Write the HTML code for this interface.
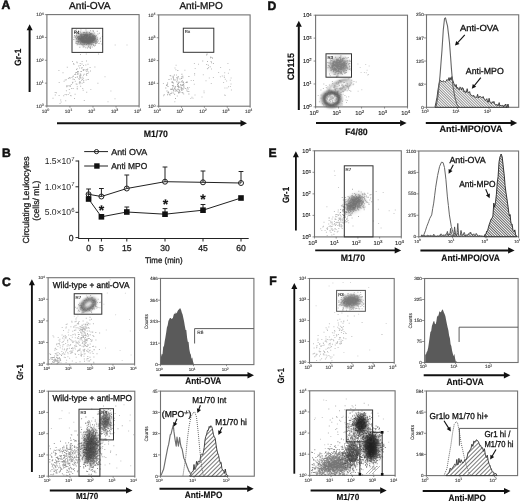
<!DOCTYPE html>
<html><head><meta charset="utf-8"><style>
html,body{margin:0;padding:0;background:#fff;}
svg{display:block;font-family:"Liberation Sans", sans-serif;filter:grayscale(1);text-rendering:geometricPrecision;}
</style></head><body>
<svg width="520" height="502" viewBox="0 0 520 502">
<defs><filter id="b5" x="-50%" y="-50%" width="200%" height="200%"><feGaussianBlur stdDeviation="0.5"/></filter><filter id="b8" x="-50%" y="-50%" width="200%" height="200%"><feGaussianBlur stdDeviation="0.8"/></filter><filter id="b10" x="-50%" y="-50%" width="200%" height="200%"><feGaussianBlur stdDeviation="1.0"/></filter><filter id="b15" x="-50%" y="-50%" width="200%" height="200%"><feGaussianBlur stdDeviation="1.5"/></filter><filter id="b18" x="-50%" y="-50%" width="200%" height="200%"><feGaussianBlur stdDeviation="1.8"/></filter><filter id="b20" x="-50%" y="-50%" width="200%" height="200%"><feGaussianBlur stdDeviation="2.0"/></filter><filter id="b25" x="-50%" y="-50%" width="200%" height="200%"><feGaussianBlur stdDeviation="2.5"/></filter><filter id="b30" x="-50%" y="-50%" width="200%" height="200%"><feGaussianBlur stdDeviation="3.0"/></filter><filter id="b40" x="-50%" y="-50%" width="200%" height="200%"><feGaussianBlur stdDeviation="4.0"/></filter><pattern id="hA" width="3" height="3" patternUnits="userSpaceOnUse" patternTransform="rotate(45)"><rect width="3" height="3" fill="#fff"/><line x1="0.5" y1="0" x2="0.5" y2="3" stroke="#555" stroke-width="0.8"/></pattern><pattern id="hB" width="1.9" height="1.9" patternUnits="userSpaceOnUse" patternTransform="rotate(-45)"><rect width="1.9" height="1.9" fill="#fff"/><line x1="0.5" y1="0" x2="0.5" y2="1.9" stroke="#666" stroke-width="0.7"/></pattern><pattern id="hC" width="1.9" height="1.9" patternUnits="userSpaceOnUse" patternTransform="rotate(-45)"><rect width="1.9" height="1.9" fill="#fff"/><line x1="0.5" y1="0" x2="0.5" y2="1.9" stroke="#444" stroke-width="0.8"/></pattern></defs>
<rect width="520" height="502" fill="#fff"/>
<text x="1.4" y="9.4" font-size="12.2" font-weight="bold" text-anchor="start" fill="#111" stroke="#111" stroke-width="0.5">A</text>
<text x="2" y="157" font-size="12.2" font-weight="bold" text-anchor="start" fill="#111" stroke="#111" stroke-width="0.5">B</text>
<text x="2" y="286.2" font-size="12.2" font-weight="bold" text-anchor="start" fill="#111" stroke="#111" stroke-width="0.5">C</text>
<text x="267.6" y="10" font-size="12.2" font-weight="bold" text-anchor="start" fill="#111" stroke="#111" stroke-width="0.5">D</text>
<text x="268.5" y="156.8" font-size="12.2" font-weight="bold" text-anchor="start" fill="#111" stroke="#111" stroke-width="0.5">E</text>
<text x="269.3" y="284.8" font-size="12.2" font-weight="bold" text-anchor="start" fill="#111" stroke="#111" stroke-width="0.5">F</text>
<text x="69" y="8.6" font-size="10" text-anchor="start" fill="#111" textLength="41.5" lengthAdjust="spacingAndGlyphs" stroke="#111" stroke-width="0.3">Anti-OVA</text>
<text x="179.4" y="8.6" font-size="10" text-anchor="start" fill="#111" textLength="43.3" lengthAdjust="spacingAndGlyphs" stroke="#111" stroke-width="0.3">Anti-MPO</text>
<rect x="46.9" y="14.6" width="92.2" height="91.4" fill="none" stroke="#727272" stroke-width="1.1"/>
<rect x="158.7" y="14.9" width="91.4" height="91.3" fill="none" stroke="#727272" stroke-width="1.1"/>
<text x="43.699999999999996" y="16.376" font-size="4.8" fill="#3a3a3a" stroke="#3a3a3a" stroke-width="0.12" text-anchor="end">10<tspan font-size="3.6" dy="-1.44">4</tspan></text>
<line x1="44.9" y1="14.6" x2="46.9" y2="14.6" stroke="#666" stroke-width="0.7"/>
<text x="43.699999999999996" y="39.226000000000006" font-size="4.8" fill="#3a3a3a" stroke="#3a3a3a" stroke-width="0.12" text-anchor="end">10<tspan font-size="3.6" dy="-1.44">3</tspan></text>
<line x1="44.9" y1="37.45" x2="46.9" y2="37.45" stroke="#666" stroke-width="0.7"/>
<text x="43.699999999999996" y="62.07600000000001" font-size="4.8" fill="#3a3a3a" stroke="#3a3a3a" stroke-width="0.12" text-anchor="end">10<tspan font-size="3.6" dy="-1.44">2</tspan></text>
<line x1="44.9" y1="60.300000000000004" x2="46.9" y2="60.300000000000004" stroke="#666" stroke-width="0.7"/>
<text x="43.699999999999996" y="84.926" font-size="4.8" fill="#3a3a3a" stroke="#3a3a3a" stroke-width="0.12" text-anchor="end">10<tspan font-size="3.6" dy="-1.44">1</tspan></text>
<line x1="44.9" y1="83.15" x2="46.9" y2="83.15" stroke="#666" stroke-width="0.7"/>
<text x="43.699999999999996" y="107.776" font-size="4.8" fill="#3a3a3a" stroke="#3a3a3a" stroke-width="0.12" text-anchor="end">10<tspan font-size="3.6" dy="-1.44">0</tspan></text>
<line x1="44.9" y1="106.0" x2="46.9" y2="106.0" stroke="#666" stroke-width="0.7"/>
<text x="155.5" y="16.676000000000002" font-size="4.8" fill="#3a3a3a" stroke="#3a3a3a" stroke-width="0.12" text-anchor="end">10<tspan font-size="3.6" dy="-1.44">4</tspan></text>
<line x1="156.7" y1="14.9" x2="158.7" y2="14.9" stroke="#666" stroke-width="0.7"/>
<text x="155.5" y="39.501000000000005" font-size="4.8" fill="#3a3a3a" stroke="#3a3a3a" stroke-width="0.12" text-anchor="end">10<tspan font-size="3.6" dy="-1.44">3</tspan></text>
<line x1="156.7" y1="37.725" x2="158.7" y2="37.725" stroke="#666" stroke-width="0.7"/>
<text x="155.5" y="62.326" font-size="4.8" fill="#3a3a3a" stroke="#3a3a3a" stroke-width="0.12" text-anchor="end">10<tspan font-size="3.6" dy="-1.44">2</tspan></text>
<line x1="156.7" y1="60.55" x2="158.7" y2="60.55" stroke="#666" stroke-width="0.7"/>
<text x="155.5" y="85.151" font-size="4.8" fill="#3a3a3a" stroke="#3a3a3a" stroke-width="0.12" text-anchor="end">10<tspan font-size="3.6" dy="-1.44">1</tspan></text>
<line x1="156.7" y1="83.375" x2="158.7" y2="83.375" stroke="#666" stroke-width="0.7"/>
<text x="155.5" y="107.976" font-size="4.8" fill="#3a3a3a" stroke="#3a3a3a" stroke-width="0.12" text-anchor="end">10<tspan font-size="3.6" dy="-1.44">0</tspan></text>
<line x1="156.7" y1="106.2" x2="158.7" y2="106.2" stroke="#666" stroke-width="0.7"/>
<text x="45.46" y="112.576" font-size="4.8" fill="#3a3a3a" stroke="#3a3a3a" stroke-width="0.12" text-anchor="middle">10<tspan font-size="3.6" dy="-1.44">0</tspan></text>
<line x1="46.9" y1="106" x2="46.9" y2="107.6" stroke="#666" stroke-width="0.7"/>
<text x="68.50999999999999" y="112.576" font-size="4.8" fill="#3a3a3a" stroke="#3a3a3a" stroke-width="0.12" text-anchor="middle">10<tspan font-size="3.6" dy="-1.44">1</tspan></text>
<line x1="69.94999999999999" y1="106" x2="69.94999999999999" y2="107.6" stroke="#666" stroke-width="0.7"/>
<text x="91.56" y="112.576" font-size="4.8" fill="#3a3a3a" stroke="#3a3a3a" stroke-width="0.12" text-anchor="middle">10<tspan font-size="3.6" dy="-1.44">2</tspan></text>
<line x1="93.0" y1="106" x2="93.0" y2="107.6" stroke="#666" stroke-width="0.7"/>
<text x="114.60999999999999" y="112.576" font-size="4.8" fill="#3a3a3a" stroke="#3a3a3a" stroke-width="0.12" text-anchor="middle">10<tspan font-size="3.6" dy="-1.44">3</tspan></text>
<line x1="116.04999999999998" y1="106" x2="116.04999999999998" y2="107.6" stroke="#666" stroke-width="0.7"/>
<text x="137.66" y="112.576" font-size="4.8" fill="#3a3a3a" stroke="#3a3a3a" stroke-width="0.12" text-anchor="middle">10<tspan font-size="3.6" dy="-1.44">4</tspan></text>
<line x1="139.1" y1="106" x2="139.1" y2="107.6" stroke="#666" stroke-width="0.7"/>
<text x="157.26" y="112.576" font-size="4.8" fill="#3a3a3a" stroke="#3a3a3a" stroke-width="0.12" text-anchor="middle">10<tspan font-size="3.6" dy="-1.44">0</tspan></text>
<line x1="158.7" y1="106.2" x2="158.7" y2="107.8" stroke="#666" stroke-width="0.7"/>
<text x="180.10999999999999" y="112.576" font-size="4.8" fill="#3a3a3a" stroke="#3a3a3a" stroke-width="0.12" text-anchor="middle">10<tspan font-size="3.6" dy="-1.44">1</tspan></text>
<line x1="181.54999999999998" y1="106.2" x2="181.54999999999998" y2="107.8" stroke="#666" stroke-width="0.7"/>
<text x="202.95999999999998" y="112.576" font-size="4.8" fill="#3a3a3a" stroke="#3a3a3a" stroke-width="0.12" text-anchor="middle">10<tspan font-size="3.6" dy="-1.44">2</tspan></text>
<line x1="204.39999999999998" y1="106.2" x2="204.39999999999998" y2="107.8" stroke="#666" stroke-width="0.7"/>
<text x="225.81" y="112.576" font-size="4.8" fill="#3a3a3a" stroke="#3a3a3a" stroke-width="0.12" text-anchor="middle">10<tspan font-size="3.6" dy="-1.44">3</tspan></text>
<line x1="227.25" y1="106.2" x2="227.25" y2="107.8" stroke="#666" stroke-width="0.7"/>
<text x="248.66" y="112.576" font-size="4.8" fill="#3a3a3a" stroke="#3a3a3a" stroke-width="0.12" text-anchor="middle">10<tspan font-size="3.6" dy="-1.44">4</tspan></text>
<line x1="250.1" y1="106.2" x2="250.1" y2="107.8" stroke="#666" stroke-width="0.7"/>
<line x1="29.6" y1="29.8" x2="29.6" y2="92" stroke="#111" stroke-width="2"/>
<path d="M26.6,30.3 L29.6,24.3 L32.6,30.3 Z" fill="#111"/>
<text x="21.3" y="57.2" font-size="9.2" font-weight="bold" text-anchor="middle" fill="#111" textLength="17" lengthAdjust="spacingAndGlyphs" transform="rotate(-90 21.3 57.2)" stroke="#111" stroke-width="0.15">Gr-1</text>
<line x1="57" y1="123.3" x2="241.0" y2="123.3" stroke="#111" stroke-width="2"/>
<path d="M240.5,120.1 L247,123.3 L240.5,126.5 Z" fill="#111"/>
<text x="143.7" y="136.7" font-size="9.4" font-weight="bold" text-anchor="start" fill="#111" textLength="24.3" lengthAdjust="spacingAndGlyphs" stroke="#111" stroke-width="0.15">M1/70</text>
<ellipse cx="86.5" cy="38.8" rx="10.5" ry="6.3" fill="#6e6e6e" fill-opacity="0.9" transform="rotate(0 86.5 38.8)" filter="url(#b18)"/>
<path d="M85.1 40.4h1.0v1.0h-1.0zM85.2 37.7h1.0v1.0h-1.0zM81.3 37.8h1.0v1.0h-1.0zM92.7 40.6h1.0v1.0h-1.0zM92.3 40.0h1.0v1.0h-1.0zM88.7 39.6h1.0v1.0h-1.0zM77.2 41.1h1.0v1.0h-1.0zM89.3 40.7h1.0v1.0h-1.0zM77.0 32.3h1.0v1.0h-1.0zM81.5 36.9h1.0v1.0h-1.0zM88.2 38.7h1.0v1.0h-1.0zM89.4 36.8h1.0v1.0h-1.0zM88.2 40.2h1.0v1.0h-1.0zM82.8 44.4h1.0v1.0h-1.0zM89.6 43.0h1.0v1.0h-1.0zM83.0 36.1h1.0v1.0h-1.0zM84.6 38.3h1.0v1.0h-1.0zM90.0 39.9h1.0v1.0h-1.0zM84.0 35.4h1.0v1.0h-1.0zM83.6 42.8h1.0v1.0h-1.0zM82.0 39.4h1.0v1.0h-1.0zM88.9 33.9h1.0v1.0h-1.0zM86.8 43.2h1.0v1.0h-1.0zM75.2 37.0h1.0v1.0h-1.0zM85.9 36.0h1.0v1.0h-1.0zM89.3 38.8h1.0v1.0h-1.0zM78.3 41.1h1.0v1.0h-1.0zM90.2 42.2h1.0v1.0h-1.0zM94.6 40.5h1.0v1.0h-1.0zM87.2 34.4h1.0v1.0h-1.0zM89.9 36.9h1.0v1.0h-1.0zM84.0 34.4h1.0v1.0h-1.0zM81.1 36.7h1.0v1.0h-1.0zM93.7 32.4h1.0v1.0h-1.0zM78.3 39.1h1.0v1.0h-1.0zM94.6 41.2h1.0v1.0h-1.0zM75.9 29.6h1.0v1.0h-1.0zM88.5 36.4h1.0v1.0h-1.0zM80.2 41.7h1.0v1.0h-1.0zM92.7 39.7h1.0v1.0h-1.0zM87.9 40.4h1.0v1.0h-1.0zM95.4 41.4h1.0v1.0h-1.0zM89.4 40.8h1.0v1.0h-1.0zM77.7 42.6h1.0v1.0h-1.0zM91.8 40.9h1.0v1.0h-1.0zM75.4 36.0h1.0v1.0h-1.0zM91.2 33.0h1.0v1.0h-1.0zM85.5 42.2h1.0v1.0h-1.0zM79.2 43.8h1.0v1.0h-1.0zM89.6 38.5h1.0v1.0h-1.0zM88.3 41.1h1.0v1.0h-1.0zM87.2 42.7h1.0v1.0h-1.0zM82.8 37.2h1.0v1.0h-1.0zM92.3 39.2h1.0v1.0h-1.0zM81.6 41.7h1.0v1.0h-1.0zM94.7 37.8h1.0v1.0h-1.0zM78.8 37.9h1.0v1.0h-1.0zM85.7 37.7h1.0v1.0h-1.0zM94.4 35.8h1.0v1.0h-1.0zM93.6 34.9h1.0v1.0h-1.0zM82.1 40.7h1.0v1.0h-1.0zM92.8 42.1h1.0v1.0h-1.0zM88.4 39.4h1.0v1.0h-1.0zM87.4 40.8h1.0v1.0h-1.0zM85.5 39.7h1.0v1.0h-1.0zM89.7 39.0h1.0v1.0h-1.0zM90.8 41.0h1.0v1.0h-1.0zM97.8 40.6h1.0v1.0h-1.0zM84.1 37.4h1.0v1.0h-1.0zM86.4 41.9h1.0v1.0h-1.0zM84.6 40.0h1.0v1.0h-1.0zM96.8 30.7h1.0v1.0h-1.0zM80.2 39.2h1.0v1.0h-1.0zM88.7 39.7h1.0v1.0h-1.0zM84.1 40.9h1.0v1.0h-1.0zM88.1 37.1h1.0v1.0h-1.0zM100.1 40.8h1.0v1.0h-1.0zM83.4 38.3h1.0v1.0h-1.0zM85.2 38.5h1.0v1.0h-1.0zM92.1 35.2h1.0v1.0h-1.0zM86.1 42.0h1.0v1.0h-1.0zM91.3 44.1h1.0v1.0h-1.0zM77.0 37.0h1.0v1.0h-1.0zM84.6 40.8h1.0v1.0h-1.0zM92.6 30.1h1.0v1.0h-1.0zM92.6 34.3h1.0v1.0h-1.0zM90.3 34.0h1.0v1.0h-1.0zM87.5 42.9h1.0v1.0h-1.0zM85.7 39.4h1.0v1.0h-1.0zM91.0 39.5h1.0v1.0h-1.0zM86.0 44.0h1.0v1.0h-1.0zM92.4 38.2h1.0v1.0h-1.0zM101.9 35.9h1.0v1.0h-1.0zM91.6 38.2h1.0v1.0h-1.0zM87.2 41.2h1.0v1.0h-1.0zM87.7 41.0h1.0v1.0h-1.0zM77.9 33.2h1.0v1.0h-1.0zM89.9 35.8h1.0v1.0h-1.0zM80.8 33.5h1.0v1.0h-1.0zM93.6 41.8h1.0v1.0h-1.0zM94.7 36.1h1.0v1.0h-1.0zM86.5 34.9h1.0v1.0h-1.0zM90.8 44.4h1.0v1.0h-1.0zM81.5 43.8h1.0v1.0h-1.0zM92.0 38.5h1.0v1.0h-1.0zM75.5 42.9h1.0v1.0h-1.0zM86.0 36.7h1.0v1.0h-1.0zM88.7 40.3h1.0v1.0h-1.0zM94.9 35.9h1.0v1.0h-1.0zM92.9 44.2h1.0v1.0h-1.0zM94.6 38.7h1.0v1.0h-1.0zM82.3 42.0h1.0v1.0h-1.0zM87.1 39.3h1.0v1.0h-1.0zM94.5 38.4h1.0v1.0h-1.0zM73.6 36.7h1.0v1.0h-1.0zM76.1 40.9h1.0v1.0h-1.0zM88.3 36.8h1.0v1.0h-1.0zM86.4 41.6h1.0v1.0h-1.0zM86.9 43.3h1.0v1.0h-1.0zM86.2 42.3h1.0v1.0h-1.0zM94.9 44.8h1.0v1.0h-1.0zM82.7 41.5h1.0v1.0h-1.0zM76.0 34.5h1.0v1.0h-1.0zM75.5 41.7h1.0v1.0h-1.0zM79.6 38.3h1.0v1.0h-1.0zM85.4 38.6h1.0v1.0h-1.0zM83.2 39.4h1.0v1.0h-1.0zM96.5 39.6h1.0v1.0h-1.0zM89.5 42.4h1.0v1.0h-1.0zM85.4 34.5h1.0v1.0h-1.0zM83.4 42.2h1.0v1.0h-1.0zM77.3 36.2h1.0v1.0h-1.0zM92.1 41.8h1.0v1.0h-1.0zM86.5 41.5h1.0v1.0h-1.0zM87.4 34.9h1.0v1.0h-1.0zM77.7 36.1h1.0v1.0h-1.0zM91.7 37.2h1.0v1.0h-1.0zM81.4 35.9h1.0v1.0h-1.0zM77.9 37.9h1.0v1.0h-1.0zM79.9 39.6h1.0v1.0h-1.0zM73.3 39.1h1.0v1.0h-1.0zM82.9 32.0h1.0v1.0h-1.0zM90.6 38.1h1.0v1.0h-1.0zM74.0 35.1h1.0v1.0h-1.0zM88.1 37.3h1.0v1.0h-1.0zM90.9 41.6h1.0v1.0h-1.0zM90.2 40.1h1.0v1.0h-1.0zM94.0 41.5h1.0v1.0h-1.0zM89.0 31.9h1.0v1.0h-1.0zM91.5 43.5h1.0v1.0h-1.0zM84.8 37.1h1.0v1.0h-1.0zM97.4 33.5h1.0v1.0h-1.0zM89.1 47.2h1.0v1.0h-1.0zM81.3 40.8h1.0v1.0h-1.0zM97.1 39.0h1.0v1.0h-1.0zM89.6 42.0h1.0v1.0h-1.0zM81.4 38.2h1.0v1.0h-1.0zM88.1 41.7h1.0v1.0h-1.0zM86.3 38.1h1.0v1.0h-1.0zM80.8 37.2h1.0v1.0h-1.0zM91.5 39.4h1.0v1.0h-1.0zM81.7 35.7h1.0v1.0h-1.0zM101.4 43.6h1.0v1.0h-1.0zM90.1 30.2h1.0v1.0h-1.0zM90.0 40.6h1.0v1.0h-1.0zM95.9 40.8h1.0v1.0h-1.0zM86.1 40.5h1.0v1.0h-1.0zM75.6 41.6h1.0v1.0h-1.0zM88.3 36.5h1.0v1.0h-1.0zM93.9 45.4h1.0v1.0h-1.0zM78.6 36.1h1.0v1.0h-1.0zM88.1 39.5h1.0v1.0h-1.0zM84.3 35.4h1.0v1.0h-1.0zM98.4 43.0h1.0v1.0h-1.0zM79.8 33.8h1.0v1.0h-1.0zM96.0 42.7h1.0v1.0h-1.0zM96.7 42.2h1.0v1.0h-1.0zM81.6 39.4h1.0v1.0h-1.0zM74.4 35.5h1.0v1.0h-1.0zM86.2 40.5h1.0v1.0h-1.0zM82.4 38.1h1.0v1.0h-1.0zM89.1 40.2h1.0v1.0h-1.0zM90.1 39.7h1.0v1.0h-1.0zM84.7 41.4h1.0v1.0h-1.0zM86.8 36.0h1.0v1.0h-1.0zM83.0 38.6h1.0v1.0h-1.0zM85.9 39.3h1.0v1.0h-1.0zM86.5 39.4h1.0v1.0h-1.0zM85.7 34.5h1.0v1.0h-1.0zM88.9 42.5h1.0v1.0h-1.0zM88.9 38.3h1.0v1.0h-1.0zM89.0 35.7h1.0v1.0h-1.0zM75.9 38.4h1.0v1.0h-1.0zM81.3 41.0h1.0v1.0h-1.0zM80.4 29.5h1.0v1.0h-1.0zM80.7 43.8h1.0v1.0h-1.0zM84.4 34.0h1.0v1.0h-1.0zM82.2 40.3h1.0v1.0h-1.0zM89.3 39.6h1.0v1.0h-1.0zM94.8 41.7h1.0v1.0h-1.0zM86.4 40.8h1.0v1.0h-1.0zM95.8 42.6h1.0v1.0h-1.0zM92.2 35.5h1.0v1.0h-1.0zM85.7 41.2h1.0v1.0h-1.0zM84.8 42.3h1.0v1.0h-1.0zM89.8 42.1h1.0v1.0h-1.0zM85.3 47.3h1.0v1.0h-1.0zM93.4 38.5h1.0v1.0h-1.0zM87.0 47.6h1.0v1.0h-1.0zM84.6 41.6h1.0v1.0h-1.0zM92.0 39.2h1.0v1.0h-1.0zM80.0 39.0h1.0v1.0h-1.0zM88.5 42.7h1.0v1.0h-1.0zM90.9 39.1h1.0v1.0h-1.0zM91.3 40.9h1.0v1.0h-1.0zM87.7 39.1h1.0v1.0h-1.0zM85.1 41.0h1.0v1.0h-1.0zM80.6 36.3h1.0v1.0h-1.0zM86.5 33.8h1.0v1.0h-1.0zM84.1 31.9h1.0v1.0h-1.0zM82.7 40.5h1.0v1.0h-1.0zM89.7 38.8h1.0v1.0h-1.0zM85.2 33.9h1.0v1.0h-1.0zM96.7 41.2h1.0v1.0h-1.0zM92.6 36.2h1.0v1.0h-1.0zM85.5 32.6h1.0v1.0h-1.0zM90.9 42.2h1.0v1.0h-1.0zM75.9 38.0h1.0v1.0h-1.0zM90.0 33.1h1.0v1.0h-1.0zM76.3 34.6h1.0v1.0h-1.0zM83.0 33.8h1.0v1.0h-1.0zM86.7 39.7h1.0v1.0h-1.0zM90.1 41.4h1.0v1.0h-1.0zM94.9 43.2h1.0v1.0h-1.0zM79.2 36.6h1.0v1.0h-1.0zM80.6 34.8h1.0v1.0h-1.0zM86.0 38.8h1.0v1.0h-1.0zM89.2 33.6h1.0v1.0h-1.0zM79.6 38.3h1.0v1.0h-1.0zM85.4 37.7h1.0v1.0h-1.0zM86.1 36.2h1.0v1.0h-1.0zM90.4 40.2h1.0v1.0h-1.0zM86.0 36.5h1.0v1.0h-1.0zM85.5 29.5h1.0v1.0h-1.0zM81.0 38.6h1.0v1.0h-1.0zM78.1 39.0h1.0v1.0h-1.0zM87.3 34.2h1.0v1.0h-1.0zM85.1 37.7h1.0v1.0h-1.0zM89.1 41.0h1.0v1.0h-1.0zM86.3 35.9h1.0v1.0h-1.0zM85.7 38.5h1.0v1.0h-1.0zM90.6 40.0h1.0v1.0h-1.0zM82.5 34.0h1.0v1.0h-1.0zM84.4 36.2h1.0v1.0h-1.0zM80.3 38.0h1.0v1.0h-1.0zM83.8 39.0h1.0v1.0h-1.0zM89.4 37.6h1.0v1.0h-1.0zM99.5 38.5h1.0v1.0h-1.0zM92.7 39.6h1.0v1.0h-1.0zM92.8 31.1h1.0v1.0h-1.0zM82.3 39.4h1.0v1.0h-1.0zM89.9 46.9h1.0v1.0h-1.0zM88.3 43.2h1.0v1.0h-1.0zM90.8 42.3h1.0v1.0h-1.0zM89.4 38.4h1.0v1.0h-1.0zM89.4 35.3h1.0v1.0h-1.0zM93.1 35.8h1.0v1.0h-1.0zM87.9 46.1h1.0v1.0h-1.0zM85.2 38.8h1.0v1.0h-1.0zM93.0 39.3h1.0v1.0h-1.0zM82.0 39.4h1.0v1.0h-1.0zM89.8 41.4h1.0v1.0h-1.0zM82.2 44.5h1.0v1.0h-1.0zM95.8 39.4h1.0v1.0h-1.0zM88.0 37.4h1.0v1.0h-1.0zM94.4 36.9h1.0v1.0h-1.0zM90.3 37.4h1.0v1.0h-1.0zM82.6 41.0h1.0v1.0h-1.0zM94.0 39.2h1.0v1.0h-1.0zM82.7 41.3h1.0v1.0h-1.0zM86.2 39.8h1.0v1.0h-1.0zM95.0 43.1h1.0v1.0h-1.0zM83.6 46.3h1.0v1.0h-1.0zM86.5 41.5h1.0v1.0h-1.0zM82.9 38.4h1.0v1.0h-1.0zM76.7 44.2h1.0v1.0h-1.0zM94.1 35.2h1.0v1.0h-1.0zM78.1 32.8h1.0v1.0h-1.0zM93.1 37.6h1.0v1.0h-1.0zM86.2 37.7h1.0v1.0h-1.0zM85.8 35.1h1.0v1.0h-1.0zM86.6 33.9h1.0v1.0h-1.0zM86.1 39.8h1.0v1.0h-1.0zM89.1 38.2h1.0v1.0h-1.0zM81.4 39.0h1.0v1.0h-1.0zM83.8 43.9h1.0v1.0h-1.0zM90.8 38.7h1.0v1.0h-1.0zM83.9 36.3h1.0v1.0h-1.0zM81.3 37.3h1.0v1.0h-1.0zM88.2 40.6h1.0v1.0h-1.0zM89.7 46.1h1.0v1.0h-1.0zM82.6 38.6h1.0v1.0h-1.0zM83.6 39.2h1.0v1.0h-1.0zM87.4 40.2h1.0v1.0h-1.0zM85.2 40.0h1.0v1.0h-1.0zM86.8 41.4h1.0v1.0h-1.0zM75.9 35.2h1.0v1.0h-1.0zM86.5 35.3h1.0v1.0h-1.0zM80.6 40.6h1.0v1.0h-1.0zM82.9 40.7h1.0v1.0h-1.0zM90.7 40.1h1.0v1.0h-1.0zM89.3 38.6h1.0v1.0h-1.0zM78.6 38.2h1.0v1.0h-1.0zM89.0 37.2h1.0v1.0h-1.0zM85.9 41.3h1.0v1.0h-1.0zM81.6 40.7h1.0v1.0h-1.0zM96.9 37.6h1.0v1.0h-1.0zM87.3 38.3h1.0v1.0h-1.0zM95.1 40.4h1.0v1.0h-1.0zM91.5 36.8h1.0v1.0h-1.0zM86.4 38.8h1.0v1.0h-1.0zM76.6 43.1h1.0v1.0h-1.0zM91.5 33.2h1.0v1.0h-1.0zM90.7 38.6h1.0v1.0h-1.0zM89.0 40.2h1.0v1.0h-1.0zM78.1 37.6h1.0v1.0h-1.0zM94.9 37.4h1.0v1.0h-1.0zM80.8 33.9h1.0v1.0h-1.0zM79.7 39.5h1.0v1.0h-1.0zM96.0 40.8h1.0v1.0h-1.0zM87.9 46.4h1.0v1.0h-1.0zM83.6 36.3h1.0v1.0h-1.0zM89.5 40.8h1.0v1.0h-1.0zM80.8 34.5h1.0v1.0h-1.0zM88.1 39.7h1.0v1.0h-1.0zM79.2 37.7h1.0v1.0h-1.0zM83.5 40.2h1.0v1.0h-1.0zM85.8 38.5h1.0v1.0h-1.0zM84.5 42.2h1.0v1.0h-1.0zM94.3 38.0h1.0v1.0h-1.0zM91.2 36.5h1.0v1.0h-1.0zM86.9 41.4h1.0v1.0h-1.0zM95.0 38.0h1.0v1.0h-1.0zM86.1 39.4h1.0v1.0h-1.0zM78.1 38.3h1.0v1.0h-1.0zM82.7 39.8h1.0v1.0h-1.0zM80.2 31.7h1.0v1.0h-1.0zM86.7 39.7h1.0v1.0h-1.0zM83.4 41.6h1.0v1.0h-1.0zM85.0 36.7h1.0v1.0h-1.0zM89.2 33.7h1.0v1.0h-1.0zM82.7 38.5h1.0v1.0h-1.0zM91.3 38.5h1.0v1.0h-1.0zM88.2 36.7h1.0v1.0h-1.0zM88.2 44.5h1.0v1.0h-1.0zM82.7 46.6h1.0v1.0h-1.0zM82.9 38.6h1.0v1.0h-1.0zM87.5 42.3h1.0v1.0h-1.0zM79.6 31.3h1.0v1.0h-1.0zM89.9 41.7h1.0v1.0h-1.0zM90.0 47.9h1.0v1.0h-1.0zM87.6 39.7h1.0v1.0h-1.0zM91.7 40.4h1.0v1.0h-1.0zM95.8 35.2h1.0v1.0h-1.0zM91.0 37.8h1.0v1.0h-1.0zM91.7 46.4h1.0v1.0h-1.0zM86.5 37.9h1.0v1.0h-1.0zM83.7 35.8h1.0v1.0h-1.0zM83.0 40.7h1.0v1.0h-1.0zM86.7 39.0h1.0v1.0h-1.0zM85.5 41.8h1.0v1.0h-1.0zM89.3 38.5h1.0v1.0h-1.0zM90.2 38.5h1.0v1.0h-1.0zM80.0 43.3h1.0v1.0h-1.0zM89.1 35.7h1.0v1.0h-1.0zM92.5 40.3h1.0v1.0h-1.0zM77.7 43.7h1.0v1.0h-1.0zM88.4 41.9h1.0v1.0h-1.0zM87.6 38.4h1.0v1.0h-1.0zM77.8 41.6h1.0v1.0h-1.0zM86.7 37.8h1.0v1.0h-1.0zM88.5 39.2h1.0v1.0h-1.0zM90.3 37.8h1.0v1.0h-1.0zM86.3 31.6h1.0v1.0h-1.0zM84.1 40.9h1.0v1.0h-1.0zM94.0 38.0h1.0v1.0h-1.0zM85.8 44.1h1.0v1.0h-1.0zM84.7 41.2h1.0v1.0h-1.0zM95.9 39.5h1.0v1.0h-1.0zM93.4 36.8h1.0v1.0h-1.0zM87.7 38.6h1.0v1.0h-1.0zM87.1 42.7h1.0v1.0h-1.0zM99.9 37.4h1.0v1.0h-1.0zM83.3 40.3h1.0v1.0h-1.0zM80.6 40.1h1.0v1.0h-1.0zM89.7 38.1h1.0v1.0h-1.0zM89.5 33.7h1.0v1.0h-1.0zM90.8 33.8h1.0v1.0h-1.0zM82.6 36.7h1.0v1.0h-1.0zM84.3 41.6h1.0v1.0h-1.0zM87.0 37.5h1.0v1.0h-1.0zM89.5 44.3h1.0v1.0h-1.0zM86.5 40.0h1.0v1.0h-1.0zM93.4 40.1h1.0v1.0h-1.0zM79.3 46.8h1.0v1.0h-1.0zM98.9 32.8h1.0v1.0h-1.0zM86.3 40.2h1.0v1.0h-1.0zM91.9 41.4h1.0v1.0h-1.0zM85.0 35.1h1.0v1.0h-1.0zM87.1 42.3h1.0v1.0h-1.0zM80.4 35.0h1.0v1.0h-1.0zM86.4 32.2h1.0v1.0h-1.0zM85.0 37.2h1.0v1.0h-1.0zM89.0 36.6h1.0v1.0h-1.0zM81.6 37.2h1.0v1.0h-1.0zM86.2 36.5h1.0v1.0h-1.0zM86.6 41.3h1.0v1.0h-1.0zM93.1 45.0h1.0v1.0h-1.0zM82.1 37.1h1.0v1.0h-1.0zM82.4 38.4h1.0v1.0h-1.0z" fill="#555" fill-opacity="0.5"/>
<path d="M79.7 62.9h1.0v1.0h-1.0zM79.2 76.7h1.0v1.0h-1.0zM58.6 95.0h1.0v1.0h-1.0zM85.8 53.4h1.0v1.0h-1.0zM82.3 76.8h1.0v1.0h-1.0zM79.3 81.3h1.0v1.0h-1.0zM86.7 69.2h1.0v1.0h-1.0zM82.9 70.1h1.0v1.0h-1.0zM81.6 67.0h1.0v1.0h-1.0zM74.0 98.1h1.0v1.0h-1.0zM79.0 75.5h1.0v1.0h-1.0zM64.7 79.6h1.0v1.0h-1.0zM76.7 88.1h1.0v1.0h-1.0zM78.8 82.4h1.0v1.0h-1.0zM74.6 93.8h1.0v1.0h-1.0zM71.5 77.1h1.0v1.0h-1.0zM83.0 74.8h1.0v1.0h-1.0zM72.5 76.1h1.0v1.0h-1.0zM72.7 87.9h1.0v1.0h-1.0zM78.2 65.5h1.0v1.0h-1.0zM78.8 79.0h1.0v1.0h-1.0zM66.0 94.3h1.0v1.0h-1.0zM72.5 78.5h1.0v1.0h-1.0zM82.2 88.0h1.0v1.0h-1.0zM68.8 88.9h1.0v1.0h-1.0zM70.6 95.2h1.0v1.0h-1.0zM69.2 92.4h1.0v1.0h-1.0zM71.1 87.9h1.0v1.0h-1.0zM74.2 73.9h1.0v1.0h-1.0zM94.4 66.6h1.0v1.0h-1.0zM60.2 99.4h1.0v1.0h-1.0zM59.5 102.9h1.0v1.0h-1.0zM69.8 85.3h1.0v1.0h-1.0zM86.3 72.9h1.0v1.0h-1.0zM62.5 72.2h1.0v1.0h-1.0zM85.6 79.6h1.0v1.0h-1.0zM67.7 94.0h1.0v1.0h-1.0zM79.5 83.2h1.0v1.0h-1.0zM54.7 91.9h1.0v1.0h-1.0zM83.1 81.4h1.0v1.0h-1.0zM76.5 83.8h1.0v1.0h-1.0zM98.0 53.6h1.0v1.0h-1.0zM72.0 82.5h1.0v1.0h-1.0zM83.0 69.7h1.0v1.0h-1.0zM85.3 64.5h1.0v1.0h-1.0zM77.4 73.0h1.0v1.0h-1.0zM76.4 72.0h1.0v1.0h-1.0zM60.6 101.5h1.0v1.0h-1.0zM77.7 72.4h1.0v1.0h-1.0zM76.8 88.6h1.0v1.0h-1.0zM66.2 85.3h1.0v1.0h-1.0zM79.9 81.7h1.0v1.0h-1.0zM72.0 61.1h1.0v1.0h-1.0zM86.2 75.1h1.0v1.0h-1.0zM75.1 77.1h1.0v1.0h-1.0zM77.4 74.0h1.0v1.0h-1.0zM65.8 79.3h1.0v1.0h-1.0zM69.6 77.8h1.0v1.0h-1.0zM64.6 94.0h1.0v1.0h-1.0zM63.2 95.3h1.0v1.0h-1.0zM65.9 90.2h1.0v1.0h-1.0zM87.4 73.0h1.0v1.0h-1.0zM68.4 85.3h1.0v1.0h-1.0zM76.3 61.6h1.0v1.0h-1.0zM69.5 85.6h1.0v1.0h-1.0zM70.8 83.9h1.0v1.0h-1.0zM81.6 82.8h1.0v1.0h-1.0zM83.2 79.9h1.0v1.0h-1.0zM72.4 81.7h1.0v1.0h-1.0zM72.6 78.7h1.0v1.0h-1.0zM73.4 63.9h1.0v1.0h-1.0zM72.0 82.0h1.0v1.0h-1.0zM66.2 86.2h1.0v1.0h-1.0zM79.6 74.9h1.0v1.0h-1.0zM73.1 63.1h1.0v1.0h-1.0zM83.8 100.1h1.0v1.0h-1.0zM52.5 97.8h1.0v1.0h-1.0zM79.7 73.5h1.0v1.0h-1.0zM80.0 53.9h1.0v1.0h-1.0zM82.7 78.1h1.0v1.0h-1.0zM75.2 74.0h1.0v1.0h-1.0zM80.7 70.9h1.0v1.0h-1.0zM77.0 73.4h1.0v1.0h-1.0zM54.8 94.5h1.0v1.0h-1.0zM76.8 86.2h1.0v1.0h-1.0zM67.1 85.5h1.0v1.0h-1.0zM80.6 77.4h1.0v1.0h-1.0zM86.2 91.8h1.0v1.0h-1.0zM66.8 66.7h1.0v1.0h-1.0zM82.7 89.7h1.0v1.0h-1.0zM83.3 82.1h1.0v1.0h-1.0zM69.4 76.9h1.0v1.0h-1.0zM83.0 65.0h1.0v1.0h-1.0zM58.7 82.0h1.0v1.0h-1.0zM97.4 82.8h1.0v1.0h-1.0zM68.8 77.2h1.0v1.0h-1.0zM77.1 71.0h1.0v1.0h-1.0zM86.8 70.6h1.0v1.0h-1.0zM65.2 100.3h1.0v1.0h-1.0zM69.8 86.1h1.0v1.0h-1.0zM74.9 76.9h1.0v1.0h-1.0zM77.9 70.9h1.0v1.0h-1.0zM58.4 70.0h1.0v1.0h-1.0zM63.6 80.8h1.0v1.0h-1.0zM74.8 80.7h1.0v1.0h-1.0zM80.0 77.5h1.0v1.0h-1.0zM67.9 78.1h1.0v1.0h-1.0zM55.9 92.3h1.0v1.0h-1.0zM79.4 82.1h1.0v1.0h-1.0zM73.9 79.1h1.0v1.0h-1.0z" fill="#aaa" fill-opacity="0.8"/>
<path d="M84.7 69.5h1.0v1.0h-1.0zM83.7 73.7h1.0v1.0h-1.0zM81.1 79.8h1.0v1.0h-1.0zM77.1 71.3h1.0v1.0h-1.0zM76.0 69.1h1.0v1.0h-1.0zM87.8 78.9h1.0v1.0h-1.0zM80.1 75.6h1.0v1.0h-1.0zM85.9 73.9h1.0v1.0h-1.0zM86.0 60.5h1.0v1.0h-1.0zM76.8 76.7h1.0v1.0h-1.0zM87.2 68.6h1.0v1.0h-1.0zM75.7 72.1h1.0v1.0h-1.0zM76.7 68.3h1.0v1.0h-1.0zM87.5 63.8h1.0v1.0h-1.0zM80.1 85.8h1.0v1.0h-1.0zM85.9 70.8h1.0v1.0h-1.0zM76.9 76.3h1.0v1.0h-1.0zM88.1 71.5h1.0v1.0h-1.0zM86.3 69.1h1.0v1.0h-1.0zM82.6 69.3h1.0v1.0h-1.0zM82.1 79.1h1.0v1.0h-1.0zM72.8 75.6h1.0v1.0h-1.0zM81.2 67.7h1.0v1.0h-1.0zM78.5 77.9h1.0v1.0h-1.0zM90.0 70.4h1.0v1.0h-1.0zM81.6 61.1h1.0v1.0h-1.0zM89.6 67.1h1.0v1.0h-1.0zM79.8 64.9h1.0v1.0h-1.0zM79.7 65.1h1.0v1.0h-1.0zM80.4 74.8h1.0v1.0h-1.0zM80.2 73.7h1.0v1.0h-1.0zM75.7 83.6h1.0v1.0h-1.0zM76.7 62.2h1.0v1.0h-1.0zM79.1 67.6h1.0v1.0h-1.0zM75.0 72.6h1.0v1.0h-1.0zM81.5 63.6h1.0v1.0h-1.0zM79.3 81.5h1.0v1.0h-1.0zM83.4 69.1h1.0v1.0h-1.0zM80.6 70.9h1.0v1.0h-1.0zM79.8 76.8h1.0v1.0h-1.0z" fill="#999" fill-opacity="0.7"/>
<path d="M114.5 98.2h1.0v1.0h-1.0zM114.7 44.4h1.0v1.0h-1.0zM126.5 44.6h1.0v1.0h-1.0zM70.0 95.0h1.0v1.0h-1.0zM104.5 76.3h1.0v1.0h-1.0zM107.5 101.2h1.0v1.0h-1.0zM90.3 89.1h1.0v1.0h-1.0zM110.4 90.6h1.0v1.0h-1.0zM87.5 79.0h1.0v1.0h-1.0zM99.2 42.8h1.0v1.0h-1.0z" fill="#bbb" fill-opacity="0.8"/>
<rect x="72" y="28.3" width="30.7" height="24.1" fill="none" stroke="#333" stroke-width="1"/>
<text x="73.8" y="33.6" font-size="4.6" text-anchor="start" fill="#222" stroke="#222" stroke-width="0.12">R4</text>
<path d="M178.0 91.9h1.0v1.0h-1.0zM187.6 88.4h1.0v1.0h-1.0zM176.9 85.8h1.0v1.0h-1.0zM186.8 90.7h1.0v1.0h-1.0zM174.1 87.8h1.0v1.0h-1.0zM177.7 85.0h1.0v1.0h-1.0zM173.0 78.4h1.0v1.0h-1.0zM172.8 77.3h1.0v1.0h-1.0zM183.3 86.5h1.0v1.0h-1.0zM168.8 93.8h1.0v1.0h-1.0zM181.4 73.7h1.0v1.0h-1.0zM187.0 87.3h1.0v1.0h-1.0zM188.4 76.1h1.0v1.0h-1.0zM179.2 86.7h1.0v1.0h-1.0zM177.2 85.7h1.0v1.0h-1.0zM182.3 75.8h1.0v1.0h-1.0zM168.5 78.9h1.0v1.0h-1.0zM172.7 82.4h1.0v1.0h-1.0zM178.2 86.0h1.0v1.0h-1.0zM176.2 81.3h1.0v1.0h-1.0zM173.3 90.6h1.0v1.0h-1.0zM180.6 84.7h1.0v1.0h-1.0zM174.1 93.7h1.0v1.0h-1.0zM172.4 89.1h1.0v1.0h-1.0zM182.9 82.3h1.0v1.0h-1.0zM181.0 78.1h1.0v1.0h-1.0zM182.1 85.0h1.0v1.0h-1.0zM166.5 90.4h1.0v1.0h-1.0zM170.6 92.9h1.0v1.0h-1.0zM171.9 84.9h1.0v1.0h-1.0zM177.7 82.9h1.0v1.0h-1.0zM177.6 81.7h1.0v1.0h-1.0zM180.0 84.3h1.0v1.0h-1.0zM177.3 69.9h1.0v1.0h-1.0zM183.0 83.9h1.0v1.0h-1.0zM165.3 87.5h1.0v1.0h-1.0zM178.8 90.3h1.0v1.0h-1.0zM169.5 94.5h1.0v1.0h-1.0zM175.0 98.1h1.0v1.0h-1.0zM175.1 88.8h1.0v1.0h-1.0zM173.8 79.4h1.0v1.0h-1.0zM182.6 88.7h1.0v1.0h-1.0zM185.2 87.9h1.0v1.0h-1.0zM172.6 76.7h1.0v1.0h-1.0zM172.1 82.1h1.0v1.0h-1.0zM171.1 89.0h1.0v1.0h-1.0zM178.0 83.2h1.0v1.0h-1.0zM177.0 84.0h1.0v1.0h-1.0zM177.3 88.8h1.0v1.0h-1.0zM181.8 80.2h1.0v1.0h-1.0zM167.0 94.3h1.0v1.0h-1.0zM176.7 90.8h1.0v1.0h-1.0zM166.1 85.0h1.0v1.0h-1.0zM176.2 77.2h1.0v1.0h-1.0zM172.9 89.5h1.0v1.0h-1.0zM182.5 92.4h1.0v1.0h-1.0zM170.8 78.4h1.0v1.0h-1.0zM179.1 89.5h1.0v1.0h-1.0zM177.2 77.8h1.0v1.0h-1.0zM180.7 88.4h1.0v1.0h-1.0zM179.3 81.8h1.0v1.0h-1.0zM177.8 88.9h1.0v1.0h-1.0zM172.6 75.7h1.0v1.0h-1.0zM178.0 87.2h1.0v1.0h-1.0zM176.1 89.8h1.0v1.0h-1.0zM172.5 85.2h1.0v1.0h-1.0zM174.2 88.4h1.0v1.0h-1.0zM185.6 81.9h1.0v1.0h-1.0zM188.3 91.0h1.0v1.0h-1.0zM180.7 87.3h1.0v1.0h-1.0zM186.6 82.1h1.0v1.0h-1.0zM175.3 79.4h1.0v1.0h-1.0zM178.8 91.7h1.0v1.0h-1.0zM179.2 86.7h1.0v1.0h-1.0zM174.8 86.1h1.0v1.0h-1.0zM167.4 92.2h1.0v1.0h-1.0zM173.5 79.5h1.0v1.0h-1.0zM171.5 81.4h1.0v1.0h-1.0zM181.1 89.8h1.0v1.0h-1.0zM167.9 91.5h1.0v1.0h-1.0zM181.3 80.9h1.0v1.0h-1.0zM167.1 82.6h1.0v1.0h-1.0zM172.2 87.5h1.0v1.0h-1.0zM173.9 74.5h1.0v1.0h-1.0zM177.4 76.5h1.0v1.0h-1.0zM181.4 77.5h1.0v1.0h-1.0zM171.8 81.2h1.0v1.0h-1.0zM172.7 92.6h1.0v1.0h-1.0zM181.1 87.3h1.0v1.0h-1.0zM177.9 76.3h1.0v1.0h-1.0zM172.9 82.6h1.0v1.0h-1.0zM170.1 88.8h1.0v1.0h-1.0zM171.6 82.0h1.0v1.0h-1.0zM169.7 75.1h1.0v1.0h-1.0zM179.6 91.5h1.0v1.0h-1.0zM177.0 79.5h1.0v1.0h-1.0zM183.3 85.3h1.0v1.0h-1.0zM181.6 91.9h1.0v1.0h-1.0zM182.8 81.4h1.0v1.0h-1.0zM182.3 88.0h1.0v1.0h-1.0zM166.8 84.5h1.0v1.0h-1.0zM167.5 86.0h1.0v1.0h-1.0zM179.5 78.6h1.0v1.0h-1.0zM163.7 94.3h1.0v1.0h-1.0zM178.3 92.5h1.0v1.0h-1.0zM168.1 92.2h1.0v1.0h-1.0zM188.4 93.5h1.0v1.0h-1.0zM174.7 86.7h1.0v1.0h-1.0zM175.1 90.5h1.0v1.0h-1.0zM182.2 84.3h1.0v1.0h-1.0z" fill="#888" fill-opacity="0.75"/>
<path d="M170.3 93.1h1.0v1.0h-1.0zM181.9 89.4h1.0v1.0h-1.0zM191.4 96.7h1.0v1.0h-1.0zM202.8 74.3h1.0v1.0h-1.0zM192.5 97.8h1.0v1.0h-1.0zM181.0 87.7h1.0v1.0h-1.0zM203.5 90.4h1.0v1.0h-1.0zM194.7 67.9h1.0v1.0h-1.0zM171.6 88.1h1.0v1.0h-1.0zM176.8 95.4h1.0v1.0h-1.0zM198.0 63.7h1.0v1.0h-1.0zM177.4 86.0h1.0v1.0h-1.0zM181.6 82.0h1.0v1.0h-1.0zM194.1 72.9h1.0v1.0h-1.0zM194.1 74.5h1.0v1.0h-1.0zM180.9 88.8h1.0v1.0h-1.0zM180.5 86.5h1.0v1.0h-1.0zM208.8 77.5h1.0v1.0h-1.0zM186.1 89.5h1.0v1.0h-1.0zM183.2 93.4h1.0v1.0h-1.0zM171.3 91.7h1.0v1.0h-1.0zM181.3 75.9h1.0v1.0h-1.0zM211.0 68.6h1.0v1.0h-1.0zM210.8 83.0h1.0v1.0h-1.0zM206.9 68.3h1.0v1.0h-1.0zM203.6 92.3h1.0v1.0h-1.0zM186.5 81.1h1.0v1.0h-1.0zM219.9 76.3h1.0v1.0h-1.0zM182.5 77.3h1.0v1.0h-1.0zM193.8 83.8h1.0v1.0h-1.0zM190.3 97.9h1.0v1.0h-1.0zM183.7 87.5h1.0v1.0h-1.0zM207.0 68.0h1.0v1.0h-1.0zM201.5 96.4h1.0v1.0h-1.0zM170.4 75.6h1.0v1.0h-1.0zM174.5 67.5h1.0v1.0h-1.0zM193.9 62.9h1.0v1.0h-1.0zM194.5 94.4h1.0v1.0h-1.0zM167.0 83.8h1.0v1.0h-1.0zM163.1 95.2h1.0v1.0h-1.0zM178.4 81.7h1.0v1.0h-1.0zM188.7 87.0h1.0v1.0h-1.0zM183.5 83.2h1.0v1.0h-1.0zM180.9 84.7h1.0v1.0h-1.0zM172.8 86.1h1.0v1.0h-1.0zM162.9 83.1h1.0v1.0h-1.0zM212.9 77.0h1.0v1.0h-1.0zM171.6 88.2h1.0v1.0h-1.0zM175.4 69.2h1.0v1.0h-1.0zM178.4 91.2h1.0v1.0h-1.0zM193.0 79.9h1.0v1.0h-1.0zM176.0 74.5h1.0v1.0h-1.0zM205.5 80.3h1.0v1.0h-1.0zM175.6 64.7h1.0v1.0h-1.0zM173.1 84.7h1.0v1.0h-1.0zM190.7 79.9h1.0v1.0h-1.0zM184.4 69.7h1.0v1.0h-1.0zM174.3 101.3h1.0v1.0h-1.0zM178.2 92.3h1.0v1.0h-1.0zM166.0 84.5h1.0v1.0h-1.0z" fill="#aaa" fill-opacity="0.7"/>
<path d="M209.7 66.2h1.0v1.0h-1.0zM206.2 64.0h1.0v1.0h-1.0zM210.0 57.3h1.0v1.0h-1.0zM210.2 56.5h1.0v1.0h-1.0zM207.0 60.9h1.0v1.0h-1.0zM202.2 60.5h1.0v1.0h-1.0zM206.5 53.7h1.0v1.0h-1.0zM207.9 64.8h1.0v1.0h-1.0zM208.0 67.3h1.0v1.0h-1.0zM206.1 54.4h1.0v1.0h-1.0zM212.9 63.0h1.0v1.0h-1.0zM211.4 56.9h1.0v1.0h-1.0zM211.0 62.3h1.0v1.0h-1.0zM210.6 61.1h1.0v1.0h-1.0zM212.0 57.8h1.0v1.0h-1.0zM206.6 53.6h1.0v1.0h-1.0z" fill="#999" fill-opacity="0.75"/>
<path d="M230.6 77.6h1.0v1.0h-1.0zM221.8 75.6h1.0v1.0h-1.0zM224.2 72.3h1.0v1.0h-1.0zM224.8 78.7h1.0v1.0h-1.0zM223.8 75.4h1.0v1.0h-1.0zM226.1 80.4h1.0v1.0h-1.0zM226.5 87.5h1.0v1.0h-1.0zM227.4 63.1h1.0v1.0h-1.0zM223.9 77.0h1.0v1.0h-1.0zM229.1 69.2h1.0v1.0h-1.0zM223.1 82.1h1.0v1.0h-1.0zM224.7 94.9h1.0v1.0h-1.0zM224.2 94.6h1.0v1.0h-1.0zM220.1 66.9h1.0v1.0h-1.0zM230.9 89.4h1.0v1.0h-1.0zM228.0 86.2h1.0v1.0h-1.0zM227.9 72.8h1.0v1.0h-1.0zM229.8 79.7h1.0v1.0h-1.0zM229.9 85.9h1.0v1.0h-1.0zM218.1 72.1h1.0v1.0h-1.0zM230.5 83.6h1.0v1.0h-1.0zM224.4 87.4h1.0v1.0h-1.0z" fill="#aaa" fill-opacity="0.7"/>
<rect x="183.3" y="28.2" width="30.5" height="24.1" fill="none" stroke="#333" stroke-width="1"/>
<text x="184.8" y="33.4" font-size="4.3" text-anchor="start" fill="#222" stroke="#222" stroke-width="0.12">Rx</text>
<line x1="78.7" y1="160.5" x2="78.7" y2="238.5" stroke="#222" stroke-width="1"/>
<line x1="78.2" y1="238.5" x2="248.7" y2="238.5" stroke="#222" stroke-width="1"/>
<line x1="75.5" y1="161" x2="78.7" y2="161" stroke="#222" stroke-width="1"/>
<line x1="75.5" y1="186.8" x2="78.7" y2="186.8" stroke="#222" stroke-width="1"/>
<line x1="75.5" y1="212.3" x2="78.7" y2="212.3" stroke="#222" stroke-width="1"/>
<line x1="75.5" y1="237.6" x2="78.7" y2="237.6" stroke="#222" stroke-width="1"/>
<text x="74.5" y="164" font-size="8.6" fill="#222" text-anchor="end">1.5×10<tspan font-size="6" dy="-3.5">7</tspan></text>
<text x="74.5" y="189.8" font-size="8.6" fill="#222" text-anchor="end">1.0×10<tspan font-size="6" dy="-3.5">7</tspan></text>
<text x="74.5" y="215.3" font-size="8.6" fill="#222" text-anchor="end">5.0×10<tspan font-size="6" dy="-3.5">6</tspan></text>
<text x="73.5" y="240.6" font-size="8.6" text-anchor="end" fill="#222" stroke="#222" stroke-width="0.3">0</text>
<line x1="88.6" y1="238.5" x2="88.6" y2="241.5" stroke="#222" stroke-width="1"/>
<text x="88.6" y="250.6" font-size="8.6" text-anchor="middle" fill="#222" stroke="#222" stroke-width="0.3">0</text>
<line x1="101.4" y1="238.5" x2="101.4" y2="241.5" stroke="#222" stroke-width="1"/>
<text x="101.4" y="250.6" font-size="8.6" text-anchor="middle" fill="#222" stroke="#222" stroke-width="0.3">5</text>
<line x1="126.8" y1="238.5" x2="126.8" y2="241.5" stroke="#222" stroke-width="1"/>
<text x="126.8" y="250.6" font-size="8.6" text-anchor="middle" fill="#222" stroke="#222" stroke-width="0.3">15</text>
<line x1="165" y1="238.5" x2="165" y2="241.5" stroke="#222" stroke-width="1"/>
<text x="165" y="250.6" font-size="8.6" text-anchor="middle" fill="#222" stroke="#222" stroke-width="0.3">30</text>
<line x1="203" y1="238.5" x2="203" y2="241.5" stroke="#222" stroke-width="1"/>
<text x="203" y="250.6" font-size="8.6" text-anchor="middle" fill="#222" stroke="#222" stroke-width="0.3">45</text>
<line x1="241" y1="238.5" x2="241" y2="241.5" stroke="#222" stroke-width="1"/>
<text x="241" y="250.6" font-size="8.6" text-anchor="middle" fill="#222" stroke="#222" stroke-width="0.3">60</text>
<text x="163.8" y="263.3" font-size="8.2" text-anchor="middle" fill="#222" textLength="37.5" lengthAdjust="spacingAndGlyphs" stroke="#222" stroke-width="0.3">Time (min)</text>
<text x="28.8" y="200" font-size="8.8" text-anchor="middle" fill="#222" textLength="87" lengthAdjust="spacingAndGlyphs" transform="rotate(-90 28.8 200)" stroke="#222" stroke-width="0.3">Circulating Leukocytes</text>
<text x="38.9" y="200.7" font-size="8.8" text-anchor="middle" fill="#222" textLength="40" lengthAdjust="spacingAndGlyphs" transform="rotate(-90 38.9 200.7)" stroke="#222" stroke-width="0.3">(cells/ mL)</text>
<line x1="88.6" y1="189" x2="88.6" y2="194.3" stroke="#222" stroke-width="1"/>
<line x1="86.19999999999999" y1="189" x2="91.0" y2="189" stroke="#222" stroke-width="1"/>
<line x1="101.4" y1="188.5" x2="101.4" y2="196.5" stroke="#222" stroke-width="1"/>
<line x1="99.0" y1="188.5" x2="103.80000000000001" y2="188.5" stroke="#222" stroke-width="1"/>
<line x1="126.8" y1="175" x2="126.8" y2="188.5" stroke="#222" stroke-width="1"/>
<line x1="124.39999999999999" y1="175" x2="129.2" y2="175" stroke="#222" stroke-width="1"/>
<line x1="165" y1="167" x2="165" y2="181.7" stroke="#222" stroke-width="1"/>
<line x1="162.6" y1="167" x2="167.4" y2="167" stroke="#222" stroke-width="1"/>
<line x1="203" y1="171" x2="203" y2="182.3" stroke="#222" stroke-width="1"/>
<line x1="200.6" y1="171" x2="205.4" y2="171" stroke="#222" stroke-width="1"/>
<line x1="241" y1="171.5" x2="241" y2="183" stroke="#222" stroke-width="1"/>
<line x1="238.6" y1="171.5" x2="243.4" y2="171.5" stroke="#222" stroke-width="1"/>
<line x1="88.6" y1="194" x2="88.6" y2="199" stroke="#222" stroke-width="1"/>
<line x1="86.19999999999999" y1="194" x2="91.0" y2="194" stroke="#222" stroke-width="1"/>
<line x1="126.8" y1="207" x2="126.8" y2="212" stroke="#222" stroke-width="1"/>
<line x1="124.39999999999999" y1="207" x2="129.2" y2="207" stroke="#222" stroke-width="1"/>
<line x1="165" y1="208.6" x2="165" y2="214.2" stroke="#222" stroke-width="1"/>
<line x1="162.6" y1="208.6" x2="167.4" y2="208.6" stroke="#222" stroke-width="1"/>
<line x1="203" y1="204.5" x2="203" y2="210.2" stroke="#222" stroke-width="1"/>
<line x1="200.6" y1="204.5" x2="205.4" y2="204.5" stroke="#222" stroke-width="1"/>
<polyline points="88.6,194.3 101.4,196.5 126.8,188.5 165,181.7 203,182.3 241,183" fill="none" stroke="#222" stroke-width="1"/>
<polyline points="88.6,199 101.4,216.8 126.8,212 165,214.2 203,210.2 241,198" fill="none" stroke="#222" stroke-width="1"/>
<circle cx="88.6" cy="194.3" r="2.5" fill="none" stroke="#222" stroke-width="1"/>
<circle cx="101.4" cy="196.5" r="2.5" fill="none" stroke="#222" stroke-width="1"/>
<circle cx="126.8" cy="188.5" r="2.5" fill="none" stroke="#222" stroke-width="1"/>
<circle cx="165" cy="181.7" r="2.5" fill="none" stroke="#222" stroke-width="1"/>
<circle cx="203" cy="182.3" r="2.5" fill="none" stroke="#222" stroke-width="1"/>
<circle cx="241" cy="183" r="2.5" fill="none" stroke="#222" stroke-width="1"/>
<rect x="85.8" y="196.2" width="5.6" height="5.6" fill="#111"/>
<rect x="98.60000000000001" y="214.0" width="5.6" height="5.6" fill="#111"/>
<rect x="124.0" y="209.2" width="5.6" height="5.6" fill="#111"/>
<rect x="162.2" y="211.39999999999998" width="5.6" height="5.6" fill="#111"/>
<rect x="200.2" y="207.39999999999998" width="5.6" height="5.6" fill="#111"/>
<rect x="238.2" y="195.2" width="5.6" height="5.6" fill="#111"/>
<text x="101.4" y="214.8" font-size="14" font-weight="bold" text-anchor="middle" fill="#111" stroke="#111" stroke-width="0.15">*</text>
<text x="165.4" y="209.0" font-size="14" font-weight="bold" text-anchor="middle" fill="#111" stroke="#111" stroke-width="0.15">*</text>
<text x="202.9" y="204.2" font-size="14" font-weight="bold" text-anchor="middle" fill="#111" stroke="#111" stroke-width="0.15">*</text>
<line x1="84.2" y1="151.6" x2="108" y2="151.6" stroke="#222" stroke-width="1"/>
<circle cx="96.5" cy="151.6" r="2.1" fill="none" stroke="#222" stroke-width="1"/>
<text x="111.2" y="155.3" font-size="8.6" text-anchor="start" fill="#222" textLength="36" lengthAdjust="spacingAndGlyphs" stroke="#222" stroke-width="0.3">Anti OVA</text>
<line x1="84.2" y1="166" x2="108" y2="166" stroke="#222" stroke-width="1"/>
<rect x="94.2" y="163.3" width="5.4" height="5.4" fill="#111"/>
<text x="111.2" y="169.1" font-size="8.6" text-anchor="start" fill="#222" textLength="36" lengthAdjust="spacingAndGlyphs" stroke="#222" stroke-width="0.3">Anti MPO</text>
<line x1="31.9" y1="284.8" x2="31.9" y2="472" stroke="#111" stroke-width="1.9"/>
<path d="M28.9,285.3 L31.9,279.3 L34.9,285.3 Z" fill="#111"/>
<text x="22.8" y="372.1" font-size="9.2" font-weight="bold" text-anchor="middle" fill="#111" textLength="16" lengthAdjust="spacingAndGlyphs" transform="rotate(-90 22.8 372.1)" stroke="#111" stroke-width="0.15">Gr-1</text>
<rect x="48.1" y="277.7" width="86.5" height="86.4" fill="none" stroke="#727272" stroke-width="1.1"/>
<text x="44.9" y="279.328" font-size="4.4" fill="#3a3a3a" stroke="#3a3a3a" stroke-width="0.12" text-anchor="end">10<tspan font-size="3.3" dy="-1.32">4</tspan></text>
<line x1="46.1" y1="277.7" x2="48.1" y2="277.7" stroke="#666" stroke-width="0.7"/>
<text x="44.9" y="300.928" font-size="4.4" fill="#3a3a3a" stroke="#3a3a3a" stroke-width="0.12" text-anchor="end">10<tspan font-size="3.3" dy="-1.32">3</tspan></text>
<line x1="46.1" y1="299.3" x2="48.1" y2="299.3" stroke="#666" stroke-width="0.7"/>
<text x="44.9" y="322.52799999999996" font-size="4.4" fill="#3a3a3a" stroke="#3a3a3a" stroke-width="0.12" text-anchor="end">10<tspan font-size="3.3" dy="-1.32">2</tspan></text>
<line x1="46.1" y1="320.9" x2="48.1" y2="320.9" stroke="#666" stroke-width="0.7"/>
<text x="44.9" y="344.128" font-size="4.4" fill="#3a3a3a" stroke="#3a3a3a" stroke-width="0.12" text-anchor="end">10<tspan font-size="3.3" dy="-1.32">1</tspan></text>
<line x1="46.1" y1="342.5" x2="48.1" y2="342.5" stroke="#666" stroke-width="0.7"/>
<text x="44.9" y="365.728" font-size="4.4" fill="#3a3a3a" stroke="#3a3a3a" stroke-width="0.12" text-anchor="end">10<tspan font-size="3.3" dy="-1.32">0</tspan></text>
<line x1="46.1" y1="364.1" x2="48.1" y2="364.1" stroke="#666" stroke-width="0.7"/>
<text x="46.78" y="370.228" font-size="4.4" fill="#3a3a3a" stroke="#3a3a3a" stroke-width="0.12" text-anchor="middle">10<tspan font-size="3.3" dy="-1.32">0</tspan></text>
<line x1="48.1" y1="364.1" x2="48.1" y2="365.70000000000005" stroke="#666" stroke-width="0.7"/>
<text x="68.405" y="370.228" font-size="4.4" fill="#3a3a3a" stroke="#3a3a3a" stroke-width="0.12" text-anchor="middle">10<tspan font-size="3.3" dy="-1.32">1</tspan></text>
<line x1="69.725" y1="364.1" x2="69.725" y2="365.70000000000005" stroke="#666" stroke-width="0.7"/>
<text x="90.03" y="370.228" font-size="4.4" fill="#3a3a3a" stroke="#3a3a3a" stroke-width="0.12" text-anchor="middle">10<tspan font-size="3.3" dy="-1.32">2</tspan></text>
<line x1="91.35" y1="364.1" x2="91.35" y2="365.70000000000005" stroke="#666" stroke-width="0.7"/>
<text x="111.655" y="370.228" font-size="4.4" fill="#3a3a3a" stroke="#3a3a3a" stroke-width="0.12" text-anchor="middle">10<tspan font-size="3.3" dy="-1.32">3</tspan></text>
<line x1="112.975" y1="364.1" x2="112.975" y2="365.70000000000005" stroke="#666" stroke-width="0.7"/>
<text x="133.28" y="370.228" font-size="4.4" fill="#3a3a3a" stroke="#3a3a3a" stroke-width="0.12" text-anchor="middle">10<tspan font-size="3.3" dy="-1.32">4</tspan></text>
<line x1="134.6" y1="364.1" x2="134.6" y2="365.70000000000005" stroke="#666" stroke-width="0.7"/>
<path d="M81.9 329.4h1.0v1.0h-1.0zM84.5 339.0h1.0v1.0h-1.0zM91.6 339.6h1.0v1.0h-1.0zM93.4 362.8h1.0v1.0h-1.0zM92.6 353.0h1.0v1.0h-1.0zM84.7 338.9h1.0v1.0h-1.0zM83.3 327.4h1.0v1.0h-1.0zM83.7 328.6h1.0v1.0h-1.0zM92.2 346.0h1.0v1.0h-1.0zM83.7 331.5h1.0v1.0h-1.0zM78.6 320.9h1.0v1.0h-1.0zM72.7 341.4h1.0v1.0h-1.0zM83.8 335.0h1.0v1.0h-1.0zM91.2 340.6h1.0v1.0h-1.0zM84.8 332.4h1.0v1.0h-1.0zM81.0 355.6h1.0v1.0h-1.0zM89.0 360.5h1.0v1.0h-1.0zM82.3 336.9h1.0v1.0h-1.0zM79.6 348.4h1.0v1.0h-1.0zM77.0 342.5h1.0v1.0h-1.0zM89.5 356.7h1.0v1.0h-1.0zM79.3 349.9h1.0v1.0h-1.0zM80.4 326.3h1.0v1.0h-1.0zM77.4 350.2h1.0v1.0h-1.0zM92.2 331.5h1.0v1.0h-1.0zM80.2 331.6h1.0v1.0h-1.0zM96.5 353.3h1.0v1.0h-1.0zM80.6 351.5h1.0v1.0h-1.0zM93.3 336.0h1.0v1.0h-1.0zM80.5 329.5h1.0v1.0h-1.0zM74.6 346.3h1.0v1.0h-1.0zM78.6 349.3h1.0v1.0h-1.0zM75.5 318.4h1.0v1.0h-1.0zM85.4 327.5h1.0v1.0h-1.0zM87.9 338.1h1.0v1.0h-1.0zM78.1 343.5h1.0v1.0h-1.0zM93.1 345.8h1.0v1.0h-1.0zM80.4 331.5h1.0v1.0h-1.0zM89.4 319.5h1.0v1.0h-1.0zM82.8 341.2h1.0v1.0h-1.0zM75.6 327.2h1.0v1.0h-1.0zM86.6 358.2h1.0v1.0h-1.0zM87.3 333.9h1.0v1.0h-1.0zM78.1 323.4h1.0v1.0h-1.0zM80.7 338.0h1.0v1.0h-1.0zM83.8 358.5h1.0v1.0h-1.0zM85.4 323.5h1.0v1.0h-1.0zM91.7 351.3h1.0v1.0h-1.0zM84.5 327.8h1.0v1.0h-1.0zM74.6 321.3h1.0v1.0h-1.0zM88.6 327.8h1.0v1.0h-1.0zM77.4 337.8h1.0v1.0h-1.0zM85.2 345.2h1.0v1.0h-1.0zM87.3 356.1h1.0v1.0h-1.0zM79.8 348.6h1.0v1.0h-1.0zM79.1 344.7h1.0v1.0h-1.0zM84.9 340.4h1.0v1.0h-1.0zM88.8 338.0h1.0v1.0h-1.0zM89.6 349.8h1.0v1.0h-1.0zM84.7 329.8h1.0v1.0h-1.0zM80.2 329.2h1.0v1.0h-1.0zM83.0 336.4h1.0v1.0h-1.0zM98.9 349.1h1.0v1.0h-1.0zM87.8 326.9h1.0v1.0h-1.0zM80.4 331.9h1.0v1.0h-1.0zM85.0 323.9h1.0v1.0h-1.0zM92.1 331.8h1.0v1.0h-1.0zM84.0 340.6h1.0v1.0h-1.0zM85.0 345.0h1.0v1.0h-1.0zM85.4 339.5h1.0v1.0h-1.0zM74.5 325.3h1.0v1.0h-1.0zM72.3 342.1h1.0v1.0h-1.0zM85.5 334.9h1.0v1.0h-1.0zM79.9 328.4h1.0v1.0h-1.0zM93.2 361.8h1.0v1.0h-1.0zM83.7 353.6h1.0v1.0h-1.0zM81.6 325.1h1.0v1.0h-1.0zM81.2 338.7h1.0v1.0h-1.0zM99.1 332.4h1.0v1.0h-1.0zM84.2 340.6h1.0v1.0h-1.0zM83.8 349.0h1.0v1.0h-1.0zM92.9 323.2h1.0v1.0h-1.0zM84.8 333.8h1.0v1.0h-1.0zM85.8 317.7h1.0v1.0h-1.0zM86.6 340.2h1.0v1.0h-1.0zM82.1 326.7h1.0v1.0h-1.0zM76.9 323.3h1.0v1.0h-1.0zM87.5 344.9h1.0v1.0h-1.0zM83.9 343.6h1.0v1.0h-1.0zM81.0 337.1h1.0v1.0h-1.0zM84.2 344.2h1.0v1.0h-1.0zM83.7 335.1h1.0v1.0h-1.0zM83.3 328.5h1.0v1.0h-1.0zM95.2 346.6h1.0v1.0h-1.0zM91.0 318.7h1.0v1.0h-1.0zM87.5 348.7h1.0v1.0h-1.0zM93.4 356.5h1.0v1.0h-1.0zM87.9 322.8h1.0v1.0h-1.0zM79.6 339.3h1.0v1.0h-1.0zM86.5 324.4h1.0v1.0h-1.0zM82.1 331.3h1.0v1.0h-1.0zM84.3 341.4h1.0v1.0h-1.0zM82.6 320.6h1.0v1.0h-1.0zM90.2 359.3h1.0v1.0h-1.0zM83.5 350.1h1.0v1.0h-1.0zM86.2 346.1h1.0v1.0h-1.0zM86.4 327.8h1.0v1.0h-1.0zM86.9 350.8h1.0v1.0h-1.0zM79.5 361.3h1.0v1.0h-1.0zM93.9 349.2h1.0v1.0h-1.0zM82.3 328.8h1.0v1.0h-1.0zM79.9 337.4h1.0v1.0h-1.0zM83.8 345.6h1.0v1.0h-1.0zM95.4 339.6h1.0v1.0h-1.0zM87.4 344.0h1.0v1.0h-1.0zM85.4 334.7h1.0v1.0h-1.0zM83.4 326.2h1.0v1.0h-1.0zM84.9 336.9h1.0v1.0h-1.0zM85.6 326.4h1.0v1.0h-1.0zM84.2 337.7h1.0v1.0h-1.0zM87.0 324.0h1.0v1.0h-1.0zM86.1 350.3h1.0v1.0h-1.0zM87.0 333.0h1.0v1.0h-1.0zM81.5 333.3h1.0v1.0h-1.0zM87.6 358.0h1.0v1.0h-1.0zM83.2 328.5h1.0v1.0h-1.0zM85.9 340.1h1.0v1.0h-1.0zM79.5 326.3h1.0v1.0h-1.0zM83.5 345.6h1.0v1.0h-1.0zM78.0 322.3h1.0v1.0h-1.0zM86.5 321.8h1.0v1.0h-1.0zM84.5 341.7h1.0v1.0h-1.0zM83.4 323.7h1.0v1.0h-1.0zM83.7 332.6h1.0v1.0h-1.0zM85.7 326.6h1.0v1.0h-1.0zM89.5 316.8h1.0v1.0h-1.0zM83.1 336.9h1.0v1.0h-1.0zM88.8 330.4h1.0v1.0h-1.0zM86.7 330.4h1.0v1.0h-1.0zM87.7 360.4h1.0v1.0h-1.0zM82.0 342.2h1.0v1.0h-1.0zM79.4 348.4h1.0v1.0h-1.0zM90.1 339.0h1.0v1.0h-1.0zM78.3 340.7h1.0v1.0h-1.0zM89.7 352.6h1.0v1.0h-1.0zM80.6 354.5h1.0v1.0h-1.0zM77.9 350.0h1.0v1.0h-1.0zM93.4 349.3h1.0v1.0h-1.0zM89.6 334.2h1.0v1.0h-1.0zM77.9 334.1h1.0v1.0h-1.0zM83.0 336.1h1.0v1.0h-1.0zM87.5 336.0h1.0v1.0h-1.0zM85.0 342.7h1.0v1.0h-1.0zM84.0 360.8h1.0v1.0h-1.0zM86.2 338.7h1.0v1.0h-1.0zM83.0 328.6h1.0v1.0h-1.0zM90.7 340.7h1.0v1.0h-1.0zM78.6 328.3h1.0v1.0h-1.0zM83.3 331.1h1.0v1.0h-1.0zM89.4 323.4h1.0v1.0h-1.0zM86.5 339.5h1.0v1.0h-1.0zM78.1 336.1h1.0v1.0h-1.0zM83.5 343.4h1.0v1.0h-1.0zM81.7 340.3h1.0v1.0h-1.0zM75.7 320.8h1.0v1.0h-1.0zM87.9 351.5h1.0v1.0h-1.0zM83.9 329.2h1.0v1.0h-1.0zM80.0 344.7h1.0v1.0h-1.0zM87.3 324.5h1.0v1.0h-1.0zM74.6 353.3h1.0v1.0h-1.0zM84.8 325.6h1.0v1.0h-1.0zM84.3 348.7h1.0v1.0h-1.0zM71.0 348.0h1.0v1.0h-1.0zM89.7 343.6h1.0v1.0h-1.0zM95.3 332.0h1.0v1.0h-1.0zM84.0 350.6h1.0v1.0h-1.0zM80.8 327.0h1.0v1.0h-1.0zM82.1 335.6h1.0v1.0h-1.0zM78.6 341.9h1.0v1.0h-1.0zM86.7 338.6h1.0v1.0h-1.0zM92.5 335.0h1.0v1.0h-1.0zM90.5 331.6h1.0v1.0h-1.0zM85.0 335.0h1.0v1.0h-1.0zM81.5 328.5h1.0v1.0h-1.0zM82.3 327.2h1.0v1.0h-1.0zM73.0 326.4h1.0v1.0h-1.0zM81.3 329.5h1.0v1.0h-1.0zM78.7 333.9h1.0v1.0h-1.0zM87.9 334.8h1.0v1.0h-1.0zM81.5 353.9h1.0v1.0h-1.0zM88.9 350.2h1.0v1.0h-1.0zM89.8 334.3h1.0v1.0h-1.0zM83.4 351.2h1.0v1.0h-1.0zM81.2 334.7h1.0v1.0h-1.0zM85.9 342.3h1.0v1.0h-1.0zM82.6 349.4h1.0v1.0h-1.0zM83.1 346.2h1.0v1.0h-1.0zM89.4 346.9h1.0v1.0h-1.0zM87.7 323.0h1.0v1.0h-1.0zM77.4 327.3h1.0v1.0h-1.0z" fill="#999" fill-opacity="0.7"/>
<path d="M71.8 360.5h1.0v1.0h-1.0zM54.8 352.9h1.0v1.0h-1.0zM58.5 339.7h1.0v1.0h-1.0zM64.2 353.9h1.0v1.0h-1.0zM69.1 357.7h1.0v1.0h-1.0zM57.1 358.7h1.0v1.0h-1.0zM76.3 342.4h1.0v1.0h-1.0zM71.8 336.8h1.0v1.0h-1.0zM56.1 344.3h1.0v1.0h-1.0zM69.0 347.8h1.0v1.0h-1.0zM74.4 333.4h1.0v1.0h-1.0zM76.2 346.0h1.0v1.0h-1.0zM51.8 357.3h1.0v1.0h-1.0zM72.5 348.2h1.0v1.0h-1.0zM82.8 334.6h1.0v1.0h-1.0zM72.1 351.7h1.0v1.0h-1.0zM58.0 362.0h1.0v1.0h-1.0zM52.5 335.3h1.0v1.0h-1.0zM72.2 330.7h1.0v1.0h-1.0zM65.8 326.6h1.0v1.0h-1.0zM67.7 331.8h1.0v1.0h-1.0zM70.4 326.2h1.0v1.0h-1.0zM71.5 340.3h1.0v1.0h-1.0zM67.6 344.0h1.0v1.0h-1.0zM68.3 329.4h1.0v1.0h-1.0zM57.6 343.2h1.0v1.0h-1.0zM71.3 320.7h1.0v1.0h-1.0zM59.4 340.8h1.0v1.0h-1.0zM56.4 352.5h1.0v1.0h-1.0zM65.6 336.1h1.0v1.0h-1.0zM57.2 357.8h1.0v1.0h-1.0zM60.4 354.1h1.0v1.0h-1.0zM71.5 321.7h1.0v1.0h-1.0zM56.2 348.9h1.0v1.0h-1.0zM70.4 352.7h1.0v1.0h-1.0zM75.0 354.0h1.0v1.0h-1.0zM63.3 343.9h1.0v1.0h-1.0zM74.8 337.3h1.0v1.0h-1.0zM77.6 323.0h1.0v1.0h-1.0zM73.5 340.7h1.0v1.0h-1.0zM70.1 344.1h1.0v1.0h-1.0zM56.2 343.5h1.0v1.0h-1.0zM82.1 330.1h1.0v1.0h-1.0zM55.0 347.8h1.0v1.0h-1.0zM63.1 336.0h1.0v1.0h-1.0zM58.6 360.0h1.0v1.0h-1.0zM61.6 334.5h1.0v1.0h-1.0zM74.9 348.6h1.0v1.0h-1.0zM56.6 357.3h1.0v1.0h-1.0zM78.3 338.0h1.0v1.0h-1.0zM54.0 355.6h1.0v1.0h-1.0zM76.2 341.4h1.0v1.0h-1.0zM71.2 352.3h1.0v1.0h-1.0zM85.5 335.4h1.0v1.0h-1.0zM62.2 346.3h1.0v1.0h-1.0zM79.1 329.9h1.0v1.0h-1.0zM80.1 308.8h1.0v1.0h-1.0zM75.0 334.4h1.0v1.0h-1.0zM71.6 351.2h1.0v1.0h-1.0zM55.2 348.3h1.0v1.0h-1.0zM69.4 350.9h1.0v1.0h-1.0zM57.7 337.0h1.0v1.0h-1.0zM65.1 343.1h1.0v1.0h-1.0zM52.1 361.0h1.0v1.0h-1.0zM75.5 342.2h1.0v1.0h-1.0zM74.3 329.7h1.0v1.0h-1.0zM63.7 339.6h1.0v1.0h-1.0zM54.3 349.8h1.0v1.0h-1.0zM65.6 362.0h1.0v1.0h-1.0zM57.8 343.0h1.0v1.0h-1.0zM71.2 348.1h1.0v1.0h-1.0zM67.3 339.5h1.0v1.0h-1.0zM71.9 347.3h1.0v1.0h-1.0zM53.3 336.4h1.0v1.0h-1.0zM68.5 345.2h1.0v1.0h-1.0zM68.1 334.6h1.0v1.0h-1.0zM65.0 335.3h1.0v1.0h-1.0zM70.8 351.5h1.0v1.0h-1.0zM84.6 353.2h1.0v1.0h-1.0zM58.9 342.7h1.0v1.0h-1.0zM57.6 351.9h1.0v1.0h-1.0zM86.8 346.0h1.0v1.0h-1.0zM54.1 355.6h1.0v1.0h-1.0zM67.0 348.4h1.0v1.0h-1.0zM84.8 329.1h1.0v1.0h-1.0zM70.4 334.9h1.0v1.0h-1.0zM67.4 356.2h1.0v1.0h-1.0zM65.6 337.6h1.0v1.0h-1.0zM49.3 353.3h1.0v1.0h-1.0zM67.3 352.0h1.0v1.0h-1.0zM63.0 352.2h1.0v1.0h-1.0zM75.2 340.4h1.0v1.0h-1.0zM62.4 344.5h1.0v1.0h-1.0zM57.4 346.1h1.0v1.0h-1.0zM64.0 348.5h1.0v1.0h-1.0zM80.4 355.2h1.0v1.0h-1.0zM62.5 353.5h1.0v1.0h-1.0zM69.9 352.7h1.0v1.0h-1.0zM67.2 348.0h1.0v1.0h-1.0zM62.3 337.7h1.0v1.0h-1.0zM75.7 356.7h1.0v1.0h-1.0zM73.6 347.6h1.0v1.0h-1.0zM69.7 338.9h1.0v1.0h-1.0zM49.2 359.0h1.0v1.0h-1.0zM69.0 337.9h1.0v1.0h-1.0zM59.8 347.3h1.0v1.0h-1.0zM61.9 348.6h1.0v1.0h-1.0zM64.9 337.2h1.0v1.0h-1.0zM77.7 332.1h1.0v1.0h-1.0zM61.9 353.2h1.0v1.0h-1.0zM61.6 342.0h1.0v1.0h-1.0zM70.6 339.5h1.0v1.0h-1.0zM54.5 348.3h1.0v1.0h-1.0zM56.0 360.0h1.0v1.0h-1.0zM59.1 343.8h1.0v1.0h-1.0zM63.7 349.3h1.0v1.0h-1.0zM75.6 361.9h1.0v1.0h-1.0zM60.6 362.5h1.0v1.0h-1.0zM77.0 350.7h1.0v1.0h-1.0zM59.4 358.0h1.0v1.0h-1.0zM65.9 349.4h1.0v1.0h-1.0zM64.3 353.6h1.0v1.0h-1.0zM78.2 353.9h1.0v1.0h-1.0zM64.9 357.1h1.0v1.0h-1.0zM81.5 329.1h1.0v1.0h-1.0zM81.7 324.4h1.0v1.0h-1.0zM72.4 349.8h1.0v1.0h-1.0zM81.8 342.9h1.0v1.0h-1.0zM62.2 337.6h1.0v1.0h-1.0zM54.5 358.3h1.0v1.0h-1.0zM64.6 337.6h1.0v1.0h-1.0zM72.3 334.3h1.0v1.0h-1.0zM62.6 341.3h1.0v1.0h-1.0zM83.5 355.8h1.0v1.0h-1.0zM65.4 327.6h1.0v1.0h-1.0zM69.8 344.8h1.0v1.0h-1.0zM70.5 350.2h1.0v1.0h-1.0zM63.8 356.7h1.0v1.0h-1.0zM75.4 344.4h1.0v1.0h-1.0zM62.9 341.0h1.0v1.0h-1.0zM73.9 329.9h1.0v1.0h-1.0zM65.4 337.0h1.0v1.0h-1.0zM53.1 356.9h1.0v1.0h-1.0zM66.7 345.5h1.0v1.0h-1.0zM75.7 324.8h1.0v1.0h-1.0zM66.3 348.5h1.0v1.0h-1.0zM75.3 329.6h1.0v1.0h-1.0zM74.2 344.9h1.0v1.0h-1.0zM80.6 353.2h1.0v1.0h-1.0zM67.0 340.1h1.0v1.0h-1.0zM63.6 335.5h1.0v1.0h-1.0zM66.7 323.6h1.0v1.0h-1.0zM66.2 350.2h1.0v1.0h-1.0zM76.9 337.5h1.0v1.0h-1.0zM80.9 332.5h1.0v1.0h-1.0zM65.7 324.0h1.0v1.0h-1.0zM59.4 338.7h1.0v1.0h-1.0zM81.6 345.7h1.0v1.0h-1.0zM56.2 354.8h1.0v1.0h-1.0zM71.7 340.7h1.0v1.0h-1.0zM67.2 341.5h1.0v1.0h-1.0zM61.7 327.1h1.0v1.0h-1.0zM66.1 359.7h1.0v1.0h-1.0zM81.0 336.9h1.0v1.0h-1.0zM59.7 345.3h1.0v1.0h-1.0zM75.8 345.8h1.0v1.0h-1.0zM61.3 351.1h1.0v1.0h-1.0zM65.0 351.5h1.0v1.0h-1.0zM63.0 330.0h1.0v1.0h-1.0zM67.6 353.3h1.0v1.0h-1.0z" fill="#aaa" fill-opacity="0.7"/>
<path d="M51.8 358.7h1.0v1.0h-1.0zM57.6 357.9h1.0v1.0h-1.0zM57.4 362.0h1.0v1.0h-1.0zM50.2 357.5h1.0v1.0h-1.0zM57.2 362.9h1.0v1.0h-1.0zM52.3 357.1h1.0v1.0h-1.0zM55.6 353.4h1.0v1.0h-1.0zM56.9 360.6h1.0v1.0h-1.0zM53.7 360.6h1.0v1.0h-1.0zM57.3 359.9h1.0v1.0h-1.0zM56.5 363.4h1.0v1.0h-1.0zM53.6 359.5h1.0v1.0h-1.0zM53.5 362.0h1.0v1.0h-1.0zM53.8 360.4h1.0v1.0h-1.0zM55.4 359.2h1.0v1.0h-1.0zM60.0 358.8h1.0v1.0h-1.0zM59.1 361.4h1.0v1.0h-1.0zM58.8 358.5h1.0v1.0h-1.0zM57.7 361.2h1.0v1.0h-1.0zM53.2 359.8h1.0v1.0h-1.0zM54.6 358.9h1.0v1.0h-1.0zM58.8 356.9h1.0v1.0h-1.0zM50.1 354.0h1.0v1.0h-1.0zM53.7 357.1h1.0v1.0h-1.0zM55.0 360.6h1.0v1.0h-1.0zM60.1 359.9h1.0v1.0h-1.0zM56.3 356.9h1.0v1.0h-1.0zM56.7 362.9h1.0v1.0h-1.0zM58.9 353.3h1.0v1.0h-1.0zM57.4 354.7h1.0v1.0h-1.0zM54.1 360.7h1.0v1.0h-1.0zM56.2 356.7h1.0v1.0h-1.0zM52.4 361.8h1.0v1.0h-1.0zM51.1 363.1h1.0v1.0h-1.0zM55.1 359.9h1.0v1.0h-1.0zM51.1 357.3h1.0v1.0h-1.0zM57.0 354.8h1.0v1.0h-1.0zM61.0 354.9h1.0v1.0h-1.0zM51.5 359.1h1.0v1.0h-1.0zM56.4 361.1h1.0v1.0h-1.0z" fill="#888" fill-opacity="0.7"/>
<path d="M97.8 285.7h1.0v1.0h-1.0zM106.8 292.6h1.0v1.0h-1.0zM86.2 359.5h1.0v1.0h-1.0zM56.5 282.3h1.0v1.0h-1.0zM85.9 294.8h1.0v1.0h-1.0zM109.7 279.2h1.0v1.0h-1.0zM119.6 350.0h1.0v1.0h-1.0zM115.1 314.3h1.0v1.0h-1.0zM72.8 333.9h1.0v1.0h-1.0zM92.2 314.0h1.0v1.0h-1.0zM77.4 315.4h1.0v1.0h-1.0zM105.0 347.6h1.0v1.0h-1.0zM124.9 292.7h1.0v1.0h-1.0zM73.8 315.8h1.0v1.0h-1.0zM96.3 307.9h1.0v1.0h-1.0zM65.4 286.1h1.0v1.0h-1.0zM76.2 317.2h1.0v1.0h-1.0zM130.6 354.4h1.0v1.0h-1.0zM121.7 359.9h1.0v1.0h-1.0zM129.8 330.4h1.0v1.0h-1.0zM117.1 284.0h1.0v1.0h-1.0zM105.8 329.6h1.0v1.0h-1.0zM74.0 326.4h1.0v1.0h-1.0zM129.0 318.9h1.0v1.0h-1.0zM103.4 303.8h1.0v1.0h-1.0z" fill="#ccc" fill-opacity="0.8"/>
<ellipse cx="88" cy="304.5" rx="10" ry="6.5" fill="#8a8a8a" fill-opacity="0.55" transform="rotate(-35 88 304.5)" filter="url(#b15)"/>
<ellipse cx="88" cy="304.5" rx="7" ry="4.4" fill="none" stroke="#5e5e5e" stroke-width="2.8" stroke-opacity="0.8" transform="rotate(-35 88 304.5)" filter="url(#b8)"/>
<path d="M81.7 311.9h1.0v1.0h-1.0zM91.5 304.0h1.0v1.0h-1.0zM85.4 301.9h1.0v1.0h-1.0zM95.0 305.2h1.0v1.0h-1.0zM83.0 309.0h1.0v1.0h-1.0zM82.2 308.1h1.0v1.0h-1.0zM82.9 304.5h1.0v1.0h-1.0zM90.6 305.2h1.0v1.0h-1.0zM93.3 300.5h1.0v1.0h-1.0zM96.3 306.6h1.0v1.0h-1.0zM87.9 306.0h1.0v1.0h-1.0zM83.9 305.1h1.0v1.0h-1.0zM81.0 306.6h1.0v1.0h-1.0zM89.1 308.5h1.0v1.0h-1.0zM93.0 305.8h1.0v1.0h-1.0zM86.1 304.3h1.0v1.0h-1.0zM86.2 305.7h1.0v1.0h-1.0zM77.8 309.6h1.0v1.0h-1.0zM79.7 305.0h1.0v1.0h-1.0zM88.1 302.8h1.0v1.0h-1.0zM96.8 301.9h1.0v1.0h-1.0zM96.3 306.0h1.0v1.0h-1.0zM85.4 306.5h1.0v1.0h-1.0zM94.9 301.7h1.0v1.0h-1.0zM88.5 302.6h1.0v1.0h-1.0zM88.3 303.3h1.0v1.0h-1.0zM88.4 307.6h1.0v1.0h-1.0zM95.4 303.0h1.0v1.0h-1.0zM89.1 306.9h1.0v1.0h-1.0zM86.5 301.5h1.0v1.0h-1.0zM93.9 300.0h1.0v1.0h-1.0zM92.9 300.2h1.0v1.0h-1.0zM97.7 298.7h1.0v1.0h-1.0zM92.5 308.1h1.0v1.0h-1.0zM82.9 310.5h1.0v1.0h-1.0zM83.7 300.0h1.0v1.0h-1.0zM91.8 305.7h1.0v1.0h-1.0zM86.9 296.8h1.0v1.0h-1.0zM87.7 303.6h1.0v1.0h-1.0zM86.0 304.1h1.0v1.0h-1.0zM78.5 305.2h1.0v1.0h-1.0zM97.5 306.9h1.0v1.0h-1.0zM86.1 302.7h1.0v1.0h-1.0zM90.1 307.3h1.0v1.0h-1.0zM91.8 299.8h1.0v1.0h-1.0zM88.9 304.7h1.0v1.0h-1.0zM95.6 306.3h1.0v1.0h-1.0zM90.8 307.6h1.0v1.0h-1.0zM85.9 309.9h1.0v1.0h-1.0zM85.8 306.3h1.0v1.0h-1.0zM92.8 300.3h1.0v1.0h-1.0zM84.3 299.9h1.0v1.0h-1.0zM88.9 304.1h1.0v1.0h-1.0zM86.3 306.5h1.0v1.0h-1.0zM76.8 307.4h1.0v1.0h-1.0zM88.5 303.5h1.0v1.0h-1.0zM92.2 309.0h1.0v1.0h-1.0zM85.6 302.1h1.0v1.0h-1.0zM84.8 305.6h1.0v1.0h-1.0zM91.1 301.0h1.0v1.0h-1.0zM93.3 299.9h1.0v1.0h-1.0zM92.4 304.7h1.0v1.0h-1.0zM90.4 310.7h1.0v1.0h-1.0zM86.6 304.3h1.0v1.0h-1.0zM90.5 306.6h1.0v1.0h-1.0zM80.9 307.2h1.0v1.0h-1.0zM84.1 307.5h1.0v1.0h-1.0zM95.2 302.8h1.0v1.0h-1.0zM87.4 305.2h1.0v1.0h-1.0zM91.0 304.2h1.0v1.0h-1.0zM85.9 302.7h1.0v1.0h-1.0zM87.1 308.6h1.0v1.0h-1.0zM87.5 308.9h1.0v1.0h-1.0zM89.4 304.1h1.0v1.0h-1.0zM79.2 304.7h1.0v1.0h-1.0zM94.6 298.7h1.0v1.0h-1.0zM82.8 302.4h1.0v1.0h-1.0zM85.1 307.3h1.0v1.0h-1.0zM91.1 297.2h1.0v1.0h-1.0zM95.7 300.6h1.0v1.0h-1.0zM84.9 310.6h1.0v1.0h-1.0zM87.6 300.7h1.0v1.0h-1.0zM84.6 303.1h1.0v1.0h-1.0zM82.7 304.8h1.0v1.0h-1.0zM92.6 304.4h1.0v1.0h-1.0zM82.8 306.2h1.0v1.0h-1.0zM88.2 306.9h1.0v1.0h-1.0zM86.3 306.4h1.0v1.0h-1.0zM99.1 301.9h1.0v1.0h-1.0zM82.3 307.0h1.0v1.0h-1.0zM83.8 304.4h1.0v1.0h-1.0zM89.0 305.3h1.0v1.0h-1.0zM86.5 307.6h1.0v1.0h-1.0zM87.0 300.6h1.0v1.0h-1.0zM92.6 302.1h1.0v1.0h-1.0zM94.4 300.7h1.0v1.0h-1.0zM91.0 304.7h1.0v1.0h-1.0zM82.1 310.5h1.0v1.0h-1.0zM78.0 310.0h1.0v1.0h-1.0zM93.8 304.6h1.0v1.0h-1.0zM91.6 302.0h1.0v1.0h-1.0zM87.9 305.2h1.0v1.0h-1.0zM90.2 306.2h1.0v1.0h-1.0zM86.9 302.6h1.0v1.0h-1.0zM85.0 306.6h1.0v1.0h-1.0zM79.2 302.8h1.0v1.0h-1.0zM85.8 303.3h1.0v1.0h-1.0zM86.6 296.4h1.0v1.0h-1.0zM86.2 304.2h1.0v1.0h-1.0zM92.1 297.2h1.0v1.0h-1.0zM86.4 306.4h1.0v1.0h-1.0zM90.6 307.6h1.0v1.0h-1.0zM93.6 299.7h1.0v1.0h-1.0zM91.4 302.6h1.0v1.0h-1.0zM83.8 310.5h1.0v1.0h-1.0zM84.7 302.7h1.0v1.0h-1.0zM85.8 302.4h1.0v1.0h-1.0zM93.3 304.3h1.0v1.0h-1.0zM95.4 303.9h1.0v1.0h-1.0zM84.7 308.7h1.0v1.0h-1.0zM84.5 303.9h1.0v1.0h-1.0zM87.1 304.9h1.0v1.0h-1.0zM94.3 300.9h1.0v1.0h-1.0zM89.9 303.9h1.0v1.0h-1.0zM81.3 302.8h1.0v1.0h-1.0zM86.8 306.1h1.0v1.0h-1.0zM89.7 305.6h1.0v1.0h-1.0zM88.3 303.0h1.0v1.0h-1.0zM90.3 300.7h1.0v1.0h-1.0zM80.9 305.3h1.0v1.0h-1.0zM80.4 304.8h1.0v1.0h-1.0zM84.0 303.8h1.0v1.0h-1.0zM87.8 302.0h1.0v1.0h-1.0zM85.8 299.6h1.0v1.0h-1.0zM88.8 301.5h1.0v1.0h-1.0zM90.1 294.9h1.0v1.0h-1.0zM83.7 306.4h1.0v1.0h-1.0zM75.1 306.7h1.0v1.0h-1.0zM88.5 304.7h1.0v1.0h-1.0zM80.1 307.3h1.0v1.0h-1.0zM88.8 301.2h1.0v1.0h-1.0zM91.9 303.3h1.0v1.0h-1.0zM88.1 303.0h1.0v1.0h-1.0zM90.9 304.0h1.0v1.0h-1.0zM94.0 304.4h1.0v1.0h-1.0zM84.7 304.6h1.0v1.0h-1.0zM92.9 302.1h1.0v1.0h-1.0zM90.0 305.6h1.0v1.0h-1.0zM87.0 297.3h1.0v1.0h-1.0zM88.7 305.0h1.0v1.0h-1.0zM88.7 301.9h1.0v1.0h-1.0zM94.4 302.4h1.0v1.0h-1.0zM84.7 303.1h1.0v1.0h-1.0zM89.9 300.5h1.0v1.0h-1.0zM82.7 312.3h1.0v1.0h-1.0zM95.0 306.0h1.0v1.0h-1.0zM95.3 304.5h1.0v1.0h-1.0zM79.0 310.7h1.0v1.0h-1.0zM94.6 304.3h1.0v1.0h-1.0zM77.6 311.2h1.0v1.0h-1.0zM95.3 301.0h1.0v1.0h-1.0zM88.7 306.8h1.0v1.0h-1.0zM87.5 308.1h1.0v1.0h-1.0zM88.4 306.6h1.0v1.0h-1.0zM88.5 299.7h1.0v1.0h-1.0zM89.5 308.3h1.0v1.0h-1.0zM94.1 308.4h1.0v1.0h-1.0zM91.0 301.8h1.0v1.0h-1.0zM88.1 298.3h1.0v1.0h-1.0zM87.0 307.7h1.0v1.0h-1.0zM76.5 308.1h1.0v1.0h-1.0zM92.4 307.6h1.0v1.0h-1.0zM83.1 303.7h1.0v1.0h-1.0zM78.0 303.9h1.0v1.0h-1.0zM90.8 310.4h1.0v1.0h-1.0zM81.9 310.5h1.0v1.0h-1.0zM90.3 302.3h1.0v1.0h-1.0zM87.6 305.3h1.0v1.0h-1.0zM99.4 307.3h1.0v1.0h-1.0zM100.1 301.8h1.0v1.0h-1.0zM93.2 307.5h1.0v1.0h-1.0zM90.7 304.9h1.0v1.0h-1.0zM87.0 303.4h1.0v1.0h-1.0zM81.4 312.5h1.0v1.0h-1.0zM85.6 298.5h1.0v1.0h-1.0zM89.4 304.0h1.0v1.0h-1.0zM88.9 310.1h1.0v1.0h-1.0zM87.4 303.8h1.0v1.0h-1.0zM84.0 305.5h1.0v1.0h-1.0zM85.7 305.8h1.0v1.0h-1.0zM83.4 311.9h1.0v1.0h-1.0zM92.6 305.9h1.0v1.0h-1.0zM91.8 306.1h1.0v1.0h-1.0zM91.6 308.1h1.0v1.0h-1.0zM93.4 307.4h1.0v1.0h-1.0zM85.3 305.2h1.0v1.0h-1.0zM84.1 308.6h1.0v1.0h-1.0zM92.4 301.8h1.0v1.0h-1.0zM91.1 312.1h1.0v1.0h-1.0zM94.6 299.2h1.0v1.0h-1.0z" fill="#555" fill-opacity="0.4"/>
<ellipse cx="88.3" cy="304.3" rx="3.4" ry="2.0" fill="#e8e8e8" transform="rotate(-35 88.3 304.3)" filter="url(#b8)"/>
<rect x="74.2" y="293.7" width="27.6" height="20.5" fill="none" stroke="#333" stroke-width="1"/>
<text x="75.6" y="299" font-size="4.4" text-anchor="start" fill="#222" stroke="#222" stroke-width="0.12">R7</text>
<text x="52.8" y="287.6" font-size="8.6" text-anchor="start" fill="#111" textLength="76.6" lengthAdjust="spacingAndGlyphs" stroke="#111" stroke-width="0.3">Wild-type + anti-OVA</text>
<rect x="160.5" y="278.4" width="93.4" height="86.2" fill="none" stroke="#727272" stroke-width="1.1"/>
<text x="157.7" y="280.0" font-size="4.6" text-anchor="end" fill="#333" stroke="#333" stroke-width="0.12">486</text>
<line x1="158.0" y1="278.4" x2="160.5" y2="278.4" stroke="#666" stroke-width="0.7"/>
<text x="157.7" y="301.8" font-size="4.6" text-anchor="end" fill="#333" stroke="#333" stroke-width="0.12">364</text>
<line x1="158.0" y1="300.2" x2="160.5" y2="300.2" stroke="#666" stroke-width="0.7"/>
<text x="157.7" y="323.20000000000005" font-size="4.6" text-anchor="end" fill="#333" stroke="#333" stroke-width="0.12">243</text>
<line x1="158.0" y1="321.6" x2="160.5" y2="321.6" stroke="#666" stroke-width="0.7"/>
<text x="157.7" y="344.8" font-size="4.6" text-anchor="end" fill="#333" stroke="#333" stroke-width="0.12">121</text>
<line x1="158.0" y1="343.2" x2="160.5" y2="343.2" stroke="#666" stroke-width="0.7"/>
<text x="157.7" y="366.20000000000005" font-size="4.6" text-anchor="end" fill="#333" stroke="#333" stroke-width="0.12">0</text>
<line x1="158.0" y1="364.6" x2="160.5" y2="364.6" stroke="#666" stroke-width="0.7"/>
<text x="147.8" y="321.7" font-size="4.8" text-anchor="middle" fill="#333" transform="rotate(-90 147.8 321.7)" stroke="#333" stroke-width="0.12">Counts</text>
<text x="159.18" y="371.028" font-size="4.4" fill="#3a3a3a" stroke="#3a3a3a" stroke-width="0.12" text-anchor="middle">10<tspan font-size="3.3" dy="-1.32">0</tspan></text>
<line x1="160.5" y1="364.6" x2="160.5" y2="366.20000000000005" stroke="#666" stroke-width="0.7"/>
<text x="192.18" y="371.028" font-size="4.4" fill="#3a3a3a" stroke="#3a3a3a" stroke-width="0.12" text-anchor="middle">10<tspan font-size="3.3" dy="-1.32">1</tspan></text>
<line x1="193.5" y1="364.6" x2="193.5" y2="366.20000000000005" stroke="#666" stroke-width="0.7"/>
<text x="225.18" y="371.028" font-size="4.4" fill="#3a3a3a" stroke="#3a3a3a" stroke-width="0.12" text-anchor="middle">10<tspan font-size="3.3" dy="-1.32">2</tspan></text>
<line x1="226.5" y1="364.6" x2="226.5" y2="366.20000000000005" stroke="#666" stroke-width="0.7"/>
<path d="M160.5,365.0 L161.0,356.8 L161.8,353.7 L162.5,354.6 L163.2,347.1 L164.0,345.9 L164.7,341.3 L165.4,337.6 L166.2,332.6 L166.9,327.5 L167.7,325.2 L168.4,320.9 L169.2,319.4 L169.9,318.1 L170.7,317.9 L171.4,318.9 L172.2,318.6 L172.9,317.9 L173.7,314.8 L174.4,313.4 L175.2,314.1 L175.9,312.2 L176.7,313.5 L177.4,311.5 L178.2,309.9 L178.9,309.6 L180.1,308.0 L181.1,310.0 L181.8,312.5 L182.6,314.6 L183.3,317.7 L184.1,321.5 L184.8,325.8 L185.6,329.9 L186.3,330.0 L187.1,337.8 L187.8,341.8 L188.6,342.1 L189.3,349.1 L190.1,353.2 L190.8,354.5 L191.5,358.7 L192.3,357.6 L193.0,361.6 L193.8,363.9 L194.6,364.6 L194.6,364.6 L160.5,364.6 Z" fill="#5a5a5a" stroke="none" stroke-width="1" stroke-linejoin="round"/>
<line x1="194.6" y1="328.6" x2="194.6" y2="343.5" stroke="#555" stroke-width="0.95"/>
<line x1="194.6" y1="328.6" x2="253.9" y2="328.6" stroke="#555" stroke-width="0.95"/>
<text x="197.2" y="334.4" font-size="4.8" text-anchor="start" fill="#333" stroke="#333" stroke-width="0.12">R6</text>
<line x1="159.8" y1="375.3" x2="248.0" y2="375.3" stroke="#111" stroke-width="2"/>
<path d="M247.5,372.1 L254,375.3 L247.5,378.5 Z" fill="#111"/>
<text x="203.3" y="384.2" font-size="9.3" font-weight="bold" text-anchor="middle" fill="#111" textLength="36" lengthAdjust="spacingAndGlyphs" stroke="#111" stroke-width="0.15">Anti-OVA</text>
<rect x="48.4" y="391.2" width="86.4" height="85.0" fill="none" stroke="#727272" stroke-width="1.1"/>
<text x="45.199999999999996" y="392.828" font-size="4.4" fill="#3a3a3a" stroke="#3a3a3a" stroke-width="0.12" text-anchor="end">10<tspan font-size="3.3" dy="-1.32">4</tspan></text>
<line x1="46.4" y1="391.2" x2="48.4" y2="391.2" stroke="#666" stroke-width="0.7"/>
<text x="45.199999999999996" y="414.078" font-size="4.4" fill="#3a3a3a" stroke="#3a3a3a" stroke-width="0.12" text-anchor="end">10<tspan font-size="3.3" dy="-1.32">3</tspan></text>
<line x1="46.4" y1="412.45" x2="48.4" y2="412.45" stroke="#666" stroke-width="0.7"/>
<text x="45.199999999999996" y="435.328" font-size="4.4" fill="#3a3a3a" stroke="#3a3a3a" stroke-width="0.12" text-anchor="end">10<tspan font-size="3.3" dy="-1.32">2</tspan></text>
<line x1="46.4" y1="433.7" x2="48.4" y2="433.7" stroke="#666" stroke-width="0.7"/>
<text x="45.199999999999996" y="456.578" font-size="4.4" fill="#3a3a3a" stroke="#3a3a3a" stroke-width="0.12" text-anchor="end">10<tspan font-size="3.3" dy="-1.32">1</tspan></text>
<line x1="46.4" y1="454.95" x2="48.4" y2="454.95" stroke="#666" stroke-width="0.7"/>
<text x="45.199999999999996" y="477.828" font-size="4.4" fill="#3a3a3a" stroke="#3a3a3a" stroke-width="0.12" text-anchor="end">10<tspan font-size="3.3" dy="-1.32">0</tspan></text>
<line x1="46.4" y1="476.2" x2="48.4" y2="476.2" stroke="#666" stroke-width="0.7"/>
<text x="47.08" y="482.428" font-size="4.4" fill="#3a3a3a" stroke="#3a3a3a" stroke-width="0.12" text-anchor="middle">10<tspan font-size="3.3" dy="-1.32">0</tspan></text>
<line x1="48.4" y1="476.2" x2="48.4" y2="477.8" stroke="#666" stroke-width="0.7"/>
<text x="68.68" y="482.428" font-size="4.4" fill="#3a3a3a" stroke="#3a3a3a" stroke-width="0.12" text-anchor="middle">10<tspan font-size="3.3" dy="-1.32">1</tspan></text>
<line x1="70.0" y1="476.2" x2="70.0" y2="477.8" stroke="#666" stroke-width="0.7"/>
<text x="90.28" y="482.428" font-size="4.4" fill="#3a3a3a" stroke="#3a3a3a" stroke-width="0.12" text-anchor="middle">10<tspan font-size="3.3" dy="-1.32">2</tspan></text>
<line x1="91.6" y1="476.2" x2="91.6" y2="477.8" stroke="#666" stroke-width="0.7"/>
<text x="111.88000000000002" y="482.428" font-size="4.4" fill="#3a3a3a" stroke="#3a3a3a" stroke-width="0.12" text-anchor="middle">10<tspan font-size="3.3" dy="-1.32">3</tspan></text>
<line x1="113.20000000000002" y1="476.2" x2="113.20000000000002" y2="477.8" stroke="#666" stroke-width="0.7"/>
<text x="133.48000000000002" y="482.428" font-size="4.4" fill="#3a3a3a" stroke="#3a3a3a" stroke-width="0.12" text-anchor="middle">10<tspan font-size="3.3" dy="-1.32">4</tspan></text>
<line x1="134.8" y1="476.2" x2="134.8" y2="477.8" stroke="#666" stroke-width="0.7"/>
<path d="M61.9 461.1h1.0v1.0h-1.0zM62.3 450.9h1.0v1.0h-1.0zM66.3 452.9h1.0v1.0h-1.0zM61.9 452.5h1.0v1.0h-1.0zM58.7 460.8h1.0v1.0h-1.0zM59.7 466.9h1.0v1.0h-1.0zM64.6 459.8h1.0v1.0h-1.0zM70.0 466.8h1.0v1.0h-1.0zM71.9 457.0h1.0v1.0h-1.0zM64.4 452.0h1.0v1.0h-1.0zM62.7 465.4h1.0v1.0h-1.0zM68.2 453.6h1.0v1.0h-1.0zM53.0 451.6h1.0v1.0h-1.0zM69.1 465.1h1.0v1.0h-1.0zM69.6 444.6h1.0v1.0h-1.0zM63.9 460.9h1.0v1.0h-1.0zM57.1 465.4h1.0v1.0h-1.0zM64.0 451.9h1.0v1.0h-1.0zM53.9 470.9h1.0v1.0h-1.0zM69.5 448.8h1.0v1.0h-1.0zM56.1 470.5h1.0v1.0h-1.0zM71.8 452.5h1.0v1.0h-1.0zM81.5 447.8h1.0v1.0h-1.0zM55.7 472.4h1.0v1.0h-1.0zM64.2 461.8h1.0v1.0h-1.0zM66.4 449.4h1.0v1.0h-1.0zM54.4 462.1h1.0v1.0h-1.0zM79.7 442.7h1.0v1.0h-1.0zM79.2 453.2h1.0v1.0h-1.0zM55.2 465.7h1.0v1.0h-1.0zM71.5 447.7h1.0v1.0h-1.0zM55.2 467.1h1.0v1.0h-1.0zM58.1 449.5h1.0v1.0h-1.0zM63.7 460.6h1.0v1.0h-1.0zM60.6 450.8h1.0v1.0h-1.0zM68.1 442.2h1.0v1.0h-1.0zM71.2 459.5h1.0v1.0h-1.0zM82.3 457.3h1.0v1.0h-1.0zM69.5 458.5h1.0v1.0h-1.0zM66.3 446.7h1.0v1.0h-1.0zM80.2 455.3h1.0v1.0h-1.0zM63.2 449.7h1.0v1.0h-1.0zM80.4 455.3h1.0v1.0h-1.0zM54.5 469.4h1.0v1.0h-1.0zM84.4 448.6h1.0v1.0h-1.0zM69.9 452.6h1.0v1.0h-1.0zM59.9 470.1h1.0v1.0h-1.0zM95.9 444.0h1.0v1.0h-1.0zM64.8 465.3h1.0v1.0h-1.0zM63.0 465.6h1.0v1.0h-1.0zM74.0 445.4h1.0v1.0h-1.0zM55.6 462.6h1.0v1.0h-1.0zM74.1 456.3h1.0v1.0h-1.0zM78.1 440.4h1.0v1.0h-1.0zM70.8 450.4h1.0v1.0h-1.0zM67.0 460.2h1.0v1.0h-1.0zM56.6 460.8h1.0v1.0h-1.0zM54.7 465.9h1.0v1.0h-1.0zM57.7 458.0h1.0v1.0h-1.0zM68.1 451.4h1.0v1.0h-1.0zM77.1 447.1h1.0v1.0h-1.0zM74.2 456.3h1.0v1.0h-1.0zM56.0 461.2h1.0v1.0h-1.0zM57.9 459.0h1.0v1.0h-1.0zM63.4 474.6h1.0v1.0h-1.0zM61.9 473.2h1.0v1.0h-1.0zM70.3 444.9h1.0v1.0h-1.0zM76.0 456.3h1.0v1.0h-1.0zM64.0 456.9h1.0v1.0h-1.0zM68.5 454.2h1.0v1.0h-1.0zM60.8 457.5h1.0v1.0h-1.0zM77.3 447.1h1.0v1.0h-1.0zM69.7 446.5h1.0v1.0h-1.0zM59.1 449.9h1.0v1.0h-1.0zM64.1 464.7h1.0v1.0h-1.0zM69.0 452.4h1.0v1.0h-1.0zM71.9 452.1h1.0v1.0h-1.0zM69.6 458.5h1.0v1.0h-1.0zM71.2 434.6h1.0v1.0h-1.0zM53.4 470.8h1.0v1.0h-1.0zM63.7 454.5h1.0v1.0h-1.0zM80.5 455.4h1.0v1.0h-1.0zM84.4 453.1h1.0v1.0h-1.0zM64.0 465.1h1.0v1.0h-1.0zM58.4 458.1h1.0v1.0h-1.0zM60.6 458.8h1.0v1.0h-1.0zM73.5 450.2h1.0v1.0h-1.0zM69.1 452.3h1.0v1.0h-1.0zM74.5 430.6h1.0v1.0h-1.0zM64.0 460.4h1.0v1.0h-1.0zM55.6 471.7h1.0v1.0h-1.0zM68.1 467.7h1.0v1.0h-1.0zM75.3 458.7h1.0v1.0h-1.0zM64.6 449.6h1.0v1.0h-1.0zM63.9 455.2h1.0v1.0h-1.0zM68.4 452.9h1.0v1.0h-1.0zM95.5 429.9h1.0v1.0h-1.0zM77.4 448.4h1.0v1.0h-1.0zM63.7 466.9h1.0v1.0h-1.0zM66.0 447.8h1.0v1.0h-1.0zM70.0 454.4h1.0v1.0h-1.0zM55.8 456.9h1.0v1.0h-1.0zM70.7 458.2h1.0v1.0h-1.0zM70.1 450.8h1.0v1.0h-1.0zM68.3 455.8h1.0v1.0h-1.0zM64.2 456.6h1.0v1.0h-1.0zM60.5 468.9h1.0v1.0h-1.0zM66.3 472.1h1.0v1.0h-1.0zM73.6 467.9h1.0v1.0h-1.0zM64.9 461.7h1.0v1.0h-1.0zM61.8 458.7h1.0v1.0h-1.0zM49.3 461.5h1.0v1.0h-1.0zM56.8 457.1h1.0v1.0h-1.0zM77.7 454.3h1.0v1.0h-1.0zM77.8 459.3h1.0v1.0h-1.0zM74.9 462.0h1.0v1.0h-1.0zM60.2 467.6h1.0v1.0h-1.0zM62.9 455.1h1.0v1.0h-1.0zM77.5 470.3h1.0v1.0h-1.0zM74.0 446.9h1.0v1.0h-1.0zM68.6 459.8h1.0v1.0h-1.0zM69.6 453.2h1.0v1.0h-1.0zM53.6 464.5h1.0v1.0h-1.0zM74.3 460.4h1.0v1.0h-1.0zM72.4 464.0h1.0v1.0h-1.0zM56.4 462.4h1.0v1.0h-1.0zM69.3 464.7h1.0v1.0h-1.0zM67.5 461.6h1.0v1.0h-1.0zM67.3 474.9h1.0v1.0h-1.0zM89.9 448.0h1.0v1.0h-1.0zM52.2 459.2h1.0v1.0h-1.0zM68.2 471.2h1.0v1.0h-1.0zM70.5 461.3h1.0v1.0h-1.0zM75.8 454.8h1.0v1.0h-1.0zM57.7 461.3h1.0v1.0h-1.0zM69.2 454.1h1.0v1.0h-1.0zM59.6 458.2h1.0v1.0h-1.0zM51.5 456.7h1.0v1.0h-1.0zM65.1 455.4h1.0v1.0h-1.0zM66.4 469.5h1.0v1.0h-1.0zM68.9 456.3h1.0v1.0h-1.0zM54.7 454.7h1.0v1.0h-1.0zM69.6 448.9h1.0v1.0h-1.0zM70.1 447.0h1.0v1.0h-1.0zM67.3 456.7h1.0v1.0h-1.0zM75.6 449.9h1.0v1.0h-1.0zM62.4 461.8h1.0v1.0h-1.0zM66.5 471.8h1.0v1.0h-1.0zM63.5 454.8h1.0v1.0h-1.0zM62.9 463.5h1.0v1.0h-1.0zM68.3 462.7h1.0v1.0h-1.0zM83.7 448.9h1.0v1.0h-1.0zM54.4 465.1h1.0v1.0h-1.0zM70.0 437.4h1.0v1.0h-1.0zM66.1 445.6h1.0v1.0h-1.0zM70.4 467.3h1.0v1.0h-1.0zM75.9 440.5h1.0v1.0h-1.0zM79.3 458.9h1.0v1.0h-1.0zM62.5 463.9h1.0v1.0h-1.0zM80.6 447.9h1.0v1.0h-1.0zM65.8 453.4h1.0v1.0h-1.0zM77.1 434.5h1.0v1.0h-1.0zM79.7 443.1h1.0v1.0h-1.0zM74.9 440.0h1.0v1.0h-1.0zM57.0 457.5h1.0v1.0h-1.0zM74.0 440.5h1.0v1.0h-1.0zM71.8 449.8h1.0v1.0h-1.0zM77.9 449.4h1.0v1.0h-1.0zM70.7 454.2h1.0v1.0h-1.0zM83.3 446.4h1.0v1.0h-1.0zM65.8 474.7h1.0v1.0h-1.0zM66.7 463.3h1.0v1.0h-1.0zM58.9 463.2h1.0v1.0h-1.0zM59.8 448.6h1.0v1.0h-1.0zM52.4 474.3h1.0v1.0h-1.0zM70.1 443.3h1.0v1.0h-1.0zM83.5 443.5h1.0v1.0h-1.0zM62.5 461.8h1.0v1.0h-1.0zM55.1 450.0h1.0v1.0h-1.0zM58.8 471.4h1.0v1.0h-1.0zM75.2 440.3h1.0v1.0h-1.0zM77.6 452.5h1.0v1.0h-1.0zM70.8 456.0h1.0v1.0h-1.0zM70.0 447.7h1.0v1.0h-1.0zM57.3 456.5h1.0v1.0h-1.0zM62.5 464.9h1.0v1.0h-1.0zM59.9 456.1h1.0v1.0h-1.0zM72.8 458.2h1.0v1.0h-1.0zM62.7 450.7h1.0v1.0h-1.0zM56.4 449.5h1.0v1.0h-1.0zM77.0 461.5h1.0v1.0h-1.0zM84.0 453.2h1.0v1.0h-1.0zM69.2 462.7h1.0v1.0h-1.0zM75.2 451.3h1.0v1.0h-1.0zM69.4 474.3h1.0v1.0h-1.0zM49.7 454.4h1.0v1.0h-1.0zM56.7 468.9h1.0v1.0h-1.0zM77.4 449.5h1.0v1.0h-1.0zM72.5 454.4h1.0v1.0h-1.0zM68.9 452.1h1.0v1.0h-1.0zM65.7 458.1h1.0v1.0h-1.0zM76.9 471.2h1.0v1.0h-1.0zM66.0 466.1h1.0v1.0h-1.0zM76.2 459.4h1.0v1.0h-1.0zM73.8 446.2h1.0v1.0h-1.0zM77.6 444.2h1.0v1.0h-1.0zM78.4 457.3h1.0v1.0h-1.0zM56.5 472.5h1.0v1.0h-1.0zM59.4 455.1h1.0v1.0h-1.0zM51.1 463.6h1.0v1.0h-1.0zM75.8 447.5h1.0v1.0h-1.0zM83.8 454.9h1.0v1.0h-1.0zM60.8 450.5h1.0v1.0h-1.0zM50.2 470.6h1.0v1.0h-1.0zM78.5 442.9h1.0v1.0h-1.0zM66.0 455.7h1.0v1.0h-1.0zM63.5 463.4h1.0v1.0h-1.0zM86.2 442.6h1.0v1.0h-1.0zM74.2 463.0h1.0v1.0h-1.0zM63.3 458.1h1.0v1.0h-1.0zM53.1 473.5h1.0v1.0h-1.0zM60.9 455.1h1.0v1.0h-1.0zM66.6 450.5h1.0v1.0h-1.0zM56.0 460.5h1.0v1.0h-1.0zM80.3 449.1h1.0v1.0h-1.0zM71.1 443.2h1.0v1.0h-1.0zM62.2 447.1h1.0v1.0h-1.0zM65.0 463.6h1.0v1.0h-1.0zM49.3 459.0h1.0v1.0h-1.0zM68.5 449.0h1.0v1.0h-1.0zM73.7 462.2h1.0v1.0h-1.0zM70.3 452.3h1.0v1.0h-1.0zM65.6 452.9h1.0v1.0h-1.0zM64.7 461.3h1.0v1.0h-1.0zM63.1 467.6h1.0v1.0h-1.0zM91.0 440.9h1.0v1.0h-1.0zM69.3 463.2h1.0v1.0h-1.0zM72.2 452.9h1.0v1.0h-1.0zM61.4 468.7h1.0v1.0h-1.0zM72.0 459.2h1.0v1.0h-1.0zM58.2 467.2h1.0v1.0h-1.0zM73.7 452.6h1.0v1.0h-1.0zM72.2 473.0h1.0v1.0h-1.0zM54.7 452.2h1.0v1.0h-1.0zM63.7 463.7h1.0v1.0h-1.0zM66.5 448.0h1.0v1.0h-1.0zM52.1 460.3h1.0v1.0h-1.0zM66.1 451.0h1.0v1.0h-1.0zM57.9 460.7h1.0v1.0h-1.0zM60.7 455.7h1.0v1.0h-1.0zM66.4 455.3h1.0v1.0h-1.0zM72.0 445.1h1.0v1.0h-1.0zM65.3 464.8h1.0v1.0h-1.0zM77.4 456.9h1.0v1.0h-1.0zM66.4 444.8h1.0v1.0h-1.0zM50.5 473.9h1.0v1.0h-1.0zM72.6 459.5h1.0v1.0h-1.0zM49.9 448.2h1.0v1.0h-1.0zM55.8 453.2h1.0v1.0h-1.0zM67.5 448.7h1.0v1.0h-1.0zM81.3 445.1h1.0v1.0h-1.0zM60.6 468.0h1.0v1.0h-1.0zM69.2 448.9h1.0v1.0h-1.0zM74.0 470.2h1.0v1.0h-1.0zM54.1 461.9h1.0v1.0h-1.0zM55.6 446.9h1.0v1.0h-1.0zM72.1 460.8h1.0v1.0h-1.0zM75.5 456.9h1.0v1.0h-1.0zM59.5 451.4h1.0v1.0h-1.0zM55.3 469.8h1.0v1.0h-1.0zM70.6 439.7h1.0v1.0h-1.0zM74.7 464.2h1.0v1.0h-1.0zM66.3 447.6h1.0v1.0h-1.0zM83.2 438.4h1.0v1.0h-1.0zM65.2 442.4h1.0v1.0h-1.0zM53.8 449.8h1.0v1.0h-1.0zM76.6 462.6h1.0v1.0h-1.0zM62.1 448.5h1.0v1.0h-1.0zM65.4 461.5h1.0v1.0h-1.0zM51.1 455.7h1.0v1.0h-1.0zM65.0 464.4h1.0v1.0h-1.0zM66.7 461.4h1.0v1.0h-1.0zM53.8 443.1h1.0v1.0h-1.0zM69.0 448.7h1.0v1.0h-1.0zM64.8 455.4h1.0v1.0h-1.0zM70.7 449.1h1.0v1.0h-1.0zM80.1 451.2h1.0v1.0h-1.0zM71.2 460.7h1.0v1.0h-1.0zM76.1 456.4h1.0v1.0h-1.0zM84.2 452.9h1.0v1.0h-1.0zM71.5 459.2h1.0v1.0h-1.0zM59.7 455.4h1.0v1.0h-1.0zM59.7 471.0h1.0v1.0h-1.0zM69.6 471.3h1.0v1.0h-1.0zM70.9 471.6h1.0v1.0h-1.0zM70.5 445.7h1.0v1.0h-1.0zM83.0 452.3h1.0v1.0h-1.0zM77.7 454.0h1.0v1.0h-1.0zM62.8 461.0h1.0v1.0h-1.0zM55.0 453.4h1.0v1.0h-1.0zM57.3 457.9h1.0v1.0h-1.0zM52.7 463.8h1.0v1.0h-1.0zM69.0 473.7h1.0v1.0h-1.0zM84.1 448.6h1.0v1.0h-1.0zM74.7 451.8h1.0v1.0h-1.0zM69.8 455.8h1.0v1.0h-1.0zM60.7 461.3h1.0v1.0h-1.0zM51.5 469.0h1.0v1.0h-1.0zM63.2 450.2h1.0v1.0h-1.0zM62.5 464.5h1.0v1.0h-1.0zM59.3 465.4h1.0v1.0h-1.0zM71.6 468.5h1.0v1.0h-1.0zM55.3 462.4h1.0v1.0h-1.0zM71.0 468.3h1.0v1.0h-1.0zM68.6 463.1h1.0v1.0h-1.0zM51.6 460.2h1.0v1.0h-1.0zM82.4 447.4h1.0v1.0h-1.0zM87.3 441.1h1.0v1.0h-1.0zM63.3 445.8h1.0v1.0h-1.0zM72.3 457.1h1.0v1.0h-1.0zM85.9 449.5h1.0v1.0h-1.0zM63.5 447.2h1.0v1.0h-1.0zM65.2 466.5h1.0v1.0h-1.0zM73.3 464.8h1.0v1.0h-1.0zM74.5 453.3h1.0v1.0h-1.0zM72.0 456.5h1.0v1.0h-1.0zM69.7 447.2h1.0v1.0h-1.0zM69.8 458.6h1.0v1.0h-1.0zM75.8 465.4h1.0v1.0h-1.0zM81.1 442.3h1.0v1.0h-1.0zM69.3 459.3h1.0v1.0h-1.0zM55.0 459.5h1.0v1.0h-1.0zM67.9 463.4h1.0v1.0h-1.0zM87.7 449.7h1.0v1.0h-1.0zM60.0 440.8h1.0v1.0h-1.0zM76.6 451.6h1.0v1.0h-1.0zM64.9 450.1h1.0v1.0h-1.0zM73.3 439.0h1.0v1.0h-1.0zM67.1 458.5h1.0v1.0h-1.0zM69.0 467.7h1.0v1.0h-1.0zM65.0 459.3h1.0v1.0h-1.0zM74.5 440.4h1.0v1.0h-1.0zM63.1 460.0h1.0v1.0h-1.0zM75.5 446.4h1.0v1.0h-1.0zM74.0 457.3h1.0v1.0h-1.0zM51.2 452.7h1.0v1.0h-1.0zM51.8 466.3h1.0v1.0h-1.0zM68.1 463.2h1.0v1.0h-1.0zM74.2 449.2h1.0v1.0h-1.0zM76.6 459.7h1.0v1.0h-1.0zM70.7 459.8h1.0v1.0h-1.0zM53.2 467.5h1.0v1.0h-1.0zM55.7 452.9h1.0v1.0h-1.0zM62.5 460.9h1.0v1.0h-1.0zM65.5 455.4h1.0v1.0h-1.0zM56.1 464.6h1.0v1.0h-1.0zM58.6 449.6h1.0v1.0h-1.0zM66.9 470.1h1.0v1.0h-1.0zM62.0 450.9h1.0v1.0h-1.0zM79.8 465.9h1.0v1.0h-1.0zM63.1 457.6h1.0v1.0h-1.0zM67.3 465.9h1.0v1.0h-1.0zM70.4 440.1h1.0v1.0h-1.0zM55.0 452.9h1.0v1.0h-1.0zM70.3 456.8h1.0v1.0h-1.0zM83.8 446.8h1.0v1.0h-1.0zM69.1 457.1h1.0v1.0h-1.0zM68.8 469.3h1.0v1.0h-1.0zM78.9 446.3h1.0v1.0h-1.0zM72.8 451.3h1.0v1.0h-1.0zM67.1 458.8h1.0v1.0h-1.0zM66.2 453.8h1.0v1.0h-1.0zM81.5 448.0h1.0v1.0h-1.0zM73.0 469.0h1.0v1.0h-1.0zM72.2 463.7h1.0v1.0h-1.0zM79.8 460.5h1.0v1.0h-1.0zM83.1 437.1h1.0v1.0h-1.0zM85.5 448.5h1.0v1.0h-1.0zM52.1 464.8h1.0v1.0h-1.0zM51.1 456.7h1.0v1.0h-1.0z" fill="#555" fill-opacity="0.6"/>
<path d="M102.7 438.4h1.0v1.0h-1.0zM92.8 439.7h1.0v1.0h-1.0zM99.1 439.7h1.0v1.0h-1.0zM99.9 434.8h1.0v1.0h-1.0zM107.9 408.9h1.0v1.0h-1.0zM95.6 443.1h1.0v1.0h-1.0zM96.4 432.5h1.0v1.0h-1.0zM96.1 443.9h1.0v1.0h-1.0zM111.2 427.3h1.0v1.0h-1.0zM97.6 444.9h1.0v1.0h-1.0zM97.8 411.2h1.0v1.0h-1.0zM102.4 430.8h1.0v1.0h-1.0zM94.9 450.9h1.0v1.0h-1.0zM100.4 429.4h1.0v1.0h-1.0zM80.4 426.7h1.0v1.0h-1.0zM100.1 436.2h1.0v1.0h-1.0zM103.9 438.5h1.0v1.0h-1.0zM95.7 422.5h1.0v1.0h-1.0zM90.2 443.0h1.0v1.0h-1.0zM89.7 456.4h1.0v1.0h-1.0zM88.1 420.2h1.0v1.0h-1.0zM98.3 413.2h1.0v1.0h-1.0zM114.6 413.0h1.0v1.0h-1.0zM99.5 434.8h1.0v1.0h-1.0zM92.6 417.3h1.0v1.0h-1.0zM83.3 462.6h1.0v1.0h-1.0zM109.2 463.2h1.0v1.0h-1.0zM86.8 455.6h1.0v1.0h-1.0zM99.9 450.5h1.0v1.0h-1.0zM95.4 451.9h1.0v1.0h-1.0zM108.1 441.2h1.0v1.0h-1.0zM113.0 426.2h1.0v1.0h-1.0zM113.9 417.8h1.0v1.0h-1.0zM100.1 426.2h1.0v1.0h-1.0zM100.0 453.1h1.0v1.0h-1.0zM106.5 434.8h1.0v1.0h-1.0zM115.3 405.5h1.0v1.0h-1.0zM92.7 465.4h1.0v1.0h-1.0zM103.0 405.5h1.0v1.0h-1.0zM103.1 418.5h1.0v1.0h-1.0zM113.3 445.3h1.0v1.0h-1.0zM95.1 460.5h1.0v1.0h-1.0zM92.5 456.8h1.0v1.0h-1.0zM105.2 432.4h1.0v1.0h-1.0zM87.2 443.0h1.0v1.0h-1.0zM79.4 444.4h1.0v1.0h-1.0zM83.3 467.7h1.0v1.0h-1.0zM91.3 408.5h1.0v1.0h-1.0zM105.3 439.7h1.0v1.0h-1.0zM95.4 472.3h1.0v1.0h-1.0zM107.0 434.0h1.0v1.0h-1.0zM94.2 398.8h1.0v1.0h-1.0zM104.3 449.0h1.0v1.0h-1.0zM94.7 421.1h1.0v1.0h-1.0zM99.6 413.7h1.0v1.0h-1.0zM100.1 449.3h1.0v1.0h-1.0zM113.6 432.2h1.0v1.0h-1.0zM101.8 447.7h1.0v1.0h-1.0zM112.6 424.4h1.0v1.0h-1.0zM88.9 434.3h1.0v1.0h-1.0zM88.7 433.0h1.0v1.0h-1.0zM98.9 443.8h1.0v1.0h-1.0zM101.4 438.0h1.0v1.0h-1.0zM96.8 446.5h1.0v1.0h-1.0zM108.0 443.5h1.0v1.0h-1.0zM113.5 424.2h1.0v1.0h-1.0zM97.7 464.5h1.0v1.0h-1.0zM101.8 442.8h1.0v1.0h-1.0zM97.0 454.4h1.0v1.0h-1.0zM96.4 425.8h1.0v1.0h-1.0zM99.5 431.9h1.0v1.0h-1.0zM107.5 427.1h1.0v1.0h-1.0zM101.1 434.0h1.0v1.0h-1.0zM103.1 426.6h1.0v1.0h-1.0zM109.9 410.0h1.0v1.0h-1.0zM96.5 430.1h1.0v1.0h-1.0zM105.8 434.4h1.0v1.0h-1.0zM104.4 430.1h1.0v1.0h-1.0zM93.5 426.2h1.0v1.0h-1.0zM97.0 432.3h1.0v1.0h-1.0zM102.5 441.4h1.0v1.0h-1.0zM108.8 430.2h1.0v1.0h-1.0zM93.3 427.2h1.0v1.0h-1.0zM100.6 442.9h1.0v1.0h-1.0zM117.5 428.2h1.0v1.0h-1.0zM115.8 454.2h1.0v1.0h-1.0zM90.6 462.5h1.0v1.0h-1.0zM110.2 450.5h1.0v1.0h-1.0zM99.9 452.1h1.0v1.0h-1.0zM95.7 440.1h1.0v1.0h-1.0zM100.2 464.0h1.0v1.0h-1.0zM98.1 453.4h1.0v1.0h-1.0zM100.6 427.2h1.0v1.0h-1.0zM102.2 446.1h1.0v1.0h-1.0zM93.6 451.9h1.0v1.0h-1.0zM93.6 429.7h1.0v1.0h-1.0zM102.0 433.1h1.0v1.0h-1.0zM91.2 420.4h1.0v1.0h-1.0zM100.2 441.4h1.0v1.0h-1.0zM95.9 443.7h1.0v1.0h-1.0zM86.3 453.5h1.0v1.0h-1.0zM103.7 439.4h1.0v1.0h-1.0zM94.5 443.1h1.0v1.0h-1.0zM101.2 452.9h1.0v1.0h-1.0zM102.5 440.0h1.0v1.0h-1.0zM93.5 455.3h1.0v1.0h-1.0zM110.6 423.3h1.0v1.0h-1.0zM105.7 438.4h1.0v1.0h-1.0zM99.6 419.4h1.0v1.0h-1.0zM115.8 399.4h1.0v1.0h-1.0zM102.7 430.5h1.0v1.0h-1.0zM110.3 424.5h1.0v1.0h-1.0zM100.4 446.7h1.0v1.0h-1.0zM104.1 427.5h1.0v1.0h-1.0zM106.1 439.4h1.0v1.0h-1.0zM108.9 424.2h1.0v1.0h-1.0zM99.6 432.6h1.0v1.0h-1.0zM92.5 447.1h1.0v1.0h-1.0zM103.7 456.2h1.0v1.0h-1.0zM97.1 445.7h1.0v1.0h-1.0zM110.3 429.0h1.0v1.0h-1.0zM100.6 439.6h1.0v1.0h-1.0zM93.8 428.0h1.0v1.0h-1.0zM110.0 433.4h1.0v1.0h-1.0zM99.3 420.3h1.0v1.0h-1.0zM101.1 454.4h1.0v1.0h-1.0zM89.7 432.3h1.0v1.0h-1.0zM110.0 451.8h1.0v1.0h-1.0zM113.9 420.0h1.0v1.0h-1.0zM105.4 423.2h1.0v1.0h-1.0zM104.7 429.4h1.0v1.0h-1.0zM101.8 456.3h1.0v1.0h-1.0zM103.0 432.3h1.0v1.0h-1.0zM100.5 441.5h1.0v1.0h-1.0zM95.4 444.3h1.0v1.0h-1.0zM105.4 456.9h1.0v1.0h-1.0zM81.5 433.8h1.0v1.0h-1.0zM88.9 458.6h1.0v1.0h-1.0zM121.8 425.3h1.0v1.0h-1.0zM101.1 453.8h1.0v1.0h-1.0z" fill="#888" fill-opacity="0.65"/>
<path d="M92.0 471.1h1.0v1.0h-1.0zM90.3 474.4h1.0v1.0h-1.0zM101.2 416.2h1.0v1.0h-1.0zM119.0 415.1h1.0v1.0h-1.0zM133.0 434.2h1.0v1.0h-1.0zM68.0 472.1h1.0v1.0h-1.0zM76.0 430.5h1.0v1.0h-1.0zM77.8 450.2h1.0v1.0h-1.0zM50.9 428.0h1.0v1.0h-1.0zM62.6 462.1h1.0v1.0h-1.0zM49.0 445.6h1.0v1.0h-1.0zM70.7 434.1h1.0v1.0h-1.0zM96.2 453.4h1.0v1.0h-1.0zM60.6 418.0h1.0v1.0h-1.0zM59.1 472.0h1.0v1.0h-1.0zM61.5 410.3h1.0v1.0h-1.0zM92.9 443.6h1.0v1.0h-1.0zM123.5 404.3h1.0v1.0h-1.0zM68.7 412.6h1.0v1.0h-1.0zM98.2 433.9h1.0v1.0h-1.0zM83.4 466.6h1.0v1.0h-1.0zM104.6 464.5h1.0v1.0h-1.0zM129.4 420.2h1.0v1.0h-1.0zM128.1 430.6h1.0v1.0h-1.0zM53.3 468.6h1.0v1.0h-1.0zM57.7 401.3h1.0v1.0h-1.0zM73.3 421.7h1.0v1.0h-1.0zM130.2 465.3h1.0v1.0h-1.0zM84.3 439.7h1.0v1.0h-1.0zM120.3 460.5h1.0v1.0h-1.0zM103.9 438.5h1.0v1.0h-1.0zM58.8 418.3h1.0v1.0h-1.0zM104.3 444.0h1.0v1.0h-1.0zM116.3 467.4h1.0v1.0h-1.0zM129.8 414.5h1.0v1.0h-1.0zM55.4 467.3h1.0v1.0h-1.0zM96.9 413.6h1.0v1.0h-1.0zM107.1 419.2h1.0v1.0h-1.0zM68.9 427.5h1.0v1.0h-1.0zM93.0 450.8h1.0v1.0h-1.0z" fill="#bbb" fill-opacity="0.8"/>
<ellipse cx="90.5" cy="447" rx="6.8" ry="16" fill="#444" fill-opacity="0.72" transform="rotate(6 90.5 447)" filter="url(#b25)"/>
<path d="M96.7 455.8h1.0v1.0h-1.0zM87.1 438.3h1.0v1.0h-1.0zM87.0 430.4h1.0v1.0h-1.0zM95.3 448.8h1.0v1.0h-1.0zM87.6 432.3h1.0v1.0h-1.0zM88.9 441.6h1.0v1.0h-1.0zM97.6 444.2h1.0v1.0h-1.0zM91.0 457.6h1.0v1.0h-1.0zM93.3 445.9h1.0v1.0h-1.0zM81.5 458.6h1.0v1.0h-1.0zM93.0 443.3h1.0v1.0h-1.0zM90.1 437.6h1.0v1.0h-1.0zM86.8 431.6h1.0v1.0h-1.0zM92.6 452.6h1.0v1.0h-1.0zM91.2 454.8h1.0v1.0h-1.0zM92.7 448.7h1.0v1.0h-1.0zM86.9 451.9h1.0v1.0h-1.0zM95.4 454.3h1.0v1.0h-1.0zM95.7 443.6h1.0v1.0h-1.0zM86.5 458.3h1.0v1.0h-1.0zM88.1 448.8h1.0v1.0h-1.0zM89.7 447.0h1.0v1.0h-1.0zM89.4 441.5h1.0v1.0h-1.0zM83.1 463.9h1.0v1.0h-1.0zM91.3 428.4h1.0v1.0h-1.0zM86.8 435.1h1.0v1.0h-1.0zM87.4 421.4h1.0v1.0h-1.0zM92.9 463.6h1.0v1.0h-1.0zM89.5 454.0h1.0v1.0h-1.0zM93.0 435.4h1.0v1.0h-1.0zM95.5 431.7h1.0v1.0h-1.0zM88.1 442.9h1.0v1.0h-1.0zM95.7 449.4h1.0v1.0h-1.0zM90.0 439.0h1.0v1.0h-1.0zM90.9 447.5h1.0v1.0h-1.0zM93.5 461.3h1.0v1.0h-1.0zM93.5 447.9h1.0v1.0h-1.0zM89.9 462.5h1.0v1.0h-1.0zM91.3 447.0h1.0v1.0h-1.0zM97.9 464.0h1.0v1.0h-1.0zM92.8 446.5h1.0v1.0h-1.0zM87.9 456.8h1.0v1.0h-1.0zM88.6 455.9h1.0v1.0h-1.0zM87.3 447.3h1.0v1.0h-1.0zM92.2 448.8h1.0v1.0h-1.0zM91.5 450.9h1.0v1.0h-1.0zM85.9 435.1h1.0v1.0h-1.0zM89.9 464.4h1.0v1.0h-1.0zM90.0 437.9h1.0v1.0h-1.0zM87.8 446.7h1.0v1.0h-1.0zM95.4 442.7h1.0v1.0h-1.0zM92.8 449.4h1.0v1.0h-1.0zM89.0 437.5h1.0v1.0h-1.0zM89.9 439.8h1.0v1.0h-1.0zM92.7 430.4h1.0v1.0h-1.0zM95.1 455.5h1.0v1.0h-1.0zM92.9 462.1h1.0v1.0h-1.0zM93.0 431.0h1.0v1.0h-1.0zM90.7 451.4h1.0v1.0h-1.0zM87.7 435.3h1.0v1.0h-1.0zM92.3 452.4h1.0v1.0h-1.0zM88.8 444.2h1.0v1.0h-1.0zM88.4 441.0h1.0v1.0h-1.0zM90.3 457.4h1.0v1.0h-1.0zM83.9 442.1h1.0v1.0h-1.0zM97.1 451.7h1.0v1.0h-1.0zM91.1 455.3h1.0v1.0h-1.0zM86.4 434.3h1.0v1.0h-1.0zM83.7 431.2h1.0v1.0h-1.0zM91.5 455.5h1.0v1.0h-1.0zM88.8 440.0h1.0v1.0h-1.0zM92.2 453.3h1.0v1.0h-1.0zM91.6 428.8h1.0v1.0h-1.0zM88.3 421.9h1.0v1.0h-1.0zM91.5 439.0h1.0v1.0h-1.0zM87.8 460.9h1.0v1.0h-1.0zM95.9 453.0h1.0v1.0h-1.0zM91.6 448.9h1.0v1.0h-1.0zM88.1 445.9h1.0v1.0h-1.0zM98.3 440.4h1.0v1.0h-1.0zM87.8 447.9h1.0v1.0h-1.0zM94.1 455.9h1.0v1.0h-1.0zM86.5 444.8h1.0v1.0h-1.0zM89.4 434.8h1.0v1.0h-1.0zM90.8 442.4h1.0v1.0h-1.0zM94.3 452.1h1.0v1.0h-1.0zM87.3 447.0h1.0v1.0h-1.0zM89.0 440.5h1.0v1.0h-1.0zM88.5 456.8h1.0v1.0h-1.0zM88.8 430.0h1.0v1.0h-1.0zM87.3 454.1h1.0v1.0h-1.0zM99.3 438.9h1.0v1.0h-1.0zM89.0 443.5h1.0v1.0h-1.0zM84.8 449.5h1.0v1.0h-1.0zM90.3 449.7h1.0v1.0h-1.0zM99.6 446.6h1.0v1.0h-1.0zM93.7 455.8h1.0v1.0h-1.0zM87.9 440.7h1.0v1.0h-1.0zM96.9 455.4h1.0v1.0h-1.0zM91.1 436.6h1.0v1.0h-1.0zM94.1 453.0h1.0v1.0h-1.0zM99.5 463.4h1.0v1.0h-1.0zM93.8 450.4h1.0v1.0h-1.0zM90.8 441.7h1.0v1.0h-1.0zM91.8 449.7h1.0v1.0h-1.0zM93.2 458.1h1.0v1.0h-1.0zM91.8 442.1h1.0v1.0h-1.0zM93.8 462.8h1.0v1.0h-1.0zM87.1 450.3h1.0v1.0h-1.0zM92.7 452.7h1.0v1.0h-1.0zM92.6 446.6h1.0v1.0h-1.0zM90.1 463.2h1.0v1.0h-1.0zM97.6 435.1h1.0v1.0h-1.0zM80.1 448.8h1.0v1.0h-1.0zM87.7 441.3h1.0v1.0h-1.0zM84.0 448.9h1.0v1.0h-1.0zM90.3 441.7h1.0v1.0h-1.0zM94.2 471.4h1.0v1.0h-1.0zM96.5 459.8h1.0v1.0h-1.0zM88.8 453.0h1.0v1.0h-1.0zM90.3 458.2h1.0v1.0h-1.0zM92.9 447.2h1.0v1.0h-1.0zM92.8 440.6h1.0v1.0h-1.0zM93.7 462.3h1.0v1.0h-1.0zM89.0 452.0h1.0v1.0h-1.0zM83.7 454.4h1.0v1.0h-1.0zM94.1 438.0h1.0v1.0h-1.0zM97.6 449.8h1.0v1.0h-1.0zM83.4 432.1h1.0v1.0h-1.0zM94.1 445.2h1.0v1.0h-1.0zM95.0 433.1h1.0v1.0h-1.0zM90.1 456.4h1.0v1.0h-1.0zM87.7 452.9h1.0v1.0h-1.0zM89.0 450.0h1.0v1.0h-1.0zM91.8 468.9h1.0v1.0h-1.0zM85.4 453.3h1.0v1.0h-1.0zM95.9 437.4h1.0v1.0h-1.0zM90.8 469.4h1.0v1.0h-1.0zM94.8 419.4h1.0v1.0h-1.0zM89.5 430.2h1.0v1.0h-1.0zM91.7 440.3h1.0v1.0h-1.0zM88.2 438.4h1.0v1.0h-1.0zM91.7 442.8h1.0v1.0h-1.0zM86.8 443.9h1.0v1.0h-1.0zM92.2 439.1h1.0v1.0h-1.0zM95.0 432.0h1.0v1.0h-1.0zM92.2 443.6h1.0v1.0h-1.0zM96.9 442.3h1.0v1.0h-1.0zM87.8 433.4h1.0v1.0h-1.0zM98.6 454.9h1.0v1.0h-1.0zM86.1 442.7h1.0v1.0h-1.0zM86.6 460.8h1.0v1.0h-1.0zM92.2 427.7h1.0v1.0h-1.0zM91.4 456.1h1.0v1.0h-1.0zM90.5 451.6h1.0v1.0h-1.0zM90.1 448.9h1.0v1.0h-1.0zM91.4 440.4h1.0v1.0h-1.0zM91.9 448.9h1.0v1.0h-1.0zM90.3 440.4h1.0v1.0h-1.0zM86.4 448.4h1.0v1.0h-1.0zM93.9 424.4h1.0v1.0h-1.0zM88.3 459.6h1.0v1.0h-1.0zM94.2 441.0h1.0v1.0h-1.0zM96.0 438.8h1.0v1.0h-1.0zM87.3 465.0h1.0v1.0h-1.0zM88.7 444.5h1.0v1.0h-1.0zM83.8 435.6h1.0v1.0h-1.0zM85.7 444.5h1.0v1.0h-1.0zM83.0 455.5h1.0v1.0h-1.0zM89.0 440.8h1.0v1.0h-1.0zM87.9 453.6h1.0v1.0h-1.0zM96.8 444.5h1.0v1.0h-1.0zM97.1 464.2h1.0v1.0h-1.0zM96.0 451.2h1.0v1.0h-1.0zM84.4 452.1h1.0v1.0h-1.0zM88.8 448.5h1.0v1.0h-1.0zM82.8 442.4h1.0v1.0h-1.0zM91.5 438.2h1.0v1.0h-1.0zM91.7 463.5h1.0v1.0h-1.0zM91.4 440.6h1.0v1.0h-1.0zM86.7 450.1h1.0v1.0h-1.0zM88.1 424.2h1.0v1.0h-1.0zM91.6 455.3h1.0v1.0h-1.0zM87.3 460.4h1.0v1.0h-1.0zM92.5 459.0h1.0v1.0h-1.0zM84.3 445.5h1.0v1.0h-1.0zM97.0 468.1h1.0v1.0h-1.0zM95.9 448.3h1.0v1.0h-1.0zM91.2 441.1h1.0v1.0h-1.0zM95.0 441.3h1.0v1.0h-1.0zM91.0 427.1h1.0v1.0h-1.0zM84.3 462.8h1.0v1.0h-1.0zM90.7 449.1h1.0v1.0h-1.0zM81.5 444.5h1.0v1.0h-1.0zM99.0 434.5h1.0v1.0h-1.0zM80.8 443.1h1.0v1.0h-1.0zM88.3 444.4h1.0v1.0h-1.0zM85.4 432.6h1.0v1.0h-1.0zM85.4 452.0h1.0v1.0h-1.0zM90.3 454.9h1.0v1.0h-1.0zM86.1 451.7h1.0v1.0h-1.0zM88.7 447.4h1.0v1.0h-1.0zM94.3 448.2h1.0v1.0h-1.0zM89.1 430.5h1.0v1.0h-1.0zM90.8 454.7h1.0v1.0h-1.0zM87.9 445.7h1.0v1.0h-1.0zM83.2 432.3h1.0v1.0h-1.0zM92.2 460.0h1.0v1.0h-1.0zM89.2 430.4h1.0v1.0h-1.0zM88.9 431.4h1.0v1.0h-1.0zM89.4 465.5h1.0v1.0h-1.0zM91.7 445.8h1.0v1.0h-1.0zM94.8 444.3h1.0v1.0h-1.0zM91.9 449.3h1.0v1.0h-1.0zM92.3 433.1h1.0v1.0h-1.0zM93.4 456.3h1.0v1.0h-1.0zM81.1 418.3h1.0v1.0h-1.0zM86.8 460.7h1.0v1.0h-1.0zM90.6 453.6h1.0v1.0h-1.0zM92.8 456.2h1.0v1.0h-1.0zM87.9 440.7h1.0v1.0h-1.0zM92.1 453.3h1.0v1.0h-1.0zM92.9 450.9h1.0v1.0h-1.0zM88.5 457.3h1.0v1.0h-1.0zM92.4 457.9h1.0v1.0h-1.0zM80.0 454.4h1.0v1.0h-1.0zM80.4 446.7h1.0v1.0h-1.0zM87.8 447.5h1.0v1.0h-1.0zM88.5 443.5h1.0v1.0h-1.0zM91.3 450.6h1.0v1.0h-1.0zM87.2 421.4h1.0v1.0h-1.0zM87.3 451.5h1.0v1.0h-1.0zM87.0 450.4h1.0v1.0h-1.0zM89.0 437.4h1.0v1.0h-1.0zM95.3 464.4h1.0v1.0h-1.0zM90.1 446.4h1.0v1.0h-1.0zM94.5 434.9h1.0v1.0h-1.0zM86.9 457.3h1.0v1.0h-1.0zM94.2 443.0h1.0v1.0h-1.0zM87.3 449.7h1.0v1.0h-1.0zM84.7 440.7h1.0v1.0h-1.0zM89.5 422.6h1.0v1.0h-1.0zM93.0 455.1h1.0v1.0h-1.0zM94.9 433.9h1.0v1.0h-1.0zM85.2 437.7h1.0v1.0h-1.0zM85.1 465.9h1.0v1.0h-1.0zM86.4 442.9h1.0v1.0h-1.0zM91.4 451.7h1.0v1.0h-1.0zM96.5 437.7h1.0v1.0h-1.0zM94.2 449.3h1.0v1.0h-1.0zM85.6 447.3h1.0v1.0h-1.0zM84.7 461.6h1.0v1.0h-1.0zM87.5 456.2h1.0v1.0h-1.0zM95.9 442.2h1.0v1.0h-1.0zM86.8 447.4h1.0v1.0h-1.0zM86.1 454.8h1.0v1.0h-1.0zM91.2 439.6h1.0v1.0h-1.0zM87.6 453.5h1.0v1.0h-1.0zM84.5 462.2h1.0v1.0h-1.0zM87.2 444.3h1.0v1.0h-1.0zM86.6 462.1h1.0v1.0h-1.0zM93.9 460.7h1.0v1.0h-1.0zM93.2 448.5h1.0v1.0h-1.0zM97.6 455.3h1.0v1.0h-1.0zM92.3 453.1h1.0v1.0h-1.0zM93.6 450.5h1.0v1.0h-1.0zM89.8 431.0h1.0v1.0h-1.0zM99.1 436.2h1.0v1.0h-1.0zM81.5 437.8h1.0v1.0h-1.0zM98.6 461.0h1.0v1.0h-1.0zM88.0 449.0h1.0v1.0h-1.0zM90.4 427.3h1.0v1.0h-1.0zM89.1 449.6h1.0v1.0h-1.0zM95.4 436.2h1.0v1.0h-1.0zM81.1 429.1h1.0v1.0h-1.0zM91.9 448.1h1.0v1.0h-1.0zM91.1 448.6h1.0v1.0h-1.0zM89.0 433.1h1.0v1.0h-1.0zM92.4 451.3h1.0v1.0h-1.0zM92.9 460.0h1.0v1.0h-1.0zM85.3 422.5h1.0v1.0h-1.0zM83.0 466.5h1.0v1.0h-1.0zM86.7 450.1h1.0v1.0h-1.0zM90.4 454.2h1.0v1.0h-1.0zM89.8 440.9h1.0v1.0h-1.0zM91.5 452.4h1.0v1.0h-1.0zM86.4 459.1h1.0v1.0h-1.0zM95.3 452.6h1.0v1.0h-1.0zM90.0 444.5h1.0v1.0h-1.0zM83.6 451.9h1.0v1.0h-1.0zM86.4 441.0h1.0v1.0h-1.0zM94.7 438.8h1.0v1.0h-1.0zM88.3 455.0h1.0v1.0h-1.0zM98.3 442.0h1.0v1.0h-1.0zM95.1 441.6h1.0v1.0h-1.0zM92.1 452.2h1.0v1.0h-1.0zM85.7 456.1h1.0v1.0h-1.0zM98.1 449.3h1.0v1.0h-1.0zM91.6 435.6h1.0v1.0h-1.0zM98.0 449.4h1.0v1.0h-1.0zM85.1 453.3h1.0v1.0h-1.0zM84.4 438.7h1.0v1.0h-1.0zM81.5 458.6h1.0v1.0h-1.0zM99.8 442.9h1.0v1.0h-1.0zM87.8 440.6h1.0v1.0h-1.0zM88.1 451.9h1.0v1.0h-1.0zM96.6 438.4h1.0v1.0h-1.0zM92.3 429.5h1.0v1.0h-1.0zM96.9 447.6h1.0v1.0h-1.0zM87.6 461.5h1.0v1.0h-1.0zM90.1 460.5h1.0v1.0h-1.0zM95.0 464.6h1.0v1.0h-1.0zM87.1 446.8h1.0v1.0h-1.0zM92.0 445.4h1.0v1.0h-1.0zM96.9 441.4h1.0v1.0h-1.0zM94.7 461.6h1.0v1.0h-1.0zM82.3 435.4h1.0v1.0h-1.0zM86.7 440.7h1.0v1.0h-1.0zM92.1 445.7h1.0v1.0h-1.0zM90.8 442.5h1.0v1.0h-1.0zM90.2 451.7h1.0v1.0h-1.0zM93.6 440.0h1.0v1.0h-1.0zM90.0 439.3h1.0v1.0h-1.0zM89.8 432.5h1.0v1.0h-1.0zM94.5 454.6h1.0v1.0h-1.0zM90.0 440.1h1.0v1.0h-1.0zM88.6 439.9h1.0v1.0h-1.0zM84.0 461.7h1.0v1.0h-1.0zM85.6 451.6h1.0v1.0h-1.0zM93.0 432.0h1.0v1.0h-1.0zM82.4 450.5h1.0v1.0h-1.0zM82.1 459.2h1.0v1.0h-1.0zM88.4 447.4h1.0v1.0h-1.0zM90.5 441.4h1.0v1.0h-1.0zM89.9 443.9h1.0v1.0h-1.0zM95.7 447.3h1.0v1.0h-1.0zM90.4 441.7h1.0v1.0h-1.0zM87.8 439.0h1.0v1.0h-1.0zM90.5 465.3h1.0v1.0h-1.0zM95.2 450.5h1.0v1.0h-1.0zM97.5 458.8h1.0v1.0h-1.0zM91.4 445.6h1.0v1.0h-1.0zM85.9 448.4h1.0v1.0h-1.0zM89.2 430.9h1.0v1.0h-1.0zM85.1 465.0h1.0v1.0h-1.0zM91.4 452.2h1.0v1.0h-1.0zM91.3 442.6h1.0v1.0h-1.0zM92.4 458.2h1.0v1.0h-1.0zM89.2 451.8h1.0v1.0h-1.0zM94.8 443.2h1.0v1.0h-1.0zM91.2 439.8h1.0v1.0h-1.0zM93.0 443.9h1.0v1.0h-1.0zM95.3 440.5h1.0v1.0h-1.0zM97.6 445.6h1.0v1.0h-1.0zM87.0 437.2h1.0v1.0h-1.0zM93.3 439.1h1.0v1.0h-1.0zM98.1 461.6h1.0v1.0h-1.0zM92.7 433.4h1.0v1.0h-1.0zM90.4 439.7h1.0v1.0h-1.0zM82.9 449.4h1.0v1.0h-1.0zM99.7 443.9h1.0v1.0h-1.0zM93.9 460.6h1.0v1.0h-1.0zM86.5 442.7h1.0v1.0h-1.0zM91.6 452.0h1.0v1.0h-1.0zM85.7 448.0h1.0v1.0h-1.0zM90.1 456.4h1.0v1.0h-1.0zM83.8 439.8h1.0v1.0h-1.0zM88.4 443.3h1.0v1.0h-1.0zM93.5 441.5h1.0v1.0h-1.0zM94.0 458.0h1.0v1.0h-1.0zM94.6 445.9h1.0v1.0h-1.0zM87.0 443.6h1.0v1.0h-1.0zM93.3 448.9h1.0v1.0h-1.0zM92.9 453.3h1.0v1.0h-1.0zM86.8 436.8h1.0v1.0h-1.0zM96.6 443.6h1.0v1.0h-1.0zM83.8 463.9h1.0v1.0h-1.0zM87.0 436.9h1.0v1.0h-1.0zM94.6 436.7h1.0v1.0h-1.0zM86.8 456.6h1.0v1.0h-1.0zM87.1 471.1h1.0v1.0h-1.0zM90.9 473.8h1.0v1.0h-1.0zM91.0 447.7h1.0v1.0h-1.0zM87.8 444.1h1.0v1.0h-1.0zM88.4 446.3h1.0v1.0h-1.0zM93.7 435.1h1.0v1.0h-1.0zM86.6 425.3h1.0v1.0h-1.0zM96.8 447.8h1.0v1.0h-1.0zM90.4 446.4h1.0v1.0h-1.0zM94.7 451.2h1.0v1.0h-1.0zM94.1 446.2h1.0v1.0h-1.0zM90.0 446.3h1.0v1.0h-1.0zM82.7 456.0h1.0v1.0h-1.0zM83.9 435.5h1.0v1.0h-1.0zM93.3 448.2h1.0v1.0h-1.0zM93.9 464.8h1.0v1.0h-1.0zM98.3 462.6h1.0v1.0h-1.0zM89.6 467.2h1.0v1.0h-1.0zM86.8 445.3h1.0v1.0h-1.0zM94.7 445.9h1.0v1.0h-1.0zM90.0 443.4h1.0v1.0h-1.0zM96.2 423.8h1.0v1.0h-1.0zM95.8 458.8h1.0v1.0h-1.0zM90.2 452.5h1.0v1.0h-1.0zM86.4 457.1h1.0v1.0h-1.0zM96.4 447.8h1.0v1.0h-1.0zM89.1 441.8h1.0v1.0h-1.0zM89.7 434.4h1.0v1.0h-1.0zM84.8 462.2h1.0v1.0h-1.0zM90.4 452.5h1.0v1.0h-1.0zM91.8 452.1h1.0v1.0h-1.0zM84.1 436.0h1.0v1.0h-1.0zM93.2 457.6h1.0v1.0h-1.0zM85.7 440.1h1.0v1.0h-1.0zM86.0 452.4h1.0v1.0h-1.0zM91.9 447.7h1.0v1.0h-1.0zM87.8 449.8h1.0v1.0h-1.0zM90.6 439.6h1.0v1.0h-1.0zM91.9 440.7h1.0v1.0h-1.0zM94.5 454.2h1.0v1.0h-1.0zM87.6 452.2h1.0v1.0h-1.0zM90.8 440.0h1.0v1.0h-1.0zM86.7 429.5h1.0v1.0h-1.0zM85.8 449.3h1.0v1.0h-1.0zM95.6 442.0h1.0v1.0h-1.0zM91.2 450.6h1.0v1.0h-1.0zM93.8 452.2h1.0v1.0h-1.0zM95.7 455.9h1.0v1.0h-1.0zM87.3 450.2h1.0v1.0h-1.0zM80.7 442.9h1.0v1.0h-1.0zM90.6 452.8h1.0v1.0h-1.0zM89.2 455.0h1.0v1.0h-1.0zM96.0 440.0h1.0v1.0h-1.0zM88.2 449.0h1.0v1.0h-1.0zM92.6 448.9h1.0v1.0h-1.0zM94.0 436.1h1.0v1.0h-1.0zM93.8 459.4h1.0v1.0h-1.0zM95.2 452.4h1.0v1.0h-1.0zM89.5 450.7h1.0v1.0h-1.0zM90.2 431.1h1.0v1.0h-1.0zM88.0 446.0h1.0v1.0h-1.0zM88.3 437.2h1.0v1.0h-1.0zM89.5 443.1h1.0v1.0h-1.0zM90.8 446.6h1.0v1.0h-1.0zM91.2 457.1h1.0v1.0h-1.0zM91.1 451.2h1.0v1.0h-1.0zM85.4 416.4h1.0v1.0h-1.0zM88.8 453.3h1.0v1.0h-1.0zM89.1 440.5h1.0v1.0h-1.0zM85.3 454.6h1.0v1.0h-1.0zM88.3 448.9h1.0v1.0h-1.0zM95.2 453.5h1.0v1.0h-1.0zM99.9 447.9h1.0v1.0h-1.0zM94.5 454.9h1.0v1.0h-1.0zM87.7 446.8h1.0v1.0h-1.0zM88.1 436.2h1.0v1.0h-1.0zM91.8 439.6h1.0v1.0h-1.0zM97.6 441.3h1.0v1.0h-1.0zM88.2 447.4h1.0v1.0h-1.0zM88.3 447.0h1.0v1.0h-1.0zM87.9 432.2h1.0v1.0h-1.0zM80.4 431.8h1.0v1.0h-1.0zM96.9 452.9h1.0v1.0h-1.0zM91.1 442.5h1.0v1.0h-1.0zM89.9 449.8h1.0v1.0h-1.0zM84.7 437.7h1.0v1.0h-1.0zM86.8 458.6h1.0v1.0h-1.0zM86.1 457.6h1.0v1.0h-1.0zM88.5 473.7h1.0v1.0h-1.0zM90.2 447.2h1.0v1.0h-1.0zM96.2 457.1h1.0v1.0h-1.0zM94.4 437.3h1.0v1.0h-1.0zM95.3 464.9h1.0v1.0h-1.0zM90.1 442.1h1.0v1.0h-1.0zM85.9 456.0h1.0v1.0h-1.0zM91.7 447.4h1.0v1.0h-1.0zM85.3 461.9h1.0v1.0h-1.0zM94.2 447.7h1.0v1.0h-1.0zM96.7 439.0h1.0v1.0h-1.0zM94.2 437.9h1.0v1.0h-1.0zM96.4 445.7h1.0v1.0h-1.0zM95.6 444.1h1.0v1.0h-1.0zM92.2 458.8h1.0v1.0h-1.0zM86.7 447.1h1.0v1.0h-1.0zM87.0 454.6h1.0v1.0h-1.0zM88.0 442.7h1.0v1.0h-1.0zM89.6 458.4h1.0v1.0h-1.0zM86.1 445.7h1.0v1.0h-1.0zM89.1 441.2h1.0v1.0h-1.0zM87.2 444.6h1.0v1.0h-1.0zM91.3 431.8h1.0v1.0h-1.0zM91.5 435.5h1.0v1.0h-1.0zM90.6 469.7h1.0v1.0h-1.0zM86.4 445.4h1.0v1.0h-1.0zM89.4 456.5h1.0v1.0h-1.0zM88.5 428.8h1.0v1.0h-1.0zM83.7 447.2h1.0v1.0h-1.0zM91.6 457.9h1.0v1.0h-1.0zM88.2 453.1h1.0v1.0h-1.0zM86.0 458.8h1.0v1.0h-1.0zM90.2 440.2h1.0v1.0h-1.0zM91.2 464.5h1.0v1.0h-1.0zM86.9 433.8h1.0v1.0h-1.0zM86.2 434.5h1.0v1.0h-1.0zM90.3 450.4h1.0v1.0h-1.0zM89.8 448.8h1.0v1.0h-1.0zM95.5 445.3h1.0v1.0h-1.0zM85.2 423.0h1.0v1.0h-1.0zM91.5 440.5h1.0v1.0h-1.0zM89.5 450.8h1.0v1.0h-1.0zM92.4 431.9h1.0v1.0h-1.0zM86.5 446.8h1.0v1.0h-1.0zM89.9 458.3h1.0v1.0h-1.0zM88.4 426.0h1.0v1.0h-1.0zM95.4 431.9h1.0v1.0h-1.0zM86.4 449.9h1.0v1.0h-1.0zM86.1 470.7h1.0v1.0h-1.0zM91.5 452.6h1.0v1.0h-1.0zM88.7 468.6h1.0v1.0h-1.0zM92.8 440.4h1.0v1.0h-1.0zM95.8 431.4h1.0v1.0h-1.0zM88.0 449.3h1.0v1.0h-1.0zM91.1 437.6h1.0v1.0h-1.0zM97.1 463.2h1.0v1.0h-1.0zM86.6 449.8h1.0v1.0h-1.0zM87.8 442.1h1.0v1.0h-1.0zM94.6 449.2h1.0v1.0h-1.0zM90.0 447.9h1.0v1.0h-1.0zM85.6 458.0h1.0v1.0h-1.0zM87.3 459.3h1.0v1.0h-1.0zM88.6 442.0h1.0v1.0h-1.0zM96.7 450.4h1.0v1.0h-1.0zM87.8 441.0h1.0v1.0h-1.0zM93.0 466.2h1.0v1.0h-1.0zM93.1 443.7h1.0v1.0h-1.0zM85.8 439.2h1.0v1.0h-1.0zM90.0 449.3h1.0v1.0h-1.0zM87.7 459.1h1.0v1.0h-1.0zM86.5 438.9h1.0v1.0h-1.0zM92.6 452.3h1.0v1.0h-1.0zM88.9 456.2h1.0v1.0h-1.0zM84.6 461.8h1.0v1.0h-1.0zM99.7 468.6h1.0v1.0h-1.0zM91.0 466.7h1.0v1.0h-1.0zM90.7 460.3h1.0v1.0h-1.0zM89.7 448.7h1.0v1.0h-1.0zM92.7 430.1h1.0v1.0h-1.0zM89.6 463.9h1.0v1.0h-1.0zM94.4 451.2h1.0v1.0h-1.0zM91.3 461.0h1.0v1.0h-1.0zM91.9 428.5h1.0v1.0h-1.0zM86.5 443.1h1.0v1.0h-1.0zM91.1 442.7h1.0v1.0h-1.0zM90.1 463.5h1.0v1.0h-1.0zM94.4 453.9h1.0v1.0h-1.0zM90.6 447.6h1.0v1.0h-1.0zM92.0 449.8h1.0v1.0h-1.0zM87.5 454.0h1.0v1.0h-1.0zM87.0 445.8h1.0v1.0h-1.0zM89.0 435.2h1.0v1.0h-1.0zM93.0 446.9h1.0v1.0h-1.0zM85.6 445.1h1.0v1.0h-1.0zM84.7 459.9h1.0v1.0h-1.0zM92.7 467.3h1.0v1.0h-1.0zM88.1 453.4h1.0v1.0h-1.0zM86.4 437.6h1.0v1.0h-1.0zM90.1 451.0h1.0v1.0h-1.0zM94.4 445.3h1.0v1.0h-1.0zM95.1 457.7h1.0v1.0h-1.0zM86.8 444.4h1.0v1.0h-1.0zM86.7 463.0h1.0v1.0h-1.0zM88.2 455.2h1.0v1.0h-1.0zM94.3 445.4h1.0v1.0h-1.0zM88.5 449.9h1.0v1.0h-1.0zM87.3 433.7h1.0v1.0h-1.0zM86.5 449.4h1.0v1.0h-1.0zM91.3 464.7h1.0v1.0h-1.0zM82.9 450.2h1.0v1.0h-1.0zM85.7 457.3h1.0v1.0h-1.0zM93.4 449.0h1.0v1.0h-1.0zM96.7 444.8h1.0v1.0h-1.0zM88.3 436.1h1.0v1.0h-1.0zM87.8 447.5h1.0v1.0h-1.0zM93.3 460.3h1.0v1.0h-1.0zM89.4 439.5h1.0v1.0h-1.0zM89.1 442.4h1.0v1.0h-1.0zM88.5 442.6h1.0v1.0h-1.0zM86.9 445.6h1.0v1.0h-1.0zM88.4 444.8h1.0v1.0h-1.0zM84.7 447.1h1.0v1.0h-1.0zM92.9 454.0h1.0v1.0h-1.0zM88.2 435.2h1.0v1.0h-1.0zM85.1 434.1h1.0v1.0h-1.0zM87.8 443.3h1.0v1.0h-1.0zM83.1 451.9h1.0v1.0h-1.0zM84.1 438.7h1.0v1.0h-1.0zM87.5 454.5h1.0v1.0h-1.0zM98.2 445.3h1.0v1.0h-1.0zM89.4 442.9h1.0v1.0h-1.0zM89.7 445.1h1.0v1.0h-1.0zM90.0 439.1h1.0v1.0h-1.0zM92.0 442.2h1.0v1.0h-1.0zM92.9 436.9h1.0v1.0h-1.0zM99.3 451.2h1.0v1.0h-1.0zM83.1 452.1h1.0v1.0h-1.0zM88.5 435.2h1.0v1.0h-1.0zM92.3 442.3h1.0v1.0h-1.0zM93.6 442.3h1.0v1.0h-1.0zM94.3 449.4h1.0v1.0h-1.0zM92.0 448.9h1.0v1.0h-1.0zM89.0 443.1h1.0v1.0h-1.0zM92.4 454.4h1.0v1.0h-1.0zM88.8 468.6h1.0v1.0h-1.0zM97.5 437.4h1.0v1.0h-1.0zM95.0 447.4h1.0v1.0h-1.0zM91.5 439.5h1.0v1.0h-1.0zM97.4 440.5h1.0v1.0h-1.0zM90.2 439.8h1.0v1.0h-1.0zM98.5 461.2h1.0v1.0h-1.0zM85.0 441.3h1.0v1.0h-1.0zM92.0 443.1h1.0v1.0h-1.0zM89.0 436.1h1.0v1.0h-1.0zM91.5 436.6h1.0v1.0h-1.0zM94.0 471.3h1.0v1.0h-1.0zM89.1 462.8h1.0v1.0h-1.0zM92.0 440.8h1.0v1.0h-1.0zM89.1 437.3h1.0v1.0h-1.0zM91.0 454.0h1.0v1.0h-1.0zM94.4 445.2h1.0v1.0h-1.0zM85.6 445.1h1.0v1.0h-1.0zM97.4 451.4h1.0v1.0h-1.0zM90.2 426.6h1.0v1.0h-1.0zM88.7 451.9h1.0v1.0h-1.0zM86.6 459.3h1.0v1.0h-1.0zM88.2 437.9h1.0v1.0h-1.0zM88.1 445.5h1.0v1.0h-1.0zM94.6 442.5h1.0v1.0h-1.0zM83.1 444.5h1.0v1.0h-1.0zM92.7 462.6h1.0v1.0h-1.0zM85.9 460.4h1.0v1.0h-1.0zM93.3 452.1h1.0v1.0h-1.0zM87.3 437.6h1.0v1.0h-1.0zM86.5 455.2h1.0v1.0h-1.0zM91.4 457.7h1.0v1.0h-1.0zM98.0 449.0h1.0v1.0h-1.0zM90.3 465.7h1.0v1.0h-1.0zM85.1 441.4h1.0v1.0h-1.0zM89.0 443.0h1.0v1.0h-1.0zM91.1 439.0h1.0v1.0h-1.0zM95.3 434.9h1.0v1.0h-1.0zM87.1 429.7h1.0v1.0h-1.0zM84.7 451.4h1.0v1.0h-1.0zM93.1 445.7h1.0v1.0h-1.0zM94.0 453.9h1.0v1.0h-1.0zM88.1 446.1h1.0v1.0h-1.0zM92.0 467.0h1.0v1.0h-1.0zM88.7 450.2h1.0v1.0h-1.0zM92.8 459.5h1.0v1.0h-1.0zM92.3 457.9h1.0v1.0h-1.0zM86.1 443.4h1.0v1.0h-1.0zM82.5 444.7h1.0v1.0h-1.0zM90.9 449.7h1.0v1.0h-1.0zM91.1 434.3h1.0v1.0h-1.0zM87.6 444.7h1.0v1.0h-1.0zM91.2 438.8h1.0v1.0h-1.0zM90.1 439.8h1.0v1.0h-1.0zM85.1 439.3h1.0v1.0h-1.0zM87.2 454.4h1.0v1.0h-1.0zM96.0 454.0h1.0v1.0h-1.0zM89.6 441.4h1.0v1.0h-1.0zM84.0 440.4h1.0v1.0h-1.0zM97.0 459.8h1.0v1.0h-1.0zM91.4 444.9h1.0v1.0h-1.0zM90.5 451.2h1.0v1.0h-1.0zM90.5 451.2h1.0v1.0h-1.0zM87.3 446.7h1.0v1.0h-1.0zM89.1 457.2h1.0v1.0h-1.0zM85.4 458.4h1.0v1.0h-1.0zM90.1 442.1h1.0v1.0h-1.0zM90.6 448.3h1.0v1.0h-1.0zM89.5 451.0h1.0v1.0h-1.0zM88.1 430.1h1.0v1.0h-1.0zM93.4 447.5h1.0v1.0h-1.0zM97.4 452.5h1.0v1.0h-1.0zM82.2 457.2h1.0v1.0h-1.0zM87.7 451.7h1.0v1.0h-1.0zM99.7 459.8h1.0v1.0h-1.0zM86.0 445.1h1.0v1.0h-1.0zM83.9 452.0h1.0v1.0h-1.0zM92.8 437.7h1.0v1.0h-1.0zM92.4 456.6h1.0v1.0h-1.0zM93.8 441.4h1.0v1.0h-1.0zM87.6 435.5h1.0v1.0h-1.0zM85.2 448.9h1.0v1.0h-1.0zM90.7 459.7h1.0v1.0h-1.0zM91.6 444.2h1.0v1.0h-1.0zM84.6 460.6h1.0v1.0h-1.0zM91.2 446.9h1.0v1.0h-1.0zM86.4 435.9h1.0v1.0h-1.0zM93.1 438.3h1.0v1.0h-1.0zM92.9 453.7h1.0v1.0h-1.0zM88.9 431.0h1.0v1.0h-1.0zM92.2 461.1h1.0v1.0h-1.0zM87.1 434.0h1.0v1.0h-1.0zM95.0 449.5h1.0v1.0h-1.0zM87.9 458.3h1.0v1.0h-1.0zM89.4 451.2h1.0v1.0h-1.0zM88.8 439.4h1.0v1.0h-1.0zM91.4 439.0h1.0v1.0h-1.0zM83.2 440.1h1.0v1.0h-1.0zM95.6 458.9h1.0v1.0h-1.0zM99.5 458.8h1.0v1.0h-1.0zM97.2 451.1h1.0v1.0h-1.0zM88.7 451.2h1.0v1.0h-1.0zM86.6 453.3h1.0v1.0h-1.0zM88.7 449.1h1.0v1.0h-1.0zM87.0 445.0h1.0v1.0h-1.0zM94.5 446.0h1.0v1.0h-1.0zM87.7 449.2h1.0v1.0h-1.0zM94.1 446.2h1.0v1.0h-1.0zM85.7 430.9h1.0v1.0h-1.0zM85.0 456.1h1.0v1.0h-1.0zM90.1 451.6h1.0v1.0h-1.0zM94.9 450.9h1.0v1.0h-1.0zM92.5 442.7h1.0v1.0h-1.0zM83.9 451.6h1.0v1.0h-1.0zM90.1 452.6h1.0v1.0h-1.0zM86.1 444.7h1.0v1.0h-1.0zM98.8 441.0h1.0v1.0h-1.0zM90.9 459.8h1.0v1.0h-1.0zM89.5 448.1h1.0v1.0h-1.0zM81.7 452.5h1.0v1.0h-1.0zM88.7 459.1h1.0v1.0h-1.0zM90.1 443.4h1.0v1.0h-1.0zM92.3 445.2h1.0v1.0h-1.0zM88.4 461.5h1.0v1.0h-1.0zM94.5 449.1h1.0v1.0h-1.0zM93.8 455.8h1.0v1.0h-1.0zM92.9 448.1h1.0v1.0h-1.0zM90.8 451.1h1.0v1.0h-1.0zM92.8 451.1h1.0v1.0h-1.0zM88.2 445.9h1.0v1.0h-1.0zM92.4 438.1h1.0v1.0h-1.0zM90.5 454.4h1.0v1.0h-1.0zM91.2 444.6h1.0v1.0h-1.0zM90.4 442.5h1.0v1.0h-1.0zM94.5 444.5h1.0v1.0h-1.0zM83.6 433.9h1.0v1.0h-1.0zM91.7 449.4h1.0v1.0h-1.0zM88.6 434.1h1.0v1.0h-1.0zM89.9 439.0h1.0v1.0h-1.0zM87.8 446.5h1.0v1.0h-1.0zM87.3 449.4h1.0v1.0h-1.0zM87.5 442.0h1.0v1.0h-1.0zM89.6 460.9h1.0v1.0h-1.0zM97.0 457.7h1.0v1.0h-1.0zM87.5 446.5h1.0v1.0h-1.0zM94.3 455.7h1.0v1.0h-1.0zM83.8 445.0h1.0v1.0h-1.0zM87.5 453.6h1.0v1.0h-1.0zM93.1 442.7h1.0v1.0h-1.0zM99.3 446.6h1.0v1.0h-1.0zM90.2 465.2h1.0v1.0h-1.0zM88.3 442.1h1.0v1.0h-1.0zM96.6 448.2h1.0v1.0h-1.0zM92.5 435.6h1.0v1.0h-1.0zM97.9 458.3h1.0v1.0h-1.0zM92.0 454.2h1.0v1.0h-1.0zM88.4 442.2h1.0v1.0h-1.0zM84.0 449.1h1.0v1.0h-1.0zM95.6 456.5h1.0v1.0h-1.0zM94.3 454.8h1.0v1.0h-1.0zM86.7 433.9h1.0v1.0h-1.0zM93.1 449.4h1.0v1.0h-1.0zM94.6 445.5h1.0v1.0h-1.0zM86.9 450.5h1.0v1.0h-1.0zM88.2 431.0h1.0v1.0h-1.0zM88.0 438.2h1.0v1.0h-1.0zM85.9 440.8h1.0v1.0h-1.0zM94.4 470.4h1.0v1.0h-1.0zM97.6 444.9h1.0v1.0h-1.0zM95.2 447.6h1.0v1.0h-1.0zM92.2 441.1h1.0v1.0h-1.0zM90.2 431.2h1.0v1.0h-1.0zM97.9 441.7h1.0v1.0h-1.0zM92.9 442.2h1.0v1.0h-1.0zM91.6 436.3h1.0v1.0h-1.0zM89.0 455.4h1.0v1.0h-1.0zM92.9 429.3h1.0v1.0h-1.0zM94.0 435.6h1.0v1.0h-1.0zM91.7 452.4h1.0v1.0h-1.0zM87.9 443.5h1.0v1.0h-1.0zM89.5 450.7h1.0v1.0h-1.0zM94.3 461.0h1.0v1.0h-1.0zM91.8 466.4h1.0v1.0h-1.0zM86.6 463.1h1.0v1.0h-1.0zM89.4 454.2h1.0v1.0h-1.0zM90.0 447.8h1.0v1.0h-1.0zM86.7 449.9h1.0v1.0h-1.0zM98.8 450.6h1.0v1.0h-1.0zM90.4 447.2h1.0v1.0h-1.0zM93.4 445.9h1.0v1.0h-1.0zM90.5 449.2h1.0v1.0h-1.0zM95.9 457.4h1.0v1.0h-1.0zM86.2 440.2h1.0v1.0h-1.0zM90.6 455.2h1.0v1.0h-1.0zM94.5 446.2h1.0v1.0h-1.0zM99.2 447.7h1.0v1.0h-1.0zM96.3 462.0h1.0v1.0h-1.0zM97.1 450.6h1.0v1.0h-1.0zM92.9 433.3h1.0v1.0h-1.0zM83.2 439.7h1.0v1.0h-1.0zM93.5 457.9h1.0v1.0h-1.0zM90.1 456.9h1.0v1.0h-1.0zM92.9 462.1h1.0v1.0h-1.0zM84.0 437.8h1.0v1.0h-1.0zM86.6 436.4h1.0v1.0h-1.0zM97.3 440.0h1.0v1.0h-1.0zM87.1 442.6h1.0v1.0h-1.0zM94.1 443.7h1.0v1.0h-1.0zM93.5 453.1h1.0v1.0h-1.0zM87.9 424.2h1.0v1.0h-1.0zM86.7 434.5h1.0v1.0h-1.0zM97.2 442.0h1.0v1.0h-1.0zM86.1 449.7h1.0v1.0h-1.0zM90.7 438.4h1.0v1.0h-1.0zM95.0 456.9h1.0v1.0h-1.0zM91.6 440.3h1.0v1.0h-1.0zM86.9 426.9h1.0v1.0h-1.0zM92.1 451.2h1.0v1.0h-1.0zM86.7 446.5h1.0v1.0h-1.0zM83.5 451.2h1.0v1.0h-1.0zM88.7 442.1h1.0v1.0h-1.0zM93.1 446.5h1.0v1.0h-1.0zM94.6 453.0h1.0v1.0h-1.0zM95.3 449.4h1.0v1.0h-1.0zM81.6 457.9h1.0v1.0h-1.0zM83.5 455.3h1.0v1.0h-1.0zM91.5 434.3h1.0v1.0h-1.0zM90.8 455.5h1.0v1.0h-1.0zM86.3 446.5h1.0v1.0h-1.0zM87.5 436.9h1.0v1.0h-1.0zM88.0 458.6h1.0v1.0h-1.0zM93.3 447.5h1.0v1.0h-1.0zM90.2 448.3h1.0v1.0h-1.0zM91.7 449.1h1.0v1.0h-1.0zM83.4 454.1h1.0v1.0h-1.0zM87.0 421.7h1.0v1.0h-1.0zM93.4 436.4h1.0v1.0h-1.0zM89.9 446.1h1.0v1.0h-1.0zM88.1 451.6h1.0v1.0h-1.0zM89.4 444.2h1.0v1.0h-1.0zM86.6 443.5h1.0v1.0h-1.0zM86.2 446.5h1.0v1.0h-1.0zM96.0 458.0h1.0v1.0h-1.0zM92.3 434.7h1.0v1.0h-1.0zM94.7 457.0h1.0v1.0h-1.0zM99.0 427.8h1.0v1.0h-1.0zM90.6 444.0h1.0v1.0h-1.0zM95.0 437.9h1.0v1.0h-1.0zM88.9 468.7h1.0v1.0h-1.0zM94.6 429.2h1.0v1.0h-1.0zM90.6 460.1h1.0v1.0h-1.0zM88.0 452.1h1.0v1.0h-1.0zM90.9 433.4h1.0v1.0h-1.0zM87.9 457.2h1.0v1.0h-1.0zM95.4 442.6h1.0v1.0h-1.0zM95.1 441.5h1.0v1.0h-1.0zM91.5 447.1h1.0v1.0h-1.0zM85.3 448.9h1.0v1.0h-1.0zM88.9 420.7h1.0v1.0h-1.0zM87.1 438.2h1.0v1.0h-1.0zM87.1 437.0h1.0v1.0h-1.0zM87.7 423.2h1.0v1.0h-1.0zM94.2 448.6h1.0v1.0h-1.0zM91.6 444.8h1.0v1.0h-1.0zM90.8 444.6h1.0v1.0h-1.0zM86.0 431.6h1.0v1.0h-1.0zM90.8 456.8h1.0v1.0h-1.0zM91.5 462.6h1.0v1.0h-1.0zM84.9 443.2h1.0v1.0h-1.0zM87.9 458.2h1.0v1.0h-1.0zM97.5 443.8h1.0v1.0h-1.0zM93.5 445.5h1.0v1.0h-1.0zM86.4 445.0h1.0v1.0h-1.0zM86.2 460.8h1.0v1.0h-1.0zM92.9 458.9h1.0v1.0h-1.0zM92.0 424.3h1.0v1.0h-1.0zM93.8 448.7h1.0v1.0h-1.0zM80.7 445.7h1.0v1.0h-1.0zM94.7 464.3h1.0v1.0h-1.0zM86.3 453.5h1.0v1.0h-1.0zM91.9 445.7h1.0v1.0h-1.0zM89.3 451.8h1.0v1.0h-1.0zM92.9 453.9h1.0v1.0h-1.0zM88.8 434.1h1.0v1.0h-1.0zM95.9 460.7h1.0v1.0h-1.0zM88.2 446.2h1.0v1.0h-1.0zM93.8 431.1h1.0v1.0h-1.0zM92.6 470.6h1.0v1.0h-1.0zM91.6 440.6h1.0v1.0h-1.0zM98.9 449.1h1.0v1.0h-1.0zM91.4 443.2h1.0v1.0h-1.0zM91.2 430.1h1.0v1.0h-1.0zM85.2 431.7h1.0v1.0h-1.0zM94.2 447.0h1.0v1.0h-1.0zM95.3 428.8h1.0v1.0h-1.0zM88.0 460.3h1.0v1.0h-1.0zM87.2 428.5h1.0v1.0h-1.0zM87.4 443.0h1.0v1.0h-1.0zM90.4 459.4h1.0v1.0h-1.0zM96.0 463.1h1.0v1.0h-1.0zM92.9 442.8h1.0v1.0h-1.0zM88.5 432.4h1.0v1.0h-1.0zM95.8 460.2h1.0v1.0h-1.0zM90.9 438.6h1.0v1.0h-1.0zM93.3 452.3h1.0v1.0h-1.0zM91.1 436.1h1.0v1.0h-1.0zM91.5 441.9h1.0v1.0h-1.0zM93.6 453.4h1.0v1.0h-1.0zM92.3 443.4h1.0v1.0h-1.0zM96.8 455.9h1.0v1.0h-1.0zM95.7 456.3h1.0v1.0h-1.0zM93.2 451.4h1.0v1.0h-1.0zM86.1 428.6h1.0v1.0h-1.0zM86.6 452.0h1.0v1.0h-1.0zM94.3 449.7h1.0v1.0h-1.0zM90.9 464.6h1.0v1.0h-1.0zM88.9 429.6h1.0v1.0h-1.0zM84.1 442.4h1.0v1.0h-1.0zM93.4 454.7h1.0v1.0h-1.0zM89.6 454.6h1.0v1.0h-1.0zM90.3 440.1h1.0v1.0h-1.0zM88.9 453.8h1.0v1.0h-1.0zM94.4 437.2h1.0v1.0h-1.0zM86.4 447.2h1.0v1.0h-1.0zM99.3 437.9h1.0v1.0h-1.0zM85.3 449.8h1.0v1.0h-1.0zM92.6 441.7h1.0v1.0h-1.0zM90.4 451.6h1.0v1.0h-1.0zM83.3 445.1h1.0v1.0h-1.0zM93.0 456.4h1.0v1.0h-1.0zM95.3 447.5h1.0v1.0h-1.0zM84.6 458.4h1.0v1.0h-1.0zM93.7 441.7h1.0v1.0h-1.0zM94.8 457.9h1.0v1.0h-1.0zM89.9 424.4h1.0v1.0h-1.0zM88.6 439.3h1.0v1.0h-1.0zM87.1 445.4h1.0v1.0h-1.0zM86.0 449.7h1.0v1.0h-1.0z" fill="#1a1a1a" fill-opacity="0.5"/>
<ellipse cx="105.5" cy="421" rx="4.5" ry="7.5" fill="#444" fill-opacity="0.65" transform="rotate(20 105.5 421)" filter="url(#b20)"/>
<path d="M111.1 416.2h1.0v1.0h-1.0zM108.4 419.1h1.0v1.0h-1.0zM106.8 420.9h1.0v1.0h-1.0zM109.2 418.3h1.0v1.0h-1.0zM107.4 417.2h1.0v1.0h-1.0zM105.7 421.2h1.0v1.0h-1.0zM108.5 412.8h1.0v1.0h-1.0zM100.6 427.8h1.0v1.0h-1.0zM106.2 431.9h1.0v1.0h-1.0zM101.7 421.0h1.0v1.0h-1.0zM107.0 432.6h1.0v1.0h-1.0zM104.8 418.2h1.0v1.0h-1.0zM107.3 421.3h1.0v1.0h-1.0zM102.6 424.7h1.0v1.0h-1.0zM98.8 412.4h1.0v1.0h-1.0zM109.4 419.7h1.0v1.0h-1.0zM104.0 422.9h1.0v1.0h-1.0zM108.6 425.7h1.0v1.0h-1.0zM101.9 416.3h1.0v1.0h-1.0zM108.4 421.6h1.0v1.0h-1.0zM103.0 425.5h1.0v1.0h-1.0zM108.7 435.7h1.0v1.0h-1.0zM101.5 415.3h1.0v1.0h-1.0zM102.8 422.3h1.0v1.0h-1.0zM103.5 427.2h1.0v1.0h-1.0zM102.9 418.5h1.0v1.0h-1.0zM106.8 423.0h1.0v1.0h-1.0zM101.7 428.9h1.0v1.0h-1.0zM106.9 418.7h1.0v1.0h-1.0zM105.7 414.5h1.0v1.0h-1.0zM101.0 417.6h1.0v1.0h-1.0zM106.2 422.1h1.0v1.0h-1.0zM102.5 411.6h1.0v1.0h-1.0zM99.6 428.6h1.0v1.0h-1.0zM106.2 416.6h1.0v1.0h-1.0zM108.8 425.8h1.0v1.0h-1.0zM103.7 416.7h1.0v1.0h-1.0zM108.7 424.4h1.0v1.0h-1.0zM110.3 425.3h1.0v1.0h-1.0zM103.1 416.6h1.0v1.0h-1.0zM102.7 421.7h1.0v1.0h-1.0zM105.8 425.0h1.0v1.0h-1.0zM106.5 415.2h1.0v1.0h-1.0zM104.3 415.0h1.0v1.0h-1.0zM106.6 413.6h1.0v1.0h-1.0zM103.1 415.0h1.0v1.0h-1.0zM103.0 418.6h1.0v1.0h-1.0zM109.9 421.4h1.0v1.0h-1.0zM100.4 417.3h1.0v1.0h-1.0zM107.4 425.3h1.0v1.0h-1.0zM105.8 433.5h1.0v1.0h-1.0zM108.6 423.0h1.0v1.0h-1.0zM108.9 414.4h1.0v1.0h-1.0zM104.5 415.5h1.0v1.0h-1.0zM105.6 431.1h1.0v1.0h-1.0zM103.4 430.1h1.0v1.0h-1.0zM101.7 428.4h1.0v1.0h-1.0zM99.6 413.7h1.0v1.0h-1.0zM108.2 421.7h1.0v1.0h-1.0zM105.5 421.1h1.0v1.0h-1.0zM105.6 420.1h1.0v1.0h-1.0zM101.9 418.0h1.0v1.0h-1.0zM105.4 415.6h1.0v1.0h-1.0zM106.5 432.4h1.0v1.0h-1.0zM99.7 415.6h1.0v1.0h-1.0zM104.1 420.8h1.0v1.0h-1.0zM105.3 416.7h1.0v1.0h-1.0zM104.9 421.0h1.0v1.0h-1.0zM104.7 430.3h1.0v1.0h-1.0zM105.4 412.1h1.0v1.0h-1.0zM100.0 422.6h1.0v1.0h-1.0zM103.9 416.8h1.0v1.0h-1.0zM100.7 417.4h1.0v1.0h-1.0zM104.7 416.7h1.0v1.0h-1.0zM103.9 426.0h1.0v1.0h-1.0zM107.5 425.3h1.0v1.0h-1.0zM104.4 412.5h1.0v1.0h-1.0zM107.5 431.1h1.0v1.0h-1.0zM109.1 429.7h1.0v1.0h-1.0zM105.9 423.6h1.0v1.0h-1.0zM105.0 428.6h1.0v1.0h-1.0zM104.1 433.8h1.0v1.0h-1.0zM107.5 420.0h1.0v1.0h-1.0zM105.0 411.2h1.0v1.0h-1.0zM102.7 418.2h1.0v1.0h-1.0zM112.9 419.1h1.0v1.0h-1.0zM107.9 422.6h1.0v1.0h-1.0zM104.1 424.4h1.0v1.0h-1.0zM98.6 424.3h1.0v1.0h-1.0zM111.2 425.3h1.0v1.0h-1.0zM104.8 421.9h1.0v1.0h-1.0zM107.1 418.8h1.0v1.0h-1.0zM105.4 424.2h1.0v1.0h-1.0zM103.9 422.9h1.0v1.0h-1.0zM106.1 425.8h1.0v1.0h-1.0zM101.8 416.5h1.0v1.0h-1.0zM103.6 427.8h1.0v1.0h-1.0zM105.8 411.2h1.0v1.0h-1.0zM100.9 431.2h1.0v1.0h-1.0zM106.1 413.5h1.0v1.0h-1.0zM102.1 420.7h1.0v1.0h-1.0zM109.6 432.7h1.0v1.0h-1.0zM103.8 418.7h1.0v1.0h-1.0zM111.2 417.4h1.0v1.0h-1.0zM110.0 425.0h1.0v1.0h-1.0zM105.3 429.0h1.0v1.0h-1.0zM106.5 416.5h1.0v1.0h-1.0zM100.1 419.2h1.0v1.0h-1.0zM106.6 430.0h1.0v1.0h-1.0zM107.0 431.1h1.0v1.0h-1.0zM107.6 423.3h1.0v1.0h-1.0zM106.4 424.0h1.0v1.0h-1.0zM103.0 419.5h1.0v1.0h-1.0zM105.4 418.4h1.0v1.0h-1.0zM100.3 410.3h1.0v1.0h-1.0zM106.6 424.8h1.0v1.0h-1.0zM105.3 414.0h1.0v1.0h-1.0zM107.7 419.7h1.0v1.0h-1.0zM98.4 428.0h1.0v1.0h-1.0zM100.2 432.9h1.0v1.0h-1.0zM106.7 419.0h1.0v1.0h-1.0zM97.5 413.7h1.0v1.0h-1.0zM109.7 431.2h1.0v1.0h-1.0zM105.8 410.9h1.0v1.0h-1.0zM103.8 418.8h1.0v1.0h-1.0zM106.5 420.8h1.0v1.0h-1.0zM106.1 411.5h1.0v1.0h-1.0zM102.9 429.0h1.0v1.0h-1.0zM100.3 424.8h1.0v1.0h-1.0zM112.4 427.9h1.0v1.0h-1.0zM100.6 426.9h1.0v1.0h-1.0zM99.1 420.7h1.0v1.0h-1.0zM103.7 428.1h1.0v1.0h-1.0zM108.8 423.7h1.0v1.0h-1.0zM110.7 429.3h1.0v1.0h-1.0zM103.5 414.4h1.0v1.0h-1.0zM112.9 421.6h1.0v1.0h-1.0zM106.3 420.8h1.0v1.0h-1.0zM103.5 410.6h1.0v1.0h-1.0zM104.5 420.1h1.0v1.0h-1.0zM108.1 419.1h1.0v1.0h-1.0zM100.0 412.5h1.0v1.0h-1.0zM104.9 422.5h1.0v1.0h-1.0zM107.3 419.6h1.0v1.0h-1.0zM106.7 422.6h1.0v1.0h-1.0zM110.4 422.8h1.0v1.0h-1.0zM105.5 424.7h1.0v1.0h-1.0zM108.9 416.9h1.0v1.0h-1.0zM103.5 418.7h1.0v1.0h-1.0zM98.2 426.3h1.0v1.0h-1.0zM108.4 422.5h1.0v1.0h-1.0zM111.5 433.2h1.0v1.0h-1.0zM107.9 413.5h1.0v1.0h-1.0zM109.9 425.5h1.0v1.0h-1.0zM101.2 419.8h1.0v1.0h-1.0zM107.4 428.0h1.0v1.0h-1.0zM105.6 418.0h1.0v1.0h-1.0zM107.5 417.3h1.0v1.0h-1.0zM104.8 425.6h1.0v1.0h-1.0zM100.4 421.5h1.0v1.0h-1.0zM98.7 412.8h1.0v1.0h-1.0zM101.1 418.9h1.0v1.0h-1.0zM107.3 421.6h1.0v1.0h-1.0zM107.9 422.7h1.0v1.0h-1.0zM104.3 423.8h1.0v1.0h-1.0zM104.2 421.5h1.0v1.0h-1.0zM108.3 418.8h1.0v1.0h-1.0zM108.7 415.7h1.0v1.0h-1.0zM104.3 410.1h1.0v1.0h-1.0zM103.3 430.1h1.0v1.0h-1.0zM106.1 429.2h1.0v1.0h-1.0zM100.3 412.9h1.0v1.0h-1.0zM106.5 426.7h1.0v1.0h-1.0zM107.7 411.8h1.0v1.0h-1.0zM106.6 421.2h1.0v1.0h-1.0zM105.4 424.1h1.0v1.0h-1.0zM104.1 410.3h1.0v1.0h-1.0zM101.6 410.8h1.0v1.0h-1.0zM100.8 418.5h1.0v1.0h-1.0zM109.2 418.3h1.0v1.0h-1.0zM102.6 413.0h1.0v1.0h-1.0zM99.5 419.2h1.0v1.0h-1.0zM103.4 418.9h1.0v1.0h-1.0zM101.9 422.8h1.0v1.0h-1.0zM101.1 422.9h1.0v1.0h-1.0zM102.9 425.0h1.0v1.0h-1.0zM102.2 422.6h1.0v1.0h-1.0zM106.4 421.1h1.0v1.0h-1.0zM110.2 424.1h1.0v1.0h-1.0zM102.2 424.1h1.0v1.0h-1.0zM102.4 416.6h1.0v1.0h-1.0zM105.0 422.1h1.0v1.0h-1.0zM110.5 412.4h1.0v1.0h-1.0zM104.2 427.6h1.0v1.0h-1.0zM104.5 422.8h1.0v1.0h-1.0zM109.9 415.4h1.0v1.0h-1.0zM105.1 425.9h1.0v1.0h-1.0zM103.1 409.5h1.0v1.0h-1.0zM101.8 420.9h1.0v1.0h-1.0zM105.6 432.6h1.0v1.0h-1.0zM109.3 413.2h1.0v1.0h-1.0zM108.3 427.9h1.0v1.0h-1.0zM110.2 422.1h1.0v1.0h-1.0zM103.2 421.2h1.0v1.0h-1.0zM110.0 426.8h1.0v1.0h-1.0zM110.5 428.0h1.0v1.0h-1.0zM103.1 414.0h1.0v1.0h-1.0zM111.0 414.0h1.0v1.0h-1.0zM103.9 418.6h1.0v1.0h-1.0zM102.1 416.3h1.0v1.0h-1.0zM105.0 435.6h1.0v1.0h-1.0zM104.8 417.7h1.0v1.0h-1.0zM105.4 426.9h1.0v1.0h-1.0zM102.4 417.5h1.0v1.0h-1.0zM99.4 423.1h1.0v1.0h-1.0zM107.2 431.1h1.0v1.0h-1.0zM101.1 432.9h1.0v1.0h-1.0zM107.8 420.4h1.0v1.0h-1.0zM103.7 418.6h1.0v1.0h-1.0zM101.1 424.2h1.0v1.0h-1.0zM103.0 415.8h1.0v1.0h-1.0zM106.7 422.3h1.0v1.0h-1.0zM103.1 418.8h1.0v1.0h-1.0zM103.4 428.7h1.0v1.0h-1.0zM108.2 417.8h1.0v1.0h-1.0zM104.9 429.4h1.0v1.0h-1.0zM104.1 431.6h1.0v1.0h-1.0zM106.4 425.7h1.0v1.0h-1.0zM98.3 423.6h1.0v1.0h-1.0zM106.1 425.0h1.0v1.0h-1.0zM106.5 424.9h1.0v1.0h-1.0zM103.4 425.9h1.0v1.0h-1.0zM105.2 414.6h1.0v1.0h-1.0zM101.7 420.7h1.0v1.0h-1.0zM98.4 424.9h1.0v1.0h-1.0zM105.0 438.6h1.0v1.0h-1.0zM100.1 417.5h1.0v1.0h-1.0zM103.1 423.7h1.0v1.0h-1.0zM109.5 432.7h1.0v1.0h-1.0zM101.8 427.3h1.0v1.0h-1.0zM101.1 421.4h1.0v1.0h-1.0zM105.6 425.0h1.0v1.0h-1.0zM102.4 428.2h1.0v1.0h-1.0zM104.8 420.8h1.0v1.0h-1.0zM104.1 414.1h1.0v1.0h-1.0zM107.3 424.0h1.0v1.0h-1.0zM106.5 433.1h1.0v1.0h-1.0zM102.2 418.1h1.0v1.0h-1.0zM105.0 426.3h1.0v1.0h-1.0zM104.4 426.5h1.0v1.0h-1.0zM106.5 410.7h1.0v1.0h-1.0zM104.1 418.1h1.0v1.0h-1.0zM106.9 422.8h1.0v1.0h-1.0zM104.8 428.7h1.0v1.0h-1.0zM106.9 414.2h1.0v1.0h-1.0zM102.8 422.2h1.0v1.0h-1.0zM110.5 421.9h1.0v1.0h-1.0zM104.5 422.4h1.0v1.0h-1.0zM107.5 421.4h1.0v1.0h-1.0zM105.9 418.8h1.0v1.0h-1.0z" fill="#222" fill-opacity="0.5"/>
<rect x="79" y="409.2" width="20.9" height="67.0" fill="none" stroke="#333" stroke-width="1"/>
<rect x="99.9" y="408.7" width="13.6" height="31.2" fill="none" stroke="#333" stroke-width="1"/>
<text x="80.5" y="414.2" font-size="4.4" text-anchor="start" fill="#222" stroke="#222" stroke-width="0.12">R3</text>
<text x="101.3" y="414.2" font-size="4.4" text-anchor="start" fill="#222" stroke="#222" stroke-width="0.12">R4</text>
<text x="52.5" y="401" font-size="8.6" text-anchor="start" fill="#111" textLength="79.5" lengthAdjust="spacingAndGlyphs" stroke="#111" stroke-width="0.3">Wild-type + anti-MPO</text>
<line x1="49.8" y1="490.4" x2="126.5" y2="490.4" stroke="#111" stroke-width="2"/>
<path d="M126.0,487.2 L132.5,490.4 L126.0,493.59999999999997 Z" fill="#111"/>
<text x="87.1" y="499.1" font-size="8.8" font-weight="bold" text-anchor="middle" fill="#111" textLength="22.4" lengthAdjust="spacingAndGlyphs" stroke="#111" stroke-width="0.15">M1/70</text>
<rect x="160.5" y="391.1" width="93.8" height="85.1" fill="none" stroke="#727272" stroke-width="1.1"/>
<text x="157.7" y="392.70000000000005" font-size="4.6" text-anchor="end" fill="#333" stroke="#333" stroke-width="0.12">45</text>
<line x1="158.0" y1="391.1" x2="160.5" y2="391.1" stroke="#666" stroke-width="0.7"/>
<text x="157.7" y="414.0" font-size="4.6" text-anchor="end" fill="#333" stroke="#333" stroke-width="0.12">33</text>
<line x1="158.0" y1="412.4" x2="160.5" y2="412.4" stroke="#666" stroke-width="0.7"/>
<text x="157.7" y="435.20000000000005" font-size="4.6" text-anchor="end" fill="#333" stroke="#333" stroke-width="0.12">22</text>
<line x1="158.0" y1="433.6" x2="160.5" y2="433.6" stroke="#666" stroke-width="0.7"/>
<text x="157.7" y="456.5" font-size="4.6" text-anchor="end" fill="#333" stroke="#333" stroke-width="0.12">11</text>
<line x1="158.0" y1="454.9" x2="160.5" y2="454.9" stroke="#666" stroke-width="0.7"/>
<text x="157.7" y="477.8" font-size="4.6" text-anchor="end" fill="#333" stroke="#333" stroke-width="0.12">0</text>
<line x1="158.0" y1="476.2" x2="160.5" y2="476.2" stroke="#666" stroke-width="0.7"/>
<text x="147.8" y="434" font-size="4.8" text-anchor="middle" fill="#333" transform="rotate(-90 147.8 434)" stroke="#333" stroke-width="0.12">Counts</text>
<text x="159.18" y="482.428" font-size="4.4" fill="#3a3a3a" stroke="#3a3a3a" stroke-width="0.12" text-anchor="middle">10<tspan font-size="3.3" dy="-1.32">0</tspan></text>
<line x1="160.5" y1="476.2" x2="160.5" y2="477.8" stroke="#666" stroke-width="0.7"/>
<text x="192.68" y="482.428" font-size="4.4" fill="#3a3a3a" stroke="#3a3a3a" stroke-width="0.12" text-anchor="middle">10<tspan font-size="3.3" dy="-1.32">1</tspan></text>
<line x1="194" y1="476.2" x2="194" y2="477.8" stroke="#666" stroke-width="0.7"/>
<text x="226.18" y="482.428" font-size="4.4" fill="#3a3a3a" stroke="#3a3a3a" stroke-width="0.12" text-anchor="middle">10<tspan font-size="3.3" dy="-1.32">2</tspan></text>
<line x1="227.5" y1="476.2" x2="227.5" y2="477.8" stroke="#666" stroke-width="0.7"/>
<path d="M189.7,476.0 L190.6,474.4 L191.4,472.9 L192.3,471.6 L193.2,471.2 L194.0,464.5 L194.8,469.7 L195.7,468.3 L196.5,461.4 L197.4,464.7 L198.2,461.2 L199.1,461.6 L199.9,461.4 L200.8,454.9 L201.6,454.0 L202.5,454.9 L203.3,452.7 L204.2,447.5 L205.0,439.9 L205.8,436.4 L206.7,434.1 L207.5,430.3 L208.3,430.5 L209.2,426.4 L210.1,427.4 L210.9,425.7 L211.6,426.5 L212.3,428.4 L213.5,434.9 L214.3,436.8 L215.2,438.3 L216.1,445.0 L216.9,450.0 L217.8,453.5 L218.6,455.5 L219.4,459.7 L220.3,463.0 L221.1,462.3 L221.9,468.5 L222.8,470.4 L223.7,470.6 L224.5,473.4 L225.3,469.0 L226.2,474.3 L227.1,474.8 L227.9,475.8 L227.9,476.2 L189.7,476.2 Z" fill="url(#hA)" stroke="#333" stroke-width="0.9" stroke-linejoin="round"/>
<path d="M160.9,475.5 L161.8,473.5 L162.6,471.6 L163.5,469.6 L164.3,465.7 L165.2,460.8 L166.0,456.6 L166.9,452.2 L167.7,447.8 L168.6,444.7 L169.4,440.1 L170.3,434.6 L171.1,434.0 L172.0,429.8 L173.3,425.2 L174.0,431.9 L175.0,439.2 L176.2,446.1 L177.0,437.1 L178.4,446.2 L179.6,437.5 L180.4,443.7 L181.2,447.3 L182.1,449.0 L182.9,453.1 L183.8,458.2 L184.7,459.7 L185.5,462.2 L186.4,464.3 L187.2,467.1 L188.1,469.1 L188.9,471.3 L189.7,471.9 L190.6,474.4 L191.4,475.5" fill="none" stroke="#6e6e6e" stroke-width="1.15" stroke-linejoin="round"/>
<path d="M183.0,475.5 L184.2,467.4 L185.5,459.4 L187.2,440.8 L188.9,427.2 L189.9,422.1 L190.9,417.0 L192.0,414.9 L193.1,412.8 L194.8,412.0 L196.5,417.0 L198.2,432.3 L199.9,450.9 L201.6,466.2 L203.3,475.5" fill="none" stroke="#666" stroke-width="1" stroke-dasharray="1,1" stroke-linejoin="round"/>
<text x="161.8" y="416.6" font-size="8.6" text-anchor="start" fill="#111" stroke="#111" stroke-width="0.3">(MPO<tspan font-size="4.5" dy="-3">-/-</tspan><tspan dy="3">)</tspan></text>
<text x="192.3" y="402.6" font-size="8.6" text-anchor="start" fill="#111" textLength="34" lengthAdjust="spacingAndGlyphs" stroke="#111" stroke-width="0.3">M1/70 Int</text>
<text x="215.3" y="424.8" font-size="8.6" text-anchor="start" fill="#111" textLength="31.5" lengthAdjust="spacingAndGlyphs" stroke="#111" stroke-width="0.3">M1/70 hi</text>
<line x1="177" y1="418.7" x2="175.03204409553757" y2="423.3883655371016" stroke="#111" stroke-width="1.1"/>
<path d="M173.6,426.8 L173.2,422.1 L177.3,423.8 Z" fill="#111"/>
<line x1="200.4" y1="405.2" x2="198.7282225934428" y2="409.5466212570487" stroke="#111" stroke-width="1.1"/>
<path d="M197.4,413.0 L196.9,408.3 L201.0,409.9 Z" fill="#111"/>
<line x1="222" y1="427.2" x2="219.95051525660847" y2="431.6405502773483" stroke="#111" stroke-width="1.1"/>
<path d="M218.4,435.0 L218.2,430.3 L222.2,432.1 Z" fill="#111"/>
<line x1="159.5" y1="488.8" x2="247.7" y2="488.8" stroke="#111" stroke-width="2"/>
<path d="M247.2,485.6 L253.7,488.8 L247.2,492.0 Z" fill="#111"/>
<text x="203.6" y="497.6" font-size="9.3" font-weight="bold" text-anchor="middle" fill="#111" textLength="37.5" lengthAdjust="spacingAndGlyphs" stroke="#111" stroke-width="0.15">Anti-MPO</text>
<line x1="298.8" y1="26.2" x2="298.8" y2="110" stroke="#111" stroke-width="2"/>
<path d="M295.8,26.7 L298.8,20.7 L301.8,26.7 Z" fill="#111"/>
<text x="294" y="66.7" font-size="9.3" font-weight="bold" text-anchor="middle" fill="#111" textLength="27.3" lengthAdjust="spacingAndGlyphs" transform="rotate(-90 294 66.7)" stroke="#111" stroke-width="0.15">CD115</text>
<rect x="315.6" y="15.2" width="91.9" height="91.7" fill="none" stroke="#727272" stroke-width="1.1"/>
<text x="311.6" y="17.272" font-size="5.6" fill="#222" stroke="#222" stroke-width="0.12" text-anchor="end">10<tspan font-size="4.2" dy="-1.68">4</tspan></text>
<line x1="313.6" y1="15.2" x2="315.6" y2="15.2" stroke="#666" stroke-width="0.7"/>
<text x="311.6" y="40.197" font-size="5.6" fill="#222" stroke="#222" stroke-width="0.12" text-anchor="end">10<tspan font-size="4.2" dy="-1.68">3</tspan></text>
<line x1="313.6" y1="38.125" x2="315.6" y2="38.125" stroke="#666" stroke-width="0.7"/>
<text x="311.6" y="63.122" font-size="5.6" fill="#222" stroke="#222" stroke-width="0.12" text-anchor="end">10<tspan font-size="4.2" dy="-1.68">2</tspan></text>
<line x1="313.6" y1="61.05" x2="315.6" y2="61.05" stroke="#666" stroke-width="0.7"/>
<text x="311.6" y="86.04700000000001" font-size="5.6" fill="#222" stroke="#222" stroke-width="0.12" text-anchor="end">10<tspan font-size="4.2" dy="-1.68">1</tspan></text>
<line x1="313.6" y1="83.97500000000001" x2="315.6" y2="83.97500000000001" stroke="#666" stroke-width="0.7"/>
<text x="311.6" y="108.97200000000001" font-size="5.6" fill="#222" stroke="#222" stroke-width="0.12" text-anchor="end">10<tspan font-size="4.2" dy="-1.68">0</tspan></text>
<line x1="313.6" y1="106.9" x2="315.6" y2="106.9" stroke="#666" stroke-width="0.7"/>
<text x="313.86" y="115.146" font-size="5.8" fill="#222" stroke="#222" stroke-width="0.12" text-anchor="middle">10<tspan font-size="4.35" dy="-1.74">0</tspan></text>
<line x1="315.6" y1="106.9" x2="315.6" y2="108.5" stroke="#666" stroke-width="0.7"/>
<text x="336.83500000000004" y="115.146" font-size="5.8" fill="#222" stroke="#222" stroke-width="0.12" text-anchor="middle">10<tspan font-size="4.35" dy="-1.74">1</tspan></text>
<line x1="338.57500000000005" y1="106.9" x2="338.57500000000005" y2="108.5" stroke="#666" stroke-width="0.7"/>
<text x="359.81" y="115.146" font-size="5.8" fill="#222" stroke="#222" stroke-width="0.12" text-anchor="middle">10<tspan font-size="4.35" dy="-1.74">2</tspan></text>
<line x1="361.55" y1="106.9" x2="361.55" y2="108.5" stroke="#666" stroke-width="0.7"/>
<text x="382.78499999999997" y="115.146" font-size="5.8" fill="#222" stroke="#222" stroke-width="0.12" text-anchor="middle">10<tspan font-size="4.35" dy="-1.74">3</tspan></text>
<line x1="384.525" y1="106.9" x2="384.525" y2="108.5" stroke="#666" stroke-width="0.7"/>
<text x="405.76" y="115.146" font-size="5.8" fill="#222" stroke="#222" stroke-width="0.12" text-anchor="middle">10<tspan font-size="4.35" dy="-1.74">4</tspan></text>
<line x1="407.5" y1="106.9" x2="407.5" y2="108.5" stroke="#666" stroke-width="0.7"/>
<path d="M342.3 84.3h1.0v1.0h-1.0zM334.2 94.7h1.0v1.0h-1.0zM343.0 82.2h1.0v1.0h-1.0zM350.1 84.6h1.0v1.0h-1.0zM343.4 86.9h1.0v1.0h-1.0zM348.1 88.1h1.0v1.0h-1.0zM337.6 90.8h1.0v1.0h-1.0zM337.3 88.2h1.0v1.0h-1.0zM351.2 79.7h1.0v1.0h-1.0zM332.9 86.7h1.0v1.0h-1.0zM336.6 93.8h1.0v1.0h-1.0zM329.1 100.0h1.0v1.0h-1.0zM350.8 82.6h1.0v1.0h-1.0zM341.3 85.1h1.0v1.0h-1.0zM344.6 89.1h1.0v1.0h-1.0zM345.1 89.5h1.0v1.0h-1.0zM353.2 83.4h1.0v1.0h-1.0zM344.8 85.1h1.0v1.0h-1.0zM340.3 88.0h1.0v1.0h-1.0zM339.6 88.7h1.0v1.0h-1.0zM334.2 87.5h1.0v1.0h-1.0zM335.9 82.5h1.0v1.0h-1.0zM335.2 85.7h1.0v1.0h-1.0zM339.0 80.0h1.0v1.0h-1.0zM338.2 82.1h1.0v1.0h-1.0zM334.4 89.1h1.0v1.0h-1.0zM347.6 86.7h1.0v1.0h-1.0zM336.7 85.7h1.0v1.0h-1.0zM349.2 77.5h1.0v1.0h-1.0zM347.8 78.3h1.0v1.0h-1.0zM335.7 88.1h1.0v1.0h-1.0zM338.5 95.1h1.0v1.0h-1.0zM343.4 86.1h1.0v1.0h-1.0zM346.5 85.8h1.0v1.0h-1.0zM334.5 93.4h1.0v1.0h-1.0zM350.3 90.8h1.0v1.0h-1.0zM332.0 97.6h1.0v1.0h-1.0zM337.1 91.2h1.0v1.0h-1.0zM348.2 96.3h1.0v1.0h-1.0zM328.9 84.6h1.0v1.0h-1.0zM348.1 87.6h1.0v1.0h-1.0zM343.0 85.5h1.0v1.0h-1.0zM322.1 103.3h1.0v1.0h-1.0zM322.9 88.1h1.0v1.0h-1.0zM340.0 88.1h1.0v1.0h-1.0zM345.2 84.7h1.0v1.0h-1.0zM333.9 86.6h1.0v1.0h-1.0zM325.6 84.9h1.0v1.0h-1.0zM353.5 80.9h1.0v1.0h-1.0zM339.5 96.0h1.0v1.0h-1.0zM347.2 86.0h1.0v1.0h-1.0zM345.0 84.7h1.0v1.0h-1.0zM333.8 93.0h1.0v1.0h-1.0zM340.9 94.3h1.0v1.0h-1.0zM338.2 85.6h1.0v1.0h-1.0zM342.4 85.6h1.0v1.0h-1.0zM337.9 83.3h1.0v1.0h-1.0zM341.7 88.1h1.0v1.0h-1.0zM352.6 84.2h1.0v1.0h-1.0zM328.0 91.8h1.0v1.0h-1.0zM355.7 81.6h1.0v1.0h-1.0zM334.5 87.4h1.0v1.0h-1.0zM320.4 89.6h1.0v1.0h-1.0zM338.7 80.2h1.0v1.0h-1.0zM344.0 82.1h1.0v1.0h-1.0zM327.3 86.4h1.0v1.0h-1.0zM344.4 95.0h1.0v1.0h-1.0zM348.6 86.1h1.0v1.0h-1.0zM336.5 86.5h1.0v1.0h-1.0zM346.6 83.2h1.0v1.0h-1.0zM342.9 90.9h1.0v1.0h-1.0zM333.8 85.6h1.0v1.0h-1.0zM343.1 86.4h1.0v1.0h-1.0zM339.1 84.7h1.0v1.0h-1.0zM339.6 95.7h1.0v1.0h-1.0zM349.3 77.5h1.0v1.0h-1.0zM340.3 87.4h1.0v1.0h-1.0zM340.3 80.5h1.0v1.0h-1.0zM339.1 87.9h1.0v1.0h-1.0zM335.3 89.5h1.0v1.0h-1.0zM323.3 83.6h1.0v1.0h-1.0zM340.7 88.7h1.0v1.0h-1.0zM338.9 85.1h1.0v1.0h-1.0zM341.3 91.8h1.0v1.0h-1.0zM346.2 85.3h1.0v1.0h-1.0zM336.8 92.6h1.0v1.0h-1.0zM343.7 90.3h1.0v1.0h-1.0zM338.1 83.4h1.0v1.0h-1.0zM341.3 83.8h1.0v1.0h-1.0zM347.9 89.3h1.0v1.0h-1.0zM325.0 93.3h1.0v1.0h-1.0zM349.2 89.9h1.0v1.0h-1.0zM336.7 83.7h1.0v1.0h-1.0zM346.7 90.3h1.0v1.0h-1.0zM340.4 81.5h1.0v1.0h-1.0zM329.5 90.5h1.0v1.0h-1.0zM334.3 85.0h1.0v1.0h-1.0zM343.1 91.2h1.0v1.0h-1.0zM325.8 86.9h1.0v1.0h-1.0zM348.9 84.9h1.0v1.0h-1.0zM337.6 90.5h1.0v1.0h-1.0zM332.2 83.0h1.0v1.0h-1.0zM340.1 94.3h1.0v1.0h-1.0zM347.0 85.5h1.0v1.0h-1.0zM347.0 83.6h1.0v1.0h-1.0zM331.9 80.9h1.0v1.0h-1.0zM341.9 90.8h1.0v1.0h-1.0zM342.6 86.3h1.0v1.0h-1.0zM337.2 92.7h1.0v1.0h-1.0zM339.7 80.3h1.0v1.0h-1.0z" fill="#999" fill-opacity="0.65"/>
<path d="M368.7 65.6h1.0v1.0h-1.0zM363.9 72.0h1.0v1.0h-1.0zM367.2 74.4h1.0v1.0h-1.0zM368.0 74.1h1.0v1.0h-1.0zM359.7 67.0h1.0v1.0h-1.0zM365.2 63.9h1.0v1.0h-1.0zM366.6 69.7h1.0v1.0h-1.0zM357.4 63.4h1.0v1.0h-1.0zM361.3 89.3h1.0v1.0h-1.0zM365.8 72.2h1.0v1.0h-1.0zM357.6 90.7h1.0v1.0h-1.0zM360.6 72.0h1.0v1.0h-1.0z" fill="#bbb" fill-opacity="0.7"/>
<g filter="url(#b8)" fill="none" stroke="#777" stroke-width="0.9"><ellipse cx="340" cy="86" rx="12" ry="5" transform="rotate(-25 340 86)"/><ellipse cx="341" cy="85" rx="7" ry="3" transform="rotate(-25 341 85)"/></g>
<ellipse cx="338.5" cy="65.5" rx="10" ry="8" fill="#7a7a7a" fill-opacity="0.7" transform="rotate(-10 338.5 65.5)" filter="url(#b20)"/>
<path d="M336.2 71.5h1.0v1.0h-1.0zM339.5 63.4h1.0v1.0h-1.0zM339.5 61.0h1.0v1.0h-1.0zM332.8 65.3h1.0v1.0h-1.0zM349.2 59.7h1.0v1.0h-1.0zM337.7 58.6h1.0v1.0h-1.0zM339.4 66.4h1.0v1.0h-1.0zM342.5 59.3h1.0v1.0h-1.0zM335.3 62.9h1.0v1.0h-1.0zM337.2 75.6h1.0v1.0h-1.0zM337.4 65.4h1.0v1.0h-1.0zM335.8 69.2h1.0v1.0h-1.0zM346.8 60.1h1.0v1.0h-1.0zM344.2 65.2h1.0v1.0h-1.0zM345.3 69.6h1.0v1.0h-1.0zM342.0 57.9h1.0v1.0h-1.0zM339.2 63.2h1.0v1.0h-1.0zM340.9 65.5h1.0v1.0h-1.0zM344.2 58.0h1.0v1.0h-1.0zM334.5 65.5h1.0v1.0h-1.0zM340.2 63.6h1.0v1.0h-1.0zM338.3 65.8h1.0v1.0h-1.0zM344.2 64.5h1.0v1.0h-1.0zM339.8 57.4h1.0v1.0h-1.0zM340.4 55.2h1.0v1.0h-1.0zM340.7 64.9h1.0v1.0h-1.0zM338.5 62.3h1.0v1.0h-1.0zM336.2 69.3h1.0v1.0h-1.0zM340.4 65.2h1.0v1.0h-1.0zM335.9 66.6h1.0v1.0h-1.0zM344.9 64.9h1.0v1.0h-1.0zM336.5 60.5h1.0v1.0h-1.0zM339.0 61.4h1.0v1.0h-1.0zM330.7 70.0h1.0v1.0h-1.0zM335.1 56.8h1.0v1.0h-1.0zM334.6 73.9h1.0v1.0h-1.0zM337.9 59.7h1.0v1.0h-1.0zM332.5 69.1h1.0v1.0h-1.0zM340.7 66.3h1.0v1.0h-1.0zM337.4 67.7h1.0v1.0h-1.0zM346.8 67.0h1.0v1.0h-1.0zM337.6 59.4h1.0v1.0h-1.0zM340.9 72.2h1.0v1.0h-1.0zM342.0 59.7h1.0v1.0h-1.0zM339.5 71.1h1.0v1.0h-1.0zM335.1 68.0h1.0v1.0h-1.0zM345.0 72.2h1.0v1.0h-1.0zM329.9 58.5h1.0v1.0h-1.0zM340.5 68.4h1.0v1.0h-1.0zM336.6 65.6h1.0v1.0h-1.0zM336.3 71.0h1.0v1.0h-1.0zM331.6 63.1h1.0v1.0h-1.0zM330.2 62.2h1.0v1.0h-1.0zM338.4 65.6h1.0v1.0h-1.0zM348.2 63.7h1.0v1.0h-1.0zM340.4 66.9h1.0v1.0h-1.0zM339.9 71.8h1.0v1.0h-1.0zM339.3 66.1h1.0v1.0h-1.0zM337.9 65.6h1.0v1.0h-1.0zM338.2 69.9h1.0v1.0h-1.0zM338.6 65.8h1.0v1.0h-1.0zM338.2 68.9h1.0v1.0h-1.0zM335.9 69.8h1.0v1.0h-1.0zM335.4 68.8h1.0v1.0h-1.0zM348.9 65.7h1.0v1.0h-1.0zM338.0 60.3h1.0v1.0h-1.0zM342.5 65.2h1.0v1.0h-1.0zM343.4 62.2h1.0v1.0h-1.0zM341.3 73.2h1.0v1.0h-1.0zM340.7 63.9h1.0v1.0h-1.0zM331.4 66.0h1.0v1.0h-1.0zM342.1 67.8h1.0v1.0h-1.0zM332.4 61.5h1.0v1.0h-1.0zM333.2 61.4h1.0v1.0h-1.0zM337.0 66.8h1.0v1.0h-1.0zM348.9 65.5h1.0v1.0h-1.0zM346.4 57.6h1.0v1.0h-1.0zM346.9 68.3h1.0v1.0h-1.0zM340.9 68.9h1.0v1.0h-1.0zM341.9 73.7h1.0v1.0h-1.0zM342.9 57.5h1.0v1.0h-1.0zM329.0 73.4h1.0v1.0h-1.0zM338.0 71.4h1.0v1.0h-1.0zM336.6 62.8h1.0v1.0h-1.0zM336.6 67.0h1.0v1.0h-1.0zM339.5 62.7h1.0v1.0h-1.0zM341.4 68.0h1.0v1.0h-1.0zM333.5 61.0h1.0v1.0h-1.0zM327.8 65.0h1.0v1.0h-1.0zM338.6 62.4h1.0v1.0h-1.0zM335.2 65.2h1.0v1.0h-1.0zM338.7 68.0h1.0v1.0h-1.0zM343.0 67.1h1.0v1.0h-1.0zM344.6 60.7h1.0v1.0h-1.0zM341.8 66.9h1.0v1.0h-1.0zM332.8 63.0h1.0v1.0h-1.0zM340.9 65.6h1.0v1.0h-1.0zM331.7 63.6h1.0v1.0h-1.0zM346.8 68.6h1.0v1.0h-1.0zM338.9 71.4h1.0v1.0h-1.0zM333.6 65.1h1.0v1.0h-1.0zM343.7 63.6h1.0v1.0h-1.0zM332.4 68.6h1.0v1.0h-1.0zM339.3 59.9h1.0v1.0h-1.0zM336.9 59.4h1.0v1.0h-1.0zM338.7 62.4h1.0v1.0h-1.0zM333.1 63.9h1.0v1.0h-1.0zM339.6 73.2h1.0v1.0h-1.0zM340.1 72.3h1.0v1.0h-1.0zM332.7 66.3h1.0v1.0h-1.0zM336.1 58.8h1.0v1.0h-1.0zM339.8 62.1h1.0v1.0h-1.0zM335.4 61.2h1.0v1.0h-1.0zM344.1 63.3h1.0v1.0h-1.0zM337.7 66.4h1.0v1.0h-1.0zM331.8 67.1h1.0v1.0h-1.0zM337.6 67.5h1.0v1.0h-1.0zM336.4 65.8h1.0v1.0h-1.0zM341.3 69.5h1.0v1.0h-1.0zM334.8 70.1h1.0v1.0h-1.0zM333.1 65.1h1.0v1.0h-1.0zM339.2 66.1h1.0v1.0h-1.0zM337.5 69.7h1.0v1.0h-1.0zM334.7 72.5h1.0v1.0h-1.0zM328.7 66.6h1.0v1.0h-1.0zM341.4 65.3h1.0v1.0h-1.0zM339.9 69.5h1.0v1.0h-1.0zM334.1 68.5h1.0v1.0h-1.0zM344.3 64.0h1.0v1.0h-1.0zM333.9 61.2h1.0v1.0h-1.0zM340.8 61.7h1.0v1.0h-1.0zM331.4 64.8h1.0v1.0h-1.0zM346.8 67.8h1.0v1.0h-1.0zM333.0 70.5h1.0v1.0h-1.0zM335.9 75.5h1.0v1.0h-1.0zM335.5 68.4h1.0v1.0h-1.0zM341.6 63.3h1.0v1.0h-1.0zM337.7 70.7h1.0v1.0h-1.0zM341.2 65.0h1.0v1.0h-1.0zM340.9 73.0h1.0v1.0h-1.0zM343.6 67.2h1.0v1.0h-1.0zM340.3 58.4h1.0v1.0h-1.0zM339.2 63.3h1.0v1.0h-1.0zM342.5 62.5h1.0v1.0h-1.0zM340.9 60.6h1.0v1.0h-1.0zM343.4 61.9h1.0v1.0h-1.0zM338.3 68.1h1.0v1.0h-1.0zM336.7 65.7h1.0v1.0h-1.0zM344.3 72.9h1.0v1.0h-1.0zM328.7 62.3h1.0v1.0h-1.0zM342.2 69.4h1.0v1.0h-1.0zM335.9 66.1h1.0v1.0h-1.0zM337.5 75.7h1.0v1.0h-1.0zM337.4 60.3h1.0v1.0h-1.0zM330.1 60.5h1.0v1.0h-1.0zM345.6 63.2h1.0v1.0h-1.0zM349.1 67.5h1.0v1.0h-1.0zM340.6 68.2h1.0v1.0h-1.0zM342.8 69.2h1.0v1.0h-1.0zM333.2 63.5h1.0v1.0h-1.0zM335.5 66.2h1.0v1.0h-1.0zM337.1 60.2h1.0v1.0h-1.0zM334.7 73.7h1.0v1.0h-1.0zM350.0 60.8h1.0v1.0h-1.0zM340.6 65.2h1.0v1.0h-1.0zM333.9 69.0h1.0v1.0h-1.0zM338.1 72.9h1.0v1.0h-1.0zM341.0 63.9h1.0v1.0h-1.0zM343.1 62.0h1.0v1.0h-1.0zM343.3 68.1h1.0v1.0h-1.0zM328.9 65.4h1.0v1.0h-1.0zM340.2 68.7h1.0v1.0h-1.0zM339.3 65.4h1.0v1.0h-1.0zM336.6 64.4h1.0v1.0h-1.0zM338.5 60.8h1.0v1.0h-1.0zM342.0 63.8h1.0v1.0h-1.0zM341.3 63.0h1.0v1.0h-1.0zM340.7 65.9h1.0v1.0h-1.0zM343.3 67.1h1.0v1.0h-1.0zM343.6 64.4h1.0v1.0h-1.0zM338.2 64.4h1.0v1.0h-1.0zM331.7 65.5h1.0v1.0h-1.0zM344.4 68.4h1.0v1.0h-1.0zM333.9 67.2h1.0v1.0h-1.0zM342.6 59.2h1.0v1.0h-1.0zM340.4 66.8h1.0v1.0h-1.0zM342.6 66.3h1.0v1.0h-1.0zM329.0 57.4h1.0v1.0h-1.0zM349.3 62.9h1.0v1.0h-1.0zM345.4 70.5h1.0v1.0h-1.0zM339.0 60.4h1.0v1.0h-1.0zM345.9 64.7h1.0v1.0h-1.0zM341.3 67.4h1.0v1.0h-1.0zM343.7 69.5h1.0v1.0h-1.0zM330.8 59.9h1.0v1.0h-1.0zM339.3 65.5h1.0v1.0h-1.0zM342.7 64.6h1.0v1.0h-1.0zM337.5 74.5h1.0v1.0h-1.0zM346.0 70.0h1.0v1.0h-1.0zM344.1 61.6h1.0v1.0h-1.0zM338.0 65.2h1.0v1.0h-1.0zM332.6 62.2h1.0v1.0h-1.0zM339.4 60.1h1.0v1.0h-1.0zM341.4 67.3h1.0v1.0h-1.0zM337.2 64.1h1.0v1.0h-1.0zM341.8 67.3h1.0v1.0h-1.0zM340.5 59.9h1.0v1.0h-1.0zM329.7 75.3h1.0v1.0h-1.0zM335.0 64.2h1.0v1.0h-1.0zM328.6 62.8h1.0v1.0h-1.0zM334.5 69.3h1.0v1.0h-1.0zM336.3 63.5h1.0v1.0h-1.0zM334.3 63.9h1.0v1.0h-1.0zM329.9 67.4h1.0v1.0h-1.0zM345.0 65.6h1.0v1.0h-1.0zM335.6 71.3h1.0v1.0h-1.0zM341.2 60.7h1.0v1.0h-1.0zM335.4 63.1h1.0v1.0h-1.0zM338.3 70.9h1.0v1.0h-1.0zM334.7 65.2h1.0v1.0h-1.0zM339.1 60.2h1.0v1.0h-1.0zM335.9 68.4h1.0v1.0h-1.0zM344.7 56.7h1.0v1.0h-1.0zM342.3 63.9h1.0v1.0h-1.0zM345.5 67.7h1.0v1.0h-1.0zM349.2 66.0h1.0v1.0h-1.0zM336.4 62.0h1.0v1.0h-1.0zM330.7 68.6h1.0v1.0h-1.0zM341.3 68.9h1.0v1.0h-1.0zM340.4 58.8h1.0v1.0h-1.0zM336.3 64.6h1.0v1.0h-1.0zM339.4 68.8h1.0v1.0h-1.0zM346.2 66.1h1.0v1.0h-1.0zM327.3 61.9h1.0v1.0h-1.0zM332.0 67.1h1.0v1.0h-1.0zM337.3 70.5h1.0v1.0h-1.0zM344.4 63.0h1.0v1.0h-1.0zM343.6 65.1h1.0v1.0h-1.0zM341.0 71.2h1.0v1.0h-1.0zM332.3 65.7h1.0v1.0h-1.0zM346.9 61.5h1.0v1.0h-1.0zM339.7 66.0h1.0v1.0h-1.0zM336.2 59.9h1.0v1.0h-1.0zM334.8 61.5h1.0v1.0h-1.0zM344.4 66.1h1.0v1.0h-1.0zM342.3 60.0h1.0v1.0h-1.0zM341.2 65.9h1.0v1.0h-1.0zM344.2 61.9h1.0v1.0h-1.0zM342.9 71.2h1.0v1.0h-1.0zM348.3 60.6h1.0v1.0h-1.0zM332.4 59.6h1.0v1.0h-1.0zM343.7 67.7h1.0v1.0h-1.0zM340.4 61.5h1.0v1.0h-1.0zM345.3 72.0h1.0v1.0h-1.0zM338.3 65.0h1.0v1.0h-1.0zM345.0 67.2h1.0v1.0h-1.0zM345.8 63.1h1.0v1.0h-1.0zM340.3 63.9h1.0v1.0h-1.0zM335.4 64.5h1.0v1.0h-1.0zM337.0 67.8h1.0v1.0h-1.0zM336.9 65.9h1.0v1.0h-1.0zM334.1 60.5h1.0v1.0h-1.0zM346.3 60.6h1.0v1.0h-1.0zM348.4 68.8h1.0v1.0h-1.0zM336.2 65.8h1.0v1.0h-1.0zM337.5 62.9h1.0v1.0h-1.0zM345.3 64.4h1.0v1.0h-1.0zM343.7 62.1h1.0v1.0h-1.0zM334.8 71.7h1.0v1.0h-1.0zM337.0 60.8h1.0v1.0h-1.0zM337.6 70.2h1.0v1.0h-1.0zM337.6 62.4h1.0v1.0h-1.0zM342.0 69.5h1.0v1.0h-1.0zM337.4 64.2h1.0v1.0h-1.0zM337.5 73.2h1.0v1.0h-1.0zM337.7 67.3h1.0v1.0h-1.0zM327.4 67.2h1.0v1.0h-1.0zM338.8 64.1h1.0v1.0h-1.0zM336.3 59.7h1.0v1.0h-1.0zM330.4 66.9h1.0v1.0h-1.0zM335.0 65.4h1.0v1.0h-1.0zM337.5 63.4h1.0v1.0h-1.0zM334.6 74.0h1.0v1.0h-1.0zM332.5 63.8h1.0v1.0h-1.0zM336.9 60.6h1.0v1.0h-1.0zM333.3 69.7h1.0v1.0h-1.0zM343.6 65.7h1.0v1.0h-1.0zM345.2 61.4h1.0v1.0h-1.0zM344.4 72.4h1.0v1.0h-1.0zM336.5 73.6h1.0v1.0h-1.0zM334.1 60.9h1.0v1.0h-1.0zM338.3 62.0h1.0v1.0h-1.0zM342.0 60.4h1.0v1.0h-1.0zM339.0 56.9h1.0v1.0h-1.0zM338.3 70.1h1.0v1.0h-1.0zM337.1 67.0h1.0v1.0h-1.0zM344.4 60.2h1.0v1.0h-1.0zM331.6 66.4h1.0v1.0h-1.0zM340.0 64.2h1.0v1.0h-1.0zM333.2 71.2h1.0v1.0h-1.0zM332.2 64.9h1.0v1.0h-1.0zM338.3 68.7h1.0v1.0h-1.0zM336.1 62.1h1.0v1.0h-1.0zM349.4 60.9h1.0v1.0h-1.0zM342.8 64.5h1.0v1.0h-1.0zM335.9 65.5h1.0v1.0h-1.0zM337.1 67.0h1.0v1.0h-1.0zM338.9 61.2h1.0v1.0h-1.0zM336.4 75.9h1.0v1.0h-1.0zM348.5 67.5h1.0v1.0h-1.0zM339.8 64.1h1.0v1.0h-1.0zM346.1 62.9h1.0v1.0h-1.0zM334.1 68.9h1.0v1.0h-1.0zM333.3 62.5h1.0v1.0h-1.0zM346.4 57.8h1.0v1.0h-1.0zM338.2 66.1h1.0v1.0h-1.0zM339.9 59.0h1.0v1.0h-1.0zM337.3 64.1h1.0v1.0h-1.0zM349.0 69.0h1.0v1.0h-1.0zM334.4 69.7h1.0v1.0h-1.0zM342.1 64.7h1.0v1.0h-1.0zM337.2 64.4h1.0v1.0h-1.0zM330.1 63.4h1.0v1.0h-1.0zM343.6 71.4h1.0v1.0h-1.0zM348.6 63.0h1.0v1.0h-1.0zM337.1 60.1h1.0v1.0h-1.0zM343.0 57.9h1.0v1.0h-1.0zM332.9 61.1h1.0v1.0h-1.0zM340.7 69.0h1.0v1.0h-1.0zM333.5 73.8h1.0v1.0h-1.0zM339.4 61.8h1.0v1.0h-1.0zM340.4 65.3h1.0v1.0h-1.0zM343.0 66.6h1.0v1.0h-1.0zM350.4 69.6h1.0v1.0h-1.0zM335.1 69.2h1.0v1.0h-1.0zM342.7 60.8h1.0v1.0h-1.0zM334.5 62.3h1.0v1.0h-1.0zM337.4 71.0h1.0v1.0h-1.0zM335.5 66.1h1.0v1.0h-1.0zM342.5 69.4h1.0v1.0h-1.0zM340.3 60.8h1.0v1.0h-1.0zM350.5 68.3h1.0v1.0h-1.0zM345.9 72.0h1.0v1.0h-1.0zM346.1 66.7h1.0v1.0h-1.0zM341.1 68.0h1.0v1.0h-1.0zM330.4 69.7h1.0v1.0h-1.0zM333.2 67.8h1.0v1.0h-1.0zM333.0 69.1h1.0v1.0h-1.0zM335.9 76.6h1.0v1.0h-1.0zM339.6 67.6h1.0v1.0h-1.0zM333.6 64.6h1.0v1.0h-1.0zM338.2 64.3h1.0v1.0h-1.0zM336.2 61.9h1.0v1.0h-1.0zM342.7 63.5h1.0v1.0h-1.0zM334.1 67.5h1.0v1.0h-1.0zM334.1 65.1h1.0v1.0h-1.0zM335.8 61.7h1.0v1.0h-1.0zM337.3 62.0h1.0v1.0h-1.0zM331.7 67.6h1.0v1.0h-1.0zM336.9 59.2h1.0v1.0h-1.0zM336.4 66.5h1.0v1.0h-1.0zM340.9 66.9h1.0v1.0h-1.0zM339.9 68.0h1.0v1.0h-1.0zM335.9 62.2h1.0v1.0h-1.0zM341.9 63.4h1.0v1.0h-1.0zM338.6 68.3h1.0v1.0h-1.0zM343.6 70.4h1.0v1.0h-1.0zM334.8 64.2h1.0v1.0h-1.0zM341.6 59.0h1.0v1.0h-1.0zM331.7 68.7h1.0v1.0h-1.0zM335.2 61.7h1.0v1.0h-1.0zM342.9 67.5h1.0v1.0h-1.0zM343.5 63.7h1.0v1.0h-1.0zM337.0 64.1h1.0v1.0h-1.0zM340.2 56.5h1.0v1.0h-1.0zM334.8 68.9h1.0v1.0h-1.0zM334.3 65.6h1.0v1.0h-1.0zM339.2 67.7h1.0v1.0h-1.0zM336.0 60.8h1.0v1.0h-1.0zM347.8 57.1h1.0v1.0h-1.0z" fill="#555" fill-opacity="0.45"/>
<ellipse cx="331.5" cy="99" rx="7.5" ry="6.5" fill="none" stroke="#555" stroke-width="4.2" stroke-opacity="0.9" transform="rotate(0 331.5 99)" filter="url(#b10)"/>
<ellipse cx="331.5" cy="99" rx="10.5" ry="8.5" fill="none" stroke="#777" stroke-width="1.2" stroke-opacity="0.6" transform="rotate(0 331.5 99)" filter="url(#b8)"/>
<ellipse cx="331.8" cy="99.2" rx="3" ry="2.6" fill="#e4e4e4" filter="url(#b10)"/>
<path d="M332.2 98.1h1.0v1.0h-1.0zM337.3 94.1h1.0v1.0h-1.0zM326.8 95.3h1.0v1.0h-1.0zM328.5 100.3h1.0v1.0h-1.0zM326.9 97.8h1.0v1.0h-1.0zM320.6 94.4h1.0v1.0h-1.0zM329.4 105.3h1.0v1.0h-1.0zM333.7 106.0h1.0v1.0h-1.0zM326.5 97.5h1.0v1.0h-1.0zM337.6 101.8h1.0v1.0h-1.0zM320.5 97.7h1.0v1.0h-1.0zM332.6 102.1h1.0v1.0h-1.0zM333.9 99.4h1.0v1.0h-1.0zM329.7 93.3h1.0v1.0h-1.0zM336.7 102.7h1.0v1.0h-1.0zM337.1 97.2h1.0v1.0h-1.0zM325.6 97.2h1.0v1.0h-1.0zM329.7 98.9h1.0v1.0h-1.0zM337.4 94.6h1.0v1.0h-1.0zM328.7 102.4h1.0v1.0h-1.0zM334.7 94.9h1.0v1.0h-1.0zM325.4 95.2h1.0v1.0h-1.0zM332.0 100.2h1.0v1.0h-1.0zM331.2 96.0h1.0v1.0h-1.0zM330.5 98.6h1.0v1.0h-1.0zM335.1 99.4h1.0v1.0h-1.0zM326.8 93.3h1.0v1.0h-1.0zM340.3 98.6h1.0v1.0h-1.0zM330.5 98.9h1.0v1.0h-1.0zM338.2 97.5h1.0v1.0h-1.0zM332.6 97.9h1.0v1.0h-1.0zM335.0 94.1h1.0v1.0h-1.0zM332.8 104.0h1.0v1.0h-1.0zM338.5 102.0h1.0v1.0h-1.0zM335.7 105.8h1.0v1.0h-1.0zM324.5 93.7h1.0v1.0h-1.0zM336.3 97.7h1.0v1.0h-1.0zM329.0 94.4h1.0v1.0h-1.0zM340.3 93.2h1.0v1.0h-1.0zM332.2 92.3h1.0v1.0h-1.0zM345.9 96.6h1.0v1.0h-1.0zM326.5 90.4h1.0v1.0h-1.0zM333.6 93.8h1.0v1.0h-1.0zM323.0 104.5h1.0v1.0h-1.0zM327.3 93.9h1.0v1.0h-1.0zM332.6 98.1h1.0v1.0h-1.0zM338.2 99.5h1.0v1.0h-1.0zM340.9 104.5h1.0v1.0h-1.0zM342.1 104.4h1.0v1.0h-1.0zM332.0 101.6h1.0v1.0h-1.0zM331.7 91.5h1.0v1.0h-1.0zM324.7 102.6h1.0v1.0h-1.0zM317.7 95.0h1.0v1.0h-1.0zM324.0 98.7h1.0v1.0h-1.0zM325.5 100.2h1.0v1.0h-1.0zM330.4 96.7h1.0v1.0h-1.0zM326.6 88.3h1.0v1.0h-1.0zM332.0 92.8h1.0v1.0h-1.0zM329.9 100.8h1.0v1.0h-1.0zM337.7 102.4h1.0v1.0h-1.0zM340.3 92.1h1.0v1.0h-1.0zM333.9 93.6h1.0v1.0h-1.0zM333.9 96.5h1.0v1.0h-1.0zM327.8 104.2h1.0v1.0h-1.0zM330.5 93.6h1.0v1.0h-1.0zM326.6 102.3h1.0v1.0h-1.0zM332.6 104.7h1.0v1.0h-1.0zM330.0 94.4h1.0v1.0h-1.0zM327.8 94.0h1.0v1.0h-1.0zM346.8 100.0h1.0v1.0h-1.0zM329.7 105.1h1.0v1.0h-1.0zM335.4 98.1h1.0v1.0h-1.0zM335.2 100.3h1.0v1.0h-1.0zM329.8 98.8h1.0v1.0h-1.0zM330.5 104.9h1.0v1.0h-1.0zM333.8 102.8h1.0v1.0h-1.0zM336.9 95.9h1.0v1.0h-1.0zM332.4 105.7h1.0v1.0h-1.0zM337.0 102.9h1.0v1.0h-1.0zM330.0 97.3h1.0v1.0h-1.0zM326.6 97.7h1.0v1.0h-1.0zM331.2 92.1h1.0v1.0h-1.0zM338.4 95.3h1.0v1.0h-1.0zM333.1 101.9h1.0v1.0h-1.0zM328.4 90.3h1.0v1.0h-1.0zM337.3 101.0h1.0v1.0h-1.0zM330.1 104.5h1.0v1.0h-1.0zM336.8 94.4h1.0v1.0h-1.0zM331.1 90.5h1.0v1.0h-1.0zM330.1 105.8h1.0v1.0h-1.0zM326.7 103.0h1.0v1.0h-1.0zM322.8 97.6h1.0v1.0h-1.0zM334.3 102.7h1.0v1.0h-1.0zM341.7 87.2h1.0v1.0h-1.0zM346.0 101.9h1.0v1.0h-1.0zM332.0 100.3h1.0v1.0h-1.0zM331.8 96.0h1.0v1.0h-1.0zM331.5 98.4h1.0v1.0h-1.0zM335.5 102.3h1.0v1.0h-1.0zM337.3 101.9h1.0v1.0h-1.0zM325.9 105.7h1.0v1.0h-1.0zM333.5 96.5h1.0v1.0h-1.0zM342.6 93.7h1.0v1.0h-1.0zM324.8 96.6h1.0v1.0h-1.0zM334.0 102.9h1.0v1.0h-1.0zM332.2 102.2h1.0v1.0h-1.0zM327.5 96.1h1.0v1.0h-1.0zM332.4 92.5h1.0v1.0h-1.0zM332.7 97.1h1.0v1.0h-1.0zM335.6 94.1h1.0v1.0h-1.0zM328.5 96.3h1.0v1.0h-1.0zM329.5 94.2h1.0v1.0h-1.0zM330.1 92.5h1.0v1.0h-1.0zM334.7 102.3h1.0v1.0h-1.0zM331.5 98.1h1.0v1.0h-1.0zM326.4 94.4h1.0v1.0h-1.0zM330.3 94.6h1.0v1.0h-1.0zM324.7 99.8h1.0v1.0h-1.0zM331.5 97.1h1.0v1.0h-1.0zM326.9 98.8h1.0v1.0h-1.0zM327.6 96.9h1.0v1.0h-1.0zM332.7 102.5h1.0v1.0h-1.0zM336.0 96.1h1.0v1.0h-1.0zM338.6 93.4h1.0v1.0h-1.0zM330.6 105.3h1.0v1.0h-1.0zM345.4 99.6h1.0v1.0h-1.0zM329.5 97.2h1.0v1.0h-1.0zM324.5 98.3h1.0v1.0h-1.0zM329.1 95.4h1.0v1.0h-1.0zM338.6 95.3h1.0v1.0h-1.0zM341.5 103.1h1.0v1.0h-1.0zM335.3 96.2h1.0v1.0h-1.0zM328.6 89.4h1.0v1.0h-1.0zM333.2 97.7h1.0v1.0h-1.0zM333.9 95.8h1.0v1.0h-1.0zM334.4 91.8h1.0v1.0h-1.0zM318.9 101.3h1.0v1.0h-1.0zM339.1 97.3h1.0v1.0h-1.0zM330.7 91.6h1.0v1.0h-1.0zM325.8 102.4h1.0v1.0h-1.0zM327.3 98.8h1.0v1.0h-1.0zM336.8 92.6h1.0v1.0h-1.0zM328.8 93.5h1.0v1.0h-1.0zM323.5 95.7h1.0v1.0h-1.0zM338.0 99.2h1.0v1.0h-1.0zM335.5 98.4h1.0v1.0h-1.0zM329.1 99.4h1.0v1.0h-1.0zM342.0 100.8h1.0v1.0h-1.0zM335.1 89.4h1.0v1.0h-1.0zM327.0 102.9h1.0v1.0h-1.0zM338.7 97.1h1.0v1.0h-1.0zM330.3 96.8h1.0v1.0h-1.0zM336.2 99.1h1.0v1.0h-1.0zM340.3 104.7h1.0v1.0h-1.0zM329.8 96.1h1.0v1.0h-1.0zM330.2 94.8h1.0v1.0h-1.0zM329.1 98.7h1.0v1.0h-1.0zM336.7 91.4h1.0v1.0h-1.0zM323.5 95.3h1.0v1.0h-1.0zM329.8 101.2h1.0v1.0h-1.0z" fill="#555" fill-opacity="0.35"/>
<rect x="326" y="53.8" width="25.5" height="23.4" fill="none" stroke="#333" stroke-width="1"/>
<text x="327.6" y="59" font-size="4.4" text-anchor="start" fill="#222" stroke="#222" stroke-width="0.12">R3</text>
<line x1="316" y1="123.1" x2="400.6" y2="123.1" stroke="#111" stroke-width="2"/>
<path d="M400.1,119.89999999999999 L406.6,123.1 L400.1,126.3 Z" fill="#111"/>
<text x="356.5" y="135.3" font-size="9.4" font-weight="bold" text-anchor="middle" fill="#111" textLength="22.5" lengthAdjust="spacingAndGlyphs" stroke="#111" stroke-width="0.15">F4/80</text>
<rect x="426.5" y="14.8" width="92.2" height="92.5" fill="none" stroke="#727272" stroke-width="1.1"/>
<text x="423.7" y="16.400000000000002" font-size="4.6" text-anchor="end" fill="#333" stroke="#333" stroke-width="0.12">250</text>
<line x1="424.0" y1="14.8" x2="426.5" y2="14.8" stroke="#666" stroke-width="0.7"/>
<text x="423.7" y="39.525" font-size="4.6" text-anchor="end" fill="#333" stroke="#333" stroke-width="0.12">187</text>
<line x1="424.0" y1="37.925" x2="426.5" y2="37.925" stroke="#666" stroke-width="0.7"/>
<text x="423.7" y="62.65" font-size="4.6" text-anchor="end" fill="#333" stroke="#333" stroke-width="0.12">125</text>
<line x1="424.0" y1="61.05" x2="426.5" y2="61.05" stroke="#666" stroke-width="0.7"/>
<text x="423.7" y="85.77499999999999" font-size="4.6" text-anchor="end" fill="#333" stroke="#333" stroke-width="0.12">62</text>
<line x1="424.0" y1="84.175" x2="426.5" y2="84.175" stroke="#666" stroke-width="0.7"/>
<text x="423.7" y="108.89999999999999" font-size="4.6" text-anchor="end" fill="#333" stroke="#333" stroke-width="0.12">0</text>
<line x1="424.0" y1="107.3" x2="426.5" y2="107.3" stroke="#666" stroke-width="0.7"/>
<text x="425.12" y="113.202" font-size="4.6" fill="#3a3a3a" stroke="#3a3a3a" stroke-width="0.12" text-anchor="middle">10<tspan font-size="3.45" dy="-1.38">0</tspan></text>
<line x1="426.5" y1="107.3" x2="426.5" y2="108.89999999999999" stroke="#666" stroke-width="0.7"/>
<text x="456.12" y="113.202" font-size="4.6" fill="#3a3a3a" stroke="#3a3a3a" stroke-width="0.12" text-anchor="middle">10<tspan font-size="3.45" dy="-1.38">1</tspan></text>
<line x1="457.5" y1="107.3" x2="457.5" y2="108.89999999999999" stroke="#666" stroke-width="0.7"/>
<text x="487.62" y="113.202" font-size="4.6" fill="#3a3a3a" stroke="#3a3a3a" stroke-width="0.12" text-anchor="middle">10<tspan font-size="3.45" dy="-1.38">2</tspan></text>
<line x1="489" y1="107.3" x2="489" y2="108.89999999999999" stroke="#666" stroke-width="0.7"/>
<path d="M435.0,107.0 L436.0,102.3 L437.0,97.3 L438.0,89.8 L439.0,84.1 L440.0,80.3 L441.0,81.0 L442.0,81.8 L443.0,80.8 L444.0,81.2 L445.0,82.3 L446.0,81.4 L447.0,79.5 L448.0,80.5 L449.0,77.6 L449.7,80.6 L450.4,77.7 L451.2,79.8 L451.9,76.6 L452.9,80.7 L453.9,83.5 L454.6,84.8 L455.4,86.5 L456.1,84.5 L456.9,88.4 L457.7,87.4 L458.5,89.3 L459.3,89.9 L460.1,86.9 L460.9,87.7 L461.7,90.0 L462.5,87.6 L463.2,88.4 L464.0,91.9 L464.8,90.8 L465.6,92.8 L466.4,92.1 L467.2,88.7 L468.0,92.7 L468.8,92.5 L469.6,91.6 L470.4,94.8 L471.2,94.9 L472.0,96.0 L472.8,96.1 L473.6,95.2 L474.4,97.0 L475.2,97.0 L476.0,97.7 L476.8,97.2 L477.6,94.3 L478.4,98.0 L479.2,96.5 L480.0,97.0 L480.8,96.6 L481.6,97.6 L482.3,97.7 L483.1,96.5 L483.8,98.2 L484.6,99.1 L485.3,100.6 L486.1,99.8 L486.8,98.7 L487.6,101.9 L488.4,102.2 L489.1,98.3 L489.9,102.0 L490.7,102.5 L491.5,103.8 L492.3,101.7 L493.1,102.8 L493.9,101.4 L494.7,103.9 L495.4,104.6 L496.2,105.3 L496.9,104.2 L497.7,105.8 L498.4,105.1 L499.2,102.6 L499.9,106.1 L500.7,105.1 L501.4,105.9 L502.2,105.5 L502.9,105.4 L503.6,106.9 L504.3,105.0 L505.1,105.6 L505.8,104.0 L506.5,107.6 L507.2,106.4 L508.0,104.0 L508.7,107.0 L508.7,107.3 L435.0,107.3 Z" fill="url(#hB)" stroke="#333" stroke-width="0.9" stroke-linejoin="round"/>
<path d="M436.0,107.0 L437.0,101.3 L438.0,95.9 L439.0,85.5 L440.0,75.9 L441.0,62.8 L442.0,50.0 L443.3,29.8 L444.5,18.7 L445.5,17.8 L446.5,22.1 L447.5,25.9 L448.5,34.1 L449.5,42.7 L450.5,55.7 L451.5,69.6 L452.9,85.9 L453.9,91.8 L454.9,97.4 L455.9,101.2 L456.9,104.3 L457.9,105.8 L458.9,107.0" fill="none" stroke="#666" stroke-width="1.1" stroke-linejoin="round"/>
<text x="459.9" y="31" font-size="8.8" text-anchor="start" fill="#111" textLength="38.8" lengthAdjust="spacingAndGlyphs" stroke="#111" stroke-width="0.3">Anti-OVA</text>
<text x="465.8" y="73.9" font-size="8.8" text-anchor="start" fill="#111" textLength="37.9" lengthAdjust="spacingAndGlyphs" stroke="#111" stroke-width="0.3">Anti-MPO</text>
<line x1="464.8" y1="34.9" x2="457.5117646411008" y2="42.7831933473808" stroke="#111" stroke-width="1.1"/>
<path d="M455.0,45.5 L456.2,40.9 L459.5,43.9 Z" fill="#111"/>
<line x1="480.8" y1="77.7" x2="474.1429798239519" y2="85.83635799294771" stroke="#111" stroke-width="1.1"/>
<path d="M471.8,88.7 L472.8,84.1 L476.2,86.8 Z" fill="#111"/>
<line x1="425.8" y1="123" x2="511.20000000000005" y2="123" stroke="#111" stroke-width="2"/>
<path d="M510.70000000000005,119.8 L517.2,123 L510.70000000000005,126.2 Z" fill="#111"/>
<text x="471" y="132.3" font-size="9.4" font-weight="bold" text-anchor="middle" fill="#111" textLength="63" lengthAdjust="spacingAndGlyphs" stroke="#111" stroke-width="0.15">Anti-MPO/OVA</text>
<line x1="295.9" y1="156.8" x2="295.9" y2="230.6" stroke="#111" stroke-width="1.8"/>
<path d="M292.9,157.3 L295.9,151.3 L298.9,157.3 Z" fill="#111"/>
<text x="289" y="195" font-size="9.2" font-weight="bold" text-anchor="middle" fill="#111" textLength="16.2" lengthAdjust="spacingAndGlyphs" transform="rotate(-90 289 195)" stroke="#111" stroke-width="0.15">Gr-1</text>
<rect x="314.5" y="150.8" width="86.8" height="86.1" fill="none" stroke="#727272" stroke-width="1.1"/>
<text x="310.9" y="152.872" font-size="5.6" fill="#222" stroke="#222" stroke-width="0.12" text-anchor="end">10<tspan font-size="4.2" dy="-1.68">4</tspan></text>
<line x1="312.5" y1="150.8" x2="314.5" y2="150.8" stroke="#666" stroke-width="0.7"/>
<text x="310.9" y="174.39700000000002" font-size="5.6" fill="#222" stroke="#222" stroke-width="0.12" text-anchor="end">10<tspan font-size="4.2" dy="-1.68">3</tspan></text>
<line x1="312.5" y1="172.32500000000002" x2="314.5" y2="172.32500000000002" stroke="#666" stroke-width="0.7"/>
<text x="310.9" y="195.92200000000003" font-size="5.6" fill="#222" stroke="#222" stroke-width="0.12" text-anchor="end">10<tspan font-size="4.2" dy="-1.68">2</tspan></text>
<line x1="312.5" y1="193.85000000000002" x2="314.5" y2="193.85000000000002" stroke="#666" stroke-width="0.7"/>
<text x="310.9" y="217.447" font-size="5.6" fill="#222" stroke="#222" stroke-width="0.12" text-anchor="end">10<tspan font-size="4.2" dy="-1.68">1</tspan></text>
<line x1="312.5" y1="215.375" x2="314.5" y2="215.375" stroke="#666" stroke-width="0.7"/>
<text x="310.9" y="238.972" font-size="5.6" fill="#222" stroke="#222" stroke-width="0.12" text-anchor="end">10<tspan font-size="4.2" dy="-1.68">0</tspan></text>
<line x1="312.5" y1="236.9" x2="314.5" y2="236.9" stroke="#666" stroke-width="0.7"/>
<text x="312.76" y="244.946" font-size="5.8" fill="#222" stroke="#222" stroke-width="0.12" text-anchor="middle">10<tspan font-size="4.35" dy="-1.74">0</tspan></text>
<line x1="314.5" y1="236.9" x2="314.5" y2="238.5" stroke="#666" stroke-width="0.7"/>
<text x="334.46" y="244.946" font-size="5.8" fill="#222" stroke="#222" stroke-width="0.12" text-anchor="middle">10<tspan font-size="4.35" dy="-1.74">1</tspan></text>
<line x1="336.2" y1="236.9" x2="336.2" y2="238.5" stroke="#666" stroke-width="0.7"/>
<text x="356.15999999999997" y="244.946" font-size="5.8" fill="#222" stroke="#222" stroke-width="0.12" text-anchor="middle">10<tspan font-size="4.35" dy="-1.74">2</tspan></text>
<line x1="357.9" y1="236.9" x2="357.9" y2="238.5" stroke="#666" stroke-width="0.7"/>
<text x="377.86" y="244.946" font-size="5.8" fill="#222" stroke="#222" stroke-width="0.12" text-anchor="middle">10<tspan font-size="4.35" dy="-1.74">3</tspan></text>
<line x1="379.6" y1="236.9" x2="379.6" y2="238.5" stroke="#666" stroke-width="0.7"/>
<text x="399.56" y="244.946" font-size="5.8" fill="#222" stroke="#222" stroke-width="0.12" text-anchor="middle">10<tspan font-size="4.35" dy="-1.74">4</tspan></text>
<line x1="401.3" y1="236.9" x2="401.3" y2="238.5" stroke="#666" stroke-width="0.7"/>
<path d="M337.5 230.8h1.0v1.0h-1.0zM336.1 213.9h1.0v1.0h-1.0zM338.6 222.2h1.0v1.0h-1.0zM331.6 218.5h1.0v1.0h-1.0zM350.4 213.6h1.0v1.0h-1.0zM342.9 214.6h1.0v1.0h-1.0zM328.6 226.1h1.0v1.0h-1.0zM346.4 211.9h1.0v1.0h-1.0zM326.9 227.2h1.0v1.0h-1.0zM336.3 222.2h1.0v1.0h-1.0zM331.6 223.5h1.0v1.0h-1.0zM334.7 228.0h1.0v1.0h-1.0zM339.0 225.1h1.0v1.0h-1.0zM337.8 209.5h1.0v1.0h-1.0zM325.9 231.7h1.0v1.0h-1.0zM343.5 222.2h1.0v1.0h-1.0zM337.6 211.5h1.0v1.0h-1.0zM335.0 225.1h1.0v1.0h-1.0zM346.6 213.5h1.0v1.0h-1.0zM334.6 219.0h1.0v1.0h-1.0zM344.4 221.6h1.0v1.0h-1.0zM326.7 234.9h1.0v1.0h-1.0zM332.3 216.6h1.0v1.0h-1.0zM328.2 223.4h1.0v1.0h-1.0zM352.5 225.6h1.0v1.0h-1.0zM330.3 222.3h1.0v1.0h-1.0zM339.1 222.6h1.0v1.0h-1.0zM335.1 214.2h1.0v1.0h-1.0zM335.5 218.9h1.0v1.0h-1.0zM326.9 228.9h1.0v1.0h-1.0zM329.0 217.4h1.0v1.0h-1.0zM347.5 220.0h1.0v1.0h-1.0zM347.1 215.8h1.0v1.0h-1.0zM335.5 222.1h1.0v1.0h-1.0zM329.6 230.5h1.0v1.0h-1.0zM339.8 218.2h1.0v1.0h-1.0zM326.4 227.9h1.0v1.0h-1.0zM348.2 222.3h1.0v1.0h-1.0zM343.5 215.5h1.0v1.0h-1.0zM338.9 223.4h1.0v1.0h-1.0zM339.3 225.9h1.0v1.0h-1.0zM333.9 210.9h1.0v1.0h-1.0zM323.0 225.7h1.0v1.0h-1.0zM329.5 230.1h1.0v1.0h-1.0zM344.8 216.6h1.0v1.0h-1.0zM341.4 219.2h1.0v1.0h-1.0zM339.2 217.7h1.0v1.0h-1.0zM335.6 229.1h1.0v1.0h-1.0zM336.4 221.8h1.0v1.0h-1.0zM345.5 221.5h1.0v1.0h-1.0zM335.6 223.9h1.0v1.0h-1.0zM331.8 225.7h1.0v1.0h-1.0zM340.0 219.7h1.0v1.0h-1.0zM339.1 222.3h1.0v1.0h-1.0zM322.3 226.6h1.0v1.0h-1.0zM338.5 218.0h1.0v1.0h-1.0zM332.1 223.5h1.0v1.0h-1.0zM348.1 213.2h1.0v1.0h-1.0zM334.0 220.9h1.0v1.0h-1.0zM330.7 228.4h1.0v1.0h-1.0zM331.9 229.9h1.0v1.0h-1.0zM343.7 220.4h1.0v1.0h-1.0zM344.5 216.3h1.0v1.0h-1.0zM327.1 227.7h1.0v1.0h-1.0zM342.1 209.9h1.0v1.0h-1.0zM330.5 231.9h1.0v1.0h-1.0zM340.8 226.6h1.0v1.0h-1.0zM342.2 218.6h1.0v1.0h-1.0zM340.7 223.9h1.0v1.0h-1.0zM337.9 219.9h1.0v1.0h-1.0zM340.0 218.0h1.0v1.0h-1.0zM353.1 207.1h1.0v1.0h-1.0zM328.6 220.0h1.0v1.0h-1.0zM344.6 214.5h1.0v1.0h-1.0zM339.1 219.1h1.0v1.0h-1.0zM339.8 211.9h1.0v1.0h-1.0zM338.6 217.5h1.0v1.0h-1.0zM344.9 220.0h1.0v1.0h-1.0zM330.2 220.7h1.0v1.0h-1.0zM341.6 225.2h1.0v1.0h-1.0zM342.9 217.0h1.0v1.0h-1.0zM345.0 203.6h1.0v1.0h-1.0zM334.7 217.8h1.0v1.0h-1.0zM331.6 228.2h1.0v1.0h-1.0zM339.8 221.4h1.0v1.0h-1.0zM337.3 224.9h1.0v1.0h-1.0zM343.0 214.6h1.0v1.0h-1.0zM343.9 212.1h1.0v1.0h-1.0zM349.1 206.7h1.0v1.0h-1.0zM336.3 216.2h1.0v1.0h-1.0zM338.3 228.0h1.0v1.0h-1.0zM333.4 233.7h1.0v1.0h-1.0zM346.9 217.4h1.0v1.0h-1.0zM334.4 228.3h1.0v1.0h-1.0zM320.2 228.3h1.0v1.0h-1.0zM344.1 216.8h1.0v1.0h-1.0zM353.7 207.2h1.0v1.0h-1.0zM329.7 225.2h1.0v1.0h-1.0zM341.7 227.9h1.0v1.0h-1.0zM327.0 229.0h1.0v1.0h-1.0zM346.0 212.1h1.0v1.0h-1.0zM335.2 216.1h1.0v1.0h-1.0zM342.9 222.4h1.0v1.0h-1.0zM341.8 219.9h1.0v1.0h-1.0zM344.3 216.3h1.0v1.0h-1.0zM342.6 222.5h1.0v1.0h-1.0zM346.3 218.5h1.0v1.0h-1.0zM338.6 224.5h1.0v1.0h-1.0zM328.3 217.6h1.0v1.0h-1.0zM348.3 215.1h1.0v1.0h-1.0zM331.5 222.0h1.0v1.0h-1.0zM337.1 222.0h1.0v1.0h-1.0zM333.3 229.5h1.0v1.0h-1.0zM331.3 234.5h1.0v1.0h-1.0zM342.3 209.0h1.0v1.0h-1.0zM330.4 226.3h1.0v1.0h-1.0zM339.8 217.5h1.0v1.0h-1.0zM338.2 221.8h1.0v1.0h-1.0zM330.9 225.9h1.0v1.0h-1.0zM352.4 208.1h1.0v1.0h-1.0zM331.7 228.7h1.0v1.0h-1.0zM346.6 221.2h1.0v1.0h-1.0zM334.1 223.1h1.0v1.0h-1.0zM339.4 219.0h1.0v1.0h-1.0zM340.6 225.3h1.0v1.0h-1.0zM341.6 218.6h1.0v1.0h-1.0zM336.8 231.6h1.0v1.0h-1.0zM342.8 218.4h1.0v1.0h-1.0zM333.4 234.1h1.0v1.0h-1.0zM345.8 221.0h1.0v1.0h-1.0zM351.3 202.5h1.0v1.0h-1.0zM338.7 218.8h1.0v1.0h-1.0zM333.5 224.3h1.0v1.0h-1.0zM341.5 221.6h1.0v1.0h-1.0zM337.2 214.2h1.0v1.0h-1.0zM341.6 222.0h1.0v1.0h-1.0zM351.6 217.4h1.0v1.0h-1.0zM338.2 214.5h1.0v1.0h-1.0zM355.4 206.0h1.0v1.0h-1.0zM339.3 224.3h1.0v1.0h-1.0zM341.3 226.2h1.0v1.0h-1.0zM331.5 221.4h1.0v1.0h-1.0zM339.2 213.4h1.0v1.0h-1.0zM334.2 231.1h1.0v1.0h-1.0zM340.0 219.2h1.0v1.0h-1.0zM334.4 223.6h1.0v1.0h-1.0zM337.9 215.1h1.0v1.0h-1.0zM343.1 210.6h1.0v1.0h-1.0zM346.3 213.8h1.0v1.0h-1.0zM323.5 221.8h1.0v1.0h-1.0z" fill="#aaa" fill-opacity="0.75"/>
<path d="M382.7 192.0h1.0v1.0h-1.0zM324.6 229.9h1.0v1.0h-1.0zM321.3 230.0h1.0v1.0h-1.0zM393.5 213.0h1.0v1.0h-1.0zM394.8 209.5h1.0v1.0h-1.0zM377.9 208.7h1.0v1.0h-1.0zM334.5 175.1h1.0v1.0h-1.0zM377.7 199.3h1.0v1.0h-1.0zM326.4 206.3h1.0v1.0h-1.0zM338.0 187.1h1.0v1.0h-1.0zM388.7 210.2h1.0v1.0h-1.0zM378.1 223.1h1.0v1.0h-1.0zM352.2 199.3h1.0v1.0h-1.0zM351.9 193.2h1.0v1.0h-1.0zM380.6 227.5h1.0v1.0h-1.0zM340.7 216.2h1.0v1.0h-1.0zM333.9 170.5h1.0v1.0h-1.0zM372.9 220.5h1.0v1.0h-1.0zM343.4 234.7h1.0v1.0h-1.0zM375.7 190.9h1.0v1.0h-1.0z" fill="#bbb" fill-opacity="0.8"/>
<ellipse cx="354.3" cy="203.3" rx="10.5" ry="6.5" fill="#777" fill-opacity="0.78" transform="rotate(-40 354.3 203.3)" filter="url(#b20)"/>
<path d="M355.0 194.7h1.0v1.0h-1.0zM362.7 207.2h1.0v1.0h-1.0zM349.9 206.5h1.0v1.0h-1.0zM349.0 209.2h1.0v1.0h-1.0zM349.4 204.7h1.0v1.0h-1.0zM362.2 202.3h1.0v1.0h-1.0zM352.4 197.5h1.0v1.0h-1.0zM344.9 212.4h1.0v1.0h-1.0zM357.4 202.2h1.0v1.0h-1.0zM361.9 200.8h1.0v1.0h-1.0zM350.0 204.6h1.0v1.0h-1.0zM353.8 203.5h1.0v1.0h-1.0zM369.3 199.6h1.0v1.0h-1.0zM356.0 201.5h1.0v1.0h-1.0zM350.3 200.7h1.0v1.0h-1.0zM343.1 206.0h1.0v1.0h-1.0zM345.3 199.1h1.0v1.0h-1.0zM348.8 196.9h1.0v1.0h-1.0zM362.6 205.2h1.0v1.0h-1.0zM348.6 214.5h1.0v1.0h-1.0zM358.3 190.7h1.0v1.0h-1.0zM354.5 198.9h1.0v1.0h-1.0zM343.9 206.5h1.0v1.0h-1.0zM361.3 202.3h1.0v1.0h-1.0zM345.6 204.1h1.0v1.0h-1.0zM349.8 210.1h1.0v1.0h-1.0zM353.8 199.3h1.0v1.0h-1.0zM348.9 197.0h1.0v1.0h-1.0zM349.3 209.3h1.0v1.0h-1.0zM342.9 208.9h1.0v1.0h-1.0zM353.7 207.1h1.0v1.0h-1.0zM347.5 210.1h1.0v1.0h-1.0zM363.7 209.3h1.0v1.0h-1.0zM344.6 207.2h1.0v1.0h-1.0zM353.1 204.3h1.0v1.0h-1.0zM348.4 209.5h1.0v1.0h-1.0zM368.5 203.9h1.0v1.0h-1.0zM348.6 203.2h1.0v1.0h-1.0zM358.7 202.0h1.0v1.0h-1.0zM349.8 210.5h1.0v1.0h-1.0zM357.5 206.4h1.0v1.0h-1.0zM353.3 209.3h1.0v1.0h-1.0zM351.6 199.6h1.0v1.0h-1.0zM354.3 197.3h1.0v1.0h-1.0zM361.9 203.3h1.0v1.0h-1.0zM344.2 208.2h1.0v1.0h-1.0zM359.5 199.6h1.0v1.0h-1.0zM356.9 199.7h1.0v1.0h-1.0zM353.9 203.1h1.0v1.0h-1.0zM357.3 197.9h1.0v1.0h-1.0zM347.5 207.5h1.0v1.0h-1.0zM351.3 206.8h1.0v1.0h-1.0zM351.3 198.9h1.0v1.0h-1.0zM358.8 202.6h1.0v1.0h-1.0zM358.7 200.0h1.0v1.0h-1.0zM352.2 209.7h1.0v1.0h-1.0zM344.1 215.1h1.0v1.0h-1.0zM357.4 201.7h1.0v1.0h-1.0zM354.9 205.7h1.0v1.0h-1.0zM349.7 206.4h1.0v1.0h-1.0zM348.6 197.7h1.0v1.0h-1.0zM355.5 203.2h1.0v1.0h-1.0zM358.2 204.1h1.0v1.0h-1.0zM358.6 205.0h1.0v1.0h-1.0zM348.0 211.2h1.0v1.0h-1.0zM370.5 194.1h1.0v1.0h-1.0zM346.7 209.4h1.0v1.0h-1.0zM359.9 205.4h1.0v1.0h-1.0zM363.6 193.4h1.0v1.0h-1.0zM356.6 204.4h1.0v1.0h-1.0zM361.9 196.3h1.0v1.0h-1.0zM354.5 201.6h1.0v1.0h-1.0zM353.4 203.1h1.0v1.0h-1.0zM353.4 196.0h1.0v1.0h-1.0zM354.1 203.7h1.0v1.0h-1.0zM352.0 188.8h1.0v1.0h-1.0zM350.1 202.2h1.0v1.0h-1.0zM349.1 212.4h1.0v1.0h-1.0zM359.9 200.2h1.0v1.0h-1.0zM358.0 216.1h1.0v1.0h-1.0zM348.5 207.8h1.0v1.0h-1.0zM350.7 211.3h1.0v1.0h-1.0zM361.0 200.0h1.0v1.0h-1.0zM358.0 198.3h1.0v1.0h-1.0zM344.8 210.9h1.0v1.0h-1.0zM364.2 197.9h1.0v1.0h-1.0zM351.1 196.8h1.0v1.0h-1.0zM367.3 192.7h1.0v1.0h-1.0zM348.5 204.9h1.0v1.0h-1.0zM361.6 200.5h1.0v1.0h-1.0zM354.2 203.4h1.0v1.0h-1.0zM359.4 201.0h1.0v1.0h-1.0zM355.3 202.6h1.0v1.0h-1.0zM347.6 211.9h1.0v1.0h-1.0zM350.1 199.3h1.0v1.0h-1.0zM351.7 204.5h1.0v1.0h-1.0zM359.3 194.8h1.0v1.0h-1.0zM346.7 207.3h1.0v1.0h-1.0zM356.6 197.6h1.0v1.0h-1.0zM347.5 206.9h1.0v1.0h-1.0zM353.4 196.6h1.0v1.0h-1.0zM349.0 212.0h1.0v1.0h-1.0zM347.9 210.5h1.0v1.0h-1.0zM345.1 213.6h1.0v1.0h-1.0zM364.0 196.5h1.0v1.0h-1.0zM350.2 207.7h1.0v1.0h-1.0zM346.8 208.8h1.0v1.0h-1.0zM361.7 201.4h1.0v1.0h-1.0zM356.3 201.8h1.0v1.0h-1.0zM360.4 197.2h1.0v1.0h-1.0zM363.9 199.2h1.0v1.0h-1.0zM352.3 197.0h1.0v1.0h-1.0zM351.7 205.4h1.0v1.0h-1.0zM361.8 193.2h1.0v1.0h-1.0zM353.5 200.6h1.0v1.0h-1.0zM347.1 206.3h1.0v1.0h-1.0zM349.7 209.0h1.0v1.0h-1.0zM342.8 199.6h1.0v1.0h-1.0zM357.4 200.5h1.0v1.0h-1.0zM355.1 198.8h1.0v1.0h-1.0zM348.0 202.7h1.0v1.0h-1.0zM354.0 199.8h1.0v1.0h-1.0zM351.8 200.6h1.0v1.0h-1.0zM355.7 197.8h1.0v1.0h-1.0zM341.8 197.1h1.0v1.0h-1.0zM354.2 203.8h1.0v1.0h-1.0zM360.1 197.7h1.0v1.0h-1.0zM347.4 199.7h1.0v1.0h-1.0zM358.9 198.7h1.0v1.0h-1.0zM360.3 200.5h1.0v1.0h-1.0zM352.6 195.9h1.0v1.0h-1.0zM350.2 208.4h1.0v1.0h-1.0zM350.6 207.8h1.0v1.0h-1.0zM344.4 211.8h1.0v1.0h-1.0zM371.1 201.2h1.0v1.0h-1.0zM356.2 197.1h1.0v1.0h-1.0zM351.1 201.8h1.0v1.0h-1.0zM355.4 194.1h1.0v1.0h-1.0zM349.1 208.9h1.0v1.0h-1.0zM355.2 206.2h1.0v1.0h-1.0zM359.4 196.2h1.0v1.0h-1.0zM346.2 208.7h1.0v1.0h-1.0zM354.5 203.6h1.0v1.0h-1.0zM349.4 209.8h1.0v1.0h-1.0zM357.3 207.0h1.0v1.0h-1.0zM352.2 207.2h1.0v1.0h-1.0zM353.9 199.4h1.0v1.0h-1.0zM353.8 196.3h1.0v1.0h-1.0zM353.2 204.5h1.0v1.0h-1.0zM358.5 197.0h1.0v1.0h-1.0zM346.3 203.5h1.0v1.0h-1.0zM341.8 205.7h1.0v1.0h-1.0zM370.1 197.4h1.0v1.0h-1.0zM349.7 202.2h1.0v1.0h-1.0zM364.9 193.8h1.0v1.0h-1.0zM353.6 203.2h1.0v1.0h-1.0zM349.9 202.0h1.0v1.0h-1.0zM344.2 203.9h1.0v1.0h-1.0zM362.1 206.2h1.0v1.0h-1.0zM352.6 207.1h1.0v1.0h-1.0zM357.1 202.6h1.0v1.0h-1.0zM353.5 208.9h1.0v1.0h-1.0zM357.7 200.9h1.0v1.0h-1.0zM352.9 207.9h1.0v1.0h-1.0zM350.7 201.7h1.0v1.0h-1.0zM352.6 201.8h1.0v1.0h-1.0zM361.9 201.7h1.0v1.0h-1.0zM353.8 201.2h1.0v1.0h-1.0zM362.8 201.7h1.0v1.0h-1.0zM366.8 202.0h1.0v1.0h-1.0zM353.0 201.5h1.0v1.0h-1.0zM352.6 204.8h1.0v1.0h-1.0zM359.1 203.4h1.0v1.0h-1.0zM363.8 192.8h1.0v1.0h-1.0zM354.5 197.1h1.0v1.0h-1.0zM348.1 203.3h1.0v1.0h-1.0zM350.4 200.7h1.0v1.0h-1.0zM345.2 212.1h1.0v1.0h-1.0zM352.4 208.3h1.0v1.0h-1.0zM347.6 196.0h1.0v1.0h-1.0zM350.7 208.6h1.0v1.0h-1.0zM350.9 206.4h1.0v1.0h-1.0zM347.8 212.0h1.0v1.0h-1.0zM356.9 206.8h1.0v1.0h-1.0zM352.6 209.6h1.0v1.0h-1.0zM354.7 201.0h1.0v1.0h-1.0zM350.4 205.1h1.0v1.0h-1.0zM348.8 200.4h1.0v1.0h-1.0zM355.1 206.1h1.0v1.0h-1.0zM352.5 207.7h1.0v1.0h-1.0zM363.8 193.8h1.0v1.0h-1.0zM355.8 198.5h1.0v1.0h-1.0zM350.4 205.7h1.0v1.0h-1.0zM340.0 211.9h1.0v1.0h-1.0zM359.3 203.6h1.0v1.0h-1.0zM358.2 209.5h1.0v1.0h-1.0zM352.1 209.0h1.0v1.0h-1.0zM363.0 201.8h1.0v1.0h-1.0zM343.6 207.1h1.0v1.0h-1.0zM352.5 197.0h1.0v1.0h-1.0zM353.9 206.7h1.0v1.0h-1.0zM352.7 203.2h1.0v1.0h-1.0zM363.1 196.9h1.0v1.0h-1.0zM348.6 205.8h1.0v1.0h-1.0zM361.0 203.1h1.0v1.0h-1.0zM354.7 201.0h1.0v1.0h-1.0zM361.7 204.1h1.0v1.0h-1.0zM343.9 209.1h1.0v1.0h-1.0zM358.0 199.0h1.0v1.0h-1.0zM346.5 205.2h1.0v1.0h-1.0zM343.8 210.1h1.0v1.0h-1.0zM351.2 196.9h1.0v1.0h-1.0zM354.2 208.5h1.0v1.0h-1.0zM346.7 204.9h1.0v1.0h-1.0zM365.2 199.5h1.0v1.0h-1.0zM351.0 205.5h1.0v1.0h-1.0zM359.0 197.0h1.0v1.0h-1.0zM353.7 196.5h1.0v1.0h-1.0zM344.8 200.6h1.0v1.0h-1.0zM359.4 202.5h1.0v1.0h-1.0zM358.7 206.7h1.0v1.0h-1.0zM354.6 204.2h1.0v1.0h-1.0zM356.7 204.3h1.0v1.0h-1.0zM347.9 204.8h1.0v1.0h-1.0zM353.4 203.8h1.0v1.0h-1.0zM349.8 204.6h1.0v1.0h-1.0zM356.0 203.4h1.0v1.0h-1.0zM357.8 205.4h1.0v1.0h-1.0zM357.6 206.1h1.0v1.0h-1.0zM359.4 207.2h1.0v1.0h-1.0zM358.1 199.0h1.0v1.0h-1.0zM368.3 202.4h1.0v1.0h-1.0zM361.8 203.3h1.0v1.0h-1.0zM354.6 198.2h1.0v1.0h-1.0zM356.9 200.7h1.0v1.0h-1.0zM351.9 195.0h1.0v1.0h-1.0zM363.6 194.3h1.0v1.0h-1.0zM347.7 208.1h1.0v1.0h-1.0zM357.7 198.4h1.0v1.0h-1.0zM354.3 204.4h1.0v1.0h-1.0zM355.2 205.2h1.0v1.0h-1.0zM359.0 199.8h1.0v1.0h-1.0zM344.5 216.8h1.0v1.0h-1.0zM352.0 200.0h1.0v1.0h-1.0zM358.8 204.0h1.0v1.0h-1.0zM350.6 215.0h1.0v1.0h-1.0zM340.1 214.8h1.0v1.0h-1.0zM354.1 204.7h1.0v1.0h-1.0zM356.2 201.5h1.0v1.0h-1.0zM356.2 196.8h1.0v1.0h-1.0zM351.9 212.3h1.0v1.0h-1.0zM340.9 205.2h1.0v1.0h-1.0zM359.6 199.3h1.0v1.0h-1.0zM350.8 198.2h1.0v1.0h-1.0zM353.6 202.8h1.0v1.0h-1.0zM350.4 198.1h1.0v1.0h-1.0zM355.2 204.7h1.0v1.0h-1.0zM361.2 202.7h1.0v1.0h-1.0zM363.4 204.7h1.0v1.0h-1.0zM353.7 199.0h1.0v1.0h-1.0zM356.9 206.4h1.0v1.0h-1.0zM345.0 201.8h1.0v1.0h-1.0zM358.4 199.2h1.0v1.0h-1.0zM363.1 200.6h1.0v1.0h-1.0zM351.0 198.9h1.0v1.0h-1.0zM357.9 194.3h1.0v1.0h-1.0zM346.4 200.9h1.0v1.0h-1.0zM364.5 206.4h1.0v1.0h-1.0zM353.0 202.2h1.0v1.0h-1.0zM358.5 206.9h1.0v1.0h-1.0zM349.4 214.9h1.0v1.0h-1.0zM353.0 208.7h1.0v1.0h-1.0zM340.1 209.0h1.0v1.0h-1.0zM350.1 213.7h1.0v1.0h-1.0zM353.0 198.3h1.0v1.0h-1.0zM366.0 195.4h1.0v1.0h-1.0zM354.3 197.9h1.0v1.0h-1.0zM358.4 202.4h1.0v1.0h-1.0zM352.6 202.3h1.0v1.0h-1.0zM350.9 201.6h1.0v1.0h-1.0zM345.8 212.1h1.0v1.0h-1.0zM359.7 195.0h1.0v1.0h-1.0zM347.3 208.0h1.0v1.0h-1.0zM367.9 196.7h1.0v1.0h-1.0zM352.4 203.0h1.0v1.0h-1.0zM355.8 201.9h1.0v1.0h-1.0zM360.8 204.8h1.0v1.0h-1.0zM357.6 208.8h1.0v1.0h-1.0zM352.9 201.5h1.0v1.0h-1.0zM344.9 197.0h1.0v1.0h-1.0zM356.4 197.8h1.0v1.0h-1.0zM360.7 191.5h1.0v1.0h-1.0zM353.5 201.9h1.0v1.0h-1.0zM347.8 210.9h1.0v1.0h-1.0zM351.9 206.3h1.0v1.0h-1.0zM351.1 205.3h1.0v1.0h-1.0zM351.6 204.7h1.0v1.0h-1.0zM353.7 200.6h1.0v1.0h-1.0zM356.9 201.4h1.0v1.0h-1.0zM348.5 201.2h1.0v1.0h-1.0zM357.0 208.0h1.0v1.0h-1.0zM346.4 204.8h1.0v1.0h-1.0zM357.0 206.7h1.0v1.0h-1.0zM358.6 196.4h1.0v1.0h-1.0zM354.5 207.1h1.0v1.0h-1.0zM355.7 201.7h1.0v1.0h-1.0zM347.2 207.0h1.0v1.0h-1.0zM353.9 203.6h1.0v1.0h-1.0zM363.3 204.7h1.0v1.0h-1.0zM349.5 206.3h1.0v1.0h-1.0zM352.4 204.5h1.0v1.0h-1.0zM364.1 203.2h1.0v1.0h-1.0zM354.5 200.3h1.0v1.0h-1.0zM353.3 205.3h1.0v1.0h-1.0zM351.3 209.3h1.0v1.0h-1.0zM354.4 198.1h1.0v1.0h-1.0zM352.7 203.4h1.0v1.0h-1.0zM360.3 205.7h1.0v1.0h-1.0zM363.1 206.4h1.0v1.0h-1.0zM356.2 203.0h1.0v1.0h-1.0zM360.4 200.6h1.0v1.0h-1.0zM346.7 204.5h1.0v1.0h-1.0zM358.3 204.3h1.0v1.0h-1.0zM347.6 211.3h1.0v1.0h-1.0zM356.2 196.0h1.0v1.0h-1.0zM357.1 206.5h1.0v1.0h-1.0zM357.5 200.6h1.0v1.0h-1.0zM349.5 210.2h1.0v1.0h-1.0zM355.7 202.7h1.0v1.0h-1.0zM351.9 199.8h1.0v1.0h-1.0zM343.0 206.5h1.0v1.0h-1.0zM361.0 203.8h1.0v1.0h-1.0zM350.2 211.6h1.0v1.0h-1.0zM352.9 199.5h1.0v1.0h-1.0zM360.2 206.9h1.0v1.0h-1.0zM352.0 199.0h1.0v1.0h-1.0zM353.9 192.9h1.0v1.0h-1.0zM354.6 209.8h1.0v1.0h-1.0zM355.9 199.4h1.0v1.0h-1.0zM358.6 199.4h1.0v1.0h-1.0zM361.9 198.6h1.0v1.0h-1.0zM366.6 196.7h1.0v1.0h-1.0zM355.5 198.7h1.0v1.0h-1.0zM346.6 208.0h1.0v1.0h-1.0zM356.4 198.2h1.0v1.0h-1.0zM357.7 200.1h1.0v1.0h-1.0zM351.0 204.4h1.0v1.0h-1.0zM356.7 205.5h1.0v1.0h-1.0zM361.7 201.9h1.0v1.0h-1.0zM349.9 202.1h1.0v1.0h-1.0zM356.5 197.2h1.0v1.0h-1.0zM353.3 202.1h1.0v1.0h-1.0zM353.7 204.3h1.0v1.0h-1.0zM360.6 207.8h1.0v1.0h-1.0zM359.6 205.5h1.0v1.0h-1.0zM347.9 210.5h1.0v1.0h-1.0zM362.1 194.2h1.0v1.0h-1.0zM369.5 194.5h1.0v1.0h-1.0zM354.7 199.7h1.0v1.0h-1.0zM350.8 209.4h1.0v1.0h-1.0zM355.8 201.0h1.0v1.0h-1.0zM361.2 196.3h1.0v1.0h-1.0zM349.2 203.0h1.0v1.0h-1.0zM349.8 208.2h1.0v1.0h-1.0zM352.9 199.3h1.0v1.0h-1.0zM351.5 195.8h1.0v1.0h-1.0zM355.3 203.3h1.0v1.0h-1.0zM358.0 200.7h1.0v1.0h-1.0zM356.7 198.2h1.0v1.0h-1.0zM354.4 203.9h1.0v1.0h-1.0zM347.0 208.9h1.0v1.0h-1.0zM355.2 203.2h1.0v1.0h-1.0zM351.4 213.2h1.0v1.0h-1.0zM354.3 200.0h1.0v1.0h-1.0zM349.2 208.0h1.0v1.0h-1.0zM353.0 200.4h1.0v1.0h-1.0zM349.9 209.2h1.0v1.0h-1.0zM354.8 207.7h1.0v1.0h-1.0zM354.2 198.2h1.0v1.0h-1.0zM359.5 202.5h1.0v1.0h-1.0zM350.4 203.6h1.0v1.0h-1.0zM348.5 209.3h1.0v1.0h-1.0zM351.8 206.4h1.0v1.0h-1.0zM355.9 201.5h1.0v1.0h-1.0zM356.5 201.3h1.0v1.0h-1.0zM347.2 204.5h1.0v1.0h-1.0zM347.2 209.5h1.0v1.0h-1.0zM358.2 199.1h1.0v1.0h-1.0zM358.0 202.8h1.0v1.0h-1.0zM360.2 196.8h1.0v1.0h-1.0zM354.5 198.9h1.0v1.0h-1.0zM350.2 210.9h1.0v1.0h-1.0zM342.2 204.4h1.0v1.0h-1.0zM357.2 205.4h1.0v1.0h-1.0zM349.6 196.5h1.0v1.0h-1.0zM344.0 209.2h1.0v1.0h-1.0zM360.9 204.5h1.0v1.0h-1.0zM349.9 211.0h1.0v1.0h-1.0zM353.2 206.4h1.0v1.0h-1.0zM353.1 210.7h1.0v1.0h-1.0zM351.2 195.3h1.0v1.0h-1.0zM352.4 204.9h1.0v1.0h-1.0zM356.0 199.5h1.0v1.0h-1.0zM352.9 199.0h1.0v1.0h-1.0zM352.9 204.3h1.0v1.0h-1.0zM355.7 209.8h1.0v1.0h-1.0zM342.3 210.5h1.0v1.0h-1.0zM356.9 197.2h1.0v1.0h-1.0zM354.7 203.1h1.0v1.0h-1.0zM348.3 208.9h1.0v1.0h-1.0zM365.8 201.4h1.0v1.0h-1.0zM359.0 206.0h1.0v1.0h-1.0zM353.5 207.8h1.0v1.0h-1.0zM349.5 206.1h1.0v1.0h-1.0zM358.5 207.2h1.0v1.0h-1.0zM352.6 202.8h1.0v1.0h-1.0zM357.1 201.8h1.0v1.0h-1.0zM355.1 206.4h1.0v1.0h-1.0zM349.7 209.0h1.0v1.0h-1.0zM356.6 201.2h1.0v1.0h-1.0zM346.8 203.7h1.0v1.0h-1.0zM354.0 207.5h1.0v1.0h-1.0zM342.5 211.3h1.0v1.0h-1.0zM355.5 197.9h1.0v1.0h-1.0zM359.4 202.9h1.0v1.0h-1.0zM356.9 198.0h1.0v1.0h-1.0zM347.7 210.0h1.0v1.0h-1.0zM362.7 201.4h1.0v1.0h-1.0zM353.1 201.8h1.0v1.0h-1.0zM344.1 211.8h1.0v1.0h-1.0zM353.7 208.8h1.0v1.0h-1.0zM350.0 209.6h1.0v1.0h-1.0zM350.0 207.6h1.0v1.0h-1.0zM362.5 196.8h1.0v1.0h-1.0zM359.7 201.0h1.0v1.0h-1.0zM348.7 206.5h1.0v1.0h-1.0zM358.1 198.6h1.0v1.0h-1.0zM352.7 201.5h1.0v1.0h-1.0zM349.7 204.3h1.0v1.0h-1.0zM359.2 199.1h1.0v1.0h-1.0zM361.7 198.6h1.0v1.0h-1.0zM350.2 209.6h1.0v1.0h-1.0zM362.7 197.0h1.0v1.0h-1.0zM357.8 196.8h1.0v1.0h-1.0zM351.9 202.7h1.0v1.0h-1.0zM358.5 196.2h1.0v1.0h-1.0zM351.3 201.6h1.0v1.0h-1.0zM354.9 197.8h1.0v1.0h-1.0zM346.3 218.8h1.0v1.0h-1.0zM355.6 196.3h1.0v1.0h-1.0zM359.3 195.6h1.0v1.0h-1.0zM343.1 215.1h1.0v1.0h-1.0zM361.7 196.6h1.0v1.0h-1.0zM347.8 208.0h1.0v1.0h-1.0zM366.4 200.8h1.0v1.0h-1.0zM358.2 196.6h1.0v1.0h-1.0zM343.7 209.4h1.0v1.0h-1.0zM360.3 201.4h1.0v1.0h-1.0zM354.3 209.2h1.0v1.0h-1.0zM349.3 210.1h1.0v1.0h-1.0zM359.2 198.6h1.0v1.0h-1.0zM355.0 203.5h1.0v1.0h-1.0zM357.7 197.7h1.0v1.0h-1.0zM352.9 204.3h1.0v1.0h-1.0zM354.5 203.3h1.0v1.0h-1.0zM355.8 201.9h1.0v1.0h-1.0zM351.3 208.9h1.0v1.0h-1.0zM350.5 203.5h1.0v1.0h-1.0zM349.1 200.6h1.0v1.0h-1.0zM356.9 202.0h1.0v1.0h-1.0zM353.5 205.6h1.0v1.0h-1.0zM353.3 206.6h1.0v1.0h-1.0zM365.0 200.3h1.0v1.0h-1.0zM352.7 211.0h1.0v1.0h-1.0zM358.5 194.4h1.0v1.0h-1.0zM362.2 200.9h1.0v1.0h-1.0zM359.3 196.3h1.0v1.0h-1.0zM349.3 202.6h1.0v1.0h-1.0zM357.6 197.1h1.0v1.0h-1.0zM350.1 209.1h1.0v1.0h-1.0zM350.5 205.4h1.0v1.0h-1.0zM349.0 198.3h1.0v1.0h-1.0zM353.8 203.0h1.0v1.0h-1.0zM345.8 211.0h1.0v1.0h-1.0zM359.1 205.1h1.0v1.0h-1.0zM351.3 199.7h1.0v1.0h-1.0zM353.8 204.2h1.0v1.0h-1.0zM353.3 201.2h1.0v1.0h-1.0zM348.4 202.6h1.0v1.0h-1.0zM353.8 201.4h1.0v1.0h-1.0zM364.1 198.0h1.0v1.0h-1.0zM357.0 200.2h1.0v1.0h-1.0zM353.2 199.6h1.0v1.0h-1.0zM351.4 198.1h1.0v1.0h-1.0zM342.1 214.1h1.0v1.0h-1.0zM348.1 207.7h1.0v1.0h-1.0zM353.6 201.2h1.0v1.0h-1.0zM358.6 199.1h1.0v1.0h-1.0zM356.9 200.7h1.0v1.0h-1.0zM360.0 205.0h1.0v1.0h-1.0zM354.7 207.8h1.0v1.0h-1.0zM357.3 208.7h1.0v1.0h-1.0zM353.6 197.0h1.0v1.0h-1.0zM355.5 203.8h1.0v1.0h-1.0zM352.2 203.3h1.0v1.0h-1.0zM352.7 198.6h1.0v1.0h-1.0zM364.4 195.8h1.0v1.0h-1.0zM348.0 199.2h1.0v1.0h-1.0zM349.3 205.2h1.0v1.0h-1.0zM363.0 202.2h1.0v1.0h-1.0zM350.0 199.8h1.0v1.0h-1.0zM347.7 205.7h1.0v1.0h-1.0zM359.4 199.1h1.0v1.0h-1.0zM363.7 207.6h1.0v1.0h-1.0zM355.2 193.7h1.0v1.0h-1.0zM360.7 200.2h1.0v1.0h-1.0zM358.2 205.8h1.0v1.0h-1.0zM348.4 206.0h1.0v1.0h-1.0zM355.3 199.7h1.0v1.0h-1.0zM358.4 201.0h1.0v1.0h-1.0z" fill="#444" fill-opacity="0.42"/>
<rect x="344.3" y="165.8" width="28.7" height="71.1" fill="none" stroke="#333" stroke-width="1"/>
<text x="345.6" y="171" font-size="4.4" text-anchor="start" fill="#222" stroke="#222" stroke-width="0.12">R7</text>
<line x1="315.2" y1="250.4" x2="395.2" y2="250.4" stroke="#111" stroke-width="1.8"/>
<path d="M394.7,247.20000000000002 L401.2,250.4 L394.7,253.6 Z" fill="#111"/>
<text x="352.9" y="261.2" font-size="9.4" font-weight="bold" text-anchor="middle" fill="#111" textLength="24.3" lengthAdjust="spacingAndGlyphs" stroke="#111" stroke-width="0.15">M1/70</text>
<rect x="418.8" y="151" width="99.8" height="85.7" fill="none" stroke="#727272" stroke-width="1.1"/>
<text x="416.0" y="152.6" font-size="4.6" text-anchor="end" fill="#333" stroke="#333" stroke-width="0.12">1100</text>
<line x1="416.3" y1="151.0" x2="418.8" y2="151.0" stroke="#666" stroke-width="0.7"/>
<text x="416.0" y="174.025" font-size="4.6" text-anchor="end" fill="#333" stroke="#333" stroke-width="0.12">825</text>
<line x1="416.3" y1="172.425" x2="418.8" y2="172.425" stroke="#666" stroke-width="0.7"/>
<text x="416.0" y="195.45" font-size="4.6" text-anchor="end" fill="#333" stroke="#333" stroke-width="0.12">550</text>
<line x1="416.3" y1="193.85" x2="418.8" y2="193.85" stroke="#666" stroke-width="0.7"/>
<text x="416.0" y="216.87499999999997" font-size="4.6" text-anchor="end" fill="#333" stroke="#333" stroke-width="0.12">275</text>
<line x1="416.3" y1="215.27499999999998" x2="418.8" y2="215.27499999999998" stroke="#666" stroke-width="0.7"/>
<text x="416.0" y="238.29999999999998" font-size="4.6" text-anchor="end" fill="#333" stroke="#333" stroke-width="0.12">0</text>
<line x1="416.3" y1="236.7" x2="418.8" y2="236.7" stroke="#666" stroke-width="0.7"/>
<text x="417.54" y="242.754" font-size="4.2" fill="#3a3a3a" stroke="#3a3a3a" stroke-width="0.12" text-anchor="middle">10<tspan font-size="3.15" dy="-1.26">0</tspan></text>
<line x1="418.8" y1="236.7" x2="418.8" y2="238.29999999999998" stroke="#666" stroke-width="0.7"/>
<text x="451.24" y="242.754" font-size="4.2" fill="#3a3a3a" stroke="#3a3a3a" stroke-width="0.12" text-anchor="middle">10<tspan font-size="3.15" dy="-1.26">1</tspan></text>
<line x1="452.5" y1="236.7" x2="452.5" y2="238.29999999999998" stroke="#666" stroke-width="0.7"/>
<text x="484.74" y="242.754" font-size="4.2" fill="#3a3a3a" stroke="#3a3a3a" stroke-width="0.12" text-anchor="middle">10<tspan font-size="3.15" dy="-1.26">2</tspan></text>
<line x1="486" y1="236.7" x2="486" y2="238.29999999999998" stroke="#666" stroke-width="0.7"/>
<text x="517.34" y="242.754" font-size="4.2" fill="#3a3a3a" stroke="#3a3a3a" stroke-width="0.12" text-anchor="middle">10<tspan font-size="3.15" dy="-1.26">3</tspan></text>
<line x1="518.6" y1="236.7" x2="518.6" y2="238.29999999999998" stroke="#666" stroke-width="0.7"/>
<path d="M421.0,236.1 L421.8,234.8 L422.6,235.8 L423.4,234.9 L424.2,236.0 L425.0,235.3 L425.8,236.3 L426.6,235.8 L427.4,235.3 L428.2,235.6 L429.0,235.6 L429.8,236.1 L430.6,235.3 L431.4,235.8 L432.2,235.9 L433.0,236.1 L433.8,234.2 L434.6,236.3 L435.4,236.1 L436.2,236.3 L437.0,236.1 L437.8,235.8 L438.6,236.1 L439.4,235.3 L440.2,234.9 L441.0,233.8 L441.8,235.5 L442.6,235.3 L443.4,235.0 L444.2,235.1 L445.0,235.5 L445.8,234.2 L446.6,234.1 L447.4,231.4 L448.2,235.7 L449.0,233.7 L449.8,235.0 L450.6,228.4 L451.4,233.5 L452.2,234.7 L453.0,236.4 L453.8,235.1 L454.6,226.9 L455.4,233.0 L456.2,236.0 L457.0,233.4 L457.8,223.4 L458.6,235.3 L459.4,236.4 L460.2,235.5 L461.0,230.4 L461.8,234.1 L462.6,235.4 L463.4,233.7 L464.2,232.4 L465.0,234.4 L465.8,236.1 L466.6,234.8 L467.4,234.7 L468.2,235.1 L469.0,233.1 L469.8,233.1 L470.6,232.1 L471.4,233.9 L472.2,234.8 L473.0,234.8 L473.8,233.8 L474.6,235.6 L475.4,235.4 L476.2,233.4 L477.0,234.4 L477.8,236.0 L478.6,236.2 L479.4,235.1 L480.2,235.9 L481.0,236.2 L481.8,235.9 L482.6,236.2 L483.4,236.4 L484.2,236.2 L485.0,234.3 L485.8,236.2 L485.8,236.4 L421.0,236.4 Z" fill="url(#hC)" stroke="#444" stroke-width="0.8" stroke-linejoin="round"/>
<path d="M484.5,236.5 L485.2,235.2 L485.9,234.1 L486.8,231.0 L487.6,230.5 L488.5,227.1 L489.4,223.9 L490.2,221.9 L491.1,219.1 L492.0,218.3 L492.9,216.1 L493.8,203.1 L494.6,207.3 L495.5,202.3 L496.4,194.3 L497.3,182.2 L498.1,176.6 L499.0,162.2 L499.9,157.1 L500.5,155.6 L501.1,154.0 L502.2,156.8 L503.4,168.0 L504.3,175.7 L505.1,185.8 L506.0,192.9 L506.9,198.4 L507.5,203.0 L508.1,206.9 L508.8,212.8 L509.5,216.0 L510.1,214.6 L510.7,220.9 L511.3,224.4 L512.1,224.1 L513.0,230.4 L513.9,231.6 L514.8,229.9 L515.6,234.5 L516.5,236.0 L516.5,236.7 L484.5,236.7 Z" fill="url(#hC)" stroke="#222" stroke-width="0.9" stroke-linejoin="round"/>
<path d="M422.5,236.4 L423.9,234.7 L425.4,230.8 L426.8,226.3 L427.8,223.9 L428.8,221.2 L429.8,218.4 L431.7,214.9 L432.7,208.6 L433.7,203.1 L434.7,195.2 L435.7,187.2 L437.6,175.5 L438.6,170.9 L439.6,166.4 L441.5,162.2 L443.1,162.6 L444.5,167.6 L445.9,179.3 L447.4,196.9 L448.4,205.6 L449.4,214.9 L451.3,226.5 L452.3,229.7 L453.3,233.5 L454.5,236.2" fill="none" stroke="#666" stroke-width="1.0" stroke-linejoin="round"/>
<text x="449.4" y="163" font-size="8.8" text-anchor="start" fill="#111" textLength="36.3" lengthAdjust="spacingAndGlyphs" stroke="#111" stroke-width="0.3">Anti-OVA</text>
<text x="459.2" y="187" font-size="8.8" text-anchor="start" fill="#111" textLength="36.3" lengthAdjust="spacingAndGlyphs" stroke="#111" stroke-width="0.3">Anti-MPO</text>
<line x1="453.3" y1="164.7" x2="450.3127394938716" y2="170.42028607556503" stroke="#111" stroke-width="1.1"/>
<path d="M448.6,173.7 L448.6,169.0 L452.5,171.0 Z" fill="#111"/>
<line x1="485.7" y1="189.2" x2="488.1288524807531" y2="194.80504418635329" stroke="#111" stroke-width="1.1"/>
<path d="M489.6,198.2 L485.9,195.2 L489.9,193.5 Z" fill="#111"/>
<line x1="420.4" y1="250.4" x2="508.6" y2="250.4" stroke="#111" stroke-width="2"/>
<path d="M508.1,247.20000000000002 L514.6,250.4 L508.1,253.6 Z" fill="#111"/>
<text x="470.6" y="261.2" font-size="9.4" font-weight="bold" text-anchor="middle" fill="#111" textLength="58.5" lengthAdjust="spacingAndGlyphs" stroke="#111" stroke-width="0.15">Anti-MPO/OVA</text>
<line x1="294.3" y1="288.5" x2="294.3" y2="473.7" stroke="#111" stroke-width="1.8"/>
<path d="M291.3,289 L294.3,283 L297.3,289 Z" fill="#111"/>
<text x="284.3" y="375.8" font-size="9.2" font-weight="bold" text-anchor="middle" fill="#111" textLength="15.6" lengthAdjust="spacingAndGlyphs" transform="rotate(-90 284.3 375.8)" stroke="#111" stroke-width="0.15">Gr-1</text>
<rect x="309.5" y="278.5" width="84.7" height="84.0" fill="none" stroke="#727272" stroke-width="1.1"/>
<text x="306.3" y="280.276" font-size="4.8" fill="#3a3a3a" stroke="#3a3a3a" stroke-width="0.12" text-anchor="end">10<tspan font-size="3.6" dy="-1.44">4</tspan></text>
<line x1="307.5" y1="278.5" x2="309.5" y2="278.5" stroke="#666" stroke-width="0.7"/>
<text x="306.3" y="301.276" font-size="4.8" fill="#3a3a3a" stroke="#3a3a3a" stroke-width="0.12" text-anchor="end">10<tspan font-size="3.6" dy="-1.44">3</tspan></text>
<line x1="307.5" y1="299.5" x2="309.5" y2="299.5" stroke="#666" stroke-width="0.7"/>
<text x="306.3" y="322.276" font-size="4.8" fill="#3a3a3a" stroke="#3a3a3a" stroke-width="0.12" text-anchor="end">10<tspan font-size="3.6" dy="-1.44">2</tspan></text>
<line x1="307.5" y1="320.5" x2="309.5" y2="320.5" stroke="#666" stroke-width="0.7"/>
<text x="306.3" y="343.276" font-size="4.8" fill="#3a3a3a" stroke="#3a3a3a" stroke-width="0.12" text-anchor="end">10<tspan font-size="3.6" dy="-1.44">1</tspan></text>
<line x1="307.5" y1="341.5" x2="309.5" y2="341.5" stroke="#666" stroke-width="0.7"/>
<text x="306.3" y="364.276" font-size="4.8" fill="#3a3a3a" stroke="#3a3a3a" stroke-width="0.12" text-anchor="end">10<tspan font-size="3.6" dy="-1.44">0</tspan></text>
<line x1="307.5" y1="362.5" x2="309.5" y2="362.5" stroke="#666" stroke-width="0.7"/>
<text x="308.06" y="368.676" font-size="4.8" fill="#3a3a3a" stroke="#3a3a3a" stroke-width="0.12" text-anchor="middle">10<tspan font-size="3.6" dy="-1.44">0</tspan></text>
<line x1="309.5" y1="362.5" x2="309.5" y2="364.1" stroke="#666" stroke-width="0.7"/>
<text x="329.235" y="368.676" font-size="4.8" fill="#3a3a3a" stroke="#3a3a3a" stroke-width="0.12" text-anchor="middle">10<tspan font-size="3.6" dy="-1.44">1</tspan></text>
<line x1="330.675" y1="362.5" x2="330.675" y2="364.1" stroke="#666" stroke-width="0.7"/>
<text x="350.41" y="368.676" font-size="4.8" fill="#3a3a3a" stroke="#3a3a3a" stroke-width="0.12" text-anchor="middle">10<tspan font-size="3.6" dy="-1.44">2</tspan></text>
<line x1="351.85" y1="362.5" x2="351.85" y2="364.1" stroke="#666" stroke-width="0.7"/>
<text x="371.585" y="368.676" font-size="4.8" fill="#3a3a3a" stroke="#3a3a3a" stroke-width="0.12" text-anchor="middle">10<tspan font-size="3.6" dy="-1.44">3</tspan></text>
<line x1="373.025" y1="362.5" x2="373.025" y2="364.1" stroke="#666" stroke-width="0.7"/>
<text x="392.76" y="368.676" font-size="4.8" fill="#3a3a3a" stroke="#3a3a3a" stroke-width="0.12" text-anchor="middle">10<tspan font-size="3.6" dy="-1.44">4</tspan></text>
<line x1="394.2" y1="362.5" x2="394.2" y2="364.1" stroke="#666" stroke-width="0.7"/>
<path d="M337.1 341.0h1.0v1.0h-1.0zM340.1 343.6h1.0v1.0h-1.0zM333.4 335.1h1.0v1.0h-1.0zM346.9 319.8h1.0v1.0h-1.0zM338.1 324.5h1.0v1.0h-1.0zM328.9 343.0h1.0v1.0h-1.0zM331.4 360.2h1.0v1.0h-1.0zM339.7 341.2h1.0v1.0h-1.0zM337.3 326.8h1.0v1.0h-1.0zM333.1 340.1h1.0v1.0h-1.0zM320.6 344.9h1.0v1.0h-1.0zM334.8 344.4h1.0v1.0h-1.0zM328.9 336.5h1.0v1.0h-1.0zM337.6 313.9h1.0v1.0h-1.0zM328.4 344.3h1.0v1.0h-1.0zM325.4 340.2h1.0v1.0h-1.0zM345.4 338.3h1.0v1.0h-1.0zM325.6 340.8h1.0v1.0h-1.0zM333.3 354.5h1.0v1.0h-1.0zM341.1 326.9h1.0v1.0h-1.0zM326.9 339.0h1.0v1.0h-1.0zM320.1 351.0h1.0v1.0h-1.0zM328.4 354.9h1.0v1.0h-1.0zM330.1 339.4h1.0v1.0h-1.0zM340.6 339.4h1.0v1.0h-1.0zM340.5 342.6h1.0v1.0h-1.0zM321.3 339.1h1.0v1.0h-1.0zM343.3 320.6h1.0v1.0h-1.0zM333.7 332.4h1.0v1.0h-1.0zM317.3 339.7h1.0v1.0h-1.0zM322.8 342.5h1.0v1.0h-1.0zM339.1 343.3h1.0v1.0h-1.0zM328.9 323.2h1.0v1.0h-1.0zM342.5 322.8h1.0v1.0h-1.0zM342.1 327.5h1.0v1.0h-1.0zM343.5 331.1h1.0v1.0h-1.0zM316.3 346.4h1.0v1.0h-1.0zM333.2 340.2h1.0v1.0h-1.0zM331.9 332.2h1.0v1.0h-1.0zM340.7 321.2h1.0v1.0h-1.0zM341.0 341.3h1.0v1.0h-1.0zM334.0 329.9h1.0v1.0h-1.0zM336.3 334.5h1.0v1.0h-1.0zM341.0 343.0h1.0v1.0h-1.0zM327.0 330.1h1.0v1.0h-1.0zM338.9 330.1h1.0v1.0h-1.0zM344.9 332.4h1.0v1.0h-1.0zM327.0 351.1h1.0v1.0h-1.0zM329.6 356.2h1.0v1.0h-1.0zM325.5 340.3h1.0v1.0h-1.0zM339.5 328.7h1.0v1.0h-1.0zM331.0 346.1h1.0v1.0h-1.0zM328.3 326.4h1.0v1.0h-1.0zM329.7 344.5h1.0v1.0h-1.0zM325.5 338.5h1.0v1.0h-1.0zM319.1 344.1h1.0v1.0h-1.0zM336.1 335.6h1.0v1.0h-1.0zM341.4 312.4h1.0v1.0h-1.0zM339.1 337.1h1.0v1.0h-1.0zM316.1 360.0h1.0v1.0h-1.0zM351.3 336.0h1.0v1.0h-1.0zM345.7 333.0h1.0v1.0h-1.0zM348.7 322.8h1.0v1.0h-1.0zM341.0 326.8h1.0v1.0h-1.0zM353.8 315.5h1.0v1.0h-1.0zM330.4 357.7h1.0v1.0h-1.0zM339.0 329.7h1.0v1.0h-1.0zM319.7 359.6h1.0v1.0h-1.0zM313.0 343.2h1.0v1.0h-1.0zM323.0 350.4h1.0v1.0h-1.0zM337.0 342.1h1.0v1.0h-1.0zM338.5 328.0h1.0v1.0h-1.0zM347.3 315.5h1.0v1.0h-1.0zM325.3 340.2h1.0v1.0h-1.0zM338.0 334.1h1.0v1.0h-1.0zM340.9 329.9h1.0v1.0h-1.0zM342.9 325.9h1.0v1.0h-1.0zM339.4 318.8h1.0v1.0h-1.0zM331.9 343.7h1.0v1.0h-1.0zM336.2 342.9h1.0v1.0h-1.0zM337.6 347.0h1.0v1.0h-1.0zM330.2 346.8h1.0v1.0h-1.0zM339.9 325.7h1.0v1.0h-1.0zM334.4 337.0h1.0v1.0h-1.0zM330.7 339.0h1.0v1.0h-1.0zM330.9 338.8h1.0v1.0h-1.0zM319.4 351.4h1.0v1.0h-1.0zM326.2 341.5h1.0v1.0h-1.0zM342.4 328.9h1.0v1.0h-1.0zM323.0 342.9h1.0v1.0h-1.0zM334.4 330.8h1.0v1.0h-1.0zM334.6 348.0h1.0v1.0h-1.0zM332.5 339.1h1.0v1.0h-1.0zM343.0 337.3h1.0v1.0h-1.0zM317.5 338.4h1.0v1.0h-1.0zM326.6 355.6h1.0v1.0h-1.0zM324.7 340.8h1.0v1.0h-1.0zM323.5 331.8h1.0v1.0h-1.0zM326.6 328.8h1.0v1.0h-1.0zM321.1 358.2h1.0v1.0h-1.0zM328.7 347.5h1.0v1.0h-1.0zM343.3 337.7h1.0v1.0h-1.0zM336.9 342.4h1.0v1.0h-1.0zM330.2 349.8h1.0v1.0h-1.0zM320.6 345.5h1.0v1.0h-1.0zM322.8 353.6h1.0v1.0h-1.0zM337.8 322.6h1.0v1.0h-1.0zM323.7 344.5h1.0v1.0h-1.0zM335.7 342.5h1.0v1.0h-1.0zM339.9 337.1h1.0v1.0h-1.0zM343.0 332.9h1.0v1.0h-1.0zM328.6 339.2h1.0v1.0h-1.0zM333.4 326.3h1.0v1.0h-1.0zM325.4 336.2h1.0v1.0h-1.0zM337.2 319.7h1.0v1.0h-1.0zM342.2 339.9h1.0v1.0h-1.0zM331.5 356.4h1.0v1.0h-1.0zM328.1 347.2h1.0v1.0h-1.0zM361.6 322.1h1.0v1.0h-1.0zM338.6 339.0h1.0v1.0h-1.0zM335.9 334.3h1.0v1.0h-1.0zM324.0 350.9h1.0v1.0h-1.0zM325.6 327.3h1.0v1.0h-1.0zM341.6 329.8h1.0v1.0h-1.0zM339.0 337.0h1.0v1.0h-1.0zM340.9 332.1h1.0v1.0h-1.0zM317.6 334.9h1.0v1.0h-1.0zM339.4 337.8h1.0v1.0h-1.0zM343.2 321.2h1.0v1.0h-1.0zM329.9 342.8h1.0v1.0h-1.0z" fill="#aaa" fill-opacity="0.7"/>
<path d="M323.3 353.5h1.0v1.0h-1.0zM318.7 350.6h1.0v1.0h-1.0zM324.1 352.1h1.0v1.0h-1.0zM314.1 356.3h1.0v1.0h-1.0zM319.3 343.0h1.0v1.0h-1.0zM315.8 354.2h1.0v1.0h-1.0zM316.1 347.3h1.0v1.0h-1.0zM325.5 348.8h1.0v1.0h-1.0zM313.6 347.5h1.0v1.0h-1.0zM314.2 352.8h1.0v1.0h-1.0zM316.5 345.0h1.0v1.0h-1.0zM324.3 352.0h1.0v1.0h-1.0zM322.5 345.0h1.0v1.0h-1.0zM319.0 355.5h1.0v1.0h-1.0zM315.4 355.2h1.0v1.0h-1.0zM316.5 353.9h1.0v1.0h-1.0zM313.5 353.0h1.0v1.0h-1.0zM325.9 357.3h1.0v1.0h-1.0zM319.2 348.2h1.0v1.0h-1.0zM320.0 353.7h1.0v1.0h-1.0zM312.6 353.6h1.0v1.0h-1.0zM314.3 356.2h1.0v1.0h-1.0zM318.8 350.9h1.0v1.0h-1.0zM325.6 354.4h1.0v1.0h-1.0zM327.0 347.7h1.0v1.0h-1.0zM316.3 353.6h1.0v1.0h-1.0zM324.9 358.4h1.0v1.0h-1.0zM320.5 346.0h1.0v1.0h-1.0zM323.5 354.5h1.0v1.0h-1.0zM317.7 342.1h1.0v1.0h-1.0z" fill="#aaa" fill-opacity="0.7"/>
<path d="M343.4 351.9h1.0v1.0h-1.0zM342.6 281.9h1.0v1.0h-1.0zM327.6 352.1h1.0v1.0h-1.0zM368.2 287.0h1.0v1.0h-1.0zM334.2 312.0h1.0v1.0h-1.0zM350.0 282.0h1.0v1.0h-1.0zM385.7 323.0h1.0v1.0h-1.0zM332.4 282.6h1.0v1.0h-1.0zM357.3 355.6h1.0v1.0h-1.0zM369.2 349.6h1.0v1.0h-1.0zM381.8 333.9h1.0v1.0h-1.0zM315.6 305.2h1.0v1.0h-1.0zM358.1 313.7h1.0v1.0h-1.0zM328.6 285.5h1.0v1.0h-1.0zM381.1 334.0h1.0v1.0h-1.0z" fill="#ccc" fill-opacity="0.8"/>
<ellipse cx="351" cy="301" rx="10" ry="6" fill="#7c7c7c" fill-opacity="0.85" transform="rotate(-8 351 301)" filter="url(#b18)"/>
<path d="M349.0 305.2h1.0v1.0h-1.0zM353.3 299.3h1.0v1.0h-1.0zM348.0 299.2h1.0v1.0h-1.0zM359.9 296.6h1.0v1.0h-1.0zM356.6 299.5h1.0v1.0h-1.0zM345.7 301.2h1.0v1.0h-1.0zM342.2 309.1h1.0v1.0h-1.0zM356.8 298.2h1.0v1.0h-1.0zM344.0 294.5h1.0v1.0h-1.0zM338.8 305.3h1.0v1.0h-1.0zM352.4 298.0h1.0v1.0h-1.0zM345.2 305.8h1.0v1.0h-1.0zM353.4 303.3h1.0v1.0h-1.0zM352.0 302.6h1.0v1.0h-1.0zM354.0 296.8h1.0v1.0h-1.0zM350.8 295.3h1.0v1.0h-1.0zM344.2 303.1h1.0v1.0h-1.0zM354.1 302.8h1.0v1.0h-1.0zM347.9 304.2h1.0v1.0h-1.0zM348.6 298.8h1.0v1.0h-1.0zM351.9 308.6h1.0v1.0h-1.0zM353.8 292.2h1.0v1.0h-1.0zM351.7 298.5h1.0v1.0h-1.0zM339.7 302.3h1.0v1.0h-1.0zM352.5 298.4h1.0v1.0h-1.0zM343.0 302.1h1.0v1.0h-1.0zM355.5 300.9h1.0v1.0h-1.0zM350.5 295.4h1.0v1.0h-1.0zM343.6 303.1h1.0v1.0h-1.0zM345.6 300.7h1.0v1.0h-1.0zM359.5 303.6h1.0v1.0h-1.0zM351.9 296.9h1.0v1.0h-1.0zM352.4 293.9h1.0v1.0h-1.0zM347.1 294.8h1.0v1.0h-1.0zM352.7 300.7h1.0v1.0h-1.0zM357.2 299.1h1.0v1.0h-1.0zM352.7 294.8h1.0v1.0h-1.0zM357.5 303.5h1.0v1.0h-1.0zM359.2 303.7h1.0v1.0h-1.0zM347.9 304.3h1.0v1.0h-1.0zM349.4 307.9h1.0v1.0h-1.0zM347.8 298.7h1.0v1.0h-1.0zM350.8 298.6h1.0v1.0h-1.0zM353.6 296.0h1.0v1.0h-1.0zM351.8 295.7h1.0v1.0h-1.0zM360.2 299.9h1.0v1.0h-1.0zM343.2 302.6h1.0v1.0h-1.0zM346.5 300.0h1.0v1.0h-1.0zM347.3 307.6h1.0v1.0h-1.0zM357.4 291.7h1.0v1.0h-1.0zM348.2 297.0h1.0v1.0h-1.0zM343.6 305.1h1.0v1.0h-1.0zM342.5 294.2h1.0v1.0h-1.0zM350.9 297.3h1.0v1.0h-1.0zM350.7 302.1h1.0v1.0h-1.0zM352.2 297.0h1.0v1.0h-1.0zM349.4 301.9h1.0v1.0h-1.0zM338.2 302.1h1.0v1.0h-1.0zM349.3 307.3h1.0v1.0h-1.0zM351.5 295.4h1.0v1.0h-1.0zM347.3 299.6h1.0v1.0h-1.0zM347.4 296.8h1.0v1.0h-1.0zM358.1 299.6h1.0v1.0h-1.0zM343.0 308.0h1.0v1.0h-1.0zM347.1 298.8h1.0v1.0h-1.0zM349.0 299.4h1.0v1.0h-1.0zM355.7 308.0h1.0v1.0h-1.0zM340.5 303.2h1.0v1.0h-1.0zM352.5 305.1h1.0v1.0h-1.0zM351.9 307.7h1.0v1.0h-1.0zM346.1 299.1h1.0v1.0h-1.0zM347.9 302.9h1.0v1.0h-1.0zM353.3 306.5h1.0v1.0h-1.0zM349.9 302.7h1.0v1.0h-1.0zM346.0 304.0h1.0v1.0h-1.0zM356.9 300.3h1.0v1.0h-1.0zM337.8 307.6h1.0v1.0h-1.0zM349.8 297.0h1.0v1.0h-1.0zM347.6 302.8h1.0v1.0h-1.0zM354.9 304.3h1.0v1.0h-1.0zM349.2 299.7h1.0v1.0h-1.0zM347.3 301.6h1.0v1.0h-1.0zM346.6 299.2h1.0v1.0h-1.0zM345.7 295.6h1.0v1.0h-1.0zM346.1 303.4h1.0v1.0h-1.0zM354.6 302.0h1.0v1.0h-1.0zM343.1 296.8h1.0v1.0h-1.0zM361.6 308.2h1.0v1.0h-1.0zM355.9 298.8h1.0v1.0h-1.0zM342.3 300.2h1.0v1.0h-1.0zM348.3 304.3h1.0v1.0h-1.0zM349.8 296.8h1.0v1.0h-1.0zM343.9 303.3h1.0v1.0h-1.0zM356.0 303.5h1.0v1.0h-1.0zM350.0 303.3h1.0v1.0h-1.0zM341.8 300.7h1.0v1.0h-1.0zM344.0 300.7h1.0v1.0h-1.0zM348.0 297.7h1.0v1.0h-1.0zM355.1 300.4h1.0v1.0h-1.0zM358.8 300.8h1.0v1.0h-1.0zM349.0 297.6h1.0v1.0h-1.0zM346.6 303.3h1.0v1.0h-1.0zM351.5 307.7h1.0v1.0h-1.0zM354.2 298.5h1.0v1.0h-1.0zM344.9 299.7h1.0v1.0h-1.0zM357.6 305.1h1.0v1.0h-1.0zM361.9 295.9h1.0v1.0h-1.0zM350.8 302.8h1.0v1.0h-1.0zM352.1 299.3h1.0v1.0h-1.0zM349.6 298.9h1.0v1.0h-1.0zM350.4 299.8h1.0v1.0h-1.0zM361.3 304.3h1.0v1.0h-1.0zM344.5 301.0h1.0v1.0h-1.0zM361.3 299.2h1.0v1.0h-1.0zM352.4 306.8h1.0v1.0h-1.0zM346.0 304.1h1.0v1.0h-1.0zM349.3 303.6h1.0v1.0h-1.0zM349.4 304.0h1.0v1.0h-1.0zM355.6 307.8h1.0v1.0h-1.0zM345.4 304.7h1.0v1.0h-1.0zM354.4 295.5h1.0v1.0h-1.0zM359.2 308.3h1.0v1.0h-1.0zM361.4 297.3h1.0v1.0h-1.0zM345.6 307.6h1.0v1.0h-1.0zM350.0 300.3h1.0v1.0h-1.0zM344.3 305.5h1.0v1.0h-1.0zM353.9 293.9h1.0v1.0h-1.0zM356.5 300.2h1.0v1.0h-1.0zM351.4 300.8h1.0v1.0h-1.0zM351.8 299.4h1.0v1.0h-1.0zM344.5 301.4h1.0v1.0h-1.0zM358.7 302.9h1.0v1.0h-1.0zM352.0 298.3h1.0v1.0h-1.0zM351.3 307.5h1.0v1.0h-1.0zM349.9 300.9h1.0v1.0h-1.0zM346.0 309.8h1.0v1.0h-1.0zM350.2 304.1h1.0v1.0h-1.0zM339.1 304.1h1.0v1.0h-1.0zM353.2 297.4h1.0v1.0h-1.0zM350.3 300.3h1.0v1.0h-1.0zM356.3 302.1h1.0v1.0h-1.0zM348.8 299.6h1.0v1.0h-1.0zM362.3 302.3h1.0v1.0h-1.0zM351.8 302.1h1.0v1.0h-1.0zM353.1 301.7h1.0v1.0h-1.0zM349.2 306.0h1.0v1.0h-1.0zM348.3 298.6h1.0v1.0h-1.0zM345.6 301.0h1.0v1.0h-1.0zM348.5 300.3h1.0v1.0h-1.0zM350.9 300.9h1.0v1.0h-1.0zM354.6 299.6h1.0v1.0h-1.0zM347.3 300.4h1.0v1.0h-1.0zM346.6 302.3h1.0v1.0h-1.0zM344.4 296.3h1.0v1.0h-1.0zM360.1 292.0h1.0v1.0h-1.0zM343.7 302.8h1.0v1.0h-1.0zM348.1 303.7h1.0v1.0h-1.0zM360.4 302.6h1.0v1.0h-1.0zM347.4 305.8h1.0v1.0h-1.0zM350.1 307.1h1.0v1.0h-1.0zM345.8 301.4h1.0v1.0h-1.0zM350.5 301.2h1.0v1.0h-1.0zM361.7 305.1h1.0v1.0h-1.0zM356.2 302.6h1.0v1.0h-1.0zM350.2 300.2h1.0v1.0h-1.0zM354.7 299.7h1.0v1.0h-1.0zM357.2 299.7h1.0v1.0h-1.0zM344.0 298.8h1.0v1.0h-1.0zM357.0 303.0h1.0v1.0h-1.0zM351.0 294.3h1.0v1.0h-1.0zM350.1 295.4h1.0v1.0h-1.0zM355.3 303.5h1.0v1.0h-1.0zM349.3 301.0h1.0v1.0h-1.0zM351.3 299.2h1.0v1.0h-1.0zM346.7 300.1h1.0v1.0h-1.0zM358.7 308.5h1.0v1.0h-1.0zM343.9 297.2h1.0v1.0h-1.0zM344.9 298.4h1.0v1.0h-1.0zM352.5 299.9h1.0v1.0h-1.0zM348.0 303.0h1.0v1.0h-1.0zM346.1 299.2h1.0v1.0h-1.0zM354.8 299.4h1.0v1.0h-1.0zM349.4 309.5h1.0v1.0h-1.0zM349.8 297.1h1.0v1.0h-1.0zM344.2 305.8h1.0v1.0h-1.0zM356.7 305.5h1.0v1.0h-1.0zM352.6 307.7h1.0v1.0h-1.0zM362.9 304.0h1.0v1.0h-1.0zM351.9 300.3h1.0v1.0h-1.0zM358.1 307.6h1.0v1.0h-1.0zM353.1 298.0h1.0v1.0h-1.0zM353.5 296.1h1.0v1.0h-1.0zM351.2 306.8h1.0v1.0h-1.0zM348.1 302.2h1.0v1.0h-1.0zM356.7 295.8h1.0v1.0h-1.0zM351.2 305.0h1.0v1.0h-1.0zM348.6 297.8h1.0v1.0h-1.0zM350.7 305.6h1.0v1.0h-1.0zM353.6 300.3h1.0v1.0h-1.0zM350.9 305.3h1.0v1.0h-1.0zM359.6 300.7h1.0v1.0h-1.0zM353.6 302.8h1.0v1.0h-1.0zM355.6 304.1h1.0v1.0h-1.0zM342.4 307.5h1.0v1.0h-1.0zM350.1 299.7h1.0v1.0h-1.0zM354.9 299.0h1.0v1.0h-1.0zM354.2 300.5h1.0v1.0h-1.0zM356.8 298.0h1.0v1.0h-1.0zM347.2 301.0h1.0v1.0h-1.0zM340.9 302.1h1.0v1.0h-1.0zM338.3 300.0h1.0v1.0h-1.0zM357.5 305.2h1.0v1.0h-1.0zM340.9 297.0h1.0v1.0h-1.0zM347.6 304.8h1.0v1.0h-1.0zM352.8 298.2h1.0v1.0h-1.0zM343.0 306.8h1.0v1.0h-1.0zM346.9 297.7h1.0v1.0h-1.0zM361.1 301.0h1.0v1.0h-1.0zM347.2 302.7h1.0v1.0h-1.0zM348.5 302.5h1.0v1.0h-1.0zM356.8 294.9h1.0v1.0h-1.0zM359.8 299.2h1.0v1.0h-1.0zM354.3 304.2h1.0v1.0h-1.0zM351.3 301.0h1.0v1.0h-1.0zM349.1 302.9h1.0v1.0h-1.0zM353.3 303.5h1.0v1.0h-1.0zM349.4 300.1h1.0v1.0h-1.0zM355.3 297.8h1.0v1.0h-1.0zM352.3 302.5h1.0v1.0h-1.0zM345.5 300.8h1.0v1.0h-1.0zM348.1 301.2h1.0v1.0h-1.0zM346.6 304.8h1.0v1.0h-1.0zM357.1 302.9h1.0v1.0h-1.0zM355.3 296.5h1.0v1.0h-1.0zM356.8 304.5h1.0v1.0h-1.0zM353.9 301.9h1.0v1.0h-1.0zM358.4 300.8h1.0v1.0h-1.0zM353.1 303.6h1.0v1.0h-1.0zM360.3 305.9h1.0v1.0h-1.0zM356.5 305.1h1.0v1.0h-1.0zM353.3 297.0h1.0v1.0h-1.0zM346.3 299.6h1.0v1.0h-1.0zM354.8 295.5h1.0v1.0h-1.0zM359.3 303.2h1.0v1.0h-1.0zM355.4 304.1h1.0v1.0h-1.0zM353.8 304.8h1.0v1.0h-1.0zM345.5 296.3h1.0v1.0h-1.0zM350.1 302.2h1.0v1.0h-1.0zM338.3 304.4h1.0v1.0h-1.0zM343.1 299.8h1.0v1.0h-1.0zM351.8 295.6h1.0v1.0h-1.0zM350.2 294.2h1.0v1.0h-1.0zM354.0 303.1h1.0v1.0h-1.0zM349.1 296.3h1.0v1.0h-1.0zM357.7 295.6h1.0v1.0h-1.0zM349.2 303.1h1.0v1.0h-1.0zM349.4 299.6h1.0v1.0h-1.0zM346.2 301.4h1.0v1.0h-1.0zM343.9 304.7h1.0v1.0h-1.0zM345.4 297.5h1.0v1.0h-1.0zM362.8 303.2h1.0v1.0h-1.0zM347.3 293.3h1.0v1.0h-1.0zM344.4 297.9h1.0v1.0h-1.0zM358.6 296.5h1.0v1.0h-1.0zM349.9 300.3h1.0v1.0h-1.0zM360.4 301.3h1.0v1.0h-1.0zM354.4 297.7h1.0v1.0h-1.0zM352.6 304.9h1.0v1.0h-1.0zM356.5 295.3h1.0v1.0h-1.0zM353.7 302.7h1.0v1.0h-1.0zM353.6 306.9h1.0v1.0h-1.0zM350.9 308.9h1.0v1.0h-1.0zM347.7 302.5h1.0v1.0h-1.0zM348.2 302.2h1.0v1.0h-1.0zM351.9 300.4h1.0v1.0h-1.0zM345.9 303.2h1.0v1.0h-1.0zM355.1 301.4h1.0v1.0h-1.0zM362.8 299.7h1.0v1.0h-1.0zM340.3 305.3h1.0v1.0h-1.0zM360.9 296.3h1.0v1.0h-1.0zM349.8 296.2h1.0v1.0h-1.0zM341.5 301.2h1.0v1.0h-1.0zM338.0 295.8h1.0v1.0h-1.0zM356.5 308.0h1.0v1.0h-1.0zM351.2 296.9h1.0v1.0h-1.0zM353.8 298.3h1.0v1.0h-1.0zM344.9 304.5h1.0v1.0h-1.0zM355.4 300.2h1.0v1.0h-1.0zM356.0 296.2h1.0v1.0h-1.0zM355.4 299.2h1.0v1.0h-1.0zM344.5 294.6h1.0v1.0h-1.0zM357.9 296.7h1.0v1.0h-1.0zM355.5 296.2h1.0v1.0h-1.0zM347.3 300.4h1.0v1.0h-1.0zM352.7 300.5h1.0v1.0h-1.0zM349.5 303.7h1.0v1.0h-1.0zM353.1 298.9h1.0v1.0h-1.0zM351.4 298.5h1.0v1.0h-1.0zM342.4 310.1h1.0v1.0h-1.0zM356.6 304.2h1.0v1.0h-1.0zM349.4 307.4h1.0v1.0h-1.0zM359.2 302.8h1.0v1.0h-1.0zM346.8 306.2h1.0v1.0h-1.0zM342.1 295.3h1.0v1.0h-1.0zM350.9 299.7h1.0v1.0h-1.0zM350.8 297.3h1.0v1.0h-1.0zM354.8 308.3h1.0v1.0h-1.0zM348.1 298.2h1.0v1.0h-1.0zM358.8 302.9h1.0v1.0h-1.0zM355.1 301.8h1.0v1.0h-1.0zM354.5 301.5h1.0v1.0h-1.0zM350.9 298.0h1.0v1.0h-1.0zM355.8 300.4h1.0v1.0h-1.0zM354.0 294.9h1.0v1.0h-1.0zM345.9 297.3h1.0v1.0h-1.0zM358.2 306.0h1.0v1.0h-1.0zM357.5 298.4h1.0v1.0h-1.0zM352.0 302.4h1.0v1.0h-1.0zM349.0 303.9h1.0v1.0h-1.0zM349.4 300.9h1.0v1.0h-1.0zM353.6 294.5h1.0v1.0h-1.0zM350.5 301.9h1.0v1.0h-1.0zM359.8 296.4h1.0v1.0h-1.0zM351.4 298.4h1.0v1.0h-1.0zM359.2 298.9h1.0v1.0h-1.0zM349.8 298.8h1.0v1.0h-1.0zM357.3 297.4h1.0v1.0h-1.0zM350.1 300.4h1.0v1.0h-1.0zM353.4 307.4h1.0v1.0h-1.0zM354.9 301.0h1.0v1.0h-1.0zM358.2 302.7h1.0v1.0h-1.0zM357.8 305.6h1.0v1.0h-1.0zM341.0 303.6h1.0v1.0h-1.0zM353.0 304.2h1.0v1.0h-1.0zM352.5 297.6h1.0v1.0h-1.0zM356.0 299.4h1.0v1.0h-1.0zM347.8 299.1h1.0v1.0h-1.0zM350.2 298.0h1.0v1.0h-1.0zM342.5 304.4h1.0v1.0h-1.0zM352.6 299.1h1.0v1.0h-1.0zM352.9 303.2h1.0v1.0h-1.0zM352.0 295.3h1.0v1.0h-1.0zM348.8 294.4h1.0v1.0h-1.0zM351.7 305.4h1.0v1.0h-1.0zM356.6 300.8h1.0v1.0h-1.0zM347.2 299.5h1.0v1.0h-1.0zM352.2 298.4h1.0v1.0h-1.0zM342.5 303.6h1.0v1.0h-1.0zM352.6 306.4h1.0v1.0h-1.0zM349.5 301.8h1.0v1.0h-1.0zM357.9 303.9h1.0v1.0h-1.0zM355.0 295.6h1.0v1.0h-1.0zM356.8 296.4h1.0v1.0h-1.0zM353.0 293.8h1.0v1.0h-1.0zM344.9 298.8h1.0v1.0h-1.0zM353.3 303.2h1.0v1.0h-1.0zM353.5 301.8h1.0v1.0h-1.0zM347.1 303.2h1.0v1.0h-1.0zM340.6 298.9h1.0v1.0h-1.0zM349.5 309.1h1.0v1.0h-1.0zM353.0 298.7h1.0v1.0h-1.0zM347.6 299.9h1.0v1.0h-1.0zM354.9 301.8h1.0v1.0h-1.0zM351.2 301.4h1.0v1.0h-1.0zM361.7 301.4h1.0v1.0h-1.0zM358.9 294.8h1.0v1.0h-1.0zM352.2 301.3h1.0v1.0h-1.0zM354.6 297.9h1.0v1.0h-1.0zM345.8 306.2h1.0v1.0h-1.0zM345.7 300.7h1.0v1.0h-1.0zM352.7 302.4h1.0v1.0h-1.0zM347.9 293.2h1.0v1.0h-1.0zM355.1 301.4h1.0v1.0h-1.0zM346.3 300.8h1.0v1.0h-1.0zM343.9 301.8h1.0v1.0h-1.0zM350.7 302.9h1.0v1.0h-1.0zM341.4 305.0h1.0v1.0h-1.0zM355.8 304.3h1.0v1.0h-1.0zM353.9 296.3h1.0v1.0h-1.0zM343.1 308.6h1.0v1.0h-1.0zM348.9 305.3h1.0v1.0h-1.0zM340.1 303.9h1.0v1.0h-1.0zM345.5 298.1h1.0v1.0h-1.0zM338.4 301.1h1.0v1.0h-1.0zM349.1 302.7h1.0v1.0h-1.0zM353.0 303.4h1.0v1.0h-1.0zM340.9 299.3h1.0v1.0h-1.0zM344.0 302.7h1.0v1.0h-1.0zM353.0 308.7h1.0v1.0h-1.0zM345.6 303.2h1.0v1.0h-1.0zM350.4 293.4h1.0v1.0h-1.0zM357.9 300.5h1.0v1.0h-1.0zM341.0 304.9h1.0v1.0h-1.0zM347.4 302.4h1.0v1.0h-1.0zM345.9 301.8h1.0v1.0h-1.0zM350.5 307.5h1.0v1.0h-1.0zM346.1 305.6h1.0v1.0h-1.0zM350.0 302.8h1.0v1.0h-1.0zM353.0 294.5h1.0v1.0h-1.0zM348.7 296.2h1.0v1.0h-1.0zM354.2 304.8h1.0v1.0h-1.0zM356.2 294.9h1.0v1.0h-1.0zM343.9 298.6h1.0v1.0h-1.0zM352.0 302.1h1.0v1.0h-1.0zM351.7 300.4h1.0v1.0h-1.0zM350.9 304.8h1.0v1.0h-1.0zM348.1 295.6h1.0v1.0h-1.0zM360.3 293.9h1.0v1.0h-1.0zM350.4 303.9h1.0v1.0h-1.0zM354.9 303.1h1.0v1.0h-1.0zM363.2 306.0h1.0v1.0h-1.0zM344.8 299.4h1.0v1.0h-1.0zM363.4 303.2h1.0v1.0h-1.0zM351.3 307.5h1.0v1.0h-1.0zM352.3 303.8h1.0v1.0h-1.0zM355.8 304.2h1.0v1.0h-1.0zM349.3 305.9h1.0v1.0h-1.0zM350.1 298.4h1.0v1.0h-1.0zM355.9 304.0h1.0v1.0h-1.0zM345.7 303.8h1.0v1.0h-1.0z" fill="#555" fill-opacity="0.4"/>
<rect x="336.6" y="290.4" width="28.8" height="20.9" fill="none" stroke="#555" stroke-width="1"/>
<text x="338.2" y="295.8" font-size="4.4" text-anchor="start" fill="#222" stroke="#222" stroke-width="0.12">R3</text>
<rect x="309.7" y="390.8" width="85.4" height="84.6" fill="none" stroke="#727272" stroke-width="1.1"/>
<text x="306.5" y="392.576" font-size="4.8" fill="#3a3a3a" stroke="#3a3a3a" stroke-width="0.12" text-anchor="end">10<tspan font-size="3.6" dy="-1.44">4</tspan></text>
<line x1="307.7" y1="390.8" x2="309.7" y2="390.8" stroke="#666" stroke-width="0.7"/>
<text x="306.5" y="413.726" font-size="4.8" fill="#3a3a3a" stroke="#3a3a3a" stroke-width="0.12" text-anchor="end">10<tspan font-size="3.6" dy="-1.44">3</tspan></text>
<line x1="307.7" y1="411.95" x2="309.7" y2="411.95" stroke="#666" stroke-width="0.7"/>
<text x="306.5" y="434.87600000000003" font-size="4.8" fill="#3a3a3a" stroke="#3a3a3a" stroke-width="0.12" text-anchor="end">10<tspan font-size="3.6" dy="-1.44">2</tspan></text>
<line x1="307.7" y1="433.1" x2="309.7" y2="433.1" stroke="#666" stroke-width="0.7"/>
<text x="306.5" y="456.026" font-size="4.8" fill="#3a3a3a" stroke="#3a3a3a" stroke-width="0.12" text-anchor="end">10<tspan font-size="3.6" dy="-1.44">1</tspan></text>
<line x1="307.7" y1="454.25" x2="309.7" y2="454.25" stroke="#666" stroke-width="0.7"/>
<text x="306.5" y="477.176" font-size="4.8" fill="#3a3a3a" stroke="#3a3a3a" stroke-width="0.12" text-anchor="end">10<tspan font-size="3.6" dy="-1.44">0</tspan></text>
<line x1="307.7" y1="475.4" x2="309.7" y2="475.4" stroke="#666" stroke-width="0.7"/>
<text x="308.26" y="481.976" font-size="4.8" fill="#3a3a3a" stroke="#3a3a3a" stroke-width="0.12" text-anchor="middle">10<tspan font-size="3.6" dy="-1.44">0</tspan></text>
<line x1="309.7" y1="475.4" x2="309.7" y2="477.0" stroke="#666" stroke-width="0.7"/>
<text x="329.61" y="481.976" font-size="4.8" fill="#3a3a3a" stroke="#3a3a3a" stroke-width="0.12" text-anchor="middle">10<tspan font-size="3.6" dy="-1.44">1</tspan></text>
<line x1="331.05" y1="475.4" x2="331.05" y2="477.0" stroke="#666" stroke-width="0.7"/>
<text x="350.96" y="481.976" font-size="4.8" fill="#3a3a3a" stroke="#3a3a3a" stroke-width="0.12" text-anchor="middle">10<tspan font-size="3.6" dy="-1.44">2</tspan></text>
<line x1="352.4" y1="475.4" x2="352.4" y2="477.0" stroke="#666" stroke-width="0.7"/>
<text x="372.31" y="481.976" font-size="4.8" fill="#3a3a3a" stroke="#3a3a3a" stroke-width="0.12" text-anchor="middle">10<tspan font-size="3.6" dy="-1.44">3</tspan></text>
<line x1="373.75" y1="475.4" x2="373.75" y2="477.0" stroke="#666" stroke-width="0.7"/>
<text x="393.66" y="481.976" font-size="4.8" fill="#3a3a3a" stroke="#3a3a3a" stroke-width="0.12" text-anchor="middle">10<tspan font-size="3.6" dy="-1.44">4</tspan></text>
<line x1="395.1" y1="475.4" x2="395.1" y2="477.0" stroke="#666" stroke-width="0.7"/>
<ellipse cx="336" cy="465" rx="16" ry="7" fill="#8a8a8a" fill-opacity="0.5" transform="rotate(-10 336 465)" filter="url(#b30)"/>
<path d="M331.1 466.9h1.0v1.0h-1.0zM349.9 467.5h1.0v1.0h-1.0zM323.8 458.0h1.0v1.0h-1.0zM326.7 458.9h1.0v1.0h-1.0zM323.0 464.2h1.0v1.0h-1.0zM335.2 469.5h1.0v1.0h-1.0zM348.2 459.7h1.0v1.0h-1.0zM338.1 459.4h1.0v1.0h-1.0zM328.2 461.5h1.0v1.0h-1.0zM337.0 468.3h1.0v1.0h-1.0zM322.3 471.5h1.0v1.0h-1.0zM316.1 474.2h1.0v1.0h-1.0zM349.3 471.0h1.0v1.0h-1.0zM316.4 471.5h1.0v1.0h-1.0zM328.7 467.6h1.0v1.0h-1.0zM349.5 454.5h1.0v1.0h-1.0zM333.5 455.7h1.0v1.0h-1.0zM328.6 448.6h1.0v1.0h-1.0zM334.2 446.1h1.0v1.0h-1.0zM330.1 468.7h1.0v1.0h-1.0zM352.9 451.2h1.0v1.0h-1.0zM345.8 456.5h1.0v1.0h-1.0zM338.1 466.3h1.0v1.0h-1.0zM340.8 466.9h1.0v1.0h-1.0zM325.8 468.3h1.0v1.0h-1.0zM332.9 464.1h1.0v1.0h-1.0zM328.2 471.1h1.0v1.0h-1.0zM349.0 462.9h1.0v1.0h-1.0zM350.5 454.7h1.0v1.0h-1.0zM358.4 454.1h1.0v1.0h-1.0zM333.5 463.6h1.0v1.0h-1.0zM350.6 463.2h1.0v1.0h-1.0zM341.9 456.9h1.0v1.0h-1.0zM349.7 468.3h1.0v1.0h-1.0zM322.9 463.9h1.0v1.0h-1.0zM346.6 466.8h1.0v1.0h-1.0zM319.1 461.8h1.0v1.0h-1.0zM339.9 460.7h1.0v1.0h-1.0zM341.2 456.9h1.0v1.0h-1.0zM326.5 468.0h1.0v1.0h-1.0zM340.6 455.4h1.0v1.0h-1.0zM348.3 463.7h1.0v1.0h-1.0zM337.3 463.7h1.0v1.0h-1.0zM347.2 462.7h1.0v1.0h-1.0zM335.6 463.2h1.0v1.0h-1.0zM352.9 470.3h1.0v1.0h-1.0zM331.7 457.8h1.0v1.0h-1.0zM342.5 462.8h1.0v1.0h-1.0zM340.6 452.7h1.0v1.0h-1.0zM333.9 467.2h1.0v1.0h-1.0zM318.4 455.0h1.0v1.0h-1.0zM328.0 463.7h1.0v1.0h-1.0zM343.8 470.8h1.0v1.0h-1.0zM343.3 459.6h1.0v1.0h-1.0zM336.5 466.5h1.0v1.0h-1.0zM338.2 467.1h1.0v1.0h-1.0zM328.3 467.0h1.0v1.0h-1.0zM331.4 459.8h1.0v1.0h-1.0zM334.7 470.1h1.0v1.0h-1.0zM337.9 464.5h1.0v1.0h-1.0zM337.0 463.1h1.0v1.0h-1.0zM334.2 461.5h1.0v1.0h-1.0zM311.0 469.9h1.0v1.0h-1.0zM328.3 460.9h1.0v1.0h-1.0zM325.7 469.1h1.0v1.0h-1.0zM334.3 465.3h1.0v1.0h-1.0zM339.7 465.3h1.0v1.0h-1.0zM338.8 468.1h1.0v1.0h-1.0zM349.3 465.7h1.0v1.0h-1.0zM340.5 469.5h1.0v1.0h-1.0zM331.1 456.8h1.0v1.0h-1.0zM334.8 451.8h1.0v1.0h-1.0zM328.2 466.1h1.0v1.0h-1.0zM353.8 462.0h1.0v1.0h-1.0zM329.3 468.4h1.0v1.0h-1.0zM342.5 463.7h1.0v1.0h-1.0zM346.5 456.2h1.0v1.0h-1.0zM349.3 449.9h1.0v1.0h-1.0zM336.1 467.7h1.0v1.0h-1.0zM342.7 458.5h1.0v1.0h-1.0zM313.0 458.8h1.0v1.0h-1.0zM323.7 467.0h1.0v1.0h-1.0zM359.1 454.8h1.0v1.0h-1.0zM352.9 455.0h1.0v1.0h-1.0zM336.6 464.9h1.0v1.0h-1.0zM362.9 459.5h1.0v1.0h-1.0zM312.0 464.3h1.0v1.0h-1.0zM344.5 460.0h1.0v1.0h-1.0zM345.4 460.1h1.0v1.0h-1.0zM340.1 466.9h1.0v1.0h-1.0zM364.4 456.8h1.0v1.0h-1.0zM327.7 470.7h1.0v1.0h-1.0zM345.7 450.4h1.0v1.0h-1.0zM345.1 457.4h1.0v1.0h-1.0zM337.6 470.5h1.0v1.0h-1.0zM351.1 456.3h1.0v1.0h-1.0zM341.5 458.8h1.0v1.0h-1.0zM316.7 461.9h1.0v1.0h-1.0zM340.6 455.4h1.0v1.0h-1.0zM329.2 455.1h1.0v1.0h-1.0zM322.5 468.7h1.0v1.0h-1.0zM345.1 448.5h1.0v1.0h-1.0zM347.4 460.1h1.0v1.0h-1.0zM329.2 457.0h1.0v1.0h-1.0zM341.3 458.0h1.0v1.0h-1.0zM327.0 465.9h1.0v1.0h-1.0zM342.2 452.0h1.0v1.0h-1.0zM341.7 462.0h1.0v1.0h-1.0zM346.1 467.8h1.0v1.0h-1.0zM337.7 456.7h1.0v1.0h-1.0zM350.0 464.3h1.0v1.0h-1.0zM326.4 460.4h1.0v1.0h-1.0zM334.6 469.3h1.0v1.0h-1.0zM338.4 474.4h1.0v1.0h-1.0zM322.0 472.9h1.0v1.0h-1.0zM327.7 463.2h1.0v1.0h-1.0zM332.7 473.3h1.0v1.0h-1.0zM353.5 448.3h1.0v1.0h-1.0zM341.3 466.1h1.0v1.0h-1.0zM342.3 464.2h1.0v1.0h-1.0zM321.6 472.8h1.0v1.0h-1.0zM349.9 455.8h1.0v1.0h-1.0zM343.1 466.6h1.0v1.0h-1.0zM342.0 465.9h1.0v1.0h-1.0zM323.4 462.1h1.0v1.0h-1.0zM340.5 466.7h1.0v1.0h-1.0zM349.5 454.6h1.0v1.0h-1.0zM327.5 461.3h1.0v1.0h-1.0zM353.4 460.3h1.0v1.0h-1.0zM352.4 457.1h1.0v1.0h-1.0zM339.0 462.9h1.0v1.0h-1.0zM337.7 458.6h1.0v1.0h-1.0zM320.6 470.6h1.0v1.0h-1.0zM331.5 459.1h1.0v1.0h-1.0zM325.0 452.0h1.0v1.0h-1.0zM324.2 466.7h1.0v1.0h-1.0zM326.4 452.7h1.0v1.0h-1.0zM325.4 451.3h1.0v1.0h-1.0zM341.9 445.7h1.0v1.0h-1.0zM336.0 472.8h1.0v1.0h-1.0zM337.5 465.9h1.0v1.0h-1.0zM333.2 469.0h1.0v1.0h-1.0zM366.5 448.5h1.0v1.0h-1.0zM336.5 456.8h1.0v1.0h-1.0zM338.0 460.4h1.0v1.0h-1.0zM340.3 462.3h1.0v1.0h-1.0zM331.5 468.1h1.0v1.0h-1.0zM344.3 455.8h1.0v1.0h-1.0zM344.2 455.2h1.0v1.0h-1.0zM328.4 468.8h1.0v1.0h-1.0zM348.6 462.5h1.0v1.0h-1.0zM366.5 451.5h1.0v1.0h-1.0zM341.0 460.8h1.0v1.0h-1.0zM314.7 471.8h1.0v1.0h-1.0zM338.5 464.5h1.0v1.0h-1.0zM337.4 465.4h1.0v1.0h-1.0zM334.8 452.9h1.0v1.0h-1.0zM339.9 462.1h1.0v1.0h-1.0zM329.8 453.1h1.0v1.0h-1.0zM338.1 465.0h1.0v1.0h-1.0zM357.0 457.2h1.0v1.0h-1.0zM343.0 463.3h1.0v1.0h-1.0zM332.0 460.4h1.0v1.0h-1.0zM329.7 465.7h1.0v1.0h-1.0zM347.6 464.7h1.0v1.0h-1.0zM313.6 464.2h1.0v1.0h-1.0zM347.2 460.9h1.0v1.0h-1.0zM349.7 463.8h1.0v1.0h-1.0zM341.5 467.0h1.0v1.0h-1.0zM353.1 457.7h1.0v1.0h-1.0zM328.0 456.8h1.0v1.0h-1.0zM341.5 471.4h1.0v1.0h-1.0zM341.1 461.4h1.0v1.0h-1.0zM341.8 456.7h1.0v1.0h-1.0zM341.3 471.0h1.0v1.0h-1.0zM340.3 458.9h1.0v1.0h-1.0zM340.6 469.4h1.0v1.0h-1.0zM340.0 469.7h1.0v1.0h-1.0zM338.7 462.3h1.0v1.0h-1.0zM328.8 466.4h1.0v1.0h-1.0zM344.0 468.9h1.0v1.0h-1.0zM348.8 458.0h1.0v1.0h-1.0zM318.6 462.9h1.0v1.0h-1.0zM355.8 445.7h1.0v1.0h-1.0zM332.3 467.3h1.0v1.0h-1.0zM350.2 455.6h1.0v1.0h-1.0zM341.0 459.5h1.0v1.0h-1.0zM337.5 459.5h1.0v1.0h-1.0zM340.1 464.6h1.0v1.0h-1.0zM328.0 469.8h1.0v1.0h-1.0zM320.5 453.2h1.0v1.0h-1.0zM321.7 469.6h1.0v1.0h-1.0zM326.0 468.5h1.0v1.0h-1.0zM335.9 463.7h1.0v1.0h-1.0zM335.3 473.6h1.0v1.0h-1.0zM341.5 452.4h1.0v1.0h-1.0zM324.5 467.8h1.0v1.0h-1.0zM339.3 466.9h1.0v1.0h-1.0zM352.0 459.6h1.0v1.0h-1.0zM323.8 470.1h1.0v1.0h-1.0zM326.0 465.3h1.0v1.0h-1.0zM324.9 468.7h1.0v1.0h-1.0zM356.3 450.6h1.0v1.0h-1.0zM332.9 470.7h1.0v1.0h-1.0zM345.0 466.8h1.0v1.0h-1.0zM349.3 460.8h1.0v1.0h-1.0zM334.0 463.7h1.0v1.0h-1.0zM344.2 467.6h1.0v1.0h-1.0zM325.9 466.0h1.0v1.0h-1.0zM346.0 462.9h1.0v1.0h-1.0zM332.8 466.2h1.0v1.0h-1.0zM329.1 461.7h1.0v1.0h-1.0zM317.5 464.7h1.0v1.0h-1.0zM350.0 460.8h1.0v1.0h-1.0zM319.4 455.8h1.0v1.0h-1.0zM327.6 453.1h1.0v1.0h-1.0zM331.5 459.9h1.0v1.0h-1.0zM343.8 451.3h1.0v1.0h-1.0zM361.0 462.2h1.0v1.0h-1.0zM326.6 471.3h1.0v1.0h-1.0zM338.1 458.8h1.0v1.0h-1.0zM333.9 463.5h1.0v1.0h-1.0zM365.2 460.7h1.0v1.0h-1.0zM338.4 469.3h1.0v1.0h-1.0zM356.2 469.3h1.0v1.0h-1.0zM312.4 467.3h1.0v1.0h-1.0zM334.1 470.6h1.0v1.0h-1.0zM336.3 471.7h1.0v1.0h-1.0zM331.8 455.6h1.0v1.0h-1.0zM327.1 462.0h1.0v1.0h-1.0zM338.3 462.2h1.0v1.0h-1.0zM344.9 469.6h1.0v1.0h-1.0zM358.9 456.2h1.0v1.0h-1.0zM321.0 468.4h1.0v1.0h-1.0zM326.0 457.8h1.0v1.0h-1.0zM354.7 449.6h1.0v1.0h-1.0zM328.7 473.6h1.0v1.0h-1.0zM345.3 468.9h1.0v1.0h-1.0zM330.0 458.6h1.0v1.0h-1.0zM341.8 461.1h1.0v1.0h-1.0zM335.7 453.6h1.0v1.0h-1.0zM349.2 461.1h1.0v1.0h-1.0zM373.1 473.6h1.0v1.0h-1.0zM349.8 465.6h1.0v1.0h-1.0zM330.0 463.3h1.0v1.0h-1.0zM350.4 456.6h1.0v1.0h-1.0zM329.1 460.9h1.0v1.0h-1.0zM342.1 466.6h1.0v1.0h-1.0zM343.9 462.3h1.0v1.0h-1.0zM324.1 465.6h1.0v1.0h-1.0zM336.4 459.3h1.0v1.0h-1.0zM340.0 469.9h1.0v1.0h-1.0zM332.0 458.6h1.0v1.0h-1.0zM337.7 465.9h1.0v1.0h-1.0zM328.3 469.4h1.0v1.0h-1.0zM338.6 457.8h1.0v1.0h-1.0zM325.3 474.3h1.0v1.0h-1.0zM336.9 464.6h1.0v1.0h-1.0zM362.2 455.1h1.0v1.0h-1.0zM332.1 468.7h1.0v1.0h-1.0zM328.0 465.8h1.0v1.0h-1.0zM341.7 448.6h1.0v1.0h-1.0zM333.1 457.1h1.0v1.0h-1.0zM351.1 446.9h1.0v1.0h-1.0zM343.2 470.4h1.0v1.0h-1.0zM339.5 455.8h1.0v1.0h-1.0zM335.4 457.7h1.0v1.0h-1.0zM349.3 463.4h1.0v1.0h-1.0zM347.8 463.9h1.0v1.0h-1.0zM345.5 454.2h1.0v1.0h-1.0zM335.2 467.7h1.0v1.0h-1.0zM322.6 462.9h1.0v1.0h-1.0zM342.1 459.5h1.0v1.0h-1.0zM323.2 467.1h1.0v1.0h-1.0zM330.5 467.1h1.0v1.0h-1.0zM324.8 470.8h1.0v1.0h-1.0zM339.6 467.7h1.0v1.0h-1.0zM325.0 465.9h1.0v1.0h-1.0zM350.2 461.8h1.0v1.0h-1.0zM332.7 466.4h1.0v1.0h-1.0zM319.6 467.8h1.0v1.0h-1.0zM324.4 474.0h1.0v1.0h-1.0zM333.1 461.9h1.0v1.0h-1.0zM350.0 462.6h1.0v1.0h-1.0zM323.9 460.3h1.0v1.0h-1.0zM337.4 468.7h1.0v1.0h-1.0zM333.6 457.0h1.0v1.0h-1.0zM327.5 463.9h1.0v1.0h-1.0zM326.5 459.5h1.0v1.0h-1.0zM356.1 459.1h1.0v1.0h-1.0zM347.6 442.4h1.0v1.0h-1.0zM353.5 455.8h1.0v1.0h-1.0zM326.8 466.0h1.0v1.0h-1.0zM332.4 457.2h1.0v1.0h-1.0zM333.4 466.5h1.0v1.0h-1.0zM321.1 459.7h1.0v1.0h-1.0zM336.8 459.1h1.0v1.0h-1.0zM340.8 471.0h1.0v1.0h-1.0zM353.2 469.4h1.0v1.0h-1.0zM351.2 455.8h1.0v1.0h-1.0zM334.9 471.6h1.0v1.0h-1.0zM337.1 456.8h1.0v1.0h-1.0zM326.4 457.8h1.0v1.0h-1.0zM353.4 453.3h1.0v1.0h-1.0zM328.7 457.3h1.0v1.0h-1.0zM348.6 454.8h1.0v1.0h-1.0zM332.1 458.5h1.0v1.0h-1.0zM348.0 465.8h1.0v1.0h-1.0zM332.1 467.5h1.0v1.0h-1.0zM326.6 462.2h1.0v1.0h-1.0zM352.6 459.2h1.0v1.0h-1.0zM344.3 464.6h1.0v1.0h-1.0zM346.7 465.8h1.0v1.0h-1.0zM325.7 464.1h1.0v1.0h-1.0zM329.9 457.9h1.0v1.0h-1.0zM343.7 452.5h1.0v1.0h-1.0zM344.6 462.1h1.0v1.0h-1.0zM365.1 459.9h1.0v1.0h-1.0zM313.5 464.8h1.0v1.0h-1.0zM341.2 461.7h1.0v1.0h-1.0zM338.0 461.8h1.0v1.0h-1.0zM329.5 453.2h1.0v1.0h-1.0zM337.5 455.0h1.0v1.0h-1.0zM334.6 467.1h1.0v1.0h-1.0zM349.3 464.1h1.0v1.0h-1.0zM328.4 463.9h1.0v1.0h-1.0zM331.2 463.5h1.0v1.0h-1.0zM330.3 473.4h1.0v1.0h-1.0zM344.5 467.8h1.0v1.0h-1.0zM352.6 469.7h1.0v1.0h-1.0zM363.0 449.1h1.0v1.0h-1.0zM332.3 473.5h1.0v1.0h-1.0zM365.0 464.5h1.0v1.0h-1.0zM334.8 461.6h1.0v1.0h-1.0zM339.7 464.6h1.0v1.0h-1.0zM338.6 456.8h1.0v1.0h-1.0zM336.6 462.0h1.0v1.0h-1.0zM324.6 463.5h1.0v1.0h-1.0zM360.0 464.8h1.0v1.0h-1.0zM314.3 449.3h1.0v1.0h-1.0zM325.3 458.1h1.0v1.0h-1.0zM345.5 466.4h1.0v1.0h-1.0zM348.2 455.4h1.0v1.0h-1.0zM327.4 459.2h1.0v1.0h-1.0zM334.8 464.0h1.0v1.0h-1.0zM337.5 466.8h1.0v1.0h-1.0zM339.4 463.5h1.0v1.0h-1.0zM337.4 441.2h1.0v1.0h-1.0zM328.7 452.8h1.0v1.0h-1.0zM341.9 474.2h1.0v1.0h-1.0zM336.8 468.4h1.0v1.0h-1.0zM327.6 463.9h1.0v1.0h-1.0zM335.0 473.8h1.0v1.0h-1.0zM344.4 443.1h1.0v1.0h-1.0zM329.7 459.3h1.0v1.0h-1.0zM320.4 467.9h1.0v1.0h-1.0zM313.6 459.5h1.0v1.0h-1.0zM323.1 466.6h1.0v1.0h-1.0zM346.4 461.9h1.0v1.0h-1.0zM334.2 463.5h1.0v1.0h-1.0zM330.5 465.3h1.0v1.0h-1.0zM341.1 460.3h1.0v1.0h-1.0zM324.2 461.4h1.0v1.0h-1.0zM345.5 462.9h1.0v1.0h-1.0zM323.7 464.0h1.0v1.0h-1.0zM332.0 462.8h1.0v1.0h-1.0zM323.5 459.7h1.0v1.0h-1.0zM341.7 469.7h1.0v1.0h-1.0zM359.1 452.7h1.0v1.0h-1.0zM325.2 459.9h1.0v1.0h-1.0zM336.0 455.8h1.0v1.0h-1.0zM332.9 457.5h1.0v1.0h-1.0zM317.6 463.1h1.0v1.0h-1.0zM322.0 461.3h1.0v1.0h-1.0zM327.7 468.7h1.0v1.0h-1.0zM328.7 458.6h1.0v1.0h-1.0zM325.1 467.5h1.0v1.0h-1.0zM331.7 472.8h1.0v1.0h-1.0zM341.7 458.8h1.0v1.0h-1.0zM327.3 458.3h1.0v1.0h-1.0zM324.5 458.0h1.0v1.0h-1.0zM334.6 463.8h1.0v1.0h-1.0zM326.5 471.0h1.0v1.0h-1.0zM317.2 455.9h1.0v1.0h-1.0zM326.4 457.0h1.0v1.0h-1.0zM353.1 469.4h1.0v1.0h-1.0zM322.8 466.2h1.0v1.0h-1.0zM330.7 456.4h1.0v1.0h-1.0zM342.1 461.7h1.0v1.0h-1.0zM350.9 463.4h1.0v1.0h-1.0zM337.3 467.4h1.0v1.0h-1.0zM350.7 459.9h1.0v1.0h-1.0zM332.9 469.6h1.0v1.0h-1.0zM337.4 467.7h1.0v1.0h-1.0zM357.7 472.0h1.0v1.0h-1.0zM334.9 457.1h1.0v1.0h-1.0zM361.3 469.1h1.0v1.0h-1.0zM340.1 460.3h1.0v1.0h-1.0zM346.3 454.8h1.0v1.0h-1.0zM348.9 459.7h1.0v1.0h-1.0zM334.6 463.6h1.0v1.0h-1.0zM328.1 462.4h1.0v1.0h-1.0zM342.3 458.5h1.0v1.0h-1.0zM344.0 457.4h1.0v1.0h-1.0zM342.6 451.9h1.0v1.0h-1.0zM350.3 456.6h1.0v1.0h-1.0zM330.0 468.2h1.0v1.0h-1.0zM336.5 465.9h1.0v1.0h-1.0zM332.8 469.1h1.0v1.0h-1.0zM336.6 462.2h1.0v1.0h-1.0zM321.7 465.8h1.0v1.0h-1.0zM346.1 469.4h1.0v1.0h-1.0zM341.2 472.4h1.0v1.0h-1.0zM347.9 472.3h1.0v1.0h-1.0zM334.0 466.1h1.0v1.0h-1.0zM340.8 465.6h1.0v1.0h-1.0zM343.0 465.8h1.0v1.0h-1.0zM347.4 459.5h1.0v1.0h-1.0zM320.2 473.0h1.0v1.0h-1.0zM340.6 463.3h1.0v1.0h-1.0zM343.3 457.3h1.0v1.0h-1.0zM339.5 466.0h1.0v1.0h-1.0zM334.7 445.2h1.0v1.0h-1.0zM320.8 472.3h1.0v1.0h-1.0zM328.1 465.7h1.0v1.0h-1.0zM331.7 469.4h1.0v1.0h-1.0zM346.0 464.5h1.0v1.0h-1.0zM335.7 461.4h1.0v1.0h-1.0zM352.1 457.6h1.0v1.0h-1.0zM331.5 460.4h1.0v1.0h-1.0zM342.7 473.7h1.0v1.0h-1.0zM338.1 462.4h1.0v1.0h-1.0zM339.3 458.3h1.0v1.0h-1.0zM350.3 464.2h1.0v1.0h-1.0zM355.0 466.2h1.0v1.0h-1.0zM341.5 457.4h1.0v1.0h-1.0zM344.8 467.4h1.0v1.0h-1.0zM336.0 461.2h1.0v1.0h-1.0zM334.3 460.1h1.0v1.0h-1.0zM330.8 466.8h1.0v1.0h-1.0zM349.0 464.3h1.0v1.0h-1.0zM351.9 453.8h1.0v1.0h-1.0zM318.7 465.8h1.0v1.0h-1.0zM329.3 470.8h1.0v1.0h-1.0zM324.0 463.4h1.0v1.0h-1.0zM314.0 471.9h1.0v1.0h-1.0zM355.5 458.3h1.0v1.0h-1.0zM342.5 457.3h1.0v1.0h-1.0zM343.6 463.5h1.0v1.0h-1.0zM315.6 467.2h1.0v1.0h-1.0zM333.3 449.1h1.0v1.0h-1.0zM337.8 457.2h1.0v1.0h-1.0zM348.9 462.9h1.0v1.0h-1.0zM348.4 455.9h1.0v1.0h-1.0zM338.9 452.0h1.0v1.0h-1.0zM323.1 464.7h1.0v1.0h-1.0zM356.5 455.4h1.0v1.0h-1.0zM348.2 469.5h1.0v1.0h-1.0zM326.0 463.3h1.0v1.0h-1.0zM347.1 466.9h1.0v1.0h-1.0zM341.1 459.0h1.0v1.0h-1.0zM364.4 445.7h1.0v1.0h-1.0zM341.2 469.7h1.0v1.0h-1.0zM325.2 465.8h1.0v1.0h-1.0zM342.9 465.1h1.0v1.0h-1.0zM357.4 454.1h1.0v1.0h-1.0zM349.4 457.9h1.0v1.0h-1.0zM331.7 463.9h1.0v1.0h-1.0zM321.8 469.7h1.0v1.0h-1.0zM340.4 462.0h1.0v1.0h-1.0zM333.9 461.7h1.0v1.0h-1.0zM343.9 460.6h1.0v1.0h-1.0zM330.1 455.5h1.0v1.0h-1.0zM339.7 469.3h1.0v1.0h-1.0zM329.3 466.3h1.0v1.0h-1.0zM332.5 465.1h1.0v1.0h-1.0zM327.6 447.9h1.0v1.0h-1.0zM324.3 463.7h1.0v1.0h-1.0zM329.3 464.0h1.0v1.0h-1.0zM334.7 453.2h1.0v1.0h-1.0zM345.3 465.0h1.0v1.0h-1.0zM349.4 467.4h1.0v1.0h-1.0zM360.2 459.3h1.0v1.0h-1.0zM356.9 463.7h1.0v1.0h-1.0zM341.3 469.4h1.0v1.0h-1.0zM329.2 449.3h1.0v1.0h-1.0zM340.9 459.3h1.0v1.0h-1.0zM333.3 456.8h1.0v1.0h-1.0zM342.6 468.0h1.0v1.0h-1.0zM338.2 462.1h1.0v1.0h-1.0zM331.3 456.2h1.0v1.0h-1.0zM346.1 455.9h1.0v1.0h-1.0zM350.2 466.4h1.0v1.0h-1.0zM334.9 465.3h1.0v1.0h-1.0zM347.5 471.8h1.0v1.0h-1.0zM350.8 472.2h1.0v1.0h-1.0zM352.5 471.7h1.0v1.0h-1.0zM352.7 462.7h1.0v1.0h-1.0zM320.2 464.3h1.0v1.0h-1.0zM343.7 459.3h1.0v1.0h-1.0zM351.6 459.5h1.0v1.0h-1.0zM339.3 457.7h1.0v1.0h-1.0zM355.2 458.9h1.0v1.0h-1.0zM327.7 465.5h1.0v1.0h-1.0zM347.1 454.9h1.0v1.0h-1.0zM360.8 457.0h1.0v1.0h-1.0zM335.8 452.5h1.0v1.0h-1.0zM347.1 471.5h1.0v1.0h-1.0zM334.8 460.3h1.0v1.0h-1.0zM341.0 463.3h1.0v1.0h-1.0zM340.0 473.1h1.0v1.0h-1.0zM338.0 452.5h1.0v1.0h-1.0zM341.0 465.8h1.0v1.0h-1.0zM327.3 466.6h1.0v1.0h-1.0zM334.0 451.0h1.0v1.0h-1.0zM335.6 457.3h1.0v1.0h-1.0zM326.9 462.1h1.0v1.0h-1.0zM321.9 463.4h1.0v1.0h-1.0zM349.3 470.6h1.0v1.0h-1.0zM344.0 450.9h1.0v1.0h-1.0zM343.3 464.1h1.0v1.0h-1.0zM335.9 451.1h1.0v1.0h-1.0zM315.4 456.9h1.0v1.0h-1.0zM328.3 466.7h1.0v1.0h-1.0zM326.0 465.9h1.0v1.0h-1.0zM320.7 473.9h1.0v1.0h-1.0zM327.6 474.0h1.0v1.0h-1.0zM333.9 462.7h1.0v1.0h-1.0zM311.9 467.0h1.0v1.0h-1.0zM321.9 455.6h1.0v1.0h-1.0zM311.1 451.8h1.0v1.0h-1.0zM348.3 462.2h1.0v1.0h-1.0zM342.5 472.1h1.0v1.0h-1.0zM331.1 473.3h1.0v1.0h-1.0zM334.8 462.2h1.0v1.0h-1.0zM327.9 460.8h1.0v1.0h-1.0zM335.7 472.5h1.0v1.0h-1.0zM330.4 460.8h1.0v1.0h-1.0zM334.9 460.7h1.0v1.0h-1.0zM359.6 462.8h1.0v1.0h-1.0zM362.2 450.7h1.0v1.0h-1.0zM355.7 458.6h1.0v1.0h-1.0zM322.6 462.4h1.0v1.0h-1.0zM348.6 459.0h1.0v1.0h-1.0zM340.5 469.9h1.0v1.0h-1.0zM316.7 472.5h1.0v1.0h-1.0zM350.7 455.7h1.0v1.0h-1.0zM348.9 464.4h1.0v1.0h-1.0zM346.3 466.8h1.0v1.0h-1.0zM343.5 452.6h1.0v1.0h-1.0zM329.1 465.2h1.0v1.0h-1.0zM358.1 452.9h1.0v1.0h-1.0zM332.1 464.0h1.0v1.0h-1.0zM330.6 458.2h1.0v1.0h-1.0zM326.6 468.8h1.0v1.0h-1.0zM335.0 466.8h1.0v1.0h-1.0zM327.5 458.3h1.0v1.0h-1.0zM317.9 471.3h1.0v1.0h-1.0zM328.9 464.4h1.0v1.0h-1.0zM334.3 471.7h1.0v1.0h-1.0zM327.5 456.7h1.0v1.0h-1.0zM335.7 456.9h1.0v1.0h-1.0zM337.7 454.0h1.0v1.0h-1.0zM335.8 466.4h1.0v1.0h-1.0zM319.6 457.3h1.0v1.0h-1.0zM357.1 455.0h1.0v1.0h-1.0zM343.1 453.7h1.0v1.0h-1.0zM336.3 468.4h1.0v1.0h-1.0zM342.2 457.7h1.0v1.0h-1.0zM320.9 466.9h1.0v1.0h-1.0zM341.8 462.2h1.0v1.0h-1.0zM342.6 472.8h1.0v1.0h-1.0zM337.1 460.0h1.0v1.0h-1.0zM346.9 470.9h1.0v1.0h-1.0zM315.2 460.4h1.0v1.0h-1.0zM335.6 460.1h1.0v1.0h-1.0zM338.3 452.2h1.0v1.0h-1.0zM363.7 461.4h1.0v1.0h-1.0zM332.5 470.8h1.0v1.0h-1.0zM320.9 464.8h1.0v1.0h-1.0zM332.0 462.8h1.0v1.0h-1.0zM344.8 454.8h1.0v1.0h-1.0zM347.6 465.1h1.0v1.0h-1.0zM340.7 468.5h1.0v1.0h-1.0zM332.1 453.0h1.0v1.0h-1.0zM341.2 466.5h1.0v1.0h-1.0zM352.6 457.8h1.0v1.0h-1.0zM342.5 469.9h1.0v1.0h-1.0zM336.1 465.6h1.0v1.0h-1.0zM332.8 461.0h1.0v1.0h-1.0zM347.5 468.3h1.0v1.0h-1.0zM340.4 461.6h1.0v1.0h-1.0zM336.0 459.4h1.0v1.0h-1.0zM338.1 463.0h1.0v1.0h-1.0zM355.3 460.4h1.0v1.0h-1.0zM337.6 462.1h1.0v1.0h-1.0zM338.2 464.2h1.0v1.0h-1.0zM327.2 468.0h1.0v1.0h-1.0zM343.9 472.7h1.0v1.0h-1.0zM349.4 465.9h1.0v1.0h-1.0zM346.8 468.3h1.0v1.0h-1.0zM341.5 465.0h1.0v1.0h-1.0zM345.4 460.7h1.0v1.0h-1.0zM319.2 469.4h1.0v1.0h-1.0zM351.1 459.9h1.0v1.0h-1.0zM349.3 466.8h1.0v1.0h-1.0zM329.6 456.4h1.0v1.0h-1.0zM319.3 474.4h1.0v1.0h-1.0zM349.9 463.3h1.0v1.0h-1.0zM337.6 457.9h1.0v1.0h-1.0zM324.0 471.4h1.0v1.0h-1.0zM332.8 465.3h1.0v1.0h-1.0zM349.2 460.0h1.0v1.0h-1.0zM340.4 465.0h1.0v1.0h-1.0zM362.3 459.0h1.0v1.0h-1.0zM345.9 467.5h1.0v1.0h-1.0zM355.3 455.3h1.0v1.0h-1.0zM327.8 461.8h1.0v1.0h-1.0zM326.0 454.5h1.0v1.0h-1.0zM338.3 467.1h1.0v1.0h-1.0zM322.2 470.5h1.0v1.0h-1.0zM348.3 454.9h1.0v1.0h-1.0zM333.9 473.9h1.0v1.0h-1.0zM339.4 464.8h1.0v1.0h-1.0zM351.7 460.3h1.0v1.0h-1.0zM324.2 461.9h1.0v1.0h-1.0zM328.7 463.1h1.0v1.0h-1.0zM339.9 470.6h1.0v1.0h-1.0zM324.4 469.8h1.0v1.0h-1.0zM347.6 456.9h1.0v1.0h-1.0zM335.8 460.7h1.0v1.0h-1.0zM332.0 463.9h1.0v1.0h-1.0zM338.5 466.5h1.0v1.0h-1.0zM330.7 466.6h1.0v1.0h-1.0zM345.3 458.9h1.0v1.0h-1.0zM334.5 465.7h1.0v1.0h-1.0zM321.7 474.3h1.0v1.0h-1.0zM311.7 464.0h1.0v1.0h-1.0zM323.2 459.3h1.0v1.0h-1.0zM315.6 472.7h1.0v1.0h-1.0zM329.7 465.4h1.0v1.0h-1.0zM339.4 473.9h1.0v1.0h-1.0zM343.1 463.0h1.0v1.0h-1.0zM323.3 458.5h1.0v1.0h-1.0zM319.0 468.5h1.0v1.0h-1.0zM322.0 470.1h1.0v1.0h-1.0zM348.0 462.2h1.0v1.0h-1.0zM351.5 458.4h1.0v1.0h-1.0zM326.9 472.6h1.0v1.0h-1.0zM349.3 459.2h1.0v1.0h-1.0zM316.7 473.1h1.0v1.0h-1.0zM341.1 458.2h1.0v1.0h-1.0zM331.0 459.2h1.0v1.0h-1.0zM312.0 469.0h1.0v1.0h-1.0zM344.4 466.1h1.0v1.0h-1.0zM359.2 461.0h1.0v1.0h-1.0zM346.6 456.0h1.0v1.0h-1.0zM328.2 468.2h1.0v1.0h-1.0zM353.5 470.6h1.0v1.0h-1.0zM340.7 454.4h1.0v1.0h-1.0zM333.1 451.2h1.0v1.0h-1.0zM333.2 460.8h1.0v1.0h-1.0zM321.5 455.3h1.0v1.0h-1.0zM323.5 466.6h1.0v1.0h-1.0zM331.2 460.6h1.0v1.0h-1.0zM338.8 472.2h1.0v1.0h-1.0zM341.9 461.7h1.0v1.0h-1.0zM328.8 457.8h1.0v1.0h-1.0zM342.9 462.5h1.0v1.0h-1.0zM329.8 473.7h1.0v1.0h-1.0zM343.8 466.1h1.0v1.0h-1.0zM321.4 458.4h1.0v1.0h-1.0zM358.9 458.0h1.0v1.0h-1.0zM341.5 469.7h1.0v1.0h-1.0zM324.0 460.3h1.0v1.0h-1.0zM326.3 461.3h1.0v1.0h-1.0zM337.3 472.4h1.0v1.0h-1.0zM348.7 453.3h1.0v1.0h-1.0zM319.5 452.6h1.0v1.0h-1.0zM335.6 471.6h1.0v1.0h-1.0zM344.1 452.9h1.0v1.0h-1.0zM350.4 460.1h1.0v1.0h-1.0zM339.3 458.3h1.0v1.0h-1.0zM321.6 468.3h1.0v1.0h-1.0zM316.9 459.6h1.0v1.0h-1.0zM311.3 471.9h1.0v1.0h-1.0zM332.6 457.3h1.0v1.0h-1.0zM328.4 460.9h1.0v1.0h-1.0zM349.1 462.7h1.0v1.0h-1.0zM345.7 462.6h1.0v1.0h-1.0zM353.6 444.9h1.0v1.0h-1.0zM338.3 466.3h1.0v1.0h-1.0zM328.1 470.3h1.0v1.0h-1.0zM349.7 469.4h1.0v1.0h-1.0zM344.2 468.1h1.0v1.0h-1.0zM333.6 472.9h1.0v1.0h-1.0zM346.4 466.0h1.0v1.0h-1.0zM337.3 461.8h1.0v1.0h-1.0zM337.6 465.0h1.0v1.0h-1.0zM345.2 452.7h1.0v1.0h-1.0zM342.5 468.4h1.0v1.0h-1.0zM334.0 454.6h1.0v1.0h-1.0zM339.4 463.1h1.0v1.0h-1.0zM344.2 458.0h1.0v1.0h-1.0zM352.3 462.4h1.0v1.0h-1.0zM344.1 474.5h1.0v1.0h-1.0zM354.3 453.7h1.0v1.0h-1.0zM339.5 451.1h1.0v1.0h-1.0zM341.8 456.2h1.0v1.0h-1.0zM335.7 462.0h1.0v1.0h-1.0zM331.6 457.2h1.0v1.0h-1.0zM357.0 457.6h1.0v1.0h-1.0zM318.0 469.7h1.0v1.0h-1.0zM321.7 461.3h1.0v1.0h-1.0zM344.6 461.5h1.0v1.0h-1.0zM335.1 473.4h1.0v1.0h-1.0zM350.6 455.4h1.0v1.0h-1.0zM336.9 453.5h1.0v1.0h-1.0zM341.6 465.9h1.0v1.0h-1.0zM318.5 461.2h1.0v1.0h-1.0zM319.8 471.2h1.0v1.0h-1.0zM330.7 469.0h1.0v1.0h-1.0zM342.1 467.7h1.0v1.0h-1.0zM330.9 462.5h1.0v1.0h-1.0zM337.4 462.4h1.0v1.0h-1.0zM334.7 457.3h1.0v1.0h-1.0zM345.1 459.1h1.0v1.0h-1.0zM354.1 460.9h1.0v1.0h-1.0zM329.5 458.2h1.0v1.0h-1.0zM326.4 456.6h1.0v1.0h-1.0zM332.3 467.6h1.0v1.0h-1.0zM327.1 457.8h1.0v1.0h-1.0zM342.8 462.8h1.0v1.0h-1.0zM331.3 465.2h1.0v1.0h-1.0zM324.1 464.4h1.0v1.0h-1.0zM335.7 460.6h1.0v1.0h-1.0zM336.9 467.4h1.0v1.0h-1.0zM331.9 468.1h1.0v1.0h-1.0zM340.9 466.2h1.0v1.0h-1.0zM314.1 467.4h1.0v1.0h-1.0zM336.5 461.1h1.0v1.0h-1.0zM337.8 453.3h1.0v1.0h-1.0zM335.9 463.8h1.0v1.0h-1.0zM340.1 459.4h1.0v1.0h-1.0zM335.7 468.6h1.0v1.0h-1.0zM344.3 446.2h1.0v1.0h-1.0zM356.1 452.4h1.0v1.0h-1.0zM343.7 455.3h1.0v1.0h-1.0zM344.2 463.0h1.0v1.0h-1.0zM339.8 464.7h1.0v1.0h-1.0zM343.0 465.9h1.0v1.0h-1.0zM345.5 462.8h1.0v1.0h-1.0zM341.5 458.0h1.0v1.0h-1.0zM312.6 467.1h1.0v1.0h-1.0zM355.2 460.1h1.0v1.0h-1.0zM333.1 463.2h1.0v1.0h-1.0zM352.5 452.2h1.0v1.0h-1.0zM360.6 467.9h1.0v1.0h-1.0zM320.9 461.7h1.0v1.0h-1.0zM336.7 464.4h1.0v1.0h-1.0zM330.7 454.1h1.0v1.0h-1.0zM337.3 464.3h1.0v1.0h-1.0zM326.8 462.3h1.0v1.0h-1.0zM330.5 462.8h1.0v1.0h-1.0zM330.0 454.3h1.0v1.0h-1.0zM318.8 467.9h1.0v1.0h-1.0zM345.5 463.0h1.0v1.0h-1.0zM332.1 470.4h1.0v1.0h-1.0zM330.1 464.0h1.0v1.0h-1.0zM334.5 461.3h1.0v1.0h-1.0zM335.8 471.7h1.0v1.0h-1.0zM346.6 461.7h1.0v1.0h-1.0zM343.1 451.6h1.0v1.0h-1.0zM330.9 466.8h1.0v1.0h-1.0zM336.0 449.8h1.0v1.0h-1.0zM346.9 464.1h1.0v1.0h-1.0zM318.4 463.6h1.0v1.0h-1.0zM342.5 473.3h1.0v1.0h-1.0zM319.4 459.0h1.0v1.0h-1.0zM353.2 456.3h1.0v1.0h-1.0zM331.2 459.1h1.0v1.0h-1.0zM334.3 469.6h1.0v1.0h-1.0zM342.0 453.6h1.0v1.0h-1.0zM324.8 456.5h1.0v1.0h-1.0zM318.2 467.9h1.0v1.0h-1.0zM324.0 470.0h1.0v1.0h-1.0zM341.1 467.6h1.0v1.0h-1.0zM319.1 472.1h1.0v1.0h-1.0zM340.3 465.8h1.0v1.0h-1.0zM327.6 458.9h1.0v1.0h-1.0zM337.8 461.8h1.0v1.0h-1.0zM314.8 471.7h1.0v1.0h-1.0zM336.4 456.8h1.0v1.0h-1.0zM324.0 464.8h1.0v1.0h-1.0zM340.9 462.1h1.0v1.0h-1.0zM339.5 467.3h1.0v1.0h-1.0zM318.7 462.9h1.0v1.0h-1.0zM329.8 459.7h1.0v1.0h-1.0zM334.9 464.1h1.0v1.0h-1.0zM339.2 456.2h1.0v1.0h-1.0zM333.9 467.7h1.0v1.0h-1.0zM329.2 464.5h1.0v1.0h-1.0zM333.4 466.3h1.0v1.0h-1.0zM341.4 469.4h1.0v1.0h-1.0zM333.3 466.3h1.0v1.0h-1.0zM338.9 460.7h1.0v1.0h-1.0zM327.5 467.6h1.0v1.0h-1.0zM345.4 463.0h1.0v1.0h-1.0zM318.9 470.1h1.0v1.0h-1.0zM335.3 469.5h1.0v1.0h-1.0zM349.8 454.7h1.0v1.0h-1.0zM328.2 466.1h1.0v1.0h-1.0zM342.2 447.0h1.0v1.0h-1.0zM326.4 470.3h1.0v1.0h-1.0zM344.8 462.0h1.0v1.0h-1.0zM336.5 467.3h1.0v1.0h-1.0zM349.5 445.9h1.0v1.0h-1.0zM331.0 472.2h1.0v1.0h-1.0zM320.0 465.4h1.0v1.0h-1.0zM340.0 454.5h1.0v1.0h-1.0zM317.1 467.5h1.0v1.0h-1.0zM320.5 467.6h1.0v1.0h-1.0zM333.9 467.0h1.0v1.0h-1.0zM334.1 462.7h1.0v1.0h-1.0zM342.1 469.8h1.0v1.0h-1.0zM339.8 460.8h1.0v1.0h-1.0zM347.8 443.0h1.0v1.0h-1.0zM335.3 446.9h1.0v1.0h-1.0zM323.6 471.8h1.0v1.0h-1.0zM327.5 454.0h1.0v1.0h-1.0zM331.3 452.1h1.0v1.0h-1.0zM328.5 472.7h1.0v1.0h-1.0zM349.0 451.8h1.0v1.0h-1.0zM333.8 460.0h1.0v1.0h-1.0zM341.9 466.6h1.0v1.0h-1.0zM334.2 462.0h1.0v1.0h-1.0zM332.7 460.9h1.0v1.0h-1.0zM339.4 467.3h1.0v1.0h-1.0zM317.8 463.6h1.0v1.0h-1.0zM344.2 459.8h1.0v1.0h-1.0zM356.4 465.5h1.0v1.0h-1.0zM313.3 459.8h1.0v1.0h-1.0zM334.6 459.9h1.0v1.0h-1.0zM330.5 467.6h1.0v1.0h-1.0zM326.6 466.6h1.0v1.0h-1.0zM352.5 449.0h1.0v1.0h-1.0zM347.5 459.1h1.0v1.0h-1.0zM356.4 447.6h1.0v1.0h-1.0zM334.9 457.0h1.0v1.0h-1.0zM321.9 457.7h1.0v1.0h-1.0zM328.7 470.8h1.0v1.0h-1.0zM341.9 463.8h1.0v1.0h-1.0zM338.9 457.0h1.0v1.0h-1.0zM332.3 457.1h1.0v1.0h-1.0zM333.6 458.3h1.0v1.0h-1.0zM351.2 464.9h1.0v1.0h-1.0zM335.6 467.5h1.0v1.0h-1.0zM322.3 467.5h1.0v1.0h-1.0zM350.3 453.6h1.0v1.0h-1.0zM324.1 468.2h1.0v1.0h-1.0zM330.9 462.0h1.0v1.0h-1.0zM331.1 472.5h1.0v1.0h-1.0zM351.1 456.6h1.0v1.0h-1.0zM338.4 458.0h1.0v1.0h-1.0zM333.9 464.7h1.0v1.0h-1.0zM336.6 458.3h1.0v1.0h-1.0zM344.8 452.0h1.0v1.0h-1.0zM338.5 454.1h1.0v1.0h-1.0zM336.1 464.7h1.0v1.0h-1.0zM334.4 462.7h1.0v1.0h-1.0zM315.5 465.8h1.0v1.0h-1.0zM344.2 466.8h1.0v1.0h-1.0zM329.4 463.4h1.0v1.0h-1.0zM340.9 470.6h1.0v1.0h-1.0zM339.2 465.7h1.0v1.0h-1.0zM340.7 460.1h1.0v1.0h-1.0zM324.9 462.3h1.0v1.0h-1.0zM345.0 462.1h1.0v1.0h-1.0zM334.6 462.2h1.0v1.0h-1.0zM345.5 459.7h1.0v1.0h-1.0zM340.1 464.8h1.0v1.0h-1.0zM325.8 466.1h1.0v1.0h-1.0zM329.3 472.2h1.0v1.0h-1.0zM347.8 458.5h1.0v1.0h-1.0zM347.2 462.4h1.0v1.0h-1.0zM343.7 455.9h1.0v1.0h-1.0zM344.4 463.1h1.0v1.0h-1.0zM337.6 468.7h1.0v1.0h-1.0zM328.6 473.4h1.0v1.0h-1.0zM335.3 461.2h1.0v1.0h-1.0zM349.6 469.9h1.0v1.0h-1.0zM351.0 451.8h1.0v1.0h-1.0zM344.1 470.4h1.0v1.0h-1.0zM352.0 464.2h1.0v1.0h-1.0zM343.5 455.3h1.0v1.0h-1.0zM331.6 448.3h1.0v1.0h-1.0zM349.6 454.3h1.0v1.0h-1.0zM327.6 460.6h1.0v1.0h-1.0zM333.3 460.2h1.0v1.0h-1.0zM331.1 464.7h1.0v1.0h-1.0zM350.9 465.3h1.0v1.0h-1.0zM328.7 466.5h1.0v1.0h-1.0zM345.4 459.4h1.0v1.0h-1.0zM322.5 463.9h1.0v1.0h-1.0zM337.3 448.9h1.0v1.0h-1.0zM360.2 449.7h1.0v1.0h-1.0zM339.1 465.8h1.0v1.0h-1.0zM340.5 463.5h1.0v1.0h-1.0zM334.8 461.2h1.0v1.0h-1.0zM325.0 466.6h1.0v1.0h-1.0zM335.5 461.1h1.0v1.0h-1.0zM330.5 447.9h1.0v1.0h-1.0zM332.5 470.1h1.0v1.0h-1.0zM335.4 457.5h1.0v1.0h-1.0zM358.9 440.3h1.0v1.0h-1.0zM338.3 469.8h1.0v1.0h-1.0zM345.3 467.8h1.0v1.0h-1.0zM330.6 443.9h1.0v1.0h-1.0zM344.3 449.9h1.0v1.0h-1.0zM322.9 472.2h1.0v1.0h-1.0zM344.4 465.2h1.0v1.0h-1.0zM365.5 448.3h1.0v1.0h-1.0zM342.5 468.5h1.0v1.0h-1.0zM322.2 470.9h1.0v1.0h-1.0zM328.2 461.8h1.0v1.0h-1.0zM345.6 456.1h1.0v1.0h-1.0zM339.1 452.0h1.0v1.0h-1.0zM350.3 459.1h1.0v1.0h-1.0zM318.5 460.6h1.0v1.0h-1.0zM336.5 464.9h1.0v1.0h-1.0zM343.1 452.2h1.0v1.0h-1.0zM336.0 451.2h1.0v1.0h-1.0zM343.5 474.3h1.0v1.0h-1.0zM317.6 454.6h1.0v1.0h-1.0zM313.4 463.1h1.0v1.0h-1.0zM342.8 463.0h1.0v1.0h-1.0zM319.2 463.2h1.0v1.0h-1.0zM332.5 465.4h1.0v1.0h-1.0zM339.5 460.6h1.0v1.0h-1.0zM342.7 458.6h1.0v1.0h-1.0zM331.6 455.4h1.0v1.0h-1.0zM336.9 468.6h1.0v1.0h-1.0zM336.8 470.9h1.0v1.0h-1.0zM333.4 471.6h1.0v1.0h-1.0zM334.8 466.5h1.0v1.0h-1.0zM332.9 458.8h1.0v1.0h-1.0zM347.6 458.5h1.0v1.0h-1.0zM334.5 473.7h1.0v1.0h-1.0zM345.4 457.4h1.0v1.0h-1.0zM334.9 457.4h1.0v1.0h-1.0zM346.1 460.7h1.0v1.0h-1.0zM337.0 462.9h1.0v1.0h-1.0zM319.8 463.9h1.0v1.0h-1.0zM333.2 470.2h1.0v1.0h-1.0zM326.4 468.3h1.0v1.0h-1.0zM341.6 469.5h1.0v1.0h-1.0zM334.6 462.0h1.0v1.0h-1.0zM342.8 458.2h1.0v1.0h-1.0zM327.7 465.4h1.0v1.0h-1.0zM330.3 458.2h1.0v1.0h-1.0zM325.3 461.9h1.0v1.0h-1.0zM330.9 463.9h1.0v1.0h-1.0zM348.6 459.6h1.0v1.0h-1.0zM330.7 465.6h1.0v1.0h-1.0zM327.3 462.4h1.0v1.0h-1.0zM348.5 457.6h1.0v1.0h-1.0zM342.3 452.6h1.0v1.0h-1.0zM333.9 466.7h1.0v1.0h-1.0zM329.2 462.3h1.0v1.0h-1.0zM336.5 454.1h1.0v1.0h-1.0zM339.9 473.4h1.0v1.0h-1.0zM349.4 458.7h1.0v1.0h-1.0zM348.9 459.0h1.0v1.0h-1.0zM349.3 461.1h1.0v1.0h-1.0zM342.2 467.2h1.0v1.0h-1.0zM339.9 462.4h1.0v1.0h-1.0zM335.2 461.5h1.0v1.0h-1.0zM338.2 469.4h1.0v1.0h-1.0zM343.7 459.1h1.0v1.0h-1.0zM354.6 459.5h1.0v1.0h-1.0zM333.8 460.1h1.0v1.0h-1.0zM357.6 452.8h1.0v1.0h-1.0zM356.6 454.0h1.0v1.0h-1.0zM318.1 463.7h1.0v1.0h-1.0zM348.3 467.1h1.0v1.0h-1.0zM329.4 469.1h1.0v1.0h-1.0zM334.1 465.9h1.0v1.0h-1.0zM343.6 451.1h1.0v1.0h-1.0zM350.4 460.5h1.0v1.0h-1.0zM350.9 461.1h1.0v1.0h-1.0zM351.2 474.4h1.0v1.0h-1.0zM329.9 471.5h1.0v1.0h-1.0zM346.2 461.2h1.0v1.0h-1.0zM339.0 473.1h1.0v1.0h-1.0zM333.1 466.6h1.0v1.0h-1.0zM331.1 464.8h1.0v1.0h-1.0zM344.4 467.8h1.0v1.0h-1.0zM328.6 462.5h1.0v1.0h-1.0zM342.2 468.9h1.0v1.0h-1.0zM323.0 468.2h1.0v1.0h-1.0zM332.8 460.5h1.0v1.0h-1.0zM340.4 462.3h1.0v1.0h-1.0zM341.2 452.1h1.0v1.0h-1.0zM342.1 466.6h1.0v1.0h-1.0zM319.8 471.7h1.0v1.0h-1.0zM339.0 463.4h1.0v1.0h-1.0zM338.7 471.7h1.0v1.0h-1.0zM313.0 472.1h1.0v1.0h-1.0zM343.8 452.7h1.0v1.0h-1.0zM366.5 456.5h1.0v1.0h-1.0zM339.9 460.3h1.0v1.0h-1.0zM330.6 466.3h1.0v1.0h-1.0zM325.1 460.2h1.0v1.0h-1.0zM340.1 463.6h1.0v1.0h-1.0zM319.6 468.4h1.0v1.0h-1.0zM324.7 469.4h1.0v1.0h-1.0zM323.7 457.9h1.0v1.0h-1.0zM332.7 457.1h1.0v1.0h-1.0zM347.4 472.3h1.0v1.0h-1.0zM343.9 462.5h1.0v1.0h-1.0zM341.9 470.0h1.0v1.0h-1.0zM332.0 461.7h1.0v1.0h-1.0zM320.4 465.4h1.0v1.0h-1.0zM334.2 461.0h1.0v1.0h-1.0zM334.6 458.1h1.0v1.0h-1.0zM331.4 466.2h1.0v1.0h-1.0zM345.1 453.5h1.0v1.0h-1.0zM341.5 454.6h1.0v1.0h-1.0zM345.3 465.3h1.0v1.0h-1.0zM340.8 463.4h1.0v1.0h-1.0zM336.0 463.0h1.0v1.0h-1.0zM333.3 464.8h1.0v1.0h-1.0zM339.3 442.3h1.0v1.0h-1.0zM347.2 462.0h1.0v1.0h-1.0zM345.0 460.4h1.0v1.0h-1.0zM346.4 457.8h1.0v1.0h-1.0zM325.8 454.9h1.0v1.0h-1.0zM335.5 463.4h1.0v1.0h-1.0zM323.1 472.8h1.0v1.0h-1.0zM348.6 458.8h1.0v1.0h-1.0zM326.0 468.4h1.0v1.0h-1.0zM334.0 462.5h1.0v1.0h-1.0zM361.4 449.3h1.0v1.0h-1.0zM337.3 462.9h1.0v1.0h-1.0zM333.4 466.9h1.0v1.0h-1.0zM339.0 449.3h1.0v1.0h-1.0zM337.1 467.1h1.0v1.0h-1.0zM326.2 469.8h1.0v1.0h-1.0zM336.1 457.6h1.0v1.0h-1.0zM337.4 468.0h1.0v1.0h-1.0zM322.2 471.7h1.0v1.0h-1.0zM340.8 446.2h1.0v1.0h-1.0zM342.9 463.7h1.0v1.0h-1.0zM317.6 469.5h1.0v1.0h-1.0zM342.4 455.3h1.0v1.0h-1.0zM321.1 474.0h1.0v1.0h-1.0zM312.0 452.0h1.0v1.0h-1.0zM311.9 469.0h1.0v1.0h-1.0zM326.2 458.4h1.0v1.0h-1.0zM339.0 460.3h1.0v1.0h-1.0zM333.3 471.0h1.0v1.0h-1.0zM339.3 458.5h1.0v1.0h-1.0zM337.0 460.0h1.0v1.0h-1.0zM328.1 470.5h1.0v1.0h-1.0zM332.8 455.9h1.0v1.0h-1.0zM346.8 452.6h1.0v1.0h-1.0zM325.2 470.5h1.0v1.0h-1.0zM333.5 467.4h1.0v1.0h-1.0zM336.3 467.9h1.0v1.0h-1.0zM342.7 452.3h1.0v1.0h-1.0zM336.4 469.8h1.0v1.0h-1.0zM360.1 447.8h1.0v1.0h-1.0zM376.7 463.2h1.0v1.0h-1.0zM354.0 461.3h1.0v1.0h-1.0zM355.8 453.4h1.0v1.0h-1.0zM329.7 462.6h1.0v1.0h-1.0zM341.7 458.4h1.0v1.0h-1.0zM326.8 472.4h1.0v1.0h-1.0zM333.3 467.8h1.0v1.0h-1.0zM340.0 459.9h1.0v1.0h-1.0zM327.8 459.7h1.0v1.0h-1.0zM312.1 470.3h1.0v1.0h-1.0zM335.4 451.8h1.0v1.0h-1.0zM357.8 459.8h1.0v1.0h-1.0zM336.1 462.8h1.0v1.0h-1.0zM339.0 472.9h1.0v1.0h-1.0zM346.2 454.9h1.0v1.0h-1.0zM339.9 460.4h1.0v1.0h-1.0zM338.3 458.0h1.0v1.0h-1.0zM324.3 462.4h1.0v1.0h-1.0zM335.1 456.6h1.0v1.0h-1.0zM332.2 457.9h1.0v1.0h-1.0zM333.9 458.4h1.0v1.0h-1.0zM328.3 464.6h1.0v1.0h-1.0zM329.1 470.1h1.0v1.0h-1.0zM344.8 464.2h1.0v1.0h-1.0zM329.6 469.0h1.0v1.0h-1.0zM341.9 457.3h1.0v1.0h-1.0zM339.4 464.4h1.0v1.0h-1.0zM351.2 452.6h1.0v1.0h-1.0zM334.1 449.1h1.0v1.0h-1.0zM330.0 466.6h1.0v1.0h-1.0zM346.2 464.5h1.0v1.0h-1.0zM336.6 460.1h1.0v1.0h-1.0zM331.4 465.0h1.0v1.0h-1.0zM339.4 470.4h1.0v1.0h-1.0zM319.1 453.8h1.0v1.0h-1.0zM332.3 468.1h1.0v1.0h-1.0zM343.2 463.1h1.0v1.0h-1.0zM336.6 463.0h1.0v1.0h-1.0zM347.1 466.1h1.0v1.0h-1.0zM330.9 464.3h1.0v1.0h-1.0zM347.3 468.8h1.0v1.0h-1.0zM355.8 457.6h1.0v1.0h-1.0zM337.1 468.8h1.0v1.0h-1.0zM324.2 468.1h1.0v1.0h-1.0zM334.6 467.0h1.0v1.0h-1.0zM360.4 460.3h1.0v1.0h-1.0zM368.8 453.5h1.0v1.0h-1.0zM322.7 472.6h1.0v1.0h-1.0zM337.6 465.8h1.0v1.0h-1.0zM346.8 460.9h1.0v1.0h-1.0zM340.3 454.4h1.0v1.0h-1.0zM337.4 470.2h1.0v1.0h-1.0zM328.3 463.5h1.0v1.0h-1.0zM334.9 459.8h1.0v1.0h-1.0zM352.1 454.8h1.0v1.0h-1.0zM328.7 466.0h1.0v1.0h-1.0zM331.8 460.3h1.0v1.0h-1.0zM329.3 465.3h1.0v1.0h-1.0zM324.3 460.9h1.0v1.0h-1.0zM323.1 459.2h1.0v1.0h-1.0zM328.1 461.4h1.0v1.0h-1.0zM339.8 470.9h1.0v1.0h-1.0zM358.0 452.8h1.0v1.0h-1.0zM326.0 465.4h1.0v1.0h-1.0zM332.8 462.6h1.0v1.0h-1.0zM315.0 467.5h1.0v1.0h-1.0zM341.1 461.4h1.0v1.0h-1.0zM340.2 469.3h1.0v1.0h-1.0zM312.0 457.2h1.0v1.0h-1.0zM340.9 464.1h1.0v1.0h-1.0zM314.8 468.5h1.0v1.0h-1.0zM347.6 461.8h1.0v1.0h-1.0zM333.0 457.0h1.0v1.0h-1.0zM338.0 464.9h1.0v1.0h-1.0zM337.0 455.0h1.0v1.0h-1.0zM318.3 464.2h1.0v1.0h-1.0zM337.0 456.2h1.0v1.0h-1.0zM354.5 464.4h1.0v1.0h-1.0zM321.6 467.9h1.0v1.0h-1.0zM332.5 469.2h1.0v1.0h-1.0zM359.5 463.2h1.0v1.0h-1.0zM337.9 460.8h1.0v1.0h-1.0zM341.9 466.1h1.0v1.0h-1.0zM349.9 461.5h1.0v1.0h-1.0zM347.1 452.2h1.0v1.0h-1.0zM332.5 469.1h1.0v1.0h-1.0zM334.4 472.2h1.0v1.0h-1.0zM329.9 464.9h1.0v1.0h-1.0zM348.0 454.2h1.0v1.0h-1.0zM345.0 455.4h1.0v1.0h-1.0zM317.5 467.0h1.0v1.0h-1.0zM340.8 470.4h1.0v1.0h-1.0zM325.9 465.0h1.0v1.0h-1.0zM328.5 464.6h1.0v1.0h-1.0zM332.3 461.2h1.0v1.0h-1.0zM332.2 464.5h1.0v1.0h-1.0zM330.8 463.3h1.0v1.0h-1.0zM337.0 461.7h1.0v1.0h-1.0zM339.5 457.1h1.0v1.0h-1.0zM346.3 459.2h1.0v1.0h-1.0zM347.0 468.5h1.0v1.0h-1.0zM326.6 465.6h1.0v1.0h-1.0zM328.8 461.9h1.0v1.0h-1.0zM335.5 465.8h1.0v1.0h-1.0zM336.7 467.5h1.0v1.0h-1.0zM342.7 467.3h1.0v1.0h-1.0zM320.7 468.9h1.0v1.0h-1.0zM318.8 463.4h1.0v1.0h-1.0zM325.8 460.2h1.0v1.0h-1.0zM340.0 459.3h1.0v1.0h-1.0zM335.7 464.1h1.0v1.0h-1.0zM356.9 451.5h1.0v1.0h-1.0zM316.7 473.9h1.0v1.0h-1.0zM344.8 457.8h1.0v1.0h-1.0zM333.8 470.1h1.0v1.0h-1.0zM349.0 458.3h1.0v1.0h-1.0zM334.3 464.4h1.0v1.0h-1.0zM317.3 472.5h1.0v1.0h-1.0zM358.5 449.1h1.0v1.0h-1.0zM334.5 455.7h1.0v1.0h-1.0zM342.7 451.5h1.0v1.0h-1.0zM352.3 462.9h1.0v1.0h-1.0zM333.6 460.2h1.0v1.0h-1.0zM329.9 470.6h1.0v1.0h-1.0zM335.9 466.1h1.0v1.0h-1.0zM343.7 467.4h1.0v1.0h-1.0zM357.2 459.6h1.0v1.0h-1.0zM327.6 467.4h1.0v1.0h-1.0zM335.9 468.7h1.0v1.0h-1.0zM320.5 460.1h1.0v1.0h-1.0zM318.8 470.9h1.0v1.0h-1.0zM316.3 461.7h1.0v1.0h-1.0zM333.3 452.5h1.0v1.0h-1.0zM347.0 461.7h1.0v1.0h-1.0zM352.9 467.8h1.0v1.0h-1.0zM350.0 472.9h1.0v1.0h-1.0zM332.2 466.9h1.0v1.0h-1.0zM333.5 459.5h1.0v1.0h-1.0zM327.6 470.1h1.0v1.0h-1.0zM326.3 459.1h1.0v1.0h-1.0zM325.0 455.3h1.0v1.0h-1.0zM352.4 457.8h1.0v1.0h-1.0zM323.4 469.0h1.0v1.0h-1.0zM318.3 463.7h1.0v1.0h-1.0zM343.8 452.2h1.0v1.0h-1.0zM346.0 456.3h1.0v1.0h-1.0zM327.8 451.8h1.0v1.0h-1.0zM313.8 468.5h1.0v1.0h-1.0zM334.7 467.1h1.0v1.0h-1.0zM345.1 454.5h1.0v1.0h-1.0zM351.8 457.7h1.0v1.0h-1.0zM335.7 466.4h1.0v1.0h-1.0zM343.4 458.5h1.0v1.0h-1.0zM343.5 468.4h1.0v1.0h-1.0zM332.8 455.3h1.0v1.0h-1.0zM356.0 462.3h1.0v1.0h-1.0zM331.2 458.8h1.0v1.0h-1.0zM348.4 456.9h1.0v1.0h-1.0zM336.6 460.0h1.0v1.0h-1.0zM328.5 455.2h1.0v1.0h-1.0zM335.0 461.7h1.0v1.0h-1.0zM338.2 461.1h1.0v1.0h-1.0zM336.5 468.5h1.0v1.0h-1.0zM330.6 464.1h1.0v1.0h-1.0zM330.1 465.8h1.0v1.0h-1.0zM330.4 469.3h1.0v1.0h-1.0zM352.4 467.4h1.0v1.0h-1.0zM343.9 462.2h1.0v1.0h-1.0zM345.6 456.9h1.0v1.0h-1.0zM345.7 459.1h1.0v1.0h-1.0zM321.4 465.0h1.0v1.0h-1.0zM318.5 473.3h1.0v1.0h-1.0zM324.9 465.0h1.0v1.0h-1.0zM351.4 447.6h1.0v1.0h-1.0zM352.1 460.6h1.0v1.0h-1.0zM336.4 455.1h1.0v1.0h-1.0zM320.3 472.1h1.0v1.0h-1.0zM343.5 467.7h1.0v1.0h-1.0zM343.4 474.0h1.0v1.0h-1.0zM338.7 456.0h1.0v1.0h-1.0zM339.4 454.3h1.0v1.0h-1.0zM331.0 460.0h1.0v1.0h-1.0zM338.4 453.1h1.0v1.0h-1.0zM345.4 461.0h1.0v1.0h-1.0zM318.9 473.0h1.0v1.0h-1.0zM334.9 474.4h1.0v1.0h-1.0zM340.2 458.9h1.0v1.0h-1.0zM334.6 457.9h1.0v1.0h-1.0zM334.4 469.4h1.0v1.0h-1.0zM339.1 453.2h1.0v1.0h-1.0zM322.5 472.4h1.0v1.0h-1.0zM339.0 458.4h1.0v1.0h-1.0zM345.6 455.1h1.0v1.0h-1.0zM320.3 456.4h1.0v1.0h-1.0zM339.0 469.6h1.0v1.0h-1.0zM335.5 462.0h1.0v1.0h-1.0zM324.4 470.5h1.0v1.0h-1.0zM322.5 468.2h1.0v1.0h-1.0zM339.1 459.6h1.0v1.0h-1.0zM334.2 458.1h1.0v1.0h-1.0zM347.6 464.3h1.0v1.0h-1.0zM345.2 466.4h1.0v1.0h-1.0zM342.4 467.9h1.0v1.0h-1.0zM362.1 474.2h1.0v1.0h-1.0zM339.3 469.2h1.0v1.0h-1.0zM321.7 459.9h1.0v1.0h-1.0zM352.0 469.0h1.0v1.0h-1.0zM332.5 465.7h1.0v1.0h-1.0zM320.8 470.0h1.0v1.0h-1.0zM323.6 473.6h1.0v1.0h-1.0zM356.2 453.9h1.0v1.0h-1.0zM347.6 463.3h1.0v1.0h-1.0zM324.5 464.1h1.0v1.0h-1.0zM342.3 469.8h1.0v1.0h-1.0zM341.3 464.6h1.0v1.0h-1.0zM328.0 456.3h1.0v1.0h-1.0zM349.6 455.8h1.0v1.0h-1.0zM335.1 455.8h1.0v1.0h-1.0zM342.9 448.8h1.0v1.0h-1.0zM364.0 457.4h1.0v1.0h-1.0zM352.8 461.5h1.0v1.0h-1.0zM354.1 464.2h1.0v1.0h-1.0zM330.1 465.7h1.0v1.0h-1.0zM341.0 457.9h1.0v1.0h-1.0zM345.6 457.3h1.0v1.0h-1.0zM323.8 462.9h1.0v1.0h-1.0zM336.8 456.7h1.0v1.0h-1.0zM327.4 464.4h1.0v1.0h-1.0z" fill="#333" fill-opacity="0.55"/>
<path d="M349.0 433.0h1.0v1.0h-1.0zM351.3 437.7h1.0v1.0h-1.0zM349.5 421.8h1.0v1.0h-1.0zM370.3 454.5h1.0v1.0h-1.0zM348.8 424.0h1.0v1.0h-1.0zM365.4 412.8h1.0v1.0h-1.0zM328.3 408.5h1.0v1.0h-1.0zM345.6 426.6h1.0v1.0h-1.0zM357.2 428.4h1.0v1.0h-1.0zM337.2 431.4h1.0v1.0h-1.0zM354.3 424.0h1.0v1.0h-1.0zM356.9 430.3h1.0v1.0h-1.0zM333.6 449.3h1.0v1.0h-1.0zM352.7 424.5h1.0v1.0h-1.0zM345.6 423.9h1.0v1.0h-1.0zM353.7 438.4h1.0v1.0h-1.0zM352.2 438.0h1.0v1.0h-1.0zM353.8 438.9h1.0v1.0h-1.0zM339.0 419.7h1.0v1.0h-1.0zM350.7 418.4h1.0v1.0h-1.0zM367.4 430.7h1.0v1.0h-1.0zM348.8 435.6h1.0v1.0h-1.0zM327.6 443.7h1.0v1.0h-1.0zM336.5 416.9h1.0v1.0h-1.0zM366.5 432.1h1.0v1.0h-1.0zM344.6 405.2h1.0v1.0h-1.0zM352.3 424.1h1.0v1.0h-1.0zM354.2 427.8h1.0v1.0h-1.0zM353.7 414.6h1.0v1.0h-1.0zM378.2 415.4h1.0v1.0h-1.0zM351.9 423.0h1.0v1.0h-1.0zM348.4 423.2h1.0v1.0h-1.0zM346.4 430.9h1.0v1.0h-1.0zM350.7 431.7h1.0v1.0h-1.0zM346.9 426.7h1.0v1.0h-1.0zM352.8 448.8h1.0v1.0h-1.0zM347.8 443.2h1.0v1.0h-1.0zM363.3 415.2h1.0v1.0h-1.0zM363.7 402.7h1.0v1.0h-1.0zM352.2 435.7h1.0v1.0h-1.0zM378.8 427.0h1.0v1.0h-1.0zM340.0 452.6h1.0v1.0h-1.0zM359.4 432.4h1.0v1.0h-1.0zM355.7 423.7h1.0v1.0h-1.0zM357.5 421.5h1.0v1.0h-1.0zM352.8 421.8h1.0v1.0h-1.0zM336.3 427.9h1.0v1.0h-1.0zM329.7 419.4h1.0v1.0h-1.0zM370.4 432.1h1.0v1.0h-1.0zM360.8 416.4h1.0v1.0h-1.0zM353.9 449.4h1.0v1.0h-1.0zM343.5 432.0h1.0v1.0h-1.0zM354.9 407.8h1.0v1.0h-1.0zM358.3 415.5h1.0v1.0h-1.0zM354.6 428.2h1.0v1.0h-1.0zM348.9 426.9h1.0v1.0h-1.0zM347.4 423.6h1.0v1.0h-1.0zM352.4 425.6h1.0v1.0h-1.0zM348.9 420.1h1.0v1.0h-1.0zM365.6 427.9h1.0v1.0h-1.0zM328.8 425.5h1.0v1.0h-1.0zM345.3 459.3h1.0v1.0h-1.0zM351.1 431.2h1.0v1.0h-1.0zM349.9 439.3h1.0v1.0h-1.0zM348.3 425.4h1.0v1.0h-1.0zM369.2 416.3h1.0v1.0h-1.0zM369.3 433.9h1.0v1.0h-1.0zM356.6 422.1h1.0v1.0h-1.0zM345.2 432.2h1.0v1.0h-1.0zM364.1 421.9h1.0v1.0h-1.0zM356.4 420.0h1.0v1.0h-1.0zM336.1 416.1h1.0v1.0h-1.0zM346.8 435.9h1.0v1.0h-1.0zM366.5 436.6h1.0v1.0h-1.0zM345.2 432.3h1.0v1.0h-1.0zM347.5 437.5h1.0v1.0h-1.0zM363.4 439.4h1.0v1.0h-1.0zM356.7 434.9h1.0v1.0h-1.0zM329.0 455.5h1.0v1.0h-1.0zM349.9 420.0h1.0v1.0h-1.0zM367.9 404.5h1.0v1.0h-1.0zM341.7 446.8h1.0v1.0h-1.0zM341.5 416.9h1.0v1.0h-1.0zM366.8 417.9h1.0v1.0h-1.0zM335.1 405.4h1.0v1.0h-1.0zM346.6 429.5h1.0v1.0h-1.0zM371.2 428.9h1.0v1.0h-1.0zM327.9 432.6h1.0v1.0h-1.0zM361.1 426.4h1.0v1.0h-1.0zM356.9 442.9h1.0v1.0h-1.0zM357.5 428.7h1.0v1.0h-1.0zM361.0 432.5h1.0v1.0h-1.0zM344.6 430.9h1.0v1.0h-1.0zM344.3 409.3h1.0v1.0h-1.0zM359.5 414.9h1.0v1.0h-1.0zM352.6 406.6h1.0v1.0h-1.0zM350.6 417.6h1.0v1.0h-1.0zM332.1 417.8h1.0v1.0h-1.0zM352.2 439.3h1.0v1.0h-1.0zM368.2 429.1h1.0v1.0h-1.0zM361.8 436.6h1.0v1.0h-1.0zM354.3 433.5h1.0v1.0h-1.0zM360.2 421.1h1.0v1.0h-1.0zM371.0 422.9h1.0v1.0h-1.0zM340.2 420.8h1.0v1.0h-1.0zM339.0 410.3h1.0v1.0h-1.0zM357.5 441.9h1.0v1.0h-1.0zM351.0 435.7h1.0v1.0h-1.0zM356.2 448.7h1.0v1.0h-1.0zM363.7 422.8h1.0v1.0h-1.0zM355.4 434.7h1.0v1.0h-1.0zM348.0 438.8h1.0v1.0h-1.0zM362.9 418.2h1.0v1.0h-1.0zM335.2 429.0h1.0v1.0h-1.0zM357.1 438.4h1.0v1.0h-1.0zM347.9 429.6h1.0v1.0h-1.0zM346.6 442.7h1.0v1.0h-1.0zM344.5 422.3h1.0v1.0h-1.0zM366.0 434.9h1.0v1.0h-1.0zM352.6 428.9h1.0v1.0h-1.0zM370.9 423.6h1.0v1.0h-1.0zM361.7 423.9h1.0v1.0h-1.0zM355.0 404.7h1.0v1.0h-1.0zM349.8 425.7h1.0v1.0h-1.0zM350.2 439.5h1.0v1.0h-1.0zM337.5 433.9h1.0v1.0h-1.0zM355.3 435.8h1.0v1.0h-1.0zM364.1 429.7h1.0v1.0h-1.0zM358.5 433.9h1.0v1.0h-1.0zM374.9 430.7h1.0v1.0h-1.0zM354.0 442.1h1.0v1.0h-1.0zM348.9 426.4h1.0v1.0h-1.0zM331.3 421.8h1.0v1.0h-1.0zM353.2 444.9h1.0v1.0h-1.0zM349.5 412.8h1.0v1.0h-1.0zM343.0 439.2h1.0v1.0h-1.0zM345.6 416.8h1.0v1.0h-1.0zM350.3 408.1h1.0v1.0h-1.0zM352.1 415.2h1.0v1.0h-1.0zM356.5 433.9h1.0v1.0h-1.0zM347.6 442.8h1.0v1.0h-1.0zM361.6 431.8h1.0v1.0h-1.0zM360.9 439.9h1.0v1.0h-1.0zM358.8 449.3h1.0v1.0h-1.0zM362.4 432.4h1.0v1.0h-1.0zM351.6 405.3h1.0v1.0h-1.0zM329.7 446.1h1.0v1.0h-1.0zM363.2 417.3h1.0v1.0h-1.0zM348.2 434.9h1.0v1.0h-1.0zM350.4 424.1h1.0v1.0h-1.0z" fill="#777" fill-opacity="0.55"/>
<path d="M353.4 425.3h1.0v1.0h-1.0zM359.2 440.2h1.0v1.0h-1.0zM354.4 431.7h1.0v1.0h-1.0zM362.3 441.3h1.0v1.0h-1.0zM348.0 439.0h1.0v1.0h-1.0zM355.7 429.6h1.0v1.0h-1.0zM351.6 439.1h1.0v1.0h-1.0zM356.1 434.3h1.0v1.0h-1.0zM361.3 430.0h1.0v1.0h-1.0zM352.5 422.7h1.0v1.0h-1.0zM360.3 429.6h1.0v1.0h-1.0zM364.5 432.3h1.0v1.0h-1.0zM352.0 415.8h1.0v1.0h-1.0zM358.9 433.2h1.0v1.0h-1.0zM351.2 431.0h1.0v1.0h-1.0zM358.3 433.2h1.0v1.0h-1.0zM362.1 432.3h1.0v1.0h-1.0zM357.0 431.4h1.0v1.0h-1.0zM363.7 437.0h1.0v1.0h-1.0zM352.6 424.2h1.0v1.0h-1.0zM356.6 427.7h1.0v1.0h-1.0zM359.2 431.5h1.0v1.0h-1.0zM350.5 430.9h1.0v1.0h-1.0zM366.4 436.3h1.0v1.0h-1.0zM358.0 419.7h1.0v1.0h-1.0zM349.4 435.1h1.0v1.0h-1.0zM348.2 430.0h1.0v1.0h-1.0zM351.6 429.3h1.0v1.0h-1.0zM347.0 422.9h1.0v1.0h-1.0zM350.7 430.1h1.0v1.0h-1.0zM347.2 426.7h1.0v1.0h-1.0zM350.7 434.5h1.0v1.0h-1.0zM357.8 434.5h1.0v1.0h-1.0zM354.9 430.1h1.0v1.0h-1.0zM353.1 431.7h1.0v1.0h-1.0zM357.8 437.2h1.0v1.0h-1.0zM362.6 423.3h1.0v1.0h-1.0zM354.4 441.2h1.0v1.0h-1.0zM355.6 430.0h1.0v1.0h-1.0zM347.3 434.6h1.0v1.0h-1.0zM361.5 410.6h1.0v1.0h-1.0zM363.2 431.0h1.0v1.0h-1.0zM351.2 435.9h1.0v1.0h-1.0zM358.7 422.2h1.0v1.0h-1.0zM346.2 426.4h1.0v1.0h-1.0zM361.4 422.2h1.0v1.0h-1.0zM353.3 429.4h1.0v1.0h-1.0zM353.2 433.7h1.0v1.0h-1.0zM357.3 418.2h1.0v1.0h-1.0zM361.2 437.9h1.0v1.0h-1.0zM364.2 419.0h1.0v1.0h-1.0zM351.9 435.4h1.0v1.0h-1.0zM349.9 428.4h1.0v1.0h-1.0zM367.6 427.5h1.0v1.0h-1.0zM367.4 441.9h1.0v1.0h-1.0zM353.0 434.8h1.0v1.0h-1.0zM351.1 425.2h1.0v1.0h-1.0zM357.0 433.1h1.0v1.0h-1.0zM347.2 439.3h1.0v1.0h-1.0zM358.2 421.7h1.0v1.0h-1.0zM353.3 432.5h1.0v1.0h-1.0zM359.0 417.1h1.0v1.0h-1.0zM357.8 441.7h1.0v1.0h-1.0zM360.4 425.3h1.0v1.0h-1.0zM351.7 424.4h1.0v1.0h-1.0zM361.3 430.2h1.0v1.0h-1.0zM354.9 425.1h1.0v1.0h-1.0zM354.2 433.4h1.0v1.0h-1.0zM351.9 419.1h1.0v1.0h-1.0zM351.0 436.9h1.0v1.0h-1.0zM353.9 435.2h1.0v1.0h-1.0zM348.4 441.0h1.0v1.0h-1.0zM355.8 424.9h1.0v1.0h-1.0zM353.1 419.6h1.0v1.0h-1.0zM356.0 430.3h1.0v1.0h-1.0zM359.6 424.7h1.0v1.0h-1.0zM361.2 415.9h1.0v1.0h-1.0zM362.1 419.8h1.0v1.0h-1.0zM354.3 415.3h1.0v1.0h-1.0zM368.6 423.6h1.0v1.0h-1.0zM359.8 425.2h1.0v1.0h-1.0zM358.3 428.3h1.0v1.0h-1.0zM354.9 432.6h1.0v1.0h-1.0zM358.3 422.1h1.0v1.0h-1.0zM355.1 428.2h1.0v1.0h-1.0zM360.5 427.5h1.0v1.0h-1.0zM358.2 438.8h1.0v1.0h-1.0zM349.1 431.3h1.0v1.0h-1.0zM355.3 425.0h1.0v1.0h-1.0zM357.5 423.2h1.0v1.0h-1.0zM355.3 417.1h1.0v1.0h-1.0zM357.7 421.9h1.0v1.0h-1.0zM351.8 438.0h1.0v1.0h-1.0zM358.1 426.0h1.0v1.0h-1.0zM354.0 421.3h1.0v1.0h-1.0zM364.9 425.7h1.0v1.0h-1.0zM361.5 426.1h1.0v1.0h-1.0zM351.6 431.5h1.0v1.0h-1.0zM357.4 436.7h1.0v1.0h-1.0zM357.9 440.9h1.0v1.0h-1.0zM347.1 424.5h1.0v1.0h-1.0zM347.8 428.1h1.0v1.0h-1.0zM349.3 428.3h1.0v1.0h-1.0zM353.2 435.8h1.0v1.0h-1.0zM352.5 438.3h1.0v1.0h-1.0zM348.9 433.4h1.0v1.0h-1.0zM352.7 440.0h1.0v1.0h-1.0zM350.3 425.7h1.0v1.0h-1.0zM351.7 431.5h1.0v1.0h-1.0zM358.4 429.6h1.0v1.0h-1.0zM358.4 421.4h1.0v1.0h-1.0zM353.1 435.6h1.0v1.0h-1.0zM361.1 427.6h1.0v1.0h-1.0zM350.5 426.1h1.0v1.0h-1.0zM352.0 421.3h1.0v1.0h-1.0zM353.2 429.2h1.0v1.0h-1.0zM364.6 431.9h1.0v1.0h-1.0zM363.3 430.1h1.0v1.0h-1.0zM355.1 432.3h1.0v1.0h-1.0zM358.9 436.0h1.0v1.0h-1.0zM350.3 420.1h1.0v1.0h-1.0zM363.4 412.6h1.0v1.0h-1.0zM354.3 429.1h1.0v1.0h-1.0zM353.2 423.5h1.0v1.0h-1.0zM353.1 426.9h1.0v1.0h-1.0zM352.4 433.6h1.0v1.0h-1.0zM349.7 412.5h1.0v1.0h-1.0zM351.2 437.0h1.0v1.0h-1.0zM349.3 419.7h1.0v1.0h-1.0zM353.0 434.9h1.0v1.0h-1.0zM353.1 424.3h1.0v1.0h-1.0zM347.5 430.2h1.0v1.0h-1.0zM353.6 434.5h1.0v1.0h-1.0zM357.3 427.8h1.0v1.0h-1.0zM358.0 435.2h1.0v1.0h-1.0zM357.7 417.9h1.0v1.0h-1.0zM363.3 419.0h1.0v1.0h-1.0zM359.8 436.2h1.0v1.0h-1.0zM356.7 420.2h1.0v1.0h-1.0zM351.1 428.4h1.0v1.0h-1.0zM354.4 428.7h1.0v1.0h-1.0zM353.4 410.3h1.0v1.0h-1.0zM349.5 432.4h1.0v1.0h-1.0zM351.0 426.0h1.0v1.0h-1.0zM359.7 427.6h1.0v1.0h-1.0zM346.8 431.0h1.0v1.0h-1.0zM355.9 423.2h1.0v1.0h-1.0zM362.6 438.5h1.0v1.0h-1.0zM363.9 440.6h1.0v1.0h-1.0zM368.3 432.0h1.0v1.0h-1.0zM358.8 421.3h1.0v1.0h-1.0zM364.0 421.2h1.0v1.0h-1.0zM353.8 424.5h1.0v1.0h-1.0zM358.5 432.1h1.0v1.0h-1.0zM363.4 436.8h1.0v1.0h-1.0zM351.7 411.6h1.0v1.0h-1.0zM351.8 435.1h1.0v1.0h-1.0zM362.8 419.1h1.0v1.0h-1.0zM356.8 429.9h1.0v1.0h-1.0zM361.9 427.7h1.0v1.0h-1.0zM357.2 424.8h1.0v1.0h-1.0zM346.3 426.5h1.0v1.0h-1.0zM354.3 417.9h1.0v1.0h-1.0zM367.3 439.4h1.0v1.0h-1.0zM366.5 435.0h1.0v1.0h-1.0zM348.3 425.6h1.0v1.0h-1.0zM356.3 424.0h1.0v1.0h-1.0zM361.6 426.5h1.0v1.0h-1.0zM358.8 425.5h1.0v1.0h-1.0zM353.1 433.9h1.0v1.0h-1.0zM359.2 430.9h1.0v1.0h-1.0zM360.1 437.9h1.0v1.0h-1.0zM353.2 430.4h1.0v1.0h-1.0zM363.4 424.3h1.0v1.0h-1.0zM351.2 429.3h1.0v1.0h-1.0zM349.7 434.4h1.0v1.0h-1.0zM361.4 426.2h1.0v1.0h-1.0zM357.4 427.6h1.0v1.0h-1.0zM355.2 426.1h1.0v1.0h-1.0zM355.6 433.3h1.0v1.0h-1.0zM365.3 418.5h1.0v1.0h-1.0zM357.9 420.9h1.0v1.0h-1.0zM361.6 436.3h1.0v1.0h-1.0zM363.7 422.4h1.0v1.0h-1.0zM363.6 426.6h1.0v1.0h-1.0zM365.4 431.8h1.0v1.0h-1.0zM355.6 429.5h1.0v1.0h-1.0zM354.9 430.5h1.0v1.0h-1.0zM364.4 434.6h1.0v1.0h-1.0zM356.5 422.9h1.0v1.0h-1.0zM358.7 435.3h1.0v1.0h-1.0zM357.0 440.1h1.0v1.0h-1.0zM360.3 430.6h1.0v1.0h-1.0zM351.4 423.9h1.0v1.0h-1.0zM361.1 433.9h1.0v1.0h-1.0zM356.6 441.4h1.0v1.0h-1.0zM353.2 422.6h1.0v1.0h-1.0zM363.1 432.8h1.0v1.0h-1.0zM359.5 433.7h1.0v1.0h-1.0zM359.3 427.7h1.0v1.0h-1.0zM359.4 428.8h1.0v1.0h-1.0zM357.5 430.4h1.0v1.0h-1.0zM362.8 415.6h1.0v1.0h-1.0zM355.2 437.3h1.0v1.0h-1.0zM351.4 439.5h1.0v1.0h-1.0zM353.8 438.5h1.0v1.0h-1.0zM353.2 424.8h1.0v1.0h-1.0zM361.8 438.7h1.0v1.0h-1.0zM355.7 429.4h1.0v1.0h-1.0zM348.5 423.3h1.0v1.0h-1.0zM360.0 429.2h1.0v1.0h-1.0zM353.3 432.8h1.0v1.0h-1.0zM362.4 423.7h1.0v1.0h-1.0zM362.2 421.7h1.0v1.0h-1.0zM351.0 440.6h1.0v1.0h-1.0zM355.1 439.4h1.0v1.0h-1.0zM348.8 420.1h1.0v1.0h-1.0zM347.9 427.0h1.0v1.0h-1.0zM362.1 435.5h1.0v1.0h-1.0zM363.1 436.2h1.0v1.0h-1.0zM357.5 422.4h1.0v1.0h-1.0zM348.3 434.5h1.0v1.0h-1.0zM361.0 419.8h1.0v1.0h-1.0zM354.8 432.2h1.0v1.0h-1.0zM354.1 424.9h1.0v1.0h-1.0zM353.5 418.8h1.0v1.0h-1.0zM357.3 427.8h1.0v1.0h-1.0zM350.6 430.8h1.0v1.0h-1.0zM353.5 435.2h1.0v1.0h-1.0zM359.3 422.3h1.0v1.0h-1.0zM353.1 428.8h1.0v1.0h-1.0zM348.0 426.1h1.0v1.0h-1.0zM359.9 435.1h1.0v1.0h-1.0zM355.2 440.1h1.0v1.0h-1.0zM371.0 441.0h1.0v1.0h-1.0zM365.8 432.9h1.0v1.0h-1.0zM361.2 424.9h1.0v1.0h-1.0zM350.1 437.9h1.0v1.0h-1.0zM354.5 435.7h1.0v1.0h-1.0zM363.4 424.1h1.0v1.0h-1.0zM349.3 430.1h1.0v1.0h-1.0zM358.8 417.4h1.0v1.0h-1.0zM355.0 436.8h1.0v1.0h-1.0zM354.3 431.4h1.0v1.0h-1.0zM353.4 431.9h1.0v1.0h-1.0zM353.3 423.8h1.0v1.0h-1.0zM354.1 435.0h1.0v1.0h-1.0zM356.0 435.8h1.0v1.0h-1.0zM361.0 424.2h1.0v1.0h-1.0zM351.0 428.0h1.0v1.0h-1.0z" fill="#444" fill-opacity="0.5"/>
<path d="M388.2 441.7h1.0v1.0h-1.0zM324.8 448.1h1.0v1.0h-1.0zM311.1 472.6h1.0v1.0h-1.0zM371.0 411.7h1.0v1.0h-1.0zM345.8 465.9h1.0v1.0h-1.0zM373.7 456.3h1.0v1.0h-1.0zM358.0 410.4h1.0v1.0h-1.0zM363.8 440.1h1.0v1.0h-1.0zM323.2 399.4h1.0v1.0h-1.0zM353.6 466.6h1.0v1.0h-1.0zM337.6 444.8h1.0v1.0h-1.0zM319.4 463.5h1.0v1.0h-1.0zM382.9 418.5h1.0v1.0h-1.0zM369.2 452.7h1.0v1.0h-1.0zM345.9 463.7h1.0v1.0h-1.0zM314.8 417.5h1.0v1.0h-1.0zM320.5 459.5h1.0v1.0h-1.0zM370.8 412.9h1.0v1.0h-1.0zM364.4 434.9h1.0v1.0h-1.0zM357.0 427.5h1.0v1.0h-1.0zM356.9 438.7h1.0v1.0h-1.0zM336.9 423.6h1.0v1.0h-1.0zM324.2 444.2h1.0v1.0h-1.0zM377.5 412.8h1.0v1.0h-1.0zM358.7 425.4h1.0v1.0h-1.0zM325.7 399.9h1.0v1.0h-1.0zM314.0 453.0h1.0v1.0h-1.0zM321.8 417.0h1.0v1.0h-1.0zM352.3 410.4h1.0v1.0h-1.0zM358.0 432.0h1.0v1.0h-1.0zM329.1 447.9h1.0v1.0h-1.0zM362.8 469.2h1.0v1.0h-1.0zM338.2 455.5h1.0v1.0h-1.0zM361.5 439.6h1.0v1.0h-1.0zM314.0 419.0h1.0v1.0h-1.0zM345.8 398.6h1.0v1.0h-1.0zM319.0 459.3h1.0v1.0h-1.0zM320.0 438.7h1.0v1.0h-1.0zM330.3 436.1h1.0v1.0h-1.0zM342.7 415.8h1.0v1.0h-1.0zM348.0 416.7h1.0v1.0h-1.0zM387.5 430.9h1.0v1.0h-1.0zM321.3 452.9h1.0v1.0h-1.0zM324.3 453.0h1.0v1.0h-1.0zM373.8 467.0h1.0v1.0h-1.0zM353.0 453.3h1.0v1.0h-1.0zM375.1 458.6h1.0v1.0h-1.0zM360.0 464.7h1.0v1.0h-1.0zM371.3 424.8h1.0v1.0h-1.0zM340.9 460.5h1.0v1.0h-1.0z" fill="#bbb" fill-opacity="0.8"/>
<ellipse cx="352.5" cy="452" rx="6.5" ry="10" fill="#4a4a4a" fill-opacity="0.6" transform="rotate(0 352.5 452)" filter="url(#b22)"/>
<path d="M356.4 448.6h1.0v1.0h-1.0zM359.6 445.4h1.0v1.0h-1.0zM351.1 445.1h1.0v1.0h-1.0zM351.9 458.5h1.0v1.0h-1.0zM350.5 443.8h1.0v1.0h-1.0zM352.9 456.4h1.0v1.0h-1.0zM353.6 447.2h1.0v1.0h-1.0zM355.1 460.7h1.0v1.0h-1.0zM356.8 454.7h1.0v1.0h-1.0zM355.1 467.2h1.0v1.0h-1.0zM347.6 448.9h1.0v1.0h-1.0zM351.7 452.3h1.0v1.0h-1.0zM358.5 436.0h1.0v1.0h-1.0zM358.3 452.5h1.0v1.0h-1.0zM354.5 436.9h1.0v1.0h-1.0zM361.9 447.4h1.0v1.0h-1.0zM354.4 449.0h1.0v1.0h-1.0zM346.8 439.1h1.0v1.0h-1.0zM352.2 460.5h1.0v1.0h-1.0zM356.4 457.7h1.0v1.0h-1.0zM359.5 451.3h1.0v1.0h-1.0zM348.7 453.7h1.0v1.0h-1.0zM353.6 460.2h1.0v1.0h-1.0zM351.3 461.0h1.0v1.0h-1.0zM348.4 448.5h1.0v1.0h-1.0zM348.6 447.4h1.0v1.0h-1.0zM347.3 452.1h1.0v1.0h-1.0zM357.8 437.8h1.0v1.0h-1.0zM346.0 445.1h1.0v1.0h-1.0zM351.6 456.5h1.0v1.0h-1.0zM351.5 456.0h1.0v1.0h-1.0zM350.5 447.6h1.0v1.0h-1.0zM357.8 462.1h1.0v1.0h-1.0zM350.2 450.0h1.0v1.0h-1.0zM360.0 451.4h1.0v1.0h-1.0zM355.0 450.4h1.0v1.0h-1.0zM349.3 460.2h1.0v1.0h-1.0zM350.8 448.5h1.0v1.0h-1.0zM351.4 465.6h1.0v1.0h-1.0zM357.5 450.1h1.0v1.0h-1.0zM360.9 445.3h1.0v1.0h-1.0zM354.9 449.0h1.0v1.0h-1.0zM347.5 459.8h1.0v1.0h-1.0zM355.7 438.0h1.0v1.0h-1.0zM357.4 460.3h1.0v1.0h-1.0zM356.3 453.1h1.0v1.0h-1.0zM357.6 455.1h1.0v1.0h-1.0zM357.1 460.4h1.0v1.0h-1.0zM345.6 460.0h1.0v1.0h-1.0zM346.4 473.8h1.0v1.0h-1.0zM353.9 454.2h1.0v1.0h-1.0zM347.2 452.0h1.0v1.0h-1.0zM353.1 450.5h1.0v1.0h-1.0zM353.9 457.4h1.0v1.0h-1.0zM344.9 458.0h1.0v1.0h-1.0zM350.8 447.0h1.0v1.0h-1.0zM346.6 460.9h1.0v1.0h-1.0zM350.5 450.7h1.0v1.0h-1.0zM351.9 453.4h1.0v1.0h-1.0zM349.4 453.6h1.0v1.0h-1.0zM351.2 458.9h1.0v1.0h-1.0zM353.7 449.5h1.0v1.0h-1.0zM354.5 454.3h1.0v1.0h-1.0zM348.2 455.7h1.0v1.0h-1.0zM359.1 446.6h1.0v1.0h-1.0zM352.2 456.2h1.0v1.0h-1.0zM344.4 447.5h1.0v1.0h-1.0zM353.7 465.4h1.0v1.0h-1.0zM345.1 467.2h1.0v1.0h-1.0zM355.2 450.6h1.0v1.0h-1.0zM354.6 442.0h1.0v1.0h-1.0zM348.4 458.3h1.0v1.0h-1.0zM356.8 446.9h1.0v1.0h-1.0zM347.7 448.3h1.0v1.0h-1.0zM360.0 454.1h1.0v1.0h-1.0zM360.1 462.5h1.0v1.0h-1.0zM358.3 452.5h1.0v1.0h-1.0zM352.3 464.1h1.0v1.0h-1.0zM347.2 442.6h1.0v1.0h-1.0zM354.9 455.9h1.0v1.0h-1.0zM342.2 453.8h1.0v1.0h-1.0zM350.1 455.3h1.0v1.0h-1.0zM348.6 450.9h1.0v1.0h-1.0zM359.7 458.9h1.0v1.0h-1.0zM344.2 456.3h1.0v1.0h-1.0zM355.7 456.4h1.0v1.0h-1.0zM358.9 462.4h1.0v1.0h-1.0zM346.7 455.6h1.0v1.0h-1.0zM357.1 454.7h1.0v1.0h-1.0zM347.1 460.1h1.0v1.0h-1.0zM349.9 460.4h1.0v1.0h-1.0zM348.4 453.3h1.0v1.0h-1.0zM353.7 452.8h1.0v1.0h-1.0zM350.7 449.2h1.0v1.0h-1.0zM353.9 458.6h1.0v1.0h-1.0zM356.5 453.6h1.0v1.0h-1.0zM351.7 459.0h1.0v1.0h-1.0zM355.5 443.3h1.0v1.0h-1.0zM356.4 452.0h1.0v1.0h-1.0zM359.4 457.8h1.0v1.0h-1.0zM351.4 437.4h1.0v1.0h-1.0zM346.8 462.6h1.0v1.0h-1.0zM358.3 459.5h1.0v1.0h-1.0zM350.4 442.3h1.0v1.0h-1.0zM348.7 446.1h1.0v1.0h-1.0zM347.9 455.9h1.0v1.0h-1.0zM345.7 442.3h1.0v1.0h-1.0zM349.5 460.8h1.0v1.0h-1.0zM350.4 455.1h1.0v1.0h-1.0zM352.4 451.1h1.0v1.0h-1.0zM353.5 450.2h1.0v1.0h-1.0zM356.1 463.6h1.0v1.0h-1.0zM349.0 454.7h1.0v1.0h-1.0zM342.1 453.4h1.0v1.0h-1.0zM349.9 446.0h1.0v1.0h-1.0zM355.7 450.1h1.0v1.0h-1.0zM358.6 459.3h1.0v1.0h-1.0zM355.1 438.5h1.0v1.0h-1.0zM347.1 459.3h1.0v1.0h-1.0zM353.4 458.1h1.0v1.0h-1.0zM360.7 446.5h1.0v1.0h-1.0zM357.9 448.6h1.0v1.0h-1.0zM351.4 444.6h1.0v1.0h-1.0zM344.3 463.0h1.0v1.0h-1.0zM355.2 458.7h1.0v1.0h-1.0zM361.4 442.9h1.0v1.0h-1.0zM356.4 436.9h1.0v1.0h-1.0zM351.9 464.6h1.0v1.0h-1.0zM356.4 457.4h1.0v1.0h-1.0zM357.3 452.6h1.0v1.0h-1.0zM354.1 459.7h1.0v1.0h-1.0zM349.3 441.5h1.0v1.0h-1.0zM360.2 439.4h1.0v1.0h-1.0zM351.1 458.8h1.0v1.0h-1.0zM349.5 455.0h1.0v1.0h-1.0zM356.9 440.2h1.0v1.0h-1.0zM349.1 442.1h1.0v1.0h-1.0zM351.5 458.2h1.0v1.0h-1.0zM352.6 448.5h1.0v1.0h-1.0zM355.0 451.8h1.0v1.0h-1.0zM354.5 465.1h1.0v1.0h-1.0zM354.7 449.5h1.0v1.0h-1.0zM357.5 448.4h1.0v1.0h-1.0zM356.5 459.1h1.0v1.0h-1.0zM353.3 463.5h1.0v1.0h-1.0zM346.6 441.1h1.0v1.0h-1.0zM360.4 444.3h1.0v1.0h-1.0zM349.2 440.5h1.0v1.0h-1.0zM358.3 440.8h1.0v1.0h-1.0zM341.8 452.5h1.0v1.0h-1.0zM355.4 450.7h1.0v1.0h-1.0zM354.0 462.7h1.0v1.0h-1.0zM348.0 449.6h1.0v1.0h-1.0zM349.4 452.1h1.0v1.0h-1.0zM347.3 457.3h1.0v1.0h-1.0zM352.6 439.5h1.0v1.0h-1.0zM355.0 455.3h1.0v1.0h-1.0zM344.8 453.5h1.0v1.0h-1.0zM351.3 464.9h1.0v1.0h-1.0zM353.0 458.7h1.0v1.0h-1.0zM354.3 447.7h1.0v1.0h-1.0zM355.6 443.5h1.0v1.0h-1.0zM357.5 453.4h1.0v1.0h-1.0zM350.3 450.9h1.0v1.0h-1.0zM348.9 458.6h1.0v1.0h-1.0zM342.5 455.0h1.0v1.0h-1.0zM345.2 463.1h1.0v1.0h-1.0zM350.5 464.8h1.0v1.0h-1.0zM355.8 460.8h1.0v1.0h-1.0zM352.3 437.0h1.0v1.0h-1.0zM359.5 456.2h1.0v1.0h-1.0zM359.1 469.2h1.0v1.0h-1.0zM349.5 466.8h1.0v1.0h-1.0zM359.3 472.2h1.0v1.0h-1.0zM349.4 450.7h1.0v1.0h-1.0zM359.3 444.8h1.0v1.0h-1.0zM351.7 443.7h1.0v1.0h-1.0zM353.2 463.3h1.0v1.0h-1.0zM356.8 441.4h1.0v1.0h-1.0zM352.1 449.2h1.0v1.0h-1.0zM348.9 453.5h1.0v1.0h-1.0zM346.0 449.5h1.0v1.0h-1.0zM352.2 451.7h1.0v1.0h-1.0zM351.2 458.1h1.0v1.0h-1.0zM349.3 455.1h1.0v1.0h-1.0zM353.6 457.3h1.0v1.0h-1.0zM343.2 452.9h1.0v1.0h-1.0zM354.9 471.9h1.0v1.0h-1.0zM347.6 437.4h1.0v1.0h-1.0zM358.1 443.2h1.0v1.0h-1.0zM355.0 449.3h1.0v1.0h-1.0zM349.6 446.4h1.0v1.0h-1.0zM354.3 457.6h1.0v1.0h-1.0zM351.0 448.6h1.0v1.0h-1.0zM359.4 461.4h1.0v1.0h-1.0zM352.9 450.2h1.0v1.0h-1.0zM352.6 452.6h1.0v1.0h-1.0zM355.9 460.6h1.0v1.0h-1.0zM345.7 456.7h1.0v1.0h-1.0zM346.3 445.1h1.0v1.0h-1.0zM353.0 448.3h1.0v1.0h-1.0zM360.7 452.9h1.0v1.0h-1.0zM353.2 444.3h1.0v1.0h-1.0zM358.2 447.1h1.0v1.0h-1.0zM351.2 451.8h1.0v1.0h-1.0zM348.1 452.7h1.0v1.0h-1.0zM348.7 454.9h1.0v1.0h-1.0zM355.0 445.8h1.0v1.0h-1.0zM355.3 455.5h1.0v1.0h-1.0zM355.3 443.7h1.0v1.0h-1.0zM347.1 465.2h1.0v1.0h-1.0zM357.2 451.2h1.0v1.0h-1.0zM355.0 457.4h1.0v1.0h-1.0zM359.5 462.5h1.0v1.0h-1.0zM351.6 445.2h1.0v1.0h-1.0zM347.3 439.5h1.0v1.0h-1.0zM355.3 451.8h1.0v1.0h-1.0zM346.2 454.9h1.0v1.0h-1.0zM347.3 455.4h1.0v1.0h-1.0zM348.0 454.2h1.0v1.0h-1.0zM348.5 448.4h1.0v1.0h-1.0zM351.2 460.0h1.0v1.0h-1.0zM353.0 447.4h1.0v1.0h-1.0zM349.3 453.0h1.0v1.0h-1.0zM353.0 451.5h1.0v1.0h-1.0zM345.8 468.8h1.0v1.0h-1.0zM351.7 446.3h1.0v1.0h-1.0zM352.0 442.6h1.0v1.0h-1.0zM354.3 454.1h1.0v1.0h-1.0zM356.0 453.8h1.0v1.0h-1.0zM342.4 463.4h1.0v1.0h-1.0zM356.9 445.5h1.0v1.0h-1.0zM349.4 442.3h1.0v1.0h-1.0zM354.2 444.9h1.0v1.0h-1.0zM350.6 447.5h1.0v1.0h-1.0zM353.0 458.2h1.0v1.0h-1.0zM349.4 455.8h1.0v1.0h-1.0zM351.4 450.7h1.0v1.0h-1.0zM350.0 462.0h1.0v1.0h-1.0zM354.7 438.5h1.0v1.0h-1.0zM346.8 456.7h1.0v1.0h-1.0zM348.5 439.7h1.0v1.0h-1.0zM356.2 457.1h1.0v1.0h-1.0zM349.9 466.7h1.0v1.0h-1.0zM352.7 447.3h1.0v1.0h-1.0zM355.5 450.9h1.0v1.0h-1.0zM356.4 459.6h1.0v1.0h-1.0zM342.2 459.5h1.0v1.0h-1.0zM361.9 457.0h1.0v1.0h-1.0zM351.6 445.2h1.0v1.0h-1.0zM356.6 462.2h1.0v1.0h-1.0zM356.2 453.3h1.0v1.0h-1.0zM356.1 455.7h1.0v1.0h-1.0zM361.2 451.3h1.0v1.0h-1.0zM346.3 448.4h1.0v1.0h-1.0zM347.2 441.7h1.0v1.0h-1.0zM356.4 449.5h1.0v1.0h-1.0zM355.7 450.1h1.0v1.0h-1.0zM357.4 459.6h1.0v1.0h-1.0zM361.3 456.8h1.0v1.0h-1.0zM360.5 450.1h1.0v1.0h-1.0zM352.2 461.8h1.0v1.0h-1.0zM357.1 454.9h1.0v1.0h-1.0zM353.8 447.3h1.0v1.0h-1.0zM354.8 458.3h1.0v1.0h-1.0zM350.1 457.8h1.0v1.0h-1.0zM351.7 454.7h1.0v1.0h-1.0zM349.2 444.8h1.0v1.0h-1.0zM349.5 447.4h1.0v1.0h-1.0zM358.9 444.1h1.0v1.0h-1.0zM348.3 449.3h1.0v1.0h-1.0zM355.4 445.2h1.0v1.0h-1.0zM347.4 457.1h1.0v1.0h-1.0zM357.4 455.3h1.0v1.0h-1.0zM361.2 461.0h1.0v1.0h-1.0zM353.1 448.1h1.0v1.0h-1.0zM354.1 463.5h1.0v1.0h-1.0zM348.1 449.8h1.0v1.0h-1.0zM349.8 455.1h1.0v1.0h-1.0zM351.3 453.4h1.0v1.0h-1.0zM355.5 454.4h1.0v1.0h-1.0zM355.8 453.0h1.0v1.0h-1.0zM353.8 459.1h1.0v1.0h-1.0zM340.9 438.5h1.0v1.0h-1.0zM350.2 437.8h1.0v1.0h-1.0zM345.4 447.1h1.0v1.0h-1.0zM352.1 451.2h1.0v1.0h-1.0zM350.9 455.2h1.0v1.0h-1.0zM350.8 445.0h1.0v1.0h-1.0zM350.1 453.9h1.0v1.0h-1.0zM356.1 450.8h1.0v1.0h-1.0zM355.3 457.9h1.0v1.0h-1.0zM351.3 456.7h1.0v1.0h-1.0zM350.9 444.0h1.0v1.0h-1.0zM359.0 463.1h1.0v1.0h-1.0zM358.1 451.2h1.0v1.0h-1.0zM352.5 451.2h1.0v1.0h-1.0zM354.9 465.5h1.0v1.0h-1.0zM351.7 448.2h1.0v1.0h-1.0zM352.3 455.2h1.0v1.0h-1.0zM354.2 440.9h1.0v1.0h-1.0zM349.1 460.4h1.0v1.0h-1.0zM349.0 452.0h1.0v1.0h-1.0zM352.0 451.8h1.0v1.0h-1.0zM355.0 459.4h1.0v1.0h-1.0zM346.8 445.3h1.0v1.0h-1.0zM353.1 444.9h1.0v1.0h-1.0zM352.6 444.4h1.0v1.0h-1.0zM353.5 442.6h1.0v1.0h-1.0zM344.0 444.5h1.0v1.0h-1.0zM354.8 460.4h1.0v1.0h-1.0zM351.6 454.3h1.0v1.0h-1.0zM353.0 446.8h1.0v1.0h-1.0zM353.7 455.7h1.0v1.0h-1.0zM353.8 439.7h1.0v1.0h-1.0zM350.0 460.2h1.0v1.0h-1.0zM349.2 459.3h1.0v1.0h-1.0zM356.1 453.6h1.0v1.0h-1.0zM356.3 450.2h1.0v1.0h-1.0zM350.6 441.4h1.0v1.0h-1.0zM346.4 454.4h1.0v1.0h-1.0zM350.5 442.1h1.0v1.0h-1.0zM353.4 445.4h1.0v1.0h-1.0zM353.1 460.8h1.0v1.0h-1.0zM353.7 442.9h1.0v1.0h-1.0zM357.5 452.3h1.0v1.0h-1.0zM354.6 449.0h1.0v1.0h-1.0zM349.2 449.1h1.0v1.0h-1.0zM345.1 448.5h1.0v1.0h-1.0zM351.2 456.3h1.0v1.0h-1.0zM340.3 459.3h1.0v1.0h-1.0zM356.3 453.1h1.0v1.0h-1.0zM353.5 460.9h1.0v1.0h-1.0zM353.8 442.0h1.0v1.0h-1.0zM349.8 449.0h1.0v1.0h-1.0zM345.2 449.3h1.0v1.0h-1.0zM352.1 453.4h1.0v1.0h-1.0zM357.7 450.2h1.0v1.0h-1.0zM358.5 449.7h1.0v1.0h-1.0zM351.0 456.2h1.0v1.0h-1.0zM359.5 446.5h1.0v1.0h-1.0zM351.7 451.3h1.0v1.0h-1.0zM351.0 459.9h1.0v1.0h-1.0zM356.8 456.9h1.0v1.0h-1.0zM349.5 453.0h1.0v1.0h-1.0zM341.6 448.9h1.0v1.0h-1.0zM358.4 441.4h1.0v1.0h-1.0zM351.4 457.5h1.0v1.0h-1.0zM342.1 454.6h1.0v1.0h-1.0zM352.9 455.1h1.0v1.0h-1.0zM352.9 451.0h1.0v1.0h-1.0zM352.0 451.5h1.0v1.0h-1.0zM350.0 464.6h1.0v1.0h-1.0zM351.7 448.9h1.0v1.0h-1.0zM347.5 454.2h1.0v1.0h-1.0zM353.7 455.6h1.0v1.0h-1.0zM350.8 459.5h1.0v1.0h-1.0zM356.3 449.9h1.0v1.0h-1.0zM353.2 451.0h1.0v1.0h-1.0zM350.0 452.9h1.0v1.0h-1.0zM356.0 454.4h1.0v1.0h-1.0zM350.4 441.7h1.0v1.0h-1.0zM350.8 464.5h1.0v1.0h-1.0zM349.9 436.7h1.0v1.0h-1.0zM351.8 448.8h1.0v1.0h-1.0zM357.2 443.9h1.0v1.0h-1.0zM358.8 463.4h1.0v1.0h-1.0zM345.2 452.5h1.0v1.0h-1.0zM355.3 449.5h1.0v1.0h-1.0zM354.0 449.9h1.0v1.0h-1.0zM343.9 456.1h1.0v1.0h-1.0zM348.4 445.6h1.0v1.0h-1.0zM353.6 452.0h1.0v1.0h-1.0zM350.7 455.4h1.0v1.0h-1.0zM358.3 449.5h1.0v1.0h-1.0zM351.8 468.1h1.0v1.0h-1.0zM356.9 447.3h1.0v1.0h-1.0zM355.5 450.3h1.0v1.0h-1.0zM353.4 464.4h1.0v1.0h-1.0zM356.8 437.9h1.0v1.0h-1.0z" fill="#222" fill-opacity="0.5"/>
<ellipse cx="360.8" cy="424" rx="6" ry="8.5" fill="#2a2a2a" fill-opacity="0.85" transform="rotate(0 360.8 424)" filter="url(#b20)"/>
<path d="M360.4 429.4h1.0v1.0h-1.0zM364.0 428.3h1.0v1.0h-1.0zM362.8 420.5h1.0v1.0h-1.0zM362.9 421.1h1.0v1.0h-1.0zM355.6 425.5h1.0v1.0h-1.0zM364.0 411.9h1.0v1.0h-1.0zM358.6 428.3h1.0v1.0h-1.0zM361.2 414.2h1.0v1.0h-1.0zM361.5 419.8h1.0v1.0h-1.0zM364.8 416.9h1.0v1.0h-1.0zM358.1 421.3h1.0v1.0h-1.0zM360.6 421.9h1.0v1.0h-1.0zM360.6 418.3h1.0v1.0h-1.0zM361.1 416.7h1.0v1.0h-1.0zM358.8 427.7h1.0v1.0h-1.0zM358.9 423.9h1.0v1.0h-1.0zM360.5 431.8h1.0v1.0h-1.0zM363.5 435.6h1.0v1.0h-1.0zM357.7 423.1h1.0v1.0h-1.0zM362.1 428.0h1.0v1.0h-1.0zM359.3 425.8h1.0v1.0h-1.0zM357.5 437.2h1.0v1.0h-1.0zM368.1 419.3h1.0v1.0h-1.0zM366.1 421.3h1.0v1.0h-1.0zM365.8 422.3h1.0v1.0h-1.0zM359.0 425.8h1.0v1.0h-1.0zM355.4 412.4h1.0v1.0h-1.0zM369.8 418.4h1.0v1.0h-1.0zM355.7 427.0h1.0v1.0h-1.0zM366.6 424.0h1.0v1.0h-1.0zM365.3 415.2h1.0v1.0h-1.0zM353.9 420.2h1.0v1.0h-1.0zM356.7 432.2h1.0v1.0h-1.0zM358.5 425.5h1.0v1.0h-1.0zM363.8 415.4h1.0v1.0h-1.0zM358.1 419.3h1.0v1.0h-1.0zM360.3 434.5h1.0v1.0h-1.0zM358.1 416.9h1.0v1.0h-1.0zM361.2 422.8h1.0v1.0h-1.0zM362.8 413.6h1.0v1.0h-1.0zM361.5 425.3h1.0v1.0h-1.0zM362.7 420.8h1.0v1.0h-1.0zM352.7 421.3h1.0v1.0h-1.0zM362.3 430.0h1.0v1.0h-1.0zM367.6 428.1h1.0v1.0h-1.0zM363.3 419.5h1.0v1.0h-1.0zM361.4 421.0h1.0v1.0h-1.0zM363.1 414.6h1.0v1.0h-1.0zM360.7 422.6h1.0v1.0h-1.0zM359.2 431.7h1.0v1.0h-1.0zM362.9 418.4h1.0v1.0h-1.0zM359.3 418.4h1.0v1.0h-1.0zM358.2 421.8h1.0v1.0h-1.0zM363.0 434.6h1.0v1.0h-1.0zM357.8 422.4h1.0v1.0h-1.0zM359.9 428.8h1.0v1.0h-1.0zM358.7 423.6h1.0v1.0h-1.0zM357.6 425.6h1.0v1.0h-1.0zM358.2 427.4h1.0v1.0h-1.0zM368.0 427.2h1.0v1.0h-1.0zM358.8 432.6h1.0v1.0h-1.0zM364.1 422.2h1.0v1.0h-1.0zM357.7 430.7h1.0v1.0h-1.0zM365.0 421.6h1.0v1.0h-1.0zM359.8 421.9h1.0v1.0h-1.0zM359.3 429.6h1.0v1.0h-1.0zM358.8 419.6h1.0v1.0h-1.0zM360.3 413.5h1.0v1.0h-1.0zM360.9 430.7h1.0v1.0h-1.0zM363.4 426.9h1.0v1.0h-1.0zM354.8 419.1h1.0v1.0h-1.0zM363.1 433.2h1.0v1.0h-1.0zM357.2 415.3h1.0v1.0h-1.0zM364.8 426.7h1.0v1.0h-1.0zM364.6 431.5h1.0v1.0h-1.0zM359.7 420.4h1.0v1.0h-1.0zM368.5 423.3h1.0v1.0h-1.0zM358.9 426.4h1.0v1.0h-1.0zM361.3 419.1h1.0v1.0h-1.0zM362.7 420.6h1.0v1.0h-1.0zM362.8 419.9h1.0v1.0h-1.0zM358.1 421.5h1.0v1.0h-1.0zM359.9 422.7h1.0v1.0h-1.0zM358.6 427.9h1.0v1.0h-1.0zM355.4 418.6h1.0v1.0h-1.0zM351.9 424.6h1.0v1.0h-1.0zM364.1 431.4h1.0v1.0h-1.0zM358.8 426.3h1.0v1.0h-1.0zM359.0 428.6h1.0v1.0h-1.0zM356.6 424.5h1.0v1.0h-1.0zM362.5 414.6h1.0v1.0h-1.0zM355.8 429.5h1.0v1.0h-1.0zM360.0 423.2h1.0v1.0h-1.0zM364.3 413.9h1.0v1.0h-1.0zM358.1 419.0h1.0v1.0h-1.0zM369.3 415.7h1.0v1.0h-1.0zM359.7 423.1h1.0v1.0h-1.0zM358.4 423.6h1.0v1.0h-1.0zM356.0 425.5h1.0v1.0h-1.0zM361.0 426.0h1.0v1.0h-1.0zM355.4 424.3h1.0v1.0h-1.0zM354.3 422.4h1.0v1.0h-1.0zM370.5 423.9h1.0v1.0h-1.0zM358.8 429.2h1.0v1.0h-1.0zM358.6 422.2h1.0v1.0h-1.0zM366.5 420.5h1.0v1.0h-1.0zM364.3 422.8h1.0v1.0h-1.0zM356.4 423.9h1.0v1.0h-1.0zM363.0 426.5h1.0v1.0h-1.0zM356.2 413.5h1.0v1.0h-1.0zM363.8 425.9h1.0v1.0h-1.0zM357.1 423.7h1.0v1.0h-1.0zM360.6 427.4h1.0v1.0h-1.0zM360.3 425.8h1.0v1.0h-1.0zM360.5 426.0h1.0v1.0h-1.0zM364.6 418.6h1.0v1.0h-1.0zM357.6 424.1h1.0v1.0h-1.0zM359.4 419.5h1.0v1.0h-1.0zM364.5 414.9h1.0v1.0h-1.0zM361.2 430.6h1.0v1.0h-1.0zM354.1 435.9h1.0v1.0h-1.0zM360.9 425.5h1.0v1.0h-1.0zM362.2 436.9h1.0v1.0h-1.0zM356.5 417.9h1.0v1.0h-1.0zM355.2 424.6h1.0v1.0h-1.0zM356.8 426.9h1.0v1.0h-1.0zM357.1 416.1h1.0v1.0h-1.0zM365.6 421.2h1.0v1.0h-1.0zM361.8 421.1h1.0v1.0h-1.0zM363.1 435.6h1.0v1.0h-1.0zM364.5 426.4h1.0v1.0h-1.0zM361.0 430.9h1.0v1.0h-1.0zM358.2 435.3h1.0v1.0h-1.0zM366.2 430.2h1.0v1.0h-1.0zM364.3 422.5h1.0v1.0h-1.0zM362.5 416.8h1.0v1.0h-1.0zM361.5 430.6h1.0v1.0h-1.0zM363.0 427.4h1.0v1.0h-1.0zM362.8 425.6h1.0v1.0h-1.0zM364.0 419.7h1.0v1.0h-1.0zM363.4 419.4h1.0v1.0h-1.0zM359.3 430.0h1.0v1.0h-1.0zM354.5 435.4h1.0v1.0h-1.0zM363.1 424.8h1.0v1.0h-1.0zM361.6 430.4h1.0v1.0h-1.0zM359.4 425.8h1.0v1.0h-1.0zM355.1 416.7h1.0v1.0h-1.0zM357.7 422.6h1.0v1.0h-1.0zM358.1 424.0h1.0v1.0h-1.0zM363.8 425.2h1.0v1.0h-1.0zM356.2 430.4h1.0v1.0h-1.0zM354.6 430.0h1.0v1.0h-1.0zM363.1 427.2h1.0v1.0h-1.0zM363.6 432.7h1.0v1.0h-1.0zM363.1 430.1h1.0v1.0h-1.0zM354.9 423.7h1.0v1.0h-1.0zM357.9 423.3h1.0v1.0h-1.0zM364.7 422.0h1.0v1.0h-1.0zM363.1 429.9h1.0v1.0h-1.0zM359.2 423.8h1.0v1.0h-1.0zM364.9 425.6h1.0v1.0h-1.0zM360.1 418.9h1.0v1.0h-1.0zM359.1 420.7h1.0v1.0h-1.0zM359.9 414.3h1.0v1.0h-1.0zM352.9 421.4h1.0v1.0h-1.0zM357.9 426.9h1.0v1.0h-1.0zM364.3 424.3h1.0v1.0h-1.0zM361.4 414.6h1.0v1.0h-1.0zM357.3 426.5h1.0v1.0h-1.0zM359.9 422.9h1.0v1.0h-1.0zM353.9 422.5h1.0v1.0h-1.0zM361.8 425.6h1.0v1.0h-1.0zM355.9 424.2h1.0v1.0h-1.0zM358.1 428.0h1.0v1.0h-1.0zM371.2 417.1h1.0v1.0h-1.0zM363.0 423.6h1.0v1.0h-1.0zM359.6 427.9h1.0v1.0h-1.0zM365.0 419.8h1.0v1.0h-1.0zM359.4 423.2h1.0v1.0h-1.0zM361.2 428.5h1.0v1.0h-1.0zM367.7 424.8h1.0v1.0h-1.0zM361.0 427.3h1.0v1.0h-1.0zM364.5 418.0h1.0v1.0h-1.0zM358.3 425.4h1.0v1.0h-1.0zM364.0 422.6h1.0v1.0h-1.0zM360.4 416.2h1.0v1.0h-1.0zM353.4 433.6h1.0v1.0h-1.0zM358.4 426.1h1.0v1.0h-1.0zM360.9 425.5h1.0v1.0h-1.0zM352.9 427.9h1.0v1.0h-1.0zM360.4 419.0h1.0v1.0h-1.0zM358.7 433.4h1.0v1.0h-1.0zM362.2 419.7h1.0v1.0h-1.0zM360.8 428.3h1.0v1.0h-1.0zM362.4 418.2h1.0v1.0h-1.0zM358.3 416.6h1.0v1.0h-1.0zM362.2 417.5h1.0v1.0h-1.0zM366.0 425.3h1.0v1.0h-1.0zM361.2 434.8h1.0v1.0h-1.0zM356.1 419.8h1.0v1.0h-1.0zM358.1 414.1h1.0v1.0h-1.0zM364.1 412.8h1.0v1.0h-1.0zM362.1 420.3h1.0v1.0h-1.0zM360.7 418.9h1.0v1.0h-1.0zM360.9 417.0h1.0v1.0h-1.0zM359.4 422.9h1.0v1.0h-1.0zM361.6 426.6h1.0v1.0h-1.0zM366.7 430.4h1.0v1.0h-1.0zM363.6 421.3h1.0v1.0h-1.0zM356.3 426.0h1.0v1.0h-1.0zM360.3 421.8h1.0v1.0h-1.0zM361.7 423.8h1.0v1.0h-1.0zM365.2 429.8h1.0v1.0h-1.0zM358.4 430.9h1.0v1.0h-1.0zM357.0 421.7h1.0v1.0h-1.0zM354.2 422.9h1.0v1.0h-1.0zM355.7 429.3h1.0v1.0h-1.0zM354.4 417.9h1.0v1.0h-1.0zM363.2 426.8h1.0v1.0h-1.0zM361.7 424.2h1.0v1.0h-1.0zM357.0 422.4h1.0v1.0h-1.0zM361.7 426.9h1.0v1.0h-1.0zM363.1 435.0h1.0v1.0h-1.0zM357.3 421.9h1.0v1.0h-1.0zM357.3 421.6h1.0v1.0h-1.0zM359.4 424.1h1.0v1.0h-1.0zM365.5 423.3h1.0v1.0h-1.0zM359.6 412.4h1.0v1.0h-1.0zM361.8 425.1h1.0v1.0h-1.0zM361.2 427.3h1.0v1.0h-1.0zM362.0 429.2h1.0v1.0h-1.0zM363.1 417.5h1.0v1.0h-1.0zM360.0 417.6h1.0v1.0h-1.0zM367.4 418.9h1.0v1.0h-1.0zM364.5 430.0h1.0v1.0h-1.0zM367.1 420.9h1.0v1.0h-1.0zM357.4 422.2h1.0v1.0h-1.0zM363.2 426.3h1.0v1.0h-1.0zM362.0 425.1h1.0v1.0h-1.0zM361.5 417.6h1.0v1.0h-1.0zM357.0 430.4h1.0v1.0h-1.0zM357.5 435.1h1.0v1.0h-1.0zM361.1 427.6h1.0v1.0h-1.0zM362.4 437.4h1.0v1.0h-1.0zM362.6 421.5h1.0v1.0h-1.0zM361.7 423.4h1.0v1.0h-1.0zM359.5 418.2h1.0v1.0h-1.0zM361.5 431.3h1.0v1.0h-1.0zM361.5 430.6h1.0v1.0h-1.0zM360.7 418.2h1.0v1.0h-1.0zM367.0 417.3h1.0v1.0h-1.0zM361.8 427.4h1.0v1.0h-1.0zM364.1 424.4h1.0v1.0h-1.0zM363.5 426.1h1.0v1.0h-1.0zM363.8 428.3h1.0v1.0h-1.0zM360.4 436.6h1.0v1.0h-1.0zM361.8 419.1h1.0v1.0h-1.0zM359.3 423.5h1.0v1.0h-1.0zM367.0 427.8h1.0v1.0h-1.0zM363.7 426.8h1.0v1.0h-1.0zM361.0 427.8h1.0v1.0h-1.0zM361.3 427.8h1.0v1.0h-1.0zM363.2 422.3h1.0v1.0h-1.0zM359.2 420.7h1.0v1.0h-1.0zM367.7 419.1h1.0v1.0h-1.0zM352.1 423.2h1.0v1.0h-1.0zM359.6 412.4h1.0v1.0h-1.0zM359.4 423.7h1.0v1.0h-1.0zM366.9 428.8h1.0v1.0h-1.0zM364.4 422.6h1.0v1.0h-1.0zM366.8 416.2h1.0v1.0h-1.0zM358.4 432.5h1.0v1.0h-1.0zM361.8 416.0h1.0v1.0h-1.0zM360.9 425.8h1.0v1.0h-1.0zM359.4 427.8h1.0v1.0h-1.0zM357.5 423.3h1.0v1.0h-1.0zM358.3 426.8h1.0v1.0h-1.0zM362.7 427.4h1.0v1.0h-1.0zM359.3 420.1h1.0v1.0h-1.0zM366.5 417.1h1.0v1.0h-1.0zM357.9 425.2h1.0v1.0h-1.0zM356.5 414.5h1.0v1.0h-1.0zM361.8 420.5h1.0v1.0h-1.0zM361.1 425.7h1.0v1.0h-1.0zM363.5 422.4h1.0v1.0h-1.0zM356.0 429.8h1.0v1.0h-1.0zM359.3 432.5h1.0v1.0h-1.0zM364.5 424.6h1.0v1.0h-1.0zM367.4 425.7h1.0v1.0h-1.0zM359.3 433.8h1.0v1.0h-1.0zM360.9 421.3h1.0v1.0h-1.0zM358.8 433.3h1.0v1.0h-1.0zM359.3 418.7h1.0v1.0h-1.0zM362.3 426.5h1.0v1.0h-1.0zM358.4 429.2h1.0v1.0h-1.0zM356.7 414.9h1.0v1.0h-1.0zM359.1 417.5h1.0v1.0h-1.0zM355.9 422.7h1.0v1.0h-1.0zM361.8 424.5h1.0v1.0h-1.0zM357.1 422.4h1.0v1.0h-1.0zM362.5 421.0h1.0v1.0h-1.0zM359.2 427.4h1.0v1.0h-1.0zM357.1 415.8h1.0v1.0h-1.0zM363.7 427.2h1.0v1.0h-1.0zM358.3 415.8h1.0v1.0h-1.0zM361.1 420.7h1.0v1.0h-1.0zM360.1 418.1h1.0v1.0h-1.0zM362.6 421.6h1.0v1.0h-1.0zM365.0 413.6h1.0v1.0h-1.0zM359.1 421.9h1.0v1.0h-1.0zM358.8 428.3h1.0v1.0h-1.0zM362.4 421.7h1.0v1.0h-1.0zM357.8 426.7h1.0v1.0h-1.0zM355.1 422.3h1.0v1.0h-1.0zM363.4 424.8h1.0v1.0h-1.0zM364.4 427.2h1.0v1.0h-1.0zM357.0 416.3h1.0v1.0h-1.0zM360.5 420.8h1.0v1.0h-1.0zM361.4 424.0h1.0v1.0h-1.0zM362.5 431.3h1.0v1.0h-1.0zM358.6 419.7h1.0v1.0h-1.0zM359.1 418.5h1.0v1.0h-1.0zM359.6 428.4h1.0v1.0h-1.0zM359.2 425.1h1.0v1.0h-1.0zM360.3 420.7h1.0v1.0h-1.0zM353.6 418.0h1.0v1.0h-1.0zM363.4 414.6h1.0v1.0h-1.0zM363.4 433.1h1.0v1.0h-1.0zM363.4 424.3h1.0v1.0h-1.0zM360.0 432.2h1.0v1.0h-1.0zM363.3 423.6h1.0v1.0h-1.0zM357.8 424.0h1.0v1.0h-1.0zM360.7 423.2h1.0v1.0h-1.0zM363.3 421.4h1.0v1.0h-1.0zM363.7 433.3h1.0v1.0h-1.0zM360.0 414.4h1.0v1.0h-1.0zM363.7 419.8h1.0v1.0h-1.0zM355.0 428.2h1.0v1.0h-1.0zM358.1 424.1h1.0v1.0h-1.0zM357.9 420.1h1.0v1.0h-1.0zM361.4 412.9h1.0v1.0h-1.0zM361.2 422.0h1.0v1.0h-1.0zM357.1 422.1h1.0v1.0h-1.0zM363.6 425.3h1.0v1.0h-1.0zM366.4 424.4h1.0v1.0h-1.0zM361.3 427.4h1.0v1.0h-1.0zM362.7 420.7h1.0v1.0h-1.0zM358.7 416.5h1.0v1.0h-1.0zM359.8 422.4h1.0v1.0h-1.0zM362.2 434.0h1.0v1.0h-1.0zM358.5 427.0h1.0v1.0h-1.0zM359.8 424.0h1.0v1.0h-1.0zM359.3 414.8h1.0v1.0h-1.0zM363.9 423.0h1.0v1.0h-1.0zM357.7 411.9h1.0v1.0h-1.0zM363.4 419.3h1.0v1.0h-1.0zM365.1 422.1h1.0v1.0h-1.0zM356.5 421.2h1.0v1.0h-1.0zM362.2 429.1h1.0v1.0h-1.0zM354.5 423.8h1.0v1.0h-1.0zM357.7 422.1h1.0v1.0h-1.0zM362.2 423.6h1.0v1.0h-1.0zM362.3 428.6h1.0v1.0h-1.0zM364.8 423.2h1.0v1.0h-1.0zM355.4 430.0h1.0v1.0h-1.0zM361.6 433.8h1.0v1.0h-1.0zM365.1 427.4h1.0v1.0h-1.0zM365.4 421.2h1.0v1.0h-1.0zM360.9 427.8h1.0v1.0h-1.0zM361.8 419.9h1.0v1.0h-1.0zM364.3 421.5h1.0v1.0h-1.0zM365.5 429.2h1.0v1.0h-1.0zM360.4 415.8h1.0v1.0h-1.0zM364.3 424.3h1.0v1.0h-1.0zM352.8 424.7h1.0v1.0h-1.0zM364.0 427.3h1.0v1.0h-1.0zM357.8 430.2h1.0v1.0h-1.0zM357.8 425.4h1.0v1.0h-1.0zM356.3 424.7h1.0v1.0h-1.0zM363.9 425.2h1.0v1.0h-1.0zM360.8 428.4h1.0v1.0h-1.0zM359.0 427.5h1.0v1.0h-1.0zM357.1 430.2h1.0v1.0h-1.0zM361.7 437.5h1.0v1.0h-1.0zM363.5 426.2h1.0v1.0h-1.0zM360.0 416.1h1.0v1.0h-1.0zM359.8 428.2h1.0v1.0h-1.0zM360.0 418.8h1.0v1.0h-1.0zM363.5 412.7h1.0v1.0h-1.0zM363.9 430.7h1.0v1.0h-1.0zM361.3 431.1h1.0v1.0h-1.0zM364.8 419.2h1.0v1.0h-1.0zM363.1 420.5h1.0v1.0h-1.0zM359.8 430.7h1.0v1.0h-1.0zM358.0 429.2h1.0v1.0h-1.0zM360.8 427.8h1.0v1.0h-1.0zM359.4 422.3h1.0v1.0h-1.0zM361.0 426.4h1.0v1.0h-1.0zM360.0 421.0h1.0v1.0h-1.0zM359.7 434.7h1.0v1.0h-1.0zM356.8 423.2h1.0v1.0h-1.0zM358.8 429.8h1.0v1.0h-1.0zM361.4 418.9h1.0v1.0h-1.0zM362.3 426.7h1.0v1.0h-1.0zM359.6 418.0h1.0v1.0h-1.0zM363.1 422.4h1.0v1.0h-1.0zM360.0 418.7h1.0v1.0h-1.0zM359.7 432.6h1.0v1.0h-1.0zM359.7 427.5h1.0v1.0h-1.0zM357.2 425.8h1.0v1.0h-1.0zM369.8 432.1h1.0v1.0h-1.0zM358.1 427.1h1.0v1.0h-1.0zM362.2 426.2h1.0v1.0h-1.0zM361.4 425.9h1.0v1.0h-1.0zM355.8 421.6h1.0v1.0h-1.0zM362.5 420.5h1.0v1.0h-1.0zM362.8 415.4h1.0v1.0h-1.0zM363.0 425.3h1.0v1.0h-1.0zM363.0 434.6h1.0v1.0h-1.0zM360.8 422.0h1.0v1.0h-1.0zM360.9 427.3h1.0v1.0h-1.0zM358.1 419.8h1.0v1.0h-1.0zM367.2 420.4h1.0v1.0h-1.0zM360.2 428.3h1.0v1.0h-1.0zM357.1 423.9h1.0v1.0h-1.0zM361.5 420.5h1.0v1.0h-1.0zM364.0 418.6h1.0v1.0h-1.0zM353.4 432.9h1.0v1.0h-1.0zM357.2 431.7h1.0v1.0h-1.0zM368.2 421.4h1.0v1.0h-1.0zM364.7 423.4h1.0v1.0h-1.0zM361.8 413.7h1.0v1.0h-1.0zM359.6 429.8h1.0v1.0h-1.0zM366.3 419.4h1.0v1.0h-1.0zM358.7 432.9h1.0v1.0h-1.0zM363.5 427.7h1.0v1.0h-1.0zM358.0 421.9h1.0v1.0h-1.0zM365.5 424.5h1.0v1.0h-1.0zM356.8 418.7h1.0v1.0h-1.0zM361.5 425.8h1.0v1.0h-1.0zM365.1 425.9h1.0v1.0h-1.0zM363.2 424.9h1.0v1.0h-1.0zM357.3 424.0h1.0v1.0h-1.0zM360.0 421.3h1.0v1.0h-1.0zM357.0 423.4h1.0v1.0h-1.0zM363.4 435.3h1.0v1.0h-1.0zM369.3 418.1h1.0v1.0h-1.0zM360.8 425.2h1.0v1.0h-1.0zM358.3 412.8h1.0v1.0h-1.0zM359.0 427.8h1.0v1.0h-1.0z" fill="#111" fill-opacity="0.55"/>
<ellipse cx="371.2" cy="446.5" rx="7.5" ry="13.5" fill="#1e1e1e" fill-opacity="0.9" transform="rotate(0 371.2 446.5)" filter="url(#b25)"/>
<path d="M373.2 437.0h1.0v1.0h-1.0zM365.3 439.6h1.0v1.0h-1.0zM362.9 444.5h1.0v1.0h-1.0zM364.3 441.9h1.0v1.0h-1.0zM376.3 447.1h1.0v1.0h-1.0zM375.5 441.3h1.0v1.0h-1.0zM369.2 437.3h1.0v1.0h-1.0zM372.8 445.2h1.0v1.0h-1.0zM370.7 451.2h1.0v1.0h-1.0zM379.6 430.7h1.0v1.0h-1.0zM372.5 452.6h1.0v1.0h-1.0zM371.3 457.4h1.0v1.0h-1.0zM370.3 440.6h1.0v1.0h-1.0zM373.5 438.7h1.0v1.0h-1.0zM366.9 446.6h1.0v1.0h-1.0zM370.1 447.1h1.0v1.0h-1.0zM382.6 451.6h1.0v1.0h-1.0zM370.2 453.7h1.0v1.0h-1.0zM375.0 445.6h1.0v1.0h-1.0zM378.8 455.4h1.0v1.0h-1.0zM365.9 453.3h1.0v1.0h-1.0zM370.5 450.5h1.0v1.0h-1.0zM372.7 459.9h1.0v1.0h-1.0zM364.8 443.6h1.0v1.0h-1.0zM370.5 436.2h1.0v1.0h-1.0zM369.9 441.8h1.0v1.0h-1.0zM373.1 454.4h1.0v1.0h-1.0zM372.9 441.7h1.0v1.0h-1.0zM372.7 431.8h1.0v1.0h-1.0zM371.0 442.7h1.0v1.0h-1.0zM376.8 457.0h1.0v1.0h-1.0zM371.4 448.2h1.0v1.0h-1.0zM365.2 440.3h1.0v1.0h-1.0zM374.4 435.2h1.0v1.0h-1.0zM367.7 442.2h1.0v1.0h-1.0zM374.4 443.7h1.0v1.0h-1.0zM369.1 447.6h1.0v1.0h-1.0zM365.1 440.9h1.0v1.0h-1.0zM366.9 445.7h1.0v1.0h-1.0zM377.3 449.7h1.0v1.0h-1.0zM378.5 450.1h1.0v1.0h-1.0zM364.6 435.8h1.0v1.0h-1.0zM367.1 435.0h1.0v1.0h-1.0zM369.1 465.1h1.0v1.0h-1.0zM366.3 441.3h1.0v1.0h-1.0zM364.7 456.8h1.0v1.0h-1.0zM367.3 439.0h1.0v1.0h-1.0zM365.2 437.4h1.0v1.0h-1.0zM374.2 446.1h1.0v1.0h-1.0zM374.8 444.9h1.0v1.0h-1.0zM364.5 451.7h1.0v1.0h-1.0zM372.8 439.7h1.0v1.0h-1.0zM369.2 455.7h1.0v1.0h-1.0zM366.7 447.5h1.0v1.0h-1.0zM371.0 447.7h1.0v1.0h-1.0zM375.0 443.4h1.0v1.0h-1.0zM376.6 440.7h1.0v1.0h-1.0zM373.4 449.7h1.0v1.0h-1.0zM369.1 450.3h1.0v1.0h-1.0zM377.3 454.8h1.0v1.0h-1.0zM368.6 446.7h1.0v1.0h-1.0zM364.4 445.3h1.0v1.0h-1.0zM373.7 439.2h1.0v1.0h-1.0zM371.5 448.7h1.0v1.0h-1.0zM366.5 441.3h1.0v1.0h-1.0zM374.6 446.3h1.0v1.0h-1.0zM376.4 449.8h1.0v1.0h-1.0zM370.1 441.0h1.0v1.0h-1.0zM370.7 451.6h1.0v1.0h-1.0zM374.5 437.8h1.0v1.0h-1.0zM370.5 454.0h1.0v1.0h-1.0zM371.2 448.2h1.0v1.0h-1.0zM375.0 434.6h1.0v1.0h-1.0zM369.6 453.2h1.0v1.0h-1.0zM374.4 443.9h1.0v1.0h-1.0zM368.2 429.5h1.0v1.0h-1.0zM368.6 459.7h1.0v1.0h-1.0zM366.1 466.8h1.0v1.0h-1.0zM372.9 450.4h1.0v1.0h-1.0zM369.8 439.6h1.0v1.0h-1.0zM362.7 450.8h1.0v1.0h-1.0zM372.9 451.3h1.0v1.0h-1.0zM368.8 442.6h1.0v1.0h-1.0zM368.2 448.2h1.0v1.0h-1.0zM366.9 437.7h1.0v1.0h-1.0zM378.8 450.7h1.0v1.0h-1.0zM374.7 443.9h1.0v1.0h-1.0zM372.1 439.8h1.0v1.0h-1.0zM380.3 434.7h1.0v1.0h-1.0zM370.0 438.6h1.0v1.0h-1.0zM369.6 450.7h1.0v1.0h-1.0zM378.9 434.0h1.0v1.0h-1.0zM368.6 429.2h1.0v1.0h-1.0zM370.3 449.4h1.0v1.0h-1.0zM364.1 437.9h1.0v1.0h-1.0zM368.5 439.8h1.0v1.0h-1.0zM367.9 447.0h1.0v1.0h-1.0zM362.4 459.4h1.0v1.0h-1.0zM376.7 441.3h1.0v1.0h-1.0zM370.1 439.7h1.0v1.0h-1.0zM365.2 432.9h1.0v1.0h-1.0zM382.1 456.5h1.0v1.0h-1.0zM371.8 448.7h1.0v1.0h-1.0zM375.7 447.7h1.0v1.0h-1.0zM371.0 440.6h1.0v1.0h-1.0zM378.4 441.7h1.0v1.0h-1.0zM376.2 457.2h1.0v1.0h-1.0zM372.9 458.8h1.0v1.0h-1.0zM378.9 450.9h1.0v1.0h-1.0zM367.2 456.4h1.0v1.0h-1.0zM376.0 450.5h1.0v1.0h-1.0zM369.3 449.4h1.0v1.0h-1.0zM360.6 456.5h1.0v1.0h-1.0zM382.4 451.0h1.0v1.0h-1.0zM366.8 458.6h1.0v1.0h-1.0zM373.5 436.8h1.0v1.0h-1.0zM362.4 432.3h1.0v1.0h-1.0zM363.5 451.5h1.0v1.0h-1.0zM367.2 447.3h1.0v1.0h-1.0zM373.7 446.4h1.0v1.0h-1.0zM378.3 442.6h1.0v1.0h-1.0zM375.4 461.5h1.0v1.0h-1.0zM378.2 449.6h1.0v1.0h-1.0zM378.6 443.3h1.0v1.0h-1.0zM377.3 440.4h1.0v1.0h-1.0zM369.9 429.2h1.0v1.0h-1.0zM375.1 443.2h1.0v1.0h-1.0zM373.2 453.4h1.0v1.0h-1.0zM378.9 457.1h1.0v1.0h-1.0zM360.0 455.9h1.0v1.0h-1.0zM375.0 452.1h1.0v1.0h-1.0zM367.8 441.8h1.0v1.0h-1.0zM370.3 440.4h1.0v1.0h-1.0zM380.5 449.6h1.0v1.0h-1.0zM367.3 444.8h1.0v1.0h-1.0zM371.7 442.9h1.0v1.0h-1.0zM369.5 455.3h1.0v1.0h-1.0zM374.9 438.2h1.0v1.0h-1.0zM365.1 449.2h1.0v1.0h-1.0zM375.2 443.3h1.0v1.0h-1.0zM373.4 455.7h1.0v1.0h-1.0zM373.4 451.0h1.0v1.0h-1.0zM368.5 439.1h1.0v1.0h-1.0zM371.3 446.9h1.0v1.0h-1.0zM379.7 443.8h1.0v1.0h-1.0zM367.4 438.8h1.0v1.0h-1.0zM382.1 445.4h1.0v1.0h-1.0zM367.3 437.1h1.0v1.0h-1.0zM374.1 443.9h1.0v1.0h-1.0zM365.4 446.9h1.0v1.0h-1.0zM368.5 456.0h1.0v1.0h-1.0zM362.4 437.5h1.0v1.0h-1.0zM366.7 448.4h1.0v1.0h-1.0zM370.9 446.3h1.0v1.0h-1.0zM372.3 446.9h1.0v1.0h-1.0zM377.7 435.4h1.0v1.0h-1.0zM371.4 440.3h1.0v1.0h-1.0zM369.3 443.5h1.0v1.0h-1.0zM365.9 444.1h1.0v1.0h-1.0zM370.2 442.8h1.0v1.0h-1.0zM376.6 441.8h1.0v1.0h-1.0zM373.2 446.5h1.0v1.0h-1.0zM370.0 431.9h1.0v1.0h-1.0zM374.5 446.3h1.0v1.0h-1.0zM366.8 461.5h1.0v1.0h-1.0zM370.5 442.8h1.0v1.0h-1.0zM368.2 442.3h1.0v1.0h-1.0zM371.8 442.9h1.0v1.0h-1.0zM370.4 438.5h1.0v1.0h-1.0zM373.1 451.6h1.0v1.0h-1.0zM374.5 428.0h1.0v1.0h-1.0zM372.4 446.0h1.0v1.0h-1.0zM375.9 438.9h1.0v1.0h-1.0zM370.2 447.9h1.0v1.0h-1.0zM370.1 436.8h1.0v1.0h-1.0zM372.4 456.2h1.0v1.0h-1.0zM380.7 455.8h1.0v1.0h-1.0zM375.4 435.8h1.0v1.0h-1.0zM374.0 446.3h1.0v1.0h-1.0zM360.1 448.5h1.0v1.0h-1.0zM376.5 440.0h1.0v1.0h-1.0zM375.2 452.5h1.0v1.0h-1.0zM365.9 443.3h1.0v1.0h-1.0zM370.5 452.0h1.0v1.0h-1.0zM370.1 452.2h1.0v1.0h-1.0zM373.9 445.4h1.0v1.0h-1.0zM374.6 468.4h1.0v1.0h-1.0zM372.0 448.0h1.0v1.0h-1.0zM366.7 452.9h1.0v1.0h-1.0zM366.2 433.0h1.0v1.0h-1.0zM371.9 445.8h1.0v1.0h-1.0zM372.2 441.2h1.0v1.0h-1.0zM364.7 437.0h1.0v1.0h-1.0zM375.3 453.4h1.0v1.0h-1.0zM375.4 443.1h1.0v1.0h-1.0zM366.3 436.0h1.0v1.0h-1.0zM369.8 449.4h1.0v1.0h-1.0zM370.9 444.9h1.0v1.0h-1.0zM375.8 442.5h1.0v1.0h-1.0zM368.8 445.0h1.0v1.0h-1.0zM366.5 444.6h1.0v1.0h-1.0zM370.1 443.6h1.0v1.0h-1.0zM369.9 456.2h1.0v1.0h-1.0zM372.2 434.8h1.0v1.0h-1.0zM381.7 449.7h1.0v1.0h-1.0zM366.1 453.5h1.0v1.0h-1.0zM379.7 445.0h1.0v1.0h-1.0zM369.0 451.2h1.0v1.0h-1.0zM365.9 446.0h1.0v1.0h-1.0zM375.3 454.7h1.0v1.0h-1.0zM372.7 442.3h1.0v1.0h-1.0zM367.1 439.8h1.0v1.0h-1.0zM373.3 461.8h1.0v1.0h-1.0zM376.3 457.1h1.0v1.0h-1.0zM379.7 454.0h1.0v1.0h-1.0zM370.2 458.7h1.0v1.0h-1.0zM367.7 436.2h1.0v1.0h-1.0zM371.7 440.2h1.0v1.0h-1.0zM365.6 450.4h1.0v1.0h-1.0zM370.1 438.5h1.0v1.0h-1.0zM367.4 455.4h1.0v1.0h-1.0zM375.9 452.0h1.0v1.0h-1.0zM365.7 453.6h1.0v1.0h-1.0zM370.5 448.9h1.0v1.0h-1.0zM369.9 439.9h1.0v1.0h-1.0zM372.4 447.5h1.0v1.0h-1.0zM376.3 443.6h1.0v1.0h-1.0zM372.2 448.7h1.0v1.0h-1.0zM366.7 443.4h1.0v1.0h-1.0zM376.6 449.4h1.0v1.0h-1.0zM365.3 446.0h1.0v1.0h-1.0zM371.6 447.1h1.0v1.0h-1.0zM371.0 446.1h1.0v1.0h-1.0zM366.7 446.0h1.0v1.0h-1.0zM374.9 439.2h1.0v1.0h-1.0zM372.7 450.1h1.0v1.0h-1.0zM372.6 441.3h1.0v1.0h-1.0zM367.7 442.3h1.0v1.0h-1.0zM369.7 453.7h1.0v1.0h-1.0zM368.1 441.3h1.0v1.0h-1.0zM369.0 453.0h1.0v1.0h-1.0zM378.4 428.8h1.0v1.0h-1.0zM371.7 433.0h1.0v1.0h-1.0zM365.9 455.3h1.0v1.0h-1.0zM365.0 425.5h1.0v1.0h-1.0zM371.2 447.0h1.0v1.0h-1.0zM364.2 445.6h1.0v1.0h-1.0zM366.2 466.1h1.0v1.0h-1.0zM373.3 457.4h1.0v1.0h-1.0zM379.0 427.9h1.0v1.0h-1.0zM365.7 455.0h1.0v1.0h-1.0zM374.5 453.9h1.0v1.0h-1.0zM376.3 456.9h1.0v1.0h-1.0zM369.7 445.9h1.0v1.0h-1.0zM376.4 445.0h1.0v1.0h-1.0zM377.3 432.3h1.0v1.0h-1.0zM367.1 442.0h1.0v1.0h-1.0zM368.9 438.0h1.0v1.0h-1.0zM371.3 446.9h1.0v1.0h-1.0zM372.1 428.7h1.0v1.0h-1.0zM370.0 436.9h1.0v1.0h-1.0zM373.3 440.4h1.0v1.0h-1.0zM369.7 460.3h1.0v1.0h-1.0zM375.5 439.7h1.0v1.0h-1.0zM365.1 444.5h1.0v1.0h-1.0zM367.6 451.9h1.0v1.0h-1.0zM376.6 451.0h1.0v1.0h-1.0zM372.6 439.5h1.0v1.0h-1.0zM369.0 434.1h1.0v1.0h-1.0zM370.1 441.9h1.0v1.0h-1.0zM365.4 450.1h1.0v1.0h-1.0zM371.9 445.4h1.0v1.0h-1.0zM373.5 449.6h1.0v1.0h-1.0zM371.9 442.0h1.0v1.0h-1.0zM367.5 445.0h1.0v1.0h-1.0zM369.5 438.6h1.0v1.0h-1.0zM370.4 456.2h1.0v1.0h-1.0zM378.2 436.5h1.0v1.0h-1.0zM364.2 443.8h1.0v1.0h-1.0zM377.5 440.7h1.0v1.0h-1.0zM365.5 437.3h1.0v1.0h-1.0zM375.6 453.3h1.0v1.0h-1.0zM370.8 455.9h1.0v1.0h-1.0zM374.4 449.9h1.0v1.0h-1.0zM363.0 444.9h1.0v1.0h-1.0zM383.3 443.7h1.0v1.0h-1.0zM365.3 436.4h1.0v1.0h-1.0zM369.4 449.1h1.0v1.0h-1.0zM368.8 457.7h1.0v1.0h-1.0zM369.2 445.0h1.0v1.0h-1.0zM372.6 458.4h1.0v1.0h-1.0zM375.7 443.3h1.0v1.0h-1.0zM361.7 444.5h1.0v1.0h-1.0zM370.8 434.6h1.0v1.0h-1.0zM363.2 442.6h1.0v1.0h-1.0zM370.5 448.9h1.0v1.0h-1.0zM373.7 435.3h1.0v1.0h-1.0zM379.9 457.7h1.0v1.0h-1.0zM366.4 448.5h1.0v1.0h-1.0zM373.4 448.7h1.0v1.0h-1.0zM373.7 434.8h1.0v1.0h-1.0zM366.2 442.3h1.0v1.0h-1.0zM366.3 457.6h1.0v1.0h-1.0zM373.1 446.0h1.0v1.0h-1.0zM370.5 460.2h1.0v1.0h-1.0zM368.3 433.5h1.0v1.0h-1.0zM374.2 452.7h1.0v1.0h-1.0zM370.2 446.8h1.0v1.0h-1.0zM368.7 444.5h1.0v1.0h-1.0zM363.5 446.5h1.0v1.0h-1.0zM380.1 456.7h1.0v1.0h-1.0zM371.1 438.9h1.0v1.0h-1.0zM376.9 453.3h1.0v1.0h-1.0zM365.1 448.6h1.0v1.0h-1.0zM369.9 450.3h1.0v1.0h-1.0zM368.5 449.5h1.0v1.0h-1.0zM367.8 446.3h1.0v1.0h-1.0zM369.8 430.9h1.0v1.0h-1.0zM369.6 440.6h1.0v1.0h-1.0zM378.3 450.9h1.0v1.0h-1.0zM361.2 459.3h1.0v1.0h-1.0zM375.7 454.1h1.0v1.0h-1.0zM373.6 441.1h1.0v1.0h-1.0zM368.5 450.4h1.0v1.0h-1.0zM382.7 448.5h1.0v1.0h-1.0zM364.4 455.3h1.0v1.0h-1.0zM380.9 447.0h1.0v1.0h-1.0zM362.7 447.5h1.0v1.0h-1.0zM370.1 452.0h1.0v1.0h-1.0zM366.7 448.5h1.0v1.0h-1.0zM369.8 450.9h1.0v1.0h-1.0zM372.1 446.8h1.0v1.0h-1.0zM373.1 450.8h1.0v1.0h-1.0zM374.6 436.3h1.0v1.0h-1.0zM369.6 445.3h1.0v1.0h-1.0zM366.8 464.6h1.0v1.0h-1.0zM378.8 436.0h1.0v1.0h-1.0zM367.0 455.4h1.0v1.0h-1.0zM371.2 458.0h1.0v1.0h-1.0zM365.3 444.3h1.0v1.0h-1.0zM374.3 448.4h1.0v1.0h-1.0zM370.1 456.0h1.0v1.0h-1.0zM369.6 453.7h1.0v1.0h-1.0zM365.4 446.7h1.0v1.0h-1.0zM368.6 452.2h1.0v1.0h-1.0zM365.5 441.6h1.0v1.0h-1.0zM370.8 435.2h1.0v1.0h-1.0zM374.3 451.7h1.0v1.0h-1.0zM366.6 436.8h1.0v1.0h-1.0zM377.3 439.3h1.0v1.0h-1.0zM366.2 440.1h1.0v1.0h-1.0zM370.5 456.9h1.0v1.0h-1.0zM368.5 451.9h1.0v1.0h-1.0zM373.2 466.2h1.0v1.0h-1.0zM375.0 445.1h1.0v1.0h-1.0zM369.5 446.2h1.0v1.0h-1.0zM372.9 440.9h1.0v1.0h-1.0zM373.2 441.8h1.0v1.0h-1.0zM364.3 445.5h1.0v1.0h-1.0zM363.1 436.6h1.0v1.0h-1.0zM370.7 437.4h1.0v1.0h-1.0zM367.7 451.6h1.0v1.0h-1.0zM363.1 450.7h1.0v1.0h-1.0zM375.0 447.8h1.0v1.0h-1.0zM370.5 442.9h1.0v1.0h-1.0zM372.5 439.4h1.0v1.0h-1.0zM373.7 442.6h1.0v1.0h-1.0zM372.4 430.8h1.0v1.0h-1.0zM368.5 455.7h1.0v1.0h-1.0zM372.9 427.6h1.0v1.0h-1.0zM362.7 439.0h1.0v1.0h-1.0zM380.4 433.0h1.0v1.0h-1.0zM372.6 455.0h1.0v1.0h-1.0zM366.6 439.2h1.0v1.0h-1.0zM375.9 452.8h1.0v1.0h-1.0zM376.1 441.7h1.0v1.0h-1.0zM372.8 452.7h1.0v1.0h-1.0zM375.1 442.0h1.0v1.0h-1.0zM374.4 449.8h1.0v1.0h-1.0zM368.8 444.4h1.0v1.0h-1.0zM366.0 447.0h1.0v1.0h-1.0zM369.3 441.0h1.0v1.0h-1.0zM373.1 454.8h1.0v1.0h-1.0zM373.6 455.8h1.0v1.0h-1.0zM364.3 456.2h1.0v1.0h-1.0zM373.4 455.5h1.0v1.0h-1.0zM370.8 450.8h1.0v1.0h-1.0zM375.0 454.2h1.0v1.0h-1.0zM365.0 445.2h1.0v1.0h-1.0zM370.4 443.6h1.0v1.0h-1.0zM381.6 443.0h1.0v1.0h-1.0zM371.0 451.4h1.0v1.0h-1.0zM371.7 443.3h1.0v1.0h-1.0zM368.8 441.2h1.0v1.0h-1.0zM373.6 445.6h1.0v1.0h-1.0zM368.9 446.7h1.0v1.0h-1.0zM376.1 455.7h1.0v1.0h-1.0zM371.8 442.0h1.0v1.0h-1.0zM373.8 446.3h1.0v1.0h-1.0zM370.2 452.3h1.0v1.0h-1.0zM371.0 457.3h1.0v1.0h-1.0zM379.3 447.6h1.0v1.0h-1.0zM375.7 428.2h1.0v1.0h-1.0zM369.8 443.1h1.0v1.0h-1.0zM370.6 450.6h1.0v1.0h-1.0zM376.8 442.0h1.0v1.0h-1.0zM369.5 433.2h1.0v1.0h-1.0zM371.2 425.5h1.0v1.0h-1.0zM372.9 453.5h1.0v1.0h-1.0zM365.1 448.4h1.0v1.0h-1.0zM367.8 446.5h1.0v1.0h-1.0zM368.5 457.5h1.0v1.0h-1.0zM378.7 453.4h1.0v1.0h-1.0zM375.2 450.9h1.0v1.0h-1.0zM373.2 442.8h1.0v1.0h-1.0zM368.1 445.9h1.0v1.0h-1.0zM375.9 453.7h1.0v1.0h-1.0zM374.9 441.6h1.0v1.0h-1.0zM374.7 443.0h1.0v1.0h-1.0zM367.3 432.0h1.0v1.0h-1.0zM374.4 458.1h1.0v1.0h-1.0zM370.3 454.4h1.0v1.0h-1.0zM377.1 459.9h1.0v1.0h-1.0zM370.1 454.3h1.0v1.0h-1.0zM373.8 439.8h1.0v1.0h-1.0zM365.9 441.6h1.0v1.0h-1.0zM372.4 438.0h1.0v1.0h-1.0zM373.6 442.7h1.0v1.0h-1.0zM371.9 446.4h1.0v1.0h-1.0zM373.3 437.6h1.0v1.0h-1.0zM373.1 443.2h1.0v1.0h-1.0zM377.7 453.9h1.0v1.0h-1.0zM368.1 449.8h1.0v1.0h-1.0zM374.7 437.6h1.0v1.0h-1.0zM372.7 456.7h1.0v1.0h-1.0zM370.0 445.0h1.0v1.0h-1.0zM365.2 445.0h1.0v1.0h-1.0zM374.9 462.3h1.0v1.0h-1.0zM367.1 453.7h1.0v1.0h-1.0zM369.3 454.3h1.0v1.0h-1.0zM375.6 445.5h1.0v1.0h-1.0zM367.8 447.8h1.0v1.0h-1.0zM368.1 450.1h1.0v1.0h-1.0zM381.4 442.0h1.0v1.0h-1.0zM376.0 457.3h1.0v1.0h-1.0zM376.5 439.1h1.0v1.0h-1.0zM374.5 444.2h1.0v1.0h-1.0zM377.9 439.3h1.0v1.0h-1.0zM369.1 438.4h1.0v1.0h-1.0zM369.4 427.5h1.0v1.0h-1.0zM371.7 448.2h1.0v1.0h-1.0zM370.1 444.3h1.0v1.0h-1.0zM378.3 437.2h1.0v1.0h-1.0zM373.6 446.4h1.0v1.0h-1.0zM369.7 447.7h1.0v1.0h-1.0zM370.5 442.7h1.0v1.0h-1.0zM373.5 450.0h1.0v1.0h-1.0zM376.0 460.3h1.0v1.0h-1.0zM377.3 440.5h1.0v1.0h-1.0zM369.7 438.4h1.0v1.0h-1.0zM372.1 451.5h1.0v1.0h-1.0zM372.9 448.2h1.0v1.0h-1.0zM370.1 456.4h1.0v1.0h-1.0zM376.4 450.9h1.0v1.0h-1.0zM367.4 446.5h1.0v1.0h-1.0zM375.2 450.4h1.0v1.0h-1.0zM375.6 436.0h1.0v1.0h-1.0zM370.3 439.9h1.0v1.0h-1.0zM374.9 458.6h1.0v1.0h-1.0zM375.5 451.1h1.0v1.0h-1.0zM369.3 450.5h1.0v1.0h-1.0zM374.8 448.6h1.0v1.0h-1.0zM366.4 442.4h1.0v1.0h-1.0zM373.7 436.0h1.0v1.0h-1.0zM374.3 445.2h1.0v1.0h-1.0zM369.8 453.5h1.0v1.0h-1.0zM373.5 451.6h1.0v1.0h-1.0zM366.7 446.5h1.0v1.0h-1.0zM369.2 459.9h1.0v1.0h-1.0zM369.8 428.6h1.0v1.0h-1.0zM365.5 443.6h1.0v1.0h-1.0zM362.8 436.1h1.0v1.0h-1.0zM367.0 460.3h1.0v1.0h-1.0zM363.5 445.9h1.0v1.0h-1.0zM372.0 440.0h1.0v1.0h-1.0zM367.1 441.6h1.0v1.0h-1.0zM373.5 453.2h1.0v1.0h-1.0zM375.1 444.4h1.0v1.0h-1.0zM375.9 455.4h1.0v1.0h-1.0zM365.1 448.4h1.0v1.0h-1.0zM375.0 453.5h1.0v1.0h-1.0zM365.6 449.8h1.0v1.0h-1.0zM365.6 448.1h1.0v1.0h-1.0zM373.4 446.2h1.0v1.0h-1.0zM375.1 448.9h1.0v1.0h-1.0zM372.1 447.9h1.0v1.0h-1.0zM371.1 431.3h1.0v1.0h-1.0zM374.1 446.7h1.0v1.0h-1.0zM372.3 454.1h1.0v1.0h-1.0zM373.0 446.3h1.0v1.0h-1.0zM367.0 452.8h1.0v1.0h-1.0zM372.4 453.4h1.0v1.0h-1.0zM369.3 434.9h1.0v1.0h-1.0zM373.2 434.6h1.0v1.0h-1.0zM370.0 450.2h1.0v1.0h-1.0zM377.8 447.7h1.0v1.0h-1.0zM373.2 434.6h1.0v1.0h-1.0zM367.5 441.5h1.0v1.0h-1.0zM375.9 449.1h1.0v1.0h-1.0zM374.1 450.8h1.0v1.0h-1.0zM371.8 435.9h1.0v1.0h-1.0zM378.2 436.6h1.0v1.0h-1.0zM369.3 428.0h1.0v1.0h-1.0zM375.4 457.3h1.0v1.0h-1.0zM367.4 439.0h1.0v1.0h-1.0zM375.0 453.0h1.0v1.0h-1.0zM377.1 439.4h1.0v1.0h-1.0zM378.3 440.6h1.0v1.0h-1.0zM375.4 449.8h1.0v1.0h-1.0zM375.2 435.9h1.0v1.0h-1.0zM366.3 447.0h1.0v1.0h-1.0zM367.8 451.3h1.0v1.0h-1.0zM368.1 453.7h1.0v1.0h-1.0zM369.0 444.0h1.0v1.0h-1.0zM374.3 456.4h1.0v1.0h-1.0zM366.5 442.3h1.0v1.0h-1.0zM367.0 445.5h1.0v1.0h-1.0zM375.0 446.4h1.0v1.0h-1.0zM367.5 445.2h1.0v1.0h-1.0zM368.1 442.4h1.0v1.0h-1.0zM369.9 447.7h1.0v1.0h-1.0zM368.5 453.9h1.0v1.0h-1.0zM365.4 437.3h1.0v1.0h-1.0zM375.0 448.7h1.0v1.0h-1.0zM371.4 455.4h1.0v1.0h-1.0zM379.9 436.3h1.0v1.0h-1.0zM369.5 428.1h1.0v1.0h-1.0zM365.0 446.5h1.0v1.0h-1.0zM376.0 456.1h1.0v1.0h-1.0zM370.6 456.6h1.0v1.0h-1.0zM371.8 456.0h1.0v1.0h-1.0zM363.9 456.5h1.0v1.0h-1.0zM363.6 444.5h1.0v1.0h-1.0zM371.0 456.0h1.0v1.0h-1.0zM367.4 445.3h1.0v1.0h-1.0zM370.4 447.3h1.0v1.0h-1.0zM373.6 452.3h1.0v1.0h-1.0zM368.7 436.9h1.0v1.0h-1.0zM370.7 443.1h1.0v1.0h-1.0zM373.3 464.5h1.0v1.0h-1.0zM373.0 450.2h1.0v1.0h-1.0zM366.5 443.4h1.0v1.0h-1.0zM377.4 435.2h1.0v1.0h-1.0zM366.9 442.1h1.0v1.0h-1.0zM375.2 452.4h1.0v1.0h-1.0zM371.8 434.6h1.0v1.0h-1.0zM378.0 454.8h1.0v1.0h-1.0zM377.9 440.7h1.0v1.0h-1.0zM375.7 461.6h1.0v1.0h-1.0zM371.7 447.6h1.0v1.0h-1.0zM369.1 434.8h1.0v1.0h-1.0zM372.2 436.9h1.0v1.0h-1.0zM372.3 447.4h1.0v1.0h-1.0zM366.6 435.7h1.0v1.0h-1.0zM366.8 457.7h1.0v1.0h-1.0zM367.6 452.6h1.0v1.0h-1.0zM368.5 435.2h1.0v1.0h-1.0zM369.7 443.0h1.0v1.0h-1.0zM368.3 433.6h1.0v1.0h-1.0zM371.3 435.2h1.0v1.0h-1.0zM368.4 443.2h1.0v1.0h-1.0zM383.2 445.9h1.0v1.0h-1.0zM370.8 458.2h1.0v1.0h-1.0zM371.3 437.5h1.0v1.0h-1.0zM370.2 453.7h1.0v1.0h-1.0zM375.7 458.5h1.0v1.0h-1.0zM374.2 468.6h1.0v1.0h-1.0zM367.8 438.4h1.0v1.0h-1.0zM372.5 448.3h1.0v1.0h-1.0zM368.9 446.6h1.0v1.0h-1.0zM369.0 442.1h1.0v1.0h-1.0zM376.9 441.0h1.0v1.0h-1.0zM379.7 451.3h1.0v1.0h-1.0zM369.9 441.4h1.0v1.0h-1.0zM366.5 455.0h1.0v1.0h-1.0zM374.8 441.5h1.0v1.0h-1.0zM375.0 428.8h1.0v1.0h-1.0zM377.2 443.2h1.0v1.0h-1.0zM372.0 443.7h1.0v1.0h-1.0zM369.2 431.3h1.0v1.0h-1.0zM366.2 459.3h1.0v1.0h-1.0zM366.2 458.8h1.0v1.0h-1.0zM368.4 455.4h1.0v1.0h-1.0zM369.6 443.7h1.0v1.0h-1.0zM374.8 450.2h1.0v1.0h-1.0zM365.4 451.3h1.0v1.0h-1.0zM381.6 441.9h1.0v1.0h-1.0zM376.1 455.5h1.0v1.0h-1.0zM372.4 448.5h1.0v1.0h-1.0zM378.9 456.5h1.0v1.0h-1.0zM369.8 437.1h1.0v1.0h-1.0zM365.6 441.3h1.0v1.0h-1.0zM375.2 452.1h1.0v1.0h-1.0zM372.2 445.4h1.0v1.0h-1.0zM370.8 443.5h1.0v1.0h-1.0zM368.5 445.4h1.0v1.0h-1.0zM372.7 447.8h1.0v1.0h-1.0zM360.4 456.0h1.0v1.0h-1.0zM374.2 453.3h1.0v1.0h-1.0zM369.7 453.7h1.0v1.0h-1.0zM372.1 454.4h1.0v1.0h-1.0zM373.7 446.0h1.0v1.0h-1.0zM375.1 434.1h1.0v1.0h-1.0zM364.5 449.6h1.0v1.0h-1.0zM378.4 450.9h1.0v1.0h-1.0zM374.0 436.0h1.0v1.0h-1.0zM372.7 446.0h1.0v1.0h-1.0zM365.5 437.9h1.0v1.0h-1.0zM376.2 450.9h1.0v1.0h-1.0zM374.0 435.6h1.0v1.0h-1.0zM365.1 456.5h1.0v1.0h-1.0zM374.0 443.6h1.0v1.0h-1.0zM371.2 461.4h1.0v1.0h-1.0zM371.4 438.0h1.0v1.0h-1.0zM383.5 445.3h1.0v1.0h-1.0zM367.6 442.1h1.0v1.0h-1.0zM371.8 447.2h1.0v1.0h-1.0zM367.5 451.8h1.0v1.0h-1.0zM374.0 449.4h1.0v1.0h-1.0zM376.1 436.6h1.0v1.0h-1.0zM369.9 449.4h1.0v1.0h-1.0zM380.1 439.3h1.0v1.0h-1.0zM371.8 434.4h1.0v1.0h-1.0zM369.8 440.7h1.0v1.0h-1.0zM370.9 446.3h1.0v1.0h-1.0zM369.9 451.1h1.0v1.0h-1.0zM376.8 454.7h1.0v1.0h-1.0zM367.5 449.0h1.0v1.0h-1.0zM372.5 435.3h1.0v1.0h-1.0zM366.7 431.1h1.0v1.0h-1.0zM373.1 454.5h1.0v1.0h-1.0zM377.8 452.1h1.0v1.0h-1.0zM371.2 444.5h1.0v1.0h-1.0zM370.2 449.1h1.0v1.0h-1.0zM373.7 436.5h1.0v1.0h-1.0zM371.3 458.9h1.0v1.0h-1.0zM379.6 439.8h1.0v1.0h-1.0zM370.5 447.6h1.0v1.0h-1.0zM368.8 451.1h1.0v1.0h-1.0zM370.1 439.6h1.0v1.0h-1.0zM373.3 441.2h1.0v1.0h-1.0zM379.3 435.1h1.0v1.0h-1.0zM370.0 445.9h1.0v1.0h-1.0zM373.3 431.2h1.0v1.0h-1.0zM376.0 456.1h1.0v1.0h-1.0zM374.5 450.3h1.0v1.0h-1.0zM370.6 451.0h1.0v1.0h-1.0zM363.0 428.2h1.0v1.0h-1.0zM360.4 446.1h1.0v1.0h-1.0zM371.0 450.7h1.0v1.0h-1.0zM369.5 461.0h1.0v1.0h-1.0zM369.3 453.1h1.0v1.0h-1.0zM375.4 438.6h1.0v1.0h-1.0zM364.0 456.3h1.0v1.0h-1.0zM373.1 450.7h1.0v1.0h-1.0zM367.3 440.2h1.0v1.0h-1.0zM367.9 433.1h1.0v1.0h-1.0zM370.1 441.9h1.0v1.0h-1.0zM370.6 440.7h1.0v1.0h-1.0zM374.3 450.3h1.0v1.0h-1.0zM367.2 452.8h1.0v1.0h-1.0zM375.9 454.1h1.0v1.0h-1.0zM361.3 463.0h1.0v1.0h-1.0zM362.8 448.4h1.0v1.0h-1.0zM373.4 436.3h1.0v1.0h-1.0zM370.2 443.6h1.0v1.0h-1.0zM381.1 435.2h1.0v1.0h-1.0zM372.8 444.9h1.0v1.0h-1.0zM372.1 453.3h1.0v1.0h-1.0zM372.8 452.0h1.0v1.0h-1.0zM376.1 452.6h1.0v1.0h-1.0zM374.0 441.3h1.0v1.0h-1.0zM375.8 432.7h1.0v1.0h-1.0zM363.2 439.3h1.0v1.0h-1.0zM371.1 457.5h1.0v1.0h-1.0zM371.0 446.0h1.0v1.0h-1.0zM374.7 446.0h1.0v1.0h-1.0zM363.3 444.9h1.0v1.0h-1.0zM368.9 447.1h1.0v1.0h-1.0zM380.3 445.4h1.0v1.0h-1.0zM367.2 446.8h1.0v1.0h-1.0zM375.1 446.7h1.0v1.0h-1.0zM378.7 444.8h1.0v1.0h-1.0zM375.1 455.7h1.0v1.0h-1.0zM375.7 451.3h1.0v1.0h-1.0zM372.2 446.0h1.0v1.0h-1.0zM375.2 451.6h1.0v1.0h-1.0zM373.9 431.9h1.0v1.0h-1.0zM365.4 444.2h1.0v1.0h-1.0zM364.7 443.4h1.0v1.0h-1.0zM377.7 444.9h1.0v1.0h-1.0zM371.7 452.2h1.0v1.0h-1.0zM364.5 447.2h1.0v1.0h-1.0zM372.2 440.4h1.0v1.0h-1.0zM371.9 449.7h1.0v1.0h-1.0zM371.3 444.5h1.0v1.0h-1.0zM376.0 447.1h1.0v1.0h-1.0zM375.6 425.4h1.0v1.0h-1.0zM370.8 453.9h1.0v1.0h-1.0zM373.1 449.2h1.0v1.0h-1.0zM373.9 459.9h1.0v1.0h-1.0zM369.5 434.5h1.0v1.0h-1.0zM371.7 441.2h1.0v1.0h-1.0zM376.6 444.6h1.0v1.0h-1.0zM370.4 460.9h1.0v1.0h-1.0zM371.2 448.0h1.0v1.0h-1.0zM371.3 442.3h1.0v1.0h-1.0zM379.8 445.6h1.0v1.0h-1.0zM365.2 464.4h1.0v1.0h-1.0zM366.5 441.1h1.0v1.0h-1.0zM369.2 463.3h1.0v1.0h-1.0zM368.4 442.2h1.0v1.0h-1.0zM369.8 452.7h1.0v1.0h-1.0zM366.2 463.1h1.0v1.0h-1.0zM365.6 441.2h1.0v1.0h-1.0zM371.1 443.6h1.0v1.0h-1.0zM364.9 438.0h1.0v1.0h-1.0zM380.3 455.6h1.0v1.0h-1.0zM370.4 446.6h1.0v1.0h-1.0zM375.7 445.2h1.0v1.0h-1.0zM377.0 426.8h1.0v1.0h-1.0zM374.7 447.8h1.0v1.0h-1.0zM367.4 446.9h1.0v1.0h-1.0zM370.2 439.1h1.0v1.0h-1.0zM366.6 447.6h1.0v1.0h-1.0zM372.2 436.7h1.0v1.0h-1.0zM364.3 457.1h1.0v1.0h-1.0zM372.6 449.1h1.0v1.0h-1.0zM368.1 430.7h1.0v1.0h-1.0zM375.1 448.8h1.0v1.0h-1.0zM370.2 433.8h1.0v1.0h-1.0zM364.7 442.4h1.0v1.0h-1.0zM375.3 438.9h1.0v1.0h-1.0zM369.0 450.3h1.0v1.0h-1.0zM367.0 459.3h1.0v1.0h-1.0zM373.9 440.6h1.0v1.0h-1.0zM372.4 468.6h1.0v1.0h-1.0zM375.4 449.2h1.0v1.0h-1.0zM365.4 453.3h1.0v1.0h-1.0zM377.8 449.5h1.0v1.0h-1.0zM374.2 447.8h1.0v1.0h-1.0zM364.0 451.3h1.0v1.0h-1.0zM373.5 457.4h1.0v1.0h-1.0zM373.8 447.2h1.0v1.0h-1.0zM370.6 449.5h1.0v1.0h-1.0zM373.3 436.7h1.0v1.0h-1.0zM373.6 438.6h1.0v1.0h-1.0zM370.2 445.8h1.0v1.0h-1.0zM374.8 443.7h1.0v1.0h-1.0zM365.7 434.4h1.0v1.0h-1.0zM367.7 450.6h1.0v1.0h-1.0zM371.9 432.1h1.0v1.0h-1.0zM375.1 442.1h1.0v1.0h-1.0zM368.4 454.5h1.0v1.0h-1.0zM365.6 439.8h1.0v1.0h-1.0zM374.2 436.6h1.0v1.0h-1.0zM371.1 460.3h1.0v1.0h-1.0zM372.6 431.5h1.0v1.0h-1.0zM374.9 451.2h1.0v1.0h-1.0zM373.9 440.1h1.0v1.0h-1.0zM371.9 448.4h1.0v1.0h-1.0zM370.9 444.6h1.0v1.0h-1.0zM368.4 453.8h1.0v1.0h-1.0zM373.6 454.3h1.0v1.0h-1.0zM371.0 443.4h1.0v1.0h-1.0zM368.2 457.1h1.0v1.0h-1.0zM367.0 439.5h1.0v1.0h-1.0zM370.3 453.8h1.0v1.0h-1.0zM375.9 442.8h1.0v1.0h-1.0zM370.0 455.3h1.0v1.0h-1.0zM375.6 453.4h1.0v1.0h-1.0zM377.3 442.3h1.0v1.0h-1.0zM379.9 446.9h1.0v1.0h-1.0zM371.6 448.5h1.0v1.0h-1.0zM370.2 456.2h1.0v1.0h-1.0zM384.8 446.9h1.0v1.0h-1.0zM370.7 447.1h1.0v1.0h-1.0zM366.1 426.4h1.0v1.0h-1.0zM373.8 447.2h1.0v1.0h-1.0zM374.4 451.6h1.0v1.0h-1.0zM370.4 447.9h1.0v1.0h-1.0zM378.7 443.3h1.0v1.0h-1.0zM369.9 457.5h1.0v1.0h-1.0zM363.2 448.4h1.0v1.0h-1.0zM371.9 466.4h1.0v1.0h-1.0zM370.5 435.4h1.0v1.0h-1.0zM365.2 441.8h1.0v1.0h-1.0zM380.6 448.9h1.0v1.0h-1.0zM368.2 446.9h1.0v1.0h-1.0zM366.7 456.4h1.0v1.0h-1.0zM371.9 441.0h1.0v1.0h-1.0zM361.1 462.4h1.0v1.0h-1.0zM375.3 449.6h1.0v1.0h-1.0zM378.1 442.8h1.0v1.0h-1.0zM366.3 445.4h1.0v1.0h-1.0zM378.0 452.2h1.0v1.0h-1.0zM370.3 449.2h1.0v1.0h-1.0zM373.1 445.8h1.0v1.0h-1.0zM364.4 448.9h1.0v1.0h-1.0zM366.8 444.4h1.0v1.0h-1.0zM371.0 440.5h1.0v1.0h-1.0zM369.8 438.5h1.0v1.0h-1.0zM379.8 443.1h1.0v1.0h-1.0zM372.8 463.1h1.0v1.0h-1.0zM367.3 449.0h1.0v1.0h-1.0zM372.9 450.5h1.0v1.0h-1.0zM374.3 447.8h1.0v1.0h-1.0zM366.0 454.4h1.0v1.0h-1.0zM376.9 439.6h1.0v1.0h-1.0zM381.8 442.1h1.0v1.0h-1.0zM373.7 441.6h1.0v1.0h-1.0zM377.0 449.4h1.0v1.0h-1.0zM362.7 463.2h1.0v1.0h-1.0zM381.9 449.5h1.0v1.0h-1.0zM369.8 458.3h1.0v1.0h-1.0zM370.5 437.4h1.0v1.0h-1.0zM372.4 431.3h1.0v1.0h-1.0zM377.1 456.8h1.0v1.0h-1.0zM379.6 445.1h1.0v1.0h-1.0zM366.1 440.6h1.0v1.0h-1.0zM375.9 452.4h1.0v1.0h-1.0zM370.3 452.1h1.0v1.0h-1.0zM374.4 443.9h1.0v1.0h-1.0zM374.1 461.5h1.0v1.0h-1.0zM362.2 442.9h1.0v1.0h-1.0zM375.7 461.8h1.0v1.0h-1.0zM363.0 454.6h1.0v1.0h-1.0zM368.0 441.8h1.0v1.0h-1.0zM369.9 449.5h1.0v1.0h-1.0zM369.5 445.5h1.0v1.0h-1.0zM374.1 443.0h1.0v1.0h-1.0zM369.3 453.7h1.0v1.0h-1.0zM361.0 449.0h1.0v1.0h-1.0zM374.9 450.0h1.0v1.0h-1.0zM366.0 444.0h1.0v1.0h-1.0zM375.2 439.4h1.0v1.0h-1.0zM367.9 436.2h1.0v1.0h-1.0zM367.8 452.7h1.0v1.0h-1.0zM371.7 450.3h1.0v1.0h-1.0zM377.7 443.5h1.0v1.0h-1.0zM377.6 456.9h1.0v1.0h-1.0zM367.3 450.9h1.0v1.0h-1.0zM372.1 440.0h1.0v1.0h-1.0zM368.0 433.8h1.0v1.0h-1.0zM369.9 442.3h1.0v1.0h-1.0zM376.6 455.7h1.0v1.0h-1.0zM367.9 441.7h1.0v1.0h-1.0zM376.5 442.6h1.0v1.0h-1.0zM374.1 446.1h1.0v1.0h-1.0zM377.4 426.3h1.0v1.0h-1.0zM372.7 451.2h1.0v1.0h-1.0zM367.3 447.7h1.0v1.0h-1.0zM369.4 444.5h1.0v1.0h-1.0zM373.2 447.3h1.0v1.0h-1.0zM374.4 451.2h1.0v1.0h-1.0zM372.6 436.2h1.0v1.0h-1.0zM374.3 455.7h1.0v1.0h-1.0zM382.6 444.5h1.0v1.0h-1.0zM375.8 455.9h1.0v1.0h-1.0zM378.9 454.6h1.0v1.0h-1.0zM368.3 456.6h1.0v1.0h-1.0zM375.4 442.0h1.0v1.0h-1.0zM370.6 449.0h1.0v1.0h-1.0zM367.9 436.1h1.0v1.0h-1.0zM370.4 443.5h1.0v1.0h-1.0zM369.3 451.9h1.0v1.0h-1.0zM372.4 449.7h1.0v1.0h-1.0zM372.4 462.2h1.0v1.0h-1.0zM375.3 438.4h1.0v1.0h-1.0zM369.4 452.9h1.0v1.0h-1.0zM373.2 444.0h1.0v1.0h-1.0zM379.3 459.3h1.0v1.0h-1.0zM369.6 466.2h1.0v1.0h-1.0zM370.6 450.0h1.0v1.0h-1.0zM367.4 460.8h1.0v1.0h-1.0zM375.1 438.0h1.0v1.0h-1.0zM366.4 444.9h1.0v1.0h-1.0zM365.2 462.1h1.0v1.0h-1.0zM369.5 448.9h1.0v1.0h-1.0zM367.5 442.5h1.0v1.0h-1.0zM366.8 464.1h1.0v1.0h-1.0zM368.7 438.8h1.0v1.0h-1.0zM373.7 444.1h1.0v1.0h-1.0zM376.4 465.9h1.0v1.0h-1.0zM376.8 455.0h1.0v1.0h-1.0zM370.7 450.2h1.0v1.0h-1.0zM378.0 442.3h1.0v1.0h-1.0zM369.8 451.4h1.0v1.0h-1.0zM369.6 433.4h1.0v1.0h-1.0zM370.8 448.6h1.0v1.0h-1.0z" fill="#111" fill-opacity="0.55"/>
<g stroke="#999" stroke-width="0.7"><line x1="366" y1="474" x2="374" y2="466"/><line x1="369" y1="474" x2="377" y2="466"/><line x1="372" y1="474" x2="380" y2="466"/></g>
<rect x="346.3" y="410" width="26.3" height="31.8" fill="none" stroke="#333" stroke-width="1"/>
<polyline points="359.9,474.3 359.9,441.8" fill="none" stroke="#333" stroke-width="1"/>
<polyline points="372.6,432.3 382.2,432.3 382.2,474.3" fill="none" stroke="#333" stroke-width="1"/>
<rect x="380.9" y="431.0" width="2.6" height="2.6" fill="#111"/>
<rect x="380.9" y="473.0" width="2.6" height="2.6" fill="#111"/>
<rect x="358.59999999999997" y="473.0" width="2.6" height="2.6" fill="#111"/>
<line x1="310.6" y1="490.5" x2="380.7" y2="490.5" stroke="#111" stroke-width="2"/>
<path d="M380.2,487.3 L386.7,490.5 L380.2,493.7 Z" fill="#111"/>
<text x="347.8" y="500" font-size="8.8" font-weight="bold" text-anchor="middle" fill="#111" textLength="22.8" lengthAdjust="spacingAndGlyphs" stroke="#111" stroke-width="0.15">M1/70</text>
<rect x="424.6" y="278.5" width="93.5" height="84.0" fill="none" stroke="#727272" stroke-width="1.1"/>
<text x="421.8" y="280.1" font-size="4.6" text-anchor="end" fill="#333" stroke="#333" stroke-width="0.12">300</text>
<line x1="422.1" y1="278.5" x2="424.6" y2="278.5" stroke="#666" stroke-width="0.7"/>
<text x="421.8" y="301.1" font-size="4.6" text-anchor="end" fill="#333" stroke="#333" stroke-width="0.12">225</text>
<line x1="422.1" y1="299.5" x2="424.6" y2="299.5" stroke="#666" stroke-width="0.7"/>
<text x="421.8" y="322.1" font-size="4.6" text-anchor="end" fill="#333" stroke="#333" stroke-width="0.12">150</text>
<line x1="422.1" y1="320.5" x2="424.6" y2="320.5" stroke="#666" stroke-width="0.7"/>
<text x="421.8" y="343.1" font-size="4.6" text-anchor="end" fill="#333" stroke="#333" stroke-width="0.12">75</text>
<line x1="422.1" y1="341.5" x2="424.6" y2="341.5" stroke="#666" stroke-width="0.7"/>
<text x="421.8" y="364.1" font-size="4.6" text-anchor="end" fill="#333" stroke="#333" stroke-width="0.12">0</text>
<line x1="422.1" y1="362.5" x2="424.6" y2="362.5" stroke="#666" stroke-width="0.7"/>
<text x="412.5" y="320.8" font-size="4.8" text-anchor="middle" fill="#333" transform="rotate(-90 412.5 320.8)" stroke="#333" stroke-width="0.12">Counts</text>
<text x="423.22" y="368.402" font-size="4.6" fill="#3a3a3a" stroke="#3a3a3a" stroke-width="0.12" text-anchor="middle">10<tspan font-size="3.45" dy="-1.38">0</tspan></text>
<line x1="424.6" y1="362.5" x2="424.6" y2="364.1" stroke="#666" stroke-width="0.7"/>
<text x="454.12" y="368.402" font-size="4.6" fill="#3a3a3a" stroke="#3a3a3a" stroke-width="0.12" text-anchor="middle">10<tspan font-size="3.45" dy="-1.38">1</tspan></text>
<line x1="455.5" y1="362.5" x2="455.5" y2="364.1" stroke="#666" stroke-width="0.7"/>
<text x="488.62" y="368.402" font-size="4.6" fill="#3a3a3a" stroke="#3a3a3a" stroke-width="0.12" text-anchor="middle">10<tspan font-size="3.45" dy="-1.38">2</tspan></text>
<line x1="490" y1="362.5" x2="490" y2="364.1" stroke="#666" stroke-width="0.7"/>
<path d="M425.2,362.2 L425.2,354.5 L425.9,354.4 L426.7,352.1 L427.4,351.1 L428.2,347.6 L428.9,342.7 L429.7,336.9 L430.4,332.0 L431.2,330.9 L431.9,326.0 L432.7,323.8 L433.4,321.4 L434.2,321.1 L434.9,323.7 L435.7,324.2 L436.4,321.2 L437.2,315.6 L437.9,316.7 L438.7,314.5 L439.4,311.2 L440.1,312.1 L440.9,312.2 L441.6,310.7 L442.7,309.2 L443.9,312.4 L444.6,313.9 L445.4,316.3 L446.1,320.1 L446.9,323.9 L447.6,327.3 L448.4,330.4 L449.1,335.6 L449.9,338.3 L450.6,344.2 L451.3,346.0 L452.1,350.8 L452.8,353.6 L453.6,356.3 L454.3,353.7 L455.1,358.5 L455.8,361.4 L456.6,361.6 L457.3,362.2 L457.3,362.5 L425.2,362.5 Z" fill="#5a5a5a" stroke="none" stroke-width="1" stroke-linejoin="round"/>
<line x1="459.1" y1="327.2" x2="459.1" y2="342" stroke="#555" stroke-width="0.95"/>
<line x1="459.1" y1="327.2" x2="518.1" y2="327.2" stroke="#555" stroke-width="0.95"/>
<line x1="423.7" y1="375.2" x2="504.4" y2="375.2" stroke="#111" stroke-width="2"/>
<path d="M503.9,372.0 L510.4,375.2 L503.9,378.4 Z" fill="#111"/>
<text x="465" y="385.2" font-size="9.5" font-weight="bold" text-anchor="middle" fill="#111" textLength="37" lengthAdjust="spacingAndGlyphs" stroke="#111" stroke-width="0.15">Anti-OVA</text>
<rect x="426.4" y="391" width="91.2" height="84.6" fill="none" stroke="#727272" stroke-width="1.1"/>
<text x="423.59999999999997" y="392.6" font-size="4.6" text-anchor="end" fill="#333" stroke="#333" stroke-width="0.12">594</text>
<line x1="423.9" y1="391.0" x2="426.4" y2="391.0" stroke="#666" stroke-width="0.7"/>
<text x="423.59999999999997" y="413.75" font-size="4.6" text-anchor="end" fill="#333" stroke="#333" stroke-width="0.12">445</text>
<line x1="423.9" y1="412.15" x2="426.4" y2="412.15" stroke="#666" stroke-width="0.7"/>
<text x="423.59999999999997" y="434.90000000000003" font-size="4.6" text-anchor="end" fill="#333" stroke="#333" stroke-width="0.12">297</text>
<line x1="423.9" y1="433.3" x2="426.4" y2="433.3" stroke="#666" stroke-width="0.7"/>
<text x="423.59999999999997" y="456.05000000000007" font-size="4.6" text-anchor="end" fill="#333" stroke="#333" stroke-width="0.12">148</text>
<line x1="423.9" y1="454.45000000000005" x2="426.4" y2="454.45000000000005" stroke="#666" stroke-width="0.7"/>
<text x="423.59999999999997" y="477.20000000000005" font-size="4.6" text-anchor="end" fill="#333" stroke="#333" stroke-width="0.12">0</text>
<line x1="423.9" y1="475.6" x2="426.4" y2="475.6" stroke="#666" stroke-width="0.7"/>
<text x="413.5" y="432.5" font-size="4.8" text-anchor="middle" fill="#333" transform="rotate(-90 413.5 432.5)" stroke="#333" stroke-width="0.12">Counts</text>
<text x="425.02" y="481.802" font-size="4.6" fill="#3a3a3a" stroke="#3a3a3a" stroke-width="0.12" text-anchor="middle">10<tspan font-size="3.45" dy="-1.38">0</tspan></text>
<line x1="426.4" y1="475.6" x2="426.4" y2="477.20000000000005" stroke="#666" stroke-width="0.7"/>
<text x="458.62" y="481.802" font-size="4.6" fill="#3a3a3a" stroke="#3a3a3a" stroke-width="0.12" text-anchor="middle">10<tspan font-size="3.45" dy="-1.38">1</tspan></text>
<line x1="460" y1="475.6" x2="460" y2="477.20000000000005" stroke="#666" stroke-width="0.7"/>
<text x="493.12" y="481.802" font-size="4.6" fill="#3a3a3a" stroke="#3a3a3a" stroke-width="0.12" text-anchor="middle">10<tspan font-size="3.45" dy="-1.38">2</tspan></text>
<line x1="494.5" y1="475.6" x2="494.5" y2="477.20000000000005" stroke="#666" stroke-width="0.7"/>
<path d="M446.0,475.5 L446.7,474.8 L447.4,474.1 L448.1,473.3 L448.8,473.1 L449.5,471.0 L450.2,468.2 L451.0,469.7 L451.7,469.1 L452.4,468.1 L453.1,466.9 L453.9,465.7 L454.6,464.2 L455.3,464.8 L456.1,464.9 L456.8,459.5 L457.5,464.8 L458.2,464.6 L458.9,458.4 L459.7,462.4 L460.4,462.7 L461.1,459.7 L461.9,461.7 L462.6,463.0 L463.3,462.8 L464.0,461.4 L464.8,459.7 L465.5,459.8 L466.2,459.9 L467.1,457.0 L468.1,452.2 L469.1,452.0 L470.0,449.7 L470.9,449.0 L471.9,444.2 L472.9,446.4 L473.8,441.0 L474.8,441.9 L475.8,440.4 L476.8,439.8 L477.7,440.7 L478.6,442.2 L479.6,445.2 L480.6,445.3 L481.5,447.9 L482.5,447.7 L483.5,451.3 L484.4,448.7 L485.4,454.8 L486.4,457.6 L487.3,455.2 L488.2,460.7 L489.2,464.5 L489.9,465.0 L490.6,467.9 L491.4,468.9 L492.1,471.4 L492.8,472.0 L493.6,472.1 L494.3,474.1 L495.0,474.0 L495.9,473.4 L496.9,475.5 L496.9,475.6 L446.0,475.6 Z" fill="url(#hA)" stroke="#333" stroke-width="0.9" stroke-linejoin="round"/>
<path d="M444.0,475.5 L445.4,472.1 L446.9,468.8 L448.8,457.2 L449.8,451.4 L450.8,445.7 L452.7,432.2 L454.2,424.5 L455.2,423.1 L456.2,421.7 L457.5,422.6 L459.4,432.2 L461.3,443.8 L462.6,449.6 L463.8,455.3 L465.0,460.1 L466.2,464.9 L467.6,468.8 L469.0,472.6 L470.9,475.5" fill="none" stroke="#666" stroke-width="1" stroke-dasharray="1,1" stroke-linejoin="round"/>
<line x1="459.4" y1="428.4" x2="459.4" y2="445.7" stroke="#555" stroke-width="0.95"/>
<line x1="459.4" y1="428.4" x2="517.6" y2="428.4" stroke="#555" stroke-width="0.95"/>
<text x="429.6" y="418.8" font-size="8.6" text-anchor="start" fill="#111" textLength="58.7" lengthAdjust="spacingAndGlyphs" stroke="#111" stroke-width="0.3">Gr1lo M1/70 hi+</text>
<text x="484.4" y="437.2" font-size="8.6" text-anchor="start" fill="#111" textLength="26" lengthAdjust="spacingAndGlyphs" stroke="#111" stroke-width="0.3">Gr1 hi /</text>
<text x="484.4" y="446.8" font-size="8.6" text-anchor="start" fill="#111" textLength="29" lengthAdjust="spacingAndGlyphs" stroke="#111" stroke-width="0.3">M1/70 hi</text>
<line x1="444" y1="420.7" x2="448.8285909021613" y2="428.36893849166796" stroke="#111" stroke-width="1.1"/>
<path d="M450.8,431.5 L446.7,429.1 L450.4,426.8 Z" fill="#111"/>
<line x1="496" y1="449.5" x2="492.07033450440673" y2="456.2075324838574" stroke="#111" stroke-width="1.1"/>
<path d="M490.2,459.4 L490.4,454.7 L494.2,456.9 Z" fill="#111"/>
<line x1="422.7" y1="491.1" x2="504.5" y2="491.1" stroke="#111" stroke-width="2"/>
<path d="M504.0,487.90000000000003 L510.5,491.1 L504.0,494.3 Z" fill="#111"/>
<text x="467.2" y="500.6" font-size="9.3" font-weight="bold" text-anchor="middle" fill="#111" textLength="37.3" lengthAdjust="spacingAndGlyphs" stroke="#111" stroke-width="0.15">Anti-MPO</text>
</svg></body></html>
